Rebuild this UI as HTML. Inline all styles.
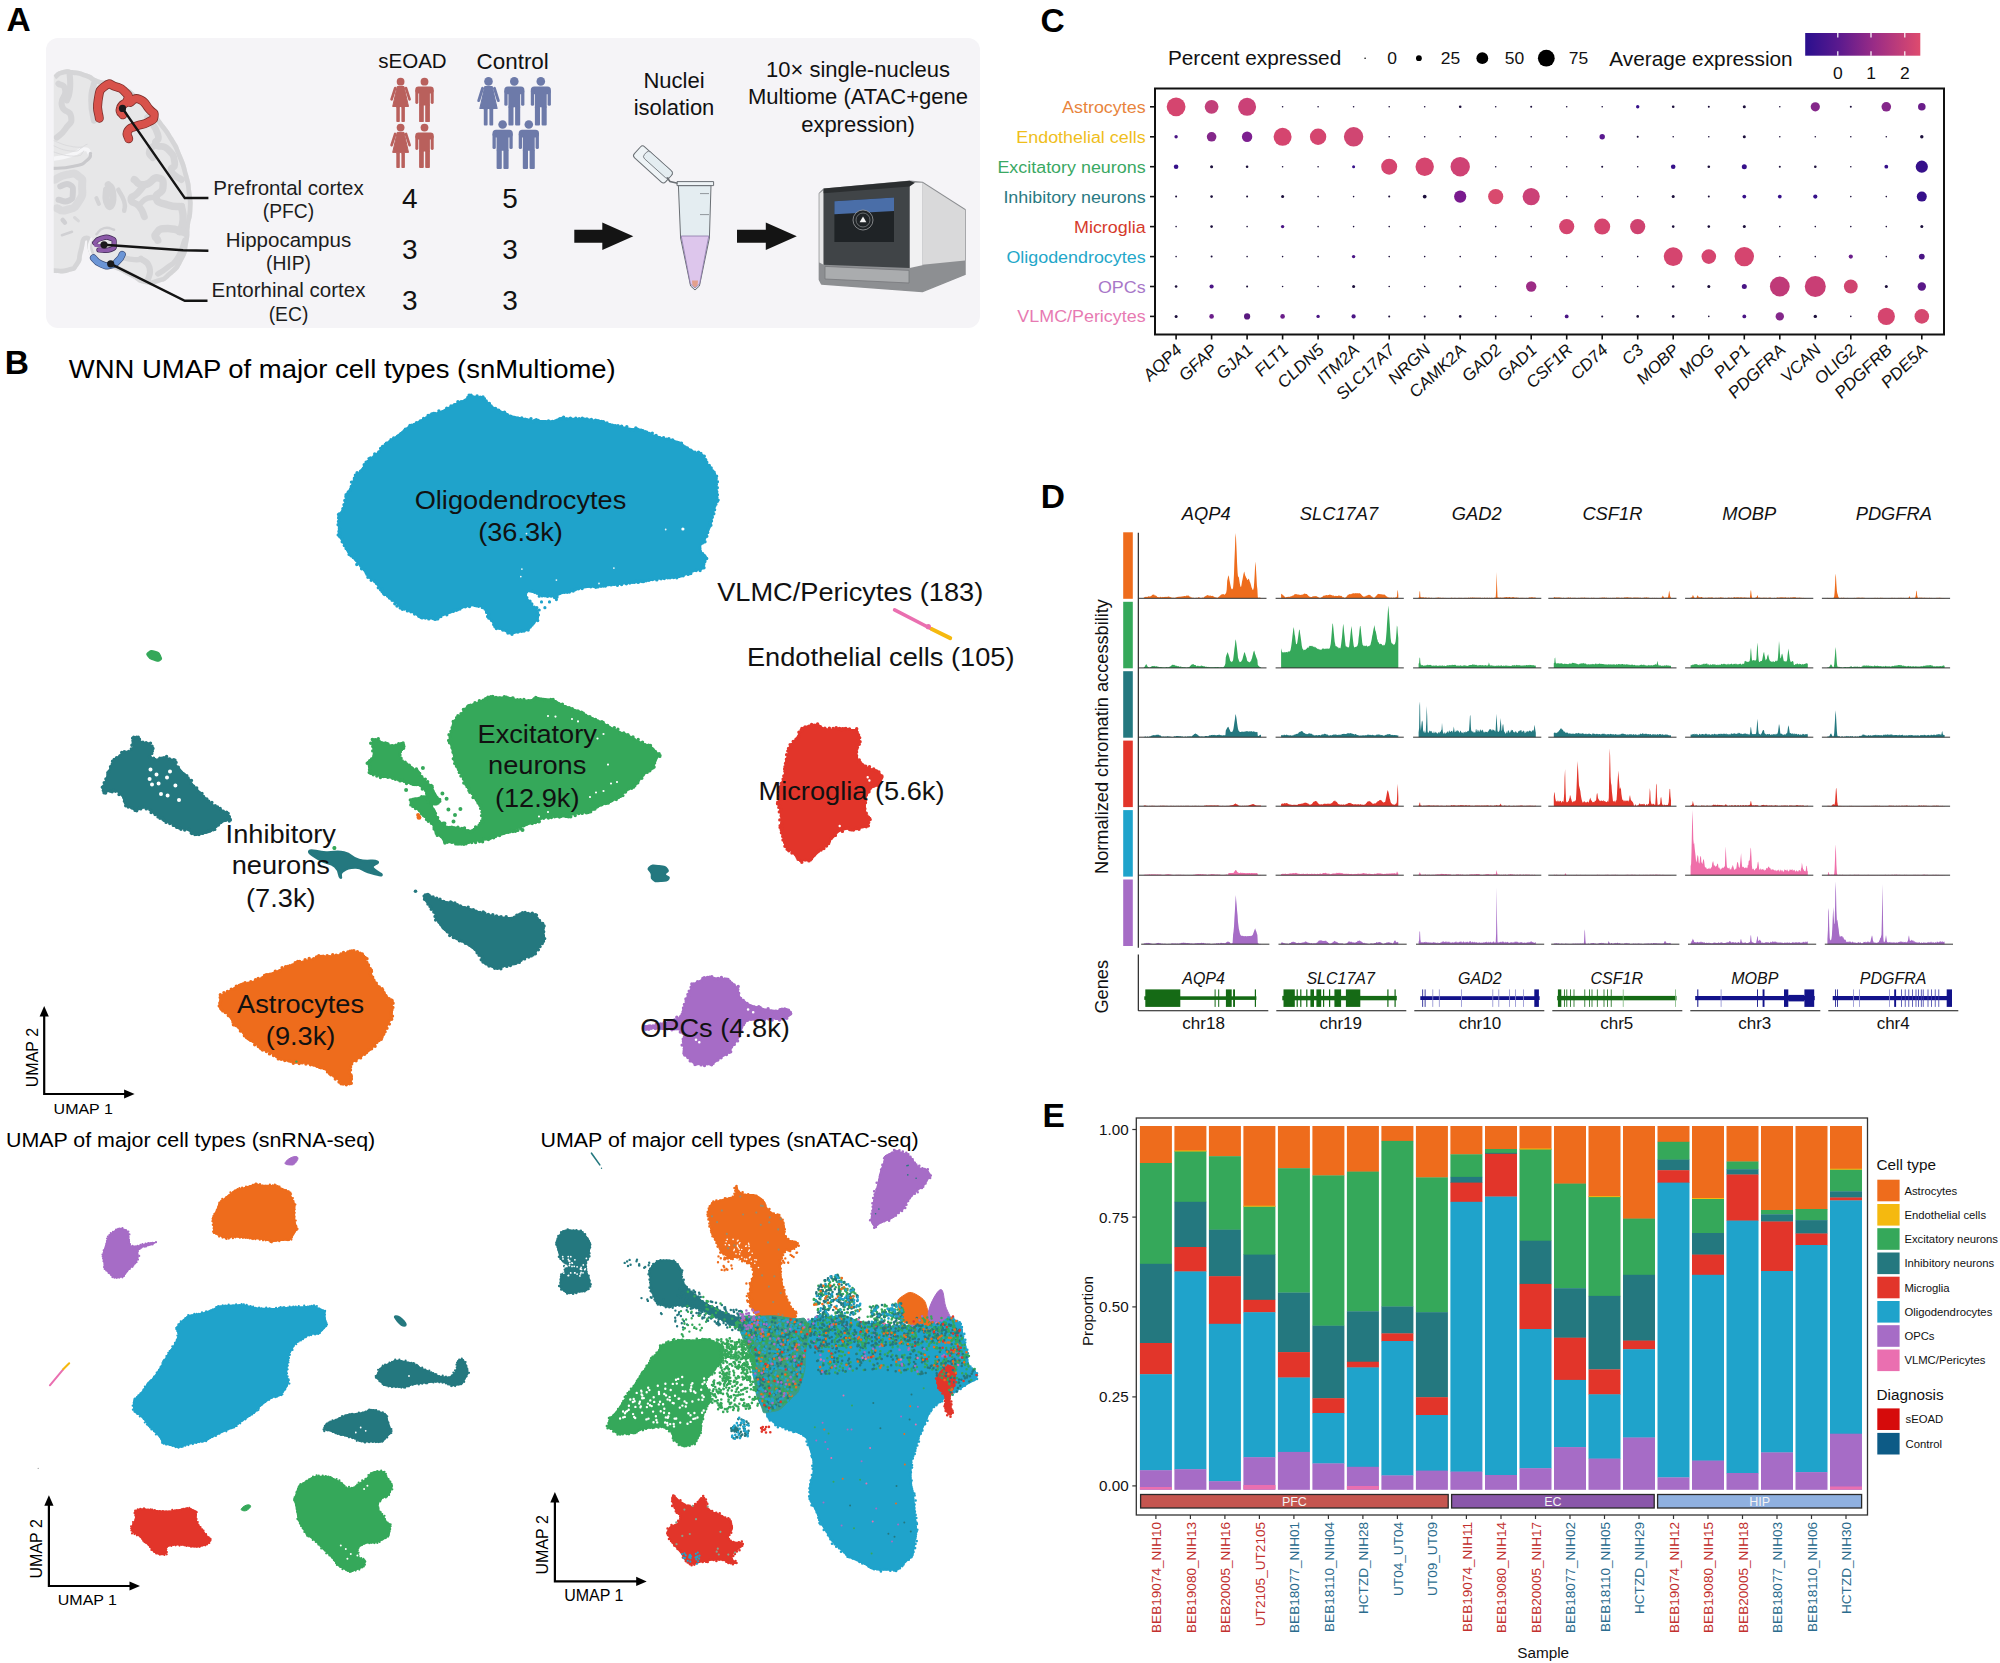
<!DOCTYPE html>
<html><head><meta charset="utf-8"><title>Figure</title>
<style>
html,body{margin:0;padding:0;background:#fff;}
body{width:2000px;height:1663px;overflow:hidden;font-family:"Liberation Sans",sans-serif;}
svg{display:block;font-family:"Liberation Sans",sans-serif;}
</style></head><body>
<svg width="2000" height="1663" viewBox="0 0 2000 1663">
<rect width="2000" height="1663" fill="#fff"/>
<rect x="46" y="38" width="934" height="290" rx="12" fill="#f5f4f7"/><text x="6.4" y="31" font-size="33.5" text-anchor="start" fill="#000" font-weight="bold" font-style="normal" >A</text><clipPath id="brclip"><rect x="53.5" y="60" width="150" height="260"/></clipPath><clipPath id="brshape"><path d="M53.5 75.3C56.3 73.6 55.2 71.9 61.9 70.2C68.6 68.5 65.3 69.1 73.7 70.2C82.1 71.3 78.7 70.5 87.1 73.6C95.6 76.7 91.1 76.9 98.9 79.5C106.8 82 102.3 78.9 110.7 81.1C119.1 83.4 115.2 81.4 124.2 86.2C133.2 91 128.7 88.4 137.6 95.5C146.6 102.5 143.3 98.8 151.1 107.2C159 115.7 153.9 110.6 161.2 120.7C168.5 130.8 166.3 126.3 173 137.5C179.7 148.8 176.4 142 181.4 154.4C186.5 166.7 184.8 161.7 188.1 174.6C191.5 187.5 190.1 181.3 191.5 193.1C192.9 204.9 192.9 198.7 192.4 209.9C191.8 221.2 191.2 215.5 189.8 226.8C188.4 238 190.4 232.4 188.1 243.6C185.9 254.8 188.7 249.8 183.1 260.4C177.5 271.1 179.7 268 171.3 275.6C162.9 283.2 166.8 280.4 157.8 283.2C148.9 286 153.4 286 144.4 284C135.4 282 139.9 281.8 130.9 277.3C121.9 272.8 125.3 273.9 117.4 270.5C109.6 267.2 114.6 269.4 107.3 267.2C100 264.9 101.7 268.9 95.6 263.8C89.4 258.8 91.9 259.9 88.8 252C85.7 244.2 88.3 240.2 86.3 240.2C84.3 240.2 85.5 243.6 82.9 252C80.4 260.4 83.5 258.8 78.7 265.5C74 272.2 77 269.7 68.6 272.2C60.2 274.7 58.5 272.8 53.5 273.1Z"/></clipPath><g clip-path="url(#brclip)"><path d="M53.5 75.3C56.3 73.6 55.2 71.9 61.9 70.2C68.6 68.5 65.3 69.1 73.7 70.2C82.1 71.3 78.7 70.5 87.1 73.6C95.6 76.7 91.1 76.9 98.9 79.5C106.8 82 102.3 78.9 110.7 81.1C119.1 83.4 115.2 81.4 124.2 86.2C133.2 91 128.7 88.4 137.6 95.5C146.6 102.5 143.3 98.8 151.1 107.2C159 115.7 153.9 110.6 161.2 120.7C168.5 130.8 166.3 126.3 173 137.5C179.7 148.8 176.4 142 181.4 154.4C186.5 166.7 184.8 161.7 188.1 174.6C191.5 187.5 190.1 181.3 191.5 193.1C192.9 204.9 192.9 198.7 192.4 209.9C191.8 221.2 191.2 215.5 189.8 226.8C188.4 238 190.4 232.4 188.1 243.6C185.9 254.8 188.7 249.8 183.1 260.4C177.5 271.1 179.7 268 171.3 275.6C162.9 283.2 166.8 280.4 157.8 283.2C148.9 286 153.4 286 144.4 284C135.4 282 139.9 281.8 130.9 277.3C121.9 272.8 125.3 273.9 117.4 270.5C109.6 267.2 114.6 269.4 107.3 267.2C100 264.9 101.7 268.9 95.6 263.8C89.4 258.8 91.9 259.9 88.8 252C85.7 244.2 88.3 240.2 86.3 240.2C84.3 240.2 85.5 243.6 82.9 252C80.4 260.4 83.5 258.8 78.7 265.5C74 272.2 77 269.7 68.6 272.2C60.2 274.7 58.5 272.8 53.5 273.1Z" fill="#e7e7e8"/><g clip-path="url(#brshape)"><path d="M53.5 75.3C56.3 73.6 55.2 71.9 61.9 70.2C68.6 68.5 65.3 69.1 73.7 70.2C82.1 71.3 78.7 70.5 87.1 73.6C95.6 76.7 91.1 76.9 98.9 79.5C106.8 82 102.3 78.9 110.7 81.1C119.1 83.4 115.2 81.4 124.2 86.2C133.2 91 128.7 88.4 137.6 95.5C146.6 102.5 143.3 98.8 151.1 107.2C159 115.7 153.9 110.6 161.2 120.7C168.5 130.8 166.3 126.3 173 137.5C179.7 148.8 176.4 142 181.4 154.4C186.5 166.7 184.8 161.7 188.1 174.6C191.5 187.5 190.1 181.3 191.5 193.1C192.9 204.9 192.9 198.7 192.4 209.9C191.8 221.2 191.2 215.5 189.8 226.8C188.4 238 190.4 232.4 188.1 243.6C185.9 254.8 188.7 249.8 183.1 260.4C177.5 271.1 179.7 268 171.3 275.6C162.9 283.2 166.8 280.4 157.8 283.2C148.9 286 153.4 286 144.4 284C135.4 282 139.9 281.8 130.9 277.3C121.9 272.8 125.3 273.9 117.4 270.5C109.6 267.2 114.6 269.4 107.3 267.2C100 264.9 101.7 268.9 95.6 263.8C89.4 258.8 91.9 259.9 88.8 252C85.7 244.2 88.3 240.2 86.3 240.2C84.3 240.2 85.5 243.6 82.9 252C80.4 260.4 83.5 258.8 78.7 265.5C74 272.2 77 269.7 68.6 272.2C60.2 274.7 58.5 272.8 53.5 273.1" fill="none" stroke="#d5d5d7" stroke-width="9.5"/><path d="M69.5 71.9C69.6 77.5 70.8 79.2 70 88.7C69.1 98.3 67.9 96.6 66.9 100.5" fill="none" stroke="#d5d5d7" stroke-width="6.1" stroke-linecap="round" stroke-linejoin="round"/><path d="M58.5 83.7C60.8 85.9 64.1 83.1 65.3 90.4C66.4 97.7 59.9 96.9 61.9 105.6C63.8 114.3 70 108.6 71.1 116.5C72.3 124.4 70 122.1 65.3 129.1C60.5 136.1 59.6 134.7 56.8 137.5" fill="none" stroke="#d5d5d7" stroke-width="6.1" stroke-linecap="round" stroke-linejoin="round"/><path d="M93.9 83.7C93 89.3 91.3 88.2 91.3 100.5C91.3 112.9 93 114 93.9 120.7" fill="none" stroke="#d5d5d7" stroke-width="6.1" stroke-linecap="round" stroke-linejoin="round"/><path d="M147.7 117.3C151.1 123 155 125.2 157.8 134.2C160.7 143.2 152.8 139.2 156.2 144.3C159.5 149.3 161.8 143.2 167.9 149.3C174.1 155.5 173.6 155.5 174.7 162.8C175.8 170.1 169.1 165.6 171.3 171.2C173.6 176.8 178 176.8 181.4 179.6" fill="none" stroke="#d5d5d7" stroke-width="6.8" stroke-linecap="round" stroke-linejoin="round"/><path d="M156.2 144.3C153.9 146.5 150.5 146.5 149.4 151C148.3 155.5 151.7 155.5 152.8 157.7" fill="none" stroke="#d5d5d7" stroke-width="6.8" stroke-linecap="round" stroke-linejoin="round"/><path d="M134.3 179.6C137.6 181.3 136.5 185.2 144.4 184.7C152.2 184.1 151.7 176.8 157.8 177.9C164 179.1 163.5 181.3 162.9 188C162.3 194.8 154.5 192.5 156.2 198.1C157.8 203.8 159.5 202.1 167.9 204.9C176.4 207.7 176.9 206 181.4 206.6" fill="none" stroke="#d5d5d7" stroke-width="7.4" stroke-linecap="round" stroke-linejoin="round"/><path d="M181.4 206.6C182 211.1 183.7 211.6 183.1 220C182.5 228.5 180.9 227.9 179.7 231.8" fill="none" stroke="#d5d5d7" stroke-width="7.4" stroke-linecap="round" stroke-linejoin="round"/><path d="M144.4 184.7C142.1 187.5 142.1 188 137.6 193.1C133.2 198.1 130.3 195.3 130.9 199.8C131.5 204.3 134.8 201 139.3 206.6C143.8 212.2 142.7 213.3 144.4 216.7" fill="none" stroke="#d5d5d7" stroke-width="6.8" stroke-linecap="round" stroke-linejoin="round"/><path d="M156.2 198.1C153.4 198.1 152.8 196.5 147.7 198.1C142.7 199.8 143.3 201.5 141 203.2" fill="none" stroke="#d5d5d7" stroke-width="5.4" stroke-linecap="round" stroke-linejoin="round"/><path d="M186.5 233.5C180.3 231.8 178 228.5 167.9 228.5C157.8 228.5 159.5 229.6 156.2 233.5C152.8 237.4 157.3 238 157.8 240.2" fill="none" stroke="#d5d5d7" stroke-width="7.4" stroke-linecap="round" stroke-linejoin="round"/><path d="M184.8 240.2C182.5 245.8 183.7 248.1 178 257.1C172.4 266 174.7 261.6 167.9 267.2C161.2 272.8 161.2 271.7 157.8 273.9" fill="none" stroke="#d5d5d7" stroke-width="5.4" stroke-linecap="round" stroke-linejoin="round"/><path d="M141 258.8C143.8 261.6 147.2 259.9 149.4 267.2C151.7 274.5 148.3 276.2 147.7 280.6" fill="none" stroke="#d5d5d7" stroke-width="6.1" stroke-linecap="round" stroke-linejoin="round"/><path d="M120.8 257.1C125.3 257.9 127.5 259 134.3 259.6C141 260.2 138.8 259 141 258.8" fill="none" stroke="#d5d5d7" stroke-width="5.4" stroke-linecap="round" stroke-linejoin="round"/><path d="M50.1 159.4C56.8 158 59.1 158.6 70.3 155.2C81.5 151.9 77.3 149.9 83.8 149.3C90.2 148.8 87.7 152.1 89.7 153.5" fill="none" stroke="#f6f6f8" stroke-width="4.2" stroke-linecap="round" stroke-linejoin="round"/><path d="M50.1 168.7C58 167.8 61.3 169 73.7 166.2C86 163.4 81.5 164.5 87.1 160.3C92.7 156.1 89.4 155.8 90.5 153.5" fill="none" stroke="#c9c9cc" stroke-width="3.2" stroke-linecap="round" stroke-linejoin="round"/><path d="M50.1 144.3C56.8 146.5 59.6 149.9 70.3 151C81 152.1 78.2 148.8 82.1 147.6" fill="none" stroke="#d8d8da" stroke-width="0.8" stroke-linecap="round" stroke-linejoin="round"/><path d="M50.1 139.2C58 141.8 61.3 145.1 73.7 146.8C86 148.5 82.6 145.1 87.1 144.3" fill="none" stroke="#d8d8da" stroke-width="0.8" stroke-linecap="round" stroke-linejoin="round"/><path d="M50.1 151C58 152.7 62.4 156.1 73.7 156.1C84.9 156.1 80.4 152.7 83.8 151" fill="none" stroke="#d8d8da" stroke-width="0.8" stroke-linecap="round" stroke-linejoin="round"/><path d="M55.2 179.6C59.1 177.9 59.1 175.7 66.9 174.6C74.8 173.5 73.7 172.3 78.7 176.3C83.8 180.2 82.1 177.9 82.1 186.4C82.1 194.8 83.8 193.7 78.7 201.5C73.7 209.4 74.2 207.7 66.9 209.9C59.6 212.2 60.2 208.8 56.8 208.2" fill="none" stroke="#dadadc" stroke-width="8" stroke-linecap="round" stroke-linejoin="round"/><path d="M60.2 186.4C63.3 185.8 65.3 182.4 69.5 184.7C73.7 186.9 73.1 187.8 72.8 193.1C72.5 198.4 73.4 198.4 68.6 200.7C63.8 202.9 61.9 200.1 58.5 199.8" fill="none" stroke="#d0d0d3" stroke-width="6" stroke-linecap="round" stroke-linejoin="round"/><path d="M108.2 184.7C109.6 186.9 111.3 184.7 112.4 191.4C113.5 198.1 113.5 201.5 111.5 204.9C109.6 208.2 108.2 206.6 106.5 201.5C104.8 196.5 106.5 193.7 106.5 189.7" fill="none" stroke="#d4d4d6" stroke-width="7" stroke-linecap="round" stroke-linejoin="round"/><path d="M118.3 189.7C120.2 193.7 122.2 194.5 124.2 201.5C126.1 208.5 124.2 207.7 124.2 210.8" fill="none" stroke="#d4d4d6" stroke-width="4.5" stroke-linecap="round" stroke-linejoin="round"/><path d="M96.4 198.1 L98.9 204" fill="none" stroke="#d4d4d6" stroke-width="4" stroke-linecap="round" stroke-linejoin="round"/><path d="M62.7 220 L64.9 222.6" fill="none" stroke="#d0d0d3" stroke-width="4.5" stroke-linecap="round" stroke-linejoin="round"/><path d="M61.9 235.2 L72 231.8" fill="none" stroke="#d0d0d3" stroke-width="2.5" stroke-linecap="round" stroke-linejoin="round"/><path d="M74.5 217.5 L78.4 220.9" fill="none" stroke="#d8d8da" stroke-width="3" stroke-linecap="round" stroke-linejoin="round"/><path d="M96.4 234.3C98.9 232.3 98.1 229.6 104 228.1C109.9 226.6 110.7 229.2 114.1 229.8" fill="none" stroke="#d0d0d3" stroke-width="2.4" stroke-linecap="round" stroke-linejoin="round"/><path d="M91.3 238.6C90.6 242.5 87.8 243 89.2 250.3C90.6 257.6 93.4 257.1 95.6 260.4" fill="none" stroke="#f4f4f6" stroke-width="2.4" stroke-linecap="round" stroke-linejoin="round"/></g></g><path d="M99.3 118.2C98.9 112.3 96.2 111.2 98.1 100.5C99.9 89.8 98.9 90.8 104.8 86.2C110.7 81.6 109 84.7 115.8 86.7C122.5 88.7 121.1 87.8 125 92.1C128.9 96.4 129.1 94.3 127.5 99.7C126 105 122 103 120.5 108.1C118.9 113.1 122 112.6 122.8 114.8" fill="none" stroke="#7c2f2b" stroke-width="9" stroke-linecap="round" stroke-linejoin="round"/><path d="M130.1 102.5C133.2 101.4 132.9 96.9 139.3 99.2C145.8 101.4 144.5 103.6 149.4 109.3C154.4 114.9 154.7 111.6 154.1 116C153.6 120.4 153.8 119 147.7 122.4C141.7 125.8 142.6 123.2 136 126.1C129.3 129 130.3 126.9 127.9 131.1C125.5 135.4 128.4 136.2 128.7 138.7" fill="none" stroke="#7c2f2b" stroke-width="9" stroke-linecap="round" stroke-linejoin="round"/><path d="M99.3 118.2C98.9 112.3 96.2 111.2 98.1 100.5C99.9 89.8 98.9 90.8 104.8 86.2C110.7 81.6 109 84.7 115.8 86.7C122.5 88.7 121.1 87.8 125 92.1C128.9 96.4 129.1 94.3 127.5 99.7C126 105 122 103 120.5 108.1C118.9 113.1 122 112.6 122.8 114.8" fill="none" stroke="#d8524b" stroke-width="7.4" stroke-linecap="round" stroke-linejoin="round"/><path d="M130.1 102.5C133.2 101.4 132.9 96.9 139.3 99.2C145.8 101.4 144.5 103.6 149.4 109.3C154.4 114.9 154.7 111.6 154.1 116C153.6 120.4 153.8 119 147.7 122.4C141.7 125.8 142.6 123.2 136 126.1C129.3 129 130.3 126.9 127.9 131.1C125.5 135.4 128.4 136.2 128.7 138.7" fill="none" stroke="#d8524b" stroke-width="7.4" stroke-linecap="round" stroke-linejoin="round"/><path d="M94.7 242.8C96.7 241.4 95.3 240.1 100.6 238.6C105.9 237 106.2 236.5 110.7 238.2C115.2 239.9 114.1 239.8 114.1 243.6C114.1 247.4 115.8 247.4 110.7 249.5C105.7 251.6 102.9 249.8 98.9 250" fill="none" stroke="#3c2850" stroke-width="5.2" stroke-linecap="round" stroke-linejoin="round"/><path d="M94.7 242.8C96.7 241.4 95.3 240.1 100.6 238.6C105.9 237 106.2 236.5 110.7 238.2C115.2 239.9 114.1 239.8 114.1 243.6C114.1 247.4 115.8 247.4 110.7 249.5C105.7 251.6 102.9 249.8 98.9 250" fill="none" stroke="#8c5aa8" stroke-width="3.8" stroke-linecap="round" stroke-linejoin="round"/><path d="M95.6 245.3 L104 246.1" fill="none" stroke="#8c5aa8" stroke-width="3.4" stroke-linecap="round" stroke-linejoin="round"/><path d="M93.5 257.9C95.9 259.9 94.9 261.4 100.6 263.8C106.3 266.2 104.8 266.3 110.7 265.2C116.6 264 114.5 264 118.3 260.4C122.1 256.9 120.9 256.5 122.2 254.5" fill="none" stroke="#3c4f7a" stroke-width="7.2" stroke-linecap="round" stroke-linejoin="round"/><path d="M93.5 257.9C95.9 259.9 94.9 261.4 100.6 263.8C106.3 266.2 104.8 266.3 110.7 265.2C116.6 264 114.5 264 118.3 260.4C122.1 256.9 120.9 256.5 122.2 254.5" fill="none" stroke="#6b95d6" stroke-width="5.8" stroke-linecap="round" stroke-linejoin="round"/><path d="M122.5 108.4L184.8 198.1L208.4 198.1" fill="none" stroke="#141414" stroke-width="2.5" stroke-linejoin="miter"/><path d="M104 244.8L183.1 250.3L208.4 250.7" fill="none" stroke="#141414" stroke-width="2.5" stroke-linejoin="miter"/><path d="M110.7 263.8L184.8 300.8L207.5 300.8" fill="none" stroke="#141414" stroke-width="2.5" stroke-linejoin="miter"/><circle cx="122.5" cy="108.4" r="3.6" fill="#1a1a1c"/><circle cx="104" cy="244.8" r="3.6" fill="#1a1a1c"/><circle cx="110.7" cy="263.8" r="3.6" fill="#1a1a1c"/><text x="288.5" y="194.8" font-size="20.5" text-anchor="middle" fill="#1c1c1c" font-weight="normal" font-style="normal" >Prefrontal cortex</text><text x="288.5" y="217.9" font-size="19.3" text-anchor="middle" fill="#1c1c1c" font-weight="normal" font-style="normal" >(PFC)</text><text x="288.5" y="246.8" font-size="20.5" text-anchor="middle" fill="#1c1c1c" font-weight="normal" font-style="normal" >Hippocampus</text><text x="288.5" y="269.9" font-size="19.3" text-anchor="middle" fill="#1c1c1c" font-weight="normal" font-style="normal" >(HIP)</text><text x="288.5" y="297.3" font-size="20.5" text-anchor="middle" fill="#1c1c1c" font-weight="normal" font-style="normal" >Entorhinal cortex</text><text x="288.5" y="320.9" font-size="19.3" text-anchor="middle" fill="#1c1c1c" font-weight="normal" font-style="normal" >(EC)</text><text x="412.5" y="67.9" font-size="20.5" text-anchor="middle" fill="#111" font-weight="normal" font-style="normal" >sEOAD</text><text x="512.7" y="68.6" font-size="22.4" text-anchor="middle" fill="#111" font-weight="normal" font-style="normal" >Control</text><text x="409.7" y="208" font-size="28" text-anchor="middle" fill="#111" font-weight="normal" font-style="normal" >4</text><text x="510" y="208" font-size="28" text-anchor="middle" fill="#111" font-weight="normal" font-style="normal" >5</text><text x="409.7" y="259" font-size="28" text-anchor="middle" fill="#111" font-weight="normal" font-style="normal" >3</text><text x="510" y="259" font-size="28" text-anchor="middle" fill="#111" font-weight="normal" font-style="normal" >3</text><text x="409.7" y="310" font-size="28" text-anchor="middle" fill="#111" font-weight="normal" font-style="normal" >3</text><text x="510" y="310" font-size="28" text-anchor="middle" fill="#111" font-weight="normal" font-style="normal" >3</text><g fill="#b9605c"><circle cx="400.6" cy="81.7" r="3.9"/><path d="M397.2 86.5L404 86.5L408.5 106.5L392.7 106.5Z" stroke="#b9605c" stroke-width="1" stroke-linejoin="round"/><path d="M395.2 88.1L391.6 99.3" stroke="#b9605c" stroke-width="2.7" stroke-linecap="round" fill="none"/><path d="M406 88.1L409.6 99.3" stroke="#b9605c" stroke-width="2.7" stroke-linecap="round" fill="none"/><rect x="396.3" y="106.5" width="3.5" height="15.6" rx="0.8"/><rect x="401.4" y="106.5" width="3.5" height="15.6" rx="0.8"/></g><g fill="#b9605c"><circle cx="424.5" cy="81.7" r="3.9"/><rect x="415.3" y="86.5" width="18.4" height="7" rx="3.2"/><rect x="415.3" y="89.5" width="3" height="14.5" rx="1.4"/><rect x="430.7" y="89.5" width="3" height="14.5" rx="1.4"/><rect x="419.1" y="87" width="10.8" height="18.5" rx="0.5"/><rect x="419.1" y="104.5" width="4.7" height="17.6" rx="0.9"/><rect x="425.2" y="104.5" width="4.7" height="17.6" rx="0.9"/></g><g fill="#b9605c"><circle cx="400.6" cy="127.6" r="3.9"/><path d="M397.2 132.4L404 132.4L408.5 152.4L392.7 152.4Z" stroke="#b9605c" stroke-width="1" stroke-linejoin="round"/><path d="M395.2 134L391.6 145.2" stroke="#b9605c" stroke-width="2.7" stroke-linecap="round" fill="none"/><path d="M406 134L409.6 145.2" stroke="#b9605c" stroke-width="2.7" stroke-linecap="round" fill="none"/><rect x="396.3" y="152.4" width="3.5" height="15.6" rx="0.8"/><rect x="401.4" y="152.4" width="3.5" height="15.6" rx="0.8"/></g><g fill="#b9605c"><circle cx="424.5" cy="127.6" r="3.9"/><rect x="415.3" y="132.4" width="18.4" height="7" rx="3.2"/><rect x="415.3" y="135.4" width="3" height="14.5" rx="1.4"/><rect x="430.7" y="135.4" width="3" height="14.5" rx="1.4"/><rect x="419.1" y="132.9" width="10.8" height="18.5" rx="0.5"/><rect x="419.1" y="150.4" width="4.7" height="17.6" rx="0.9"/><rect x="425.2" y="150.4" width="4.7" height="17.6" rx="0.9"/></g><g fill="#6d7aa9"><circle cx="488.5" cy="81.4" r="4.3"/><path d="M484.8 86.6L492.2 86.6L497.1 108.4L479.9 108.4Z" stroke="#6d7aa9" stroke-width="1.1" stroke-linejoin="round"/><path d="M482.6 88.3L478.7 100.6" stroke="#6d7aa9" stroke-width="2.9" stroke-linecap="round" fill="none"/><path d="M494.4 88.3L498.3 100.6" stroke="#6d7aa9" stroke-width="2.9" stroke-linecap="round" fill="none"/><rect x="483.8" y="108.4" width="3.8" height="17" rx="0.9"/><rect x="489.4" y="108.4" width="3.8" height="17" rx="0.9"/></g><g fill="#6d7aa9"><circle cx="514.3" cy="81.4" r="4.3"/><rect x="504.3" y="86.6" width="20.1" height="7.6" rx="3.5"/><rect x="504.3" y="89.9" width="3.3" height="15.8" rx="1.5"/><rect x="521.1" y="89.9" width="3.3" height="15.8" rx="1.5"/><rect x="508.4" y="87.1" width="11.8" height="20.2" rx="0.5"/><rect x="508.4" y="106.2" width="5.1" height="19.2" rx="1"/><rect x="515.1" y="106.2" width="5.1" height="19.2" rx="1"/></g><g fill="#6d7aa9"><circle cx="540.8" cy="81.4" r="4.3"/><rect x="530.8" y="86.6" width="20.1" height="7.6" rx="3.5"/><rect x="530.8" y="89.9" width="3.3" height="15.8" rx="1.5"/><rect x="547.6" y="89.9" width="3.3" height="15.8" rx="1.5"/><rect x="534.9" y="87.1" width="11.8" height="20.2" rx="0.5"/><rect x="534.9" y="106.2" width="5.1" height="19.2" rx="1"/><rect x="541.6" y="106.2" width="5.1" height="19.2" rx="1"/></g><g fill="#6d7aa9"><circle cx="502.6" cy="124.5" r="4.3"/><rect x="492.5" y="129.8" width="20.3" height="7.7" rx="3.5"/><rect x="492.5" y="133.1" width="3.3" height="16" rx="1.5"/><rect x="509.4" y="133.1" width="3.3" height="16" rx="1.5"/><rect x="496.6" y="130.3" width="11.9" height="20.4" rx="0.6"/><rect x="496.6" y="149.6" width="5.2" height="19.4" rx="1"/><rect x="503.4" y="149.6" width="5.2" height="19.4" rx="1"/></g><g fill="#6d7aa9"><circle cx="528.8" cy="124.5" r="4.3"/><rect x="518.7" y="129.8" width="20.3" height="7.7" rx="3.5"/><rect x="518.7" y="133.1" width="3.3" height="16" rx="1.5"/><rect x="535.6" y="133.1" width="3.3" height="16" rx="1.5"/><rect x="522.8" y="130.3" width="11.9" height="20.4" rx="0.6"/><rect x="522.8" y="149.6" width="5.2" height="19.4" rx="1"/><rect x="529.6" y="149.6" width="5.2" height="19.4" rx="1"/></g><path d="M574.3 229.8L602.3 229.8L602.3 222.6L633.3 236.3L602.3 250.1L602.3 242.8L574.3 242.8Z" fill="#141414"/><path d="M737 229.8L765.8 229.8L765.8 222.6L796.8 236.3L765.8 250.1L765.8 242.8L737 242.8Z" fill="#141414"/><text x="674" y="87.9" font-size="22" text-anchor="middle" fill="#111" font-weight="normal" font-style="normal" >Nuclei</text><text x="674" y="115.4" font-size="22" text-anchor="middle" fill="#111" font-weight="normal" font-style="normal" >isolation</text><text x="858" y="76.7" font-size="22" text-anchor="middle" fill="#111" font-weight="normal" font-style="normal" >10× single-nucleus</text><text x="858" y="104.2" font-size="22" text-anchor="middle" fill="#111" font-weight="normal" font-style="normal" >Multiome (ATAC+gene</text><text x="858" y="131.7" font-size="22" text-anchor="middle" fill="#111" font-weight="normal" font-style="normal" >expression)</text><path d="M678.4 185.6L711 185.6L709.4 238L699.4 286L695 290L690.6 286L680.6 238Z" fill="#e4edf1" stroke="#6a6f74" stroke-width="1" stroke-linejoin="round"/><path d="M681.2 236L708.8 236L699.6 284L695 288L690.4 284Z" fill="#ddc6ec" stroke="#8a76a8" stroke-width="0.8" stroke-linejoin="round"/><path d="M692 280.4L698 280.4L697.6 285L695 287.6L692.4 285Z" fill="#e2a08c"/><path d="M677 181.6L713.6 181.6L713.6 185.6L677 185.6Z" fill="#eef3f6" stroke="#6a6f74" stroke-width="1"/><path d="M700 193.6L709 193.6" stroke="#7a7f84" stroke-width="0.8"/><path d="M700 214.6L709 214.6" stroke="#7a7f84" stroke-width="0.8"/><g transform="translate(653 164.4) rotate(42)"><rect x="-21" y="-7.5" width="42" height="15" rx="3" fill="#eef3f6" stroke="#6a6f74" stroke-width="1"/><rect x="-13" y="-7.5" width="34" height="9" rx="3" fill="#e4edf1" stroke="#6a6f74" stroke-width="0.8"/></g><path d="M667 177.6L670 181.6L677.6 183.2" fill="none" stroke="#6a6f74" stroke-width="1.6"/><path d="M819.4 193.6L823.6 189.2L910 181.2L922.4 182.4L965 209.6L965 274.4L922.4 291.6L821.6 284L819.4 279.6Z" fill="#8d8f92" stroke="#8d8f92" stroke-width="1.5" stroke-linejoin="round"/><path d="M922.4 182.8L965 210L965 260.4L922.4 264.8Z" fill="#d9d9da" /><path d="M909.6 182.4L922.4 182.8L922.4 265.2L909.6 268Z" fill="#f1f1f2" /><path d="M819.4 193.6L823.6 190L823.6 264.8L819.4 262.4Z" fill="#e6e6e7" /><path d="M823.6 190L909.6 183.6L909.6 268L823.6 264.8Z" fill="#404447" /><path d="M823.6 188.4L909.6 180.8L915 182.8L909.6 186.4L823.6 193.2Z" fill="#2b2e30" /><path d="M825 266.4L909 270.4L909 283L825 279Z" fill="#aaacae" stroke="#77797c" stroke-width="0.8"/><path d="M834.4 201.2L894 197.6L894 242L834.4 242Z" fill="#1f2326" /><path d="M834.4 201.2L894 197.6L894 211L834.4 214.2Z" fill="#4a6ea8" /><circle cx="863" cy="220" r="10" fill="#1f2326" stroke="#9a9da0" stroke-width="0.8"/><circle cx="863" cy="220" r="7" fill="none" stroke="#9a9da0" stroke-width="0.6"/><path d="M863 216.6l3.4 5.6h-6.8z" fill="#f2f2f2"/>
<text x="4.8" y="374.2" font-size="33.5" text-anchor="start" fill="#000" font-weight="bold" font-style="normal" >B</text><text transform="translate(68.8 368.8) scale(1 0.935)" y="9.8" font-size="27.45" text-anchor="start" fill="#000" font-weight="normal" font-style="normal" >WNN UMAP of major cell types (snMultiome)</text><path d="M477.1 396.1C488.6 398.4 481.7 400.7 495.5 407.6C509.3 414.5 500.9 412.6 518.5 416.8C536.1 421 529.2 419.9 548.4 420.2C567.6 420.6 551.5 416 576 417.9C600.5 419.9 595.2 420.2 622 426C648.8 431.7 633.5 427.5 656.5 435.2C679.5 442.9 673.4 439 691 449C708.6 459 700.6 452.1 709.4 465.1C718.2 478.1 715.9 472 717.4 488.1C719 504.2 717.4 497.3 714 513.4C710.5 529.5 711.3 524.9 707.1 536.4C702.9 547.9 701.7 539.5 701.3 547.9C701 556.3 709.4 553.3 705.9 561.7C702.5 570.1 707.5 567.1 691 573.2C674.5 579.3 679.5 576.3 656.5 580.1C633.5 583.9 645 582 622 584.7C599 587.4 606.7 585.2 587.5 588.1C568.3 591.1 576.8 590.4 564.5 593.4C552.2 596.5 561.4 597.6 550.7 597.3C540 597.1 540.3 593.7 532.3 592.7C524.2 591.7 526.5 590.5 526.5 594.4C526.5 598.2 528.5 598.3 532.3 604.2C536.1 610.2 537.3 605.8 538 612.3C538.8 618.8 541.1 616.9 534.6 623.8C528.1 630.7 529.2 630.7 518.5 633C507.8 635.3 511.6 634.5 502.4 630.7C493.2 626.9 497.8 629.2 490.9 621.5C484 613.8 490.1 612.3 481.7 607.7C473.3 603.1 477.1 605.4 465.6 607.7C454.1 610 459.5 610.8 447.2 614.6C434.9 618.4 441.1 620 428.8 619.2C416.5 618.4 422.7 618.4 410.4 612.3C398.1 606.2 403.5 610 392 600.8C380.5 591.6 387.4 597 375.9 584.7C364.4 572.4 368.2 577 357.5 564C346.8 551 350.2 558.6 343.7 545.6C337.2 532.6 337.9 538.7 337.9 524.9C337.9 511.1 339.5 517.2 343.7 504.2C347.9 491.2 344.5 498.1 350.6 485.8C356.7 473.5 352.9 478.9 362.1 467.4C371.3 455.9 366.7 462 378.2 451.3C389.7 440.6 382.8 445.5 396.6 435.2C410.4 424.8 404.3 428.7 419.6 420.2C434.9 411.8 428.8 416.4 442.6 409.9C456.4 403.4 449.5 405.3 461 400.7C472.5 396.1 465.6 393.8 477.1 396.1Z" fill="#1fa3cb" /><path d="M477.1 396h0M480.2 397.2h0M483 397h0M484.4 398.6h0M484 400.6h0M486.2 401h0M486.9 402.7h0M489.4 403.4h0M491.1 406h0M495.5 408.5h0M498.7 410.1h0M500.4 412.1h0M501.7 412.4h0M504.5 412.3h0M504.5 413.7h0M505.8 413.9h0M507.4 414.8h0M508.8 416.4h0M510.6 416.3h0M514.3 417.4h0M518 418.2h0M521.8 418h0M525.2 419.3h0M527 419.8h0M529.5 419.9h0M531 418.8h0M531.9 421.3h0M533.4 422.1h0M534.5 420.4h0M536.3 419.6h0M538.3 420.5h0M541 422h0M544.3 421.6h0M548.5 421h0M552.6 421.4h0M555.4 420.9h0M557.1 420.3h0M558.9 419.5h0M559.8 418.8h0M560.7 418.8h0M561.3 419.1h0M562.4 418.3h0M563.6 417.3h0M566.5 419h0M570.4 418.3h0M575.8 418.2h0M579.2 418.6h0M582.3 418.3h0M584.6 419.2h0M586.9 418.9h0M588.8 420h0M591.4 419.5h0M592.3 420.8h0M594.7 420.7h0M595.6 420.1h0M597.7 420.7h0M598.7 420.9h0M600.4 421.7h0M601.7 421.5h0M603.4 421.8h0M605.2 423.1h0M607 423h0M609.9 424.6h0M612.4 425.1h0M615.2 425.8h0M618 425.7h0M621.6 426.1h0M626.8 426.6h0M630.1 429.6h0M633.3 429.8h0M635.8 428h0M637.4 429.3h0M639 429.9h0M639.4 430.3h0M640.8 430.3h0M641.6 430.4h0M642.9 430.7h0M643.6 431.5h0M645.2 431.7h0M646.8 432.1h0M649.3 433.5h0M652.3 433.1h0M656.1 435.5h0M659.6 437.8h0M663.6 437.6h0M666.5 439.2h0M668.9 438.7h0M671.1 440.4h0M672.6 439.9h0M674.4 441.4h0M675.5 442.3h0M676.9 442.2h0M678.4 442.6h0M679.8 443.2h0M681.5 443.3h0M683 445.8h0M685 446.9h0M687.3 448h0M690.9 450.1h0M695 452.2h0M698.5 452.3h0M700.9 453.5h0M701.8 455.1h0M702.7 455.9h0M704.3 456.2h0M703.8 457.8h0M703.5 459h0M705.7 459.7h0M706.8 462.2h0M709.3 465.5h0M711.2 468h0M712.7 470.9h0M714.1 472.3h0M714.5 473.9h0M714.3 475.8h0M716.6 476.3h0M715.6 477.5h0M716.2 478.8h0M717.4 481.7h0M716.4 484.5h0M717.3 487.8h0M716.8 491.7h0M717.4 494.7h0M716.9 497.4h0M716.9 498.4h0M718.1 500.1h0M717.4 501.2h0M715.5 502.9h0M715.9 504.2h0M714.7 506.3h0M714.6 509.8h0M713.8 513.8h0M712.3 517.3h0M711.5 521.1h0M710.2 522.6h0M710.9 525.3h0M709.9 525.9h0M708.9 527.4h0M708.4 528.6h0M707.7 530.5h0M707.7 532.6h0M706.8 536.3h0M705 541.7h0M703.2 542.3h0M702.4 543h0M700.7 543.8h0M699.7 548.2h0M700.5 551.8h0M702.7 553.7h0M704.5 555.8h0M705.2 556.6h0M706.7 558.5h0M704.9 561.6h0M703.8 564.5h0M703.2 566.3h0M704 567.7h0M702.9 567.8h0M701.6 568.3h0M700.1 570.6h0M696.2 570.5h0M690.8 573.5h0M688.1 574.4h0M684.9 573.9h0M683.2 575.8h0M681.7 575.8h0M679.4 576.4h0M678.3 575.7h0M676.8 577.7h0M675.5 576.4h0M673.7 577.6h0M672 577h0M670.1 577.7h0M667.6 577.7h0M664.3 578.6h0M661.1 578.7h0M656.8 579.9h0M652.4 579.5h0M648.9 580.2h0M646.1 580.8h0M643.6 581.5h0M642.2 581.6h0M641.2 580.7h0M639.8 581.1h0M638.4 582.2h0M637.8 582.2h0M636.1 581.4h0M634.3 582.4h0M632.3 582.3h0M629.8 583h0M626.4 583.7h0M621.6 584.5h0M617.4 585.2h0M614.2 584.4h0M611.1 584.9h0M608.9 584.5h0M607.2 584.5h0M605.4 586h0M603.5 586h0M602.2 585.1h0M601 586.2h0M599.5 585.7h0M597.9 586.9h0M595.8 587.2h0M594 586.4h0M590.8 586.8h0M587 586.2h0M582.1 588.5h0M578.5 588.8h0M575.9 589.2h0M575 589.7h0M573.2 591h0M571.9 589.9h0M571.4 590.6h0M569.4 592h0M567.2 592.3h0M564.6 592.2h0M559.4 593.6h0M557.5 594.1h0M557 596.9h0M556.2 597.7h0M554.5 597.4h0M551.1 596h0M547.5 596.3h0M545 595.8h0M542.1 595.9h0M540.5 594.5h0M539.4 593.8h0M537.2 593.2h0M534.7 592.2h0M532.7 591.2h0M526.7 591.9h0M525.5 594.4h0M525.6 596.5h0M526.8 597.8h0M527 600.3h0M530 601.3h0M531.8 603.9h0M534.2 607.3h0M536.8 607.8h0M536.6 609.7h0M537.5 612.5h0M538.4 614.9h0M537.4 616.8h0M537.1 618.4h0M537.7 620.5h0M533.7 623h0M532 625.1h0M530.2 626.9h0M528.7 628.4h0M528.2 630.1h0M525.7 629.7h0M524 631.1h0M521.7 631.3h0M518 632h0M514.2 632.1h0M512 634.2h0M510.9 633.1h0M509.9 632.8h0M507.9 633.1h0M506.7 630.8h0M502.8 630.1h0M499.2 628.3h0M496.4 628.6h0M495.9 627.6h0M494.8 626.4h0M493.7 624.5h0M491.6 620.4h0M488.7 618h0M487.6 616.5h0M489.1 614.3h0M486.6 612.4h0M486.4 610.8h0M485 609.1h0M482.3 607.6h0M478.6 606.3h0M476.3 605.7h0M475.1 603.9h0M474.4 605.3h0M472.1 604.8h0M469.5 606.6h0M465.3 606.8h0M461.4 607.6h0M459.9 609.1h0M457.5 609.7h0M456.4 610.2h0M454.5 609.9h0M453.4 611.2h0M450.6 611.8h0M446.8 614.8h0M443.3 614.5h0M440.9 616.5h0M438.7 617.2h0M437.7 618.9h0M436.4 617.4h0M435.1 619.4h0M433.1 618.5h0M428.8 618.9h0M425.4 618h0M422.1 617.9h0M421 617.4h0M420.5 616.4h0M418.8 616.2h0M418 614.8h0M414.6 614.1h0M410.9 611.8h0M407.4 610.9h0M404.4 609h0M402.4 609.3h0M401 608h0M400.2 607.9h0M400.1 605.8h0M397 606.1h0M394.8 603.7h0M392.1 600.3h0M389.5 598.1h0M387.6 596.1h0M386.4 594.5h0M384.7 594.6h0M384.2 594.3h0M383.4 593.3h0M382.1 591.5h0M381.9 588.7h0M378.3 587.8h0M376.6 583.4h0M374.9 581.4h0M371.2 580.2h0M370.3 577.5h0M367.9 577.3h0M368.3 574.8h0M366.9 574.2h0M366.2 572.8h0M366 571.1h0M364.8 569.6h0M361.6 568.7h0M361.1 566.2h0M356.8 564.5h0M356.1 560h0M353.3 557.5h0M351.4 555.9h0M350.3 555.1h0M349.1 554.4h0M349.4 553.9h0M349 551.9h0M347.8 550.1h0M346.1 548.5h0M344.3 545.6h0M342.2 541.7h0M342.1 538.7h0M339.8 536.8h0M339.4 536.2h0M338.2 534.9h0M339.5 533.1h0M339 531.5h0M339.5 528.7h0M338.1 524.8h0M338.5 521.4h0M338.6 518h0M338.9 516h0M338.5 514.5h0M339.2 513.9h0M341.2 512.9h0M342.9 511h0M342.9 508.6h0M344 504.7h0M344.8 500.5h0M346.1 497.3h0M345.9 496.3h0M346.1 494.6h0M347.3 493.9h0M348.3 492h0M350.4 489.9h0M351.3 486.5h0M351.5 482.1h0M354.2 480.4h0M354.4 478.3h0M355.8 477.4h0M355.4 475.1h0M357.6 475.5h0M357.1 472.7h0M360.6 471.3h0M363.5 468.4h0M364.2 464.8h0M366.1 462.3h0M367.9 461.5h0M369.6 460.5h0M369 458.6h0M370.5 458h0M372.6 457.9h0M373.9 456.8h0M374.7 454h0M378.8 451.9h0M380.6 448.4h0M382.6 446.5h0M384.9 445.7h0M385.3 444.4h0M386.4 443.2h0M387.7 443.1h0M388.5 442.8h0M389.8 441.4h0M391 439.6h0M393.7 437.9h0M397.7 436.1h0M400.9 433.8h0M403 432.1h0M404.3 430.8h0M405.4 429.2h0M407.2 428.9h0M408.2 428.1h0M409.3 426.7h0M410 425.4h0M411.9 425.2h0M414.3 424.5h0M416.5 422.6h0M420.3 421h0M423.6 418.5h0M426.6 417.6h0M428.1 415.4h0M429.9 415.9h0M431 414.6h0M431.7 413.9h0M433.4 413.4h0M434.9 413.4h0M437.3 413.7h0M438.9 410.9h0M442.9 411.7h0M446.7 408.3h0M449.6 408.1h0M451 405.9h0M453.3 406.5h0M453.5 405.7h0M454.4 404.6h0M456.1 404.7h0M457.9 401.7h0M461.1 401.6h0M465.4 400.1h0M467.8 397.5h0M469.1 396.7h0M469.1 395.3h0M471.1 395.2h0M473.3 397.2h0" stroke="#1fa3cb" stroke-width="3.4" stroke-linecap="round" fill="none"/><path d="M539.2 596.2h0M547.2 593.9h0M541.5 601.9h0M549.5 601.9h0M556.4 599.6h0M539.2 610h0M544.9 607.7h0M536.9 614.6h0M380.5 589.8h0" stroke="#1fa3cb" stroke-width="3.2" stroke-linecap="round" fill="none"/><path d="M682.9 529h0M665.7 529.5h0M526.5 533.6h0M521.9 569.1h0M556.4 580.1h0M599 583.5h0M520.8 576.6h0M613.9 568.1h0" stroke="#eaf6fa" stroke-width="1.8" stroke-linecap="round" fill="none"/><path d="M682.9 529h0" stroke="#ffffff" stroke-width="3.2" stroke-linecap="round" fill="none"/><path d="M134 737C138 734.5 137 738.5 143 741.5C149 744.5 148.5 740.5 152 746C155.5 751.5 147.5 754 153.5 758C159.5 762 161.5 755 170 758C178.5 761 170 757 179 767C188 777 186 776 197 788C208 800 201 793.5 212 803C223 812.5 227 809.5 230 816.5C233 823.5 230 818 221 824C212 830 215 832.5 203 834.5C191 836.5 196 833.5 185 830C174 826.5 180 829 170 824C160 819 163 820 155 815C147 810 154 811 146 809C138 807 140 814 131 809C122 804 126 799.5 119 794C112 788.5 115.5 793.5 110 792.5C104.5 791.5 104 795.5 102.5 791C101 786.5 103 787 105.5 779C108 771 105.5 775 110 767C114.5 759 112 761 119 755C126 749 126 755 131 749C136 743 130 739.5 134 737Z" fill="#24787f" /><path d="M133.7 737.3h0M136.6 737.1h0M138.3 737.3h0M139.5 739.3h0M142.9 742.2h0M146.1 742.7h0M147.8 743.7h0M150.5 743.1h0M152.1 746.3h0M153 748.5h0M152.4 751.1h0M151.8 753.5h0M149.5 756.7h0M153.6 758.2h0M155.4 759.7h0M158.3 759.6h0M159.8 758.3h0M162 758.2h0M164 757.7h0M166.6 756.5h0M169.6 759h0M173.2 760.1h0M173.7 759.8h0M175 760.2h0M176.1 762.4h0M178.3 767.2h0M179.4 770.3h0M181 772.3h0M183.4 773.6h0M184.4 774.5h0M186.8 775.6h0M185.7 777.8h0M188.1 777.9h0M188.9 779.7h0M191.5 780.4h0M191 783.6h0M193.7 786.3h0M196.7 788h0M199.3 792.5h0M202 793.5h0M202.1 796.3h0M203.5 796.5h0M203.8 797.2h0M204.7 798.4h0M206.8 798.9h0M208.7 801.2h0M211.9 802.5h0M215.2 805.6h0M217.5 807h0M220.2 808.5h0M221.7 811h0M223.3 811.3h0M224.8 812.7h0M226.5 812.1h0M228.2 813.4h0M227.7 815.5h0M229.4 816.7h0M230.3 819.4h0M230.4 820.1h0M229.3 821.1h0M225.8 820.3h0M220.8 822.6h0M218.4 825h0M216 826.4h0M214.8 829.4h0M213.3 829.8h0M211.3 829.6h0M210.1 830.7h0M208.3 831.1h0M205.9 832.1h0M202.5 833.4h0M199 834.5h0M196.8 834.3h0M194.9 834.6h0M194.6 833.3h0M191.9 833.5h0M191.2 833h0M189.1 829.5h0M184.7 830h0M181 829.2h0M179.4 828h0M177.5 827.2h0M176.6 827.2h0M175.5 825.7h0M173.3 825.4h0M169.8 823.6h0M166.1 822.4h0M164.1 820.4h0M163 819.4h0M161.8 817.7h0M160 818.2h0M158 816.9h0M155.1 814.6h0M151.1 812.6h0M150.9 810.5h0M149.8 809.6h0M146.3 808.9h0M142.4 807h0M140.7 808.9h0M138.8 808.4h0M136.7 810.7h0M135.1 810.4h0M132 807.9h0M128.2 807h0M125.7 805.8h0M125.4 803h0M124.4 801.2h0M124.5 799.3h0M123.7 797.5h0M122.2 794.8h0M119 794.5h0M115.5 791.2h0M113.5 790.3h0M112.2 791.7h0M110.3 791h0M105.6 793h0M104 792.8h0M103.3 790.4h0M103.4 788.5h0M102.3 787.3h0M103.6 786.2h0M104.2 782.7h0M105.9 779h0M108.2 775.8h0M107.9 774h0M107.8 772.6h0M108.9 771.4h0M110.5 766.7h0M112.2 764.2h0M112.5 761.3h0M114.2 760.2h0M114.2 759.4h0M116.6 757.6h0M119.9 755.9h0M121.7 752.5h0M124.3 751.6h0M125.9 752.2h0M127.7 752.5h0M128.6 751.4h0M131.3 749h0M131.9 745.2h0M133.1 743h0M132.9 740.7h0M132.6 738.2h0" stroke="#24787f" stroke-width="3.4" stroke-linecap="round" fill="none"/><path d="M150.5 769.4h0M156.5 774.5h0M149.6 779h0M158.6 783.5h0M167 777.5h0M175.4 785.6h0M170 771.5h0M161 794h0M167.6 795.5h0M179 800h0M152 784.4h0" stroke="#ffffff" stroke-width="4" stroke-linecap="round" fill="none"/><path d="M500 696.5C515 696 509 699 524 699.5C539 700 531 696 545 698C559 700 551 699.5 566 705.5C581 711.5 574 708.5 590 716C606 723.5 598 720 614 728C630 736 624 732.5 638 740C652 747.5 649.8 743.5 656 750.5C662.2 757.5 660.6 752.5 656.6 761C652.6 769.5 654.2 765.5 644 776C633.8 786.5 640 782.5 626 792.5C612 802.5 619 798.5 602 806C585 813.5 593 811 575 815C557 819 565 814 548 818C531 822 540 821 524 827C508 833 516 831 500 836C484 841 492 839.5 476 842C460 844.5 464 845 452 843.5C440 842 447 844 440 837.5C433 831 438 832.5 431 824C424 815.5 426 819.2 419 812C412 804.8 410 807.4 410 802.4C410 797.4 412.5 797.6 419 797C425.5 796.4 422.5 792.8 429.5 800.6C436.5 808.4 430.5 811.6 440 820.4C449.5 829.2 446 824.8 458 827C470 829.2 468.3 832 476 827C483.7 822 482.1 822 481.1 812C480.1 802 479.7 809 473 797C466.3 785 468 791 461 776C454 761 455.5 767 452 752C448.5 737 447.5 744 450.5 731C453.5 718 451.5 723 461 713C470.5 703 466 706.5 479 701C492 695.5 485 697 500 696.5Z" fill="#35a85a" /><path d="M499.7 698h0M504.3 696.8h0M506.4 697.3h0M508.4 698.3h0M510.7 698.7h0M512.2 698.2h0M513 697.9h0M514.4 700h0M517.5 699.6h0M520.4 699.8h0M523.9 699.5h0M528.6 700.7h0M531.5 700.6h0M533.4 699.8h0M534.3 698.8h0M535.8 697.5h0M536.8 698.2h0M538.4 698.6h0M541.1 699.3h0M544.5 699.7h0M548.9 700.1h0M550.8 699.5h0M553.1 699.4h0M553.5 700.8h0M554.6 701.4h0M555.7 701.6h0M557 702.6h0M559 703.7h0M562.4 704.1h0M565.4 706.6h0M569.2 707.6h0M572.2 708.7h0M573.3 710.4h0M575.4 710.9h0M576 711.5h0M577.9 711h0M578.8 711.8h0M581.5 712.2h0M583.3 713.2h0M585.6 715.1h0M589.8 716.6h0M592.5 718.9h0M595.5 719.4h0M597.8 721h0M599.1 722.2h0M600.4 722.1h0M601.9 721.8h0M603.2 722.5h0M603.7 724h0M605.2 725.1h0M607.6 725.5h0M609.3 727.4h0M614.3 727.7h0M617.9 729.3h0M619.6 733h0M621.7 733.6h0M623.8 732.9h0M625.2 734.4h0M625.9 735.3h0M627.9 734.8h0M628.5 735.6h0M630 737.3h0M633 736.9h0M634.1 739.1h0M638.2 739.4h0M642.5 742.3h0M645 744.8h0M647.2 745.9h0M648.6 745.2h0M650.5 745.4h0M650.9 747.9h0M651.6 748.7h0M652.8 749.3h0M655.5 751.7h0M659.1 753.8h0M660 755.4h0M659.8 756.4h0M654.9 760.6h0M654.6 763.1h0M653.3 765.3h0M654.1 767h0M653.3 767.8h0M651.4 768.7h0M649.8 770.8h0M647.1 772.4h0M643.1 775h0M641.8 778.3h0M638.8 779.8h0M638.2 781.1h0M637.8 782.7h0M636.6 783.3h0M635 784.2h0M634.9 785.5h0M633.8 787h0M631.7 788.3h0M628.9 788.7h0M625.5 792.1h0M622.9 795.6h0M620.6 796.3h0M618.5 797.5h0M616.4 797.7h0M616.3 799.5h0M615 798.8h0M613.4 799.1h0M612.1 800.6h0M610.6 801.3h0M608.4 803.1h0M605.8 803.6h0M601.6 804.8h0M597.3 806.7h0M594.9 809h0M593 809.3h0M591.1 809h0M590.7 811.7h0M588.6 812.3h0M587.6 812.5h0M586.3 812.7h0M584.3 811.9h0M582.2 813.4h0M578.8 813.6h0M575.2 815.5h0M570.8 816.7h0M568.3 816.7h0M565.7 816.4h0M563.6 815.7h0M562.1 815.1h0M561.4 816.3h0M559.5 817.1h0M558.4 816.2h0M556.7 816.2h0M554.6 816.8h0M551.4 817.5h0M548.4 818.1h0M543.7 818.3h0M540.6 818.3h0M538.6 820.9h0M537.5 821.3h0M535.9 820.8h0M535.5 822.5h0M533.4 822.4h0M532.2 823.6h0M530.1 822.8h0M526.8 823.9h0M523.7 825.7h0M520.7 828.7h0M517.8 830.4h0M515.4 831.2h0M513.5 831.2h0M512.9 831.6h0M511.1 830.5h0M510 831.7h0M508.3 832.2h0M506 832.1h0M503.3 833.4h0M499.6 835.6h0M495.6 836.4h0M493.7 837.7h0M490.8 838.1h0M489.4 838.8h0M488.4 839.6h0M486.7 838.6h0M486.1 838.8h0M484 838.6h0M482.6 841.8h0M479.6 841.6h0M475.6 842.5h0M471.8 842.6h0M468.7 842.4h0M466.1 843.8h0M463.9 844.3h0M462.2 843.8h0M461.4 844.1h0M459 843.9h0M458 844.1h0M455.7 843.9h0M451.9 842.2h0M447.3 842.2h0M444.9 843h0M444.5 841.7h0M444.4 840.6h0M443.5 839.1h0M441.4 836.2h0M437.3 835.4h0M436.3 833.4h0M436 832.1h0M435.7 830.7h0M434.1 829h0M434.1 827.3h0M431.4 823.2h0M428.3 821.2h0M426.5 819.4h0M426.5 817.2h0M424.8 816.4h0M423.4 815.4h0M421.6 813.8h0M419.7 810.8h0M415.5 808.5h0M412.8 806.4h0M411.7 805h0M410.8 804.9h0M411.2 802.7h0M410.3 800h0M413 799.5h0M415.2 799.2h0M419.5 798.3h0M421.7 796.6h0M423.5 796.9h0M424.2 797h0M425.3 798.2h0M430.1 800.6h0M430.8 803h0M432.1 804.6h0M431.6 807h0M432.5 808.6h0M433.6 809.7h0M434.5 811.5h0M435.5 813.5h0M435.5 816.3h0M437.7 817.6h0M438.9 821.5h0M443.2 823.1h0M444.5 825.8h0M445.9 827.1h0M447.5 827.4h0M450 827.4h0M451.8 827.2h0M453.8 827.9h0M457.9 827.2h0M461.9 828.5h0M464.5 828h0M466.7 831.3h0M468.1 830.7h0M470.6 831.8h0M472.3 830.9h0M474.2 829.4h0M475.6 826.9h0M479 825.5h0M480.2 823.4h0M482.7 822h0M481.6 821h0M482.9 818.7h0M481.5 815.6h0M481.9 812.1h0M480.6 808.4h0M481.2 806h0M479.9 805.4h0M479.6 804.4h0M478.1 803h0M476.8 799.7h0M473 797.5h0M472.2 793.4h0M469.8 792.3h0M468.9 790.4h0M468.5 788h0M468.5 787.4h0M466.9 786.5h0M466 784.6h0M463.8 783h0M463.4 779h0M460.9 776.1h0M459.3 772.5h0M458.5 769.5h0M457.6 767.2h0M456.5 766.2h0M456.1 764.5h0M454.7 763.4h0M455.5 762.1h0M454.8 760.6h0M453.3 758.7h0M454.7 755.3h0M453 752.2h0M452 747.7h0M451.6 743.8h0M449.5 742.7h0M450.5 741.2h0M448.6 740.4h0M450.7 738.8h0M450.1 736.9h0M449 734.8h0M450.9 731.4h0M452.1 727.8h0M453.4 725.3h0M453.8 723.5h0M453.2 721.5h0M454.7 721.3h0M455.9 720.5h0M456.6 717.8h0M457.9 715.8h0M461 713.6h0M463.4 709.5h0M465.6 708.9h0M467.5 706.8h0M468.6 705.6h0M469.7 706h0M470.6 705.2h0M473.5 704.9h0M475 702.6h0M479.4 700.7h0M483.3 700.1h0M485.6 698.6h0M487.3 698.6h0M487.9 697.2h0M489.5 698h0M490.8 696.6h0M492.8 696.5h0M496 697.4h0" stroke="#35a85a" stroke-width="3.4" stroke-linecap="round" fill="none"/><path d="M374 738.5C377.8 738 377 739.5 383 741.5C389 743.5 384.8 743.5 392 744.5C399.2 745.5 401.6 740 404.6 744.5C407.6 749 398.2 750.5 401 758C403.8 765.5 405 760 413 767C421 774 417.5 770.5 425 779C432.5 787.5 431 784.5 435.5 792.5C440 800.5 441 800 438.5 803C436 806 433.5 806.3 428 801.5C422.5 796.7 429 794.6 422 788.6C415 782.6 417 786.7 407 783.5C397 780.3 402 781.5 392 779C382 776.5 385 780 377 776C369 772 369.5 774 368 767C366.5 760 371.3 763 372.5 755C373.7 747 371.1 748.5 371.6 743C372.1 737.5 370.2 739 374 738.5Z" fill="#35a85a" /><path d="M373.9 740h0M375.5 739.6h0M378.3 738.8h0M379 740.9h0M382.6 743.5h0M385.4 743h0M386.6 743.4h0M388 743.9h0M392.2 745.7h0M395.9 745.2h0M398.7 743.8h0M401 743.7h0M403.1 742.9h0M403.5 744.7h0M403.9 746.4h0M403.6 748.2h0M401.6 749.6h0M400.4 751.7h0M400 754.9h0M401.1 758.2h0M402.3 760.9h0M403.2 762.8h0M405.2 762.2h0M406.7 764h0M409.3 765.3h0M412.1 768.2h0M416.4 768.9h0M417.3 770.8h0M418.4 772.1h0M419.7 773.5h0M419.5 775.3h0M421.8 776.6h0M425.3 779.1h0M427.7 781.8h0M429.1 785.3h0M431.2 785.5h0M432.1 786.1h0M432.3 787.6h0M432.8 790.7h0M433.8 793.7h0M437.1 797.7h0M439.7 799.5h0M439.8 801.3h0M438.1 803h0M436.3 803.9h0M434.8 803.7h0M432.3 803h0M427.8 801.8h0M426.9 798.8h0M425.3 797.4h0M427.1 795h0M426.7 793.6h0M425.6 790.2h0M422.3 789h0M420.7 785.2h0M418.1 784.3h0M416.6 784.5h0M415 784.5h0M413.1 784.4h0M411 783.6h0M406.5 783.5h0M404.1 781.2h0M402.2 780h0M400.1 780.9h0M398.8 779.9h0M397.6 779h0M395.4 779.2h0M392.6 778.2h0M387.8 777.2h0M385.2 776h0M383.8 776.6h0M382.7 776.3h0M380.4 777.5h0M376.8 776h0M373.3 774.7h0M370.8 773.4h0M369.2 772.5h0M369.5 769.8h0M369.8 766.8h0M367.2 763.3h0M368.7 762.1h0M369.7 760.6h0M371.6 759h0M374.3 755.7h0M372.7 750.9h0M374.1 748.8h0M372.8 746.6h0M373.2 745.4h0M370.7 743.3h0M372.3 739.5h0" stroke="#35a85a" stroke-width="3.4" stroke-linecap="round" fill="none"/><path d="M422.9 767.9h0M407 782h0M406.1 790.1h0M442.4 793.4h0M438.5 800.6h0M446.6 798.8h0M448.4 809.6h0M460.4 809h0M455 815h0M437 818h0M444.5 823.4h0M453.5 821.6h0M334.4 848h0M539 821.6h0M522.5 830h0" stroke="#35a85a" stroke-width="4" stroke-linecap="round" fill="none"/><path d="M548 716h0M555.5 716.6h0M572 719h0M578 721.4h0M603.5 734h0M597.5 738.5h0M608 764.6h0M617 782h0M611 783.5h0M603.5 791h0M596 792.5h0M590 797h0M539 816.5h0M548 812h0" stroke="#ffffff" stroke-width="2.2" stroke-linecap="round" fill="none"/><path d="M419 817.4h0" stroke="#ee6c1c" stroke-width="4.8" stroke-linecap="round" fill="none"/><path d="M418.1 815h0" stroke="#ee6c1c" stroke-width="4" stroke-linecap="round" fill="none"/><path d="M148.4 652.4C150.6 650.7 151 650.3 155 651.5C159 652.7 158.9 653 160.4 656C161.9 659 161.8 659.2 159.5 660.5C157.2 661.8 157.2 661.2 153.5 659.9C149.8 658.6 150.1 659.1 148.4 656.6C146.7 654.1 146.2 654.1 148.4 652.4Z" fill="#35a85a" stroke="#35a85a" stroke-width="1.5" stroke-linejoin="round" /><path d="M309.5 851C311.1 849 316.8 852.1 326 852.5C335.2 852.9 335.2 850.5 344 852.5C352.8 854.5 350.2 857.6 359 860C367.8 862.4 373.4 859.5 377 861.5C380.6 863.5 371.3 863.9 372.5 867.5C373.7 871.1 382.7 873.8 381.5 875C380.3 876.2 374.8 874 368 872C361.2 870 362.8 867.7 356 867.5C349.2 867.3 346.7 868.8 342.5 871.4C338.3 874 342.4 878.7 340.4 877.4C338.4 876.1 340.4 871.2 335 866.6C329.6 862 326.8 864.2 320 860C313.2 855.8 307.9 853 309.5 851Z" fill="#24787f" stroke="#24787f" stroke-width="2.5" stroke-linejoin="round" /><path d="M649.4 867.5C651.9 865 653 865.3 659 866C665 866.7 665.4 866.8 667.4 869.6C669.4 872.4 664.6 871.4 665 874.4C665.4 877.4 670.1 876.4 668.6 878.6C667.1 880.8 665.7 880.7 660.5 881C655.3 881.3 656 882 653 879.5C650 877 652.7 877.5 651.5 873.5C650.3 869.5 646.9 870 649.4 867.5Z" fill="#24787f" stroke="#24787f" stroke-width="2.0" stroke-linejoin="round" /><path d="M334.4 848h0" stroke="#35a85a" stroke-width="3.6" stroke-linecap="round" fill="none"/><path d="M219 1002.5C220 993.5 219 996.5 231 989C243 981.5 239 986.5 255 980C271 973.5 261 976.5 279 969.5C297 962.5 290 964 309 959C328 954 320 957 336 954.5C352 952 346 948 357 951.5C368 955 363 955.5 369 965C375 974.5 369 970 375 980C381 990 381 986 387 995C393 1004 393 996 393 1007C393 1018 393 1015 387 1028C381 1041 384 1036 375 1046C366 1056 368 1051 360 1058C352 1065 353.5 1060 351 1067C348.5 1074 354 1073 352.5 1079C351 1085 352 1085 346.5 1085C341 1085 343.5 1084 336 1079C328.5 1074 334 1075 324 1070C314 1065 319 1067 306 1064C293 1061 297 1064.5 285 1061C273 1057.5 280 1059 270 1053.5C260 1048 265 1052 255 1044.5C245 1037 249 1040.5 240 1031C231 1021.5 235 1025.5 228 1016C221 1006.5 218 1011.5 219 1002.5Z" fill="#ee6c1c" /><path d="M219.8 1002.9h0M221.3 1000.2h0M220.2 997.4h0M221.3 996.7h0M220.3 994.8h0M223 995.8h0M223.9 992.7h0M227.4 991.4h0M231.3 989.1h0M234.8 988.8h0M236.3 986.3h0M239.1 986.8h0M239.2 985.5h0M240.9 984.7h0M242.5 984.3h0M243.8 983.8h0M245.1 982.7h0M248.2 983.1h0M250.8 981.8h0M255.5 979.8h0M258.2 978.4h0M262 978h0M263.2 977.5h0M264.5 975.5h0M266.3 975.7h0M266.3 974.8h0M267.9 974.8h0M270.1 974.1h0M272.5 974.2h0M275.3 971.3h0M279.8 970.7h0M282.1 967.7h0M285.6 966.8h0M287.7 966.5h0M289.9 965.6h0M291.9 966.2h0M292.5 965h0M294 964.8h0M295.2 962.8h0M296.7 962.4h0M297.7 961.5h0M299.7 961.5h0M303.1 962.5h0M305.1 959.6h0M309.2 958.4h0M313.7 958.8h0M316.5 957h0M318.8 955.8h0M321.2 956.5h0M322 956.6h0M323.2 956.1h0M324.7 957.3h0M326.2 956.9h0M327.2 955.8h0M329.6 956.8h0M332.7 954.8h0M336.2 955.1h0M340.9 953.9h0M343.5 952.5h0M346.7 953.7h0M347.9 952h0M349.4 951.8h0M350 951.2h0M351.8 951h0M353.9 950.7h0M357.4 951.7h0M360.1 953.2h0M362.3 953.9h0M362.8 955.6h0M363.6 956.3h0M365.1 957.5h0M367 958.7h0M366.9 962.5h0M368.5 964.9h0M370.3 968.8h0M371.4 970.3h0M371.5 971.6h0M370.2 973.3h0M370.7 975.2h0M372.7 977.1h0M373.9 980.1h0M376.3 983.1h0M377.4 986.5h0M379.3 986.9h0M380.5 988.9h0M382.1 988.7h0M382.7 990h0M384.1 992.8h0M385.9 995.8h0M389.1 998.7h0M391.3 999.9h0M392.1 1000.4h0M392.2 1001.1h0M393.1 1003.2h0M392.9 1007.4h0M392 1009.7h0M391.4 1012.2h0M390.8 1014.7h0M392.5 1016.1h0M391.3 1017.5h0M391.7 1019.2h0M388.9 1020.9h0M389.4 1024.1h0M387 1028.3h0M385.1 1031.7h0M383.7 1034.2h0M382.5 1035.5h0M382 1037.3h0M381.3 1039.2h0M379.8 1039.3h0M379 1040.5h0M376.8 1042.4h0M375.1 1046.2h0M371.6 1048.8h0M369.1 1049.8h0M367.6 1050.8h0M366.6 1052.5h0M365.6 1053h0M364.6 1054.3h0M361.7 1055.3h0M360.6 1057.9h0M356.1 1060.7h0M353.3 1060.6h0M351.6 1062h0M351.7 1063.9h0M350.6 1066.9h0M350.5 1070h0M349.3 1072.9h0M351 1075h0M351.3 1076.2h0M351.4 1079h0M351.3 1083.2h0M349.5 1083.7h0M346.3 1084.8h0M343.9 1083.1h0M343.1 1084h0M341.1 1083.7h0M339 1082h0M335.3 1079.1h0M333.9 1075.9h0M332.7 1074.6h0M330.8 1074.7h0M329.7 1073.7h0M327.5 1071.9h0M324.2 1068.3h0M321 1067.8h0M319.4 1067.2h0M317.1 1066.4h0M316.7 1065.3h0M315.3 1065.2h0M313.5 1065.1h0M310.5 1064.7h0M305.9 1064.1h0M302.2 1062.9h0M299.2 1063.6h0M297.8 1062.1h0M295.9 1062.3h0M294.9 1061h0M293.3 1063.2h0M290.7 1061.3h0M288.9 1060.9h0M284.8 1060.6h0M281.2 1059.3h0M278.3 1058.9h0M277.7 1057.3h0M276.6 1056.6h0M275.7 1055.3h0M273.5 1055.6h0M269.5 1053.9h0M266.4 1051.5h0M264.6 1049.5h0M262.6 1050.1h0M262.2 1049.7h0M260.5 1048.3h0M258.3 1046.5h0M254.7 1044.7h0M252.7 1041.1h0M250.6 1040.4h0M249 1039.3h0M248 1038.6h0M246.5 1037.5h0M246 1036.1h0M244.4 1035.7h0M243.9 1033.1h0M240.4 1031.1h0M238.6 1026.9h0M236 1025.6h0M233.4 1024.8h0M233.8 1022.9h0M233 1022.3h0M232.8 1020.6h0M231.8 1018.2h0M228.3 1015.5h0M225.3 1012.6h0M222.8 1010.9h0M221.3 1009.2h0M220.7 1008.5h0M220.3 1007h0M219.2 1006h0" stroke="#ee6c1c" stroke-width="3.4" stroke-linecap="round" fill="none"/><path d="M424.5 896C428 892 430.5 897 444 900.5C457.5 904 450 902 465 906.5C480 911 474 910.5 489 914C504 917.5 497 917.5 510 917C523 916.5 518 911.5 528 912.5C538 913.5 534.5 913.5 540 920C545.5 926.5 544.5 923 544.5 932C544.5 941 546.5 938 540 947C533.5 956 536 952.5 525 959C514 965.5 519 964 507 966.5C495 969 499 971 489 966.5C479 962 485 960.5 477 953C469 945.5 474 950 465 944C456 938 459 942 450 935C441 928 443.5 930.5 438 923C432.5 915.5 438 921.5 433.5 912.5C429 903.5 421 900 424.5 896Z" fill="#24787f" /><path d="M424.1 896.1h0M425.2 894.9h0M426.9 894.8h0M427.9 894.5h0M429.1 895.3h0M431.2 897.1h0M433.1 897h0M436.7 898.2h0M440 899.3h0M443.6 901.5h0M447.8 903h0M450.6 901.9h0M451.8 902.7h0M453.2 903.8h0M454.9 903h0M455.5 904.6h0M457.3 904.6h0M460.4 906h0M464.8 907.7h0M468.2 907.1h0M470.9 910.3h0M473.3 909.6h0M474.5 911.1h0M476 911.1h0M477 911.9h0M478.5 912.9h0M480 912.5h0M483.2 911.9h0M484.8 913.1h0M488.4 914.5h0M492.8 914.7h0M496.5 916h0M498.5 917.5h0M499.9 917.2h0M501.1 916.6h0M502.5 918.3h0M504 918.2h0M506.2 916.7h0M510.5 918.7h0M514.5 917.3h0M516.8 915.1h0M518.6 915h0M519.9 914.1h0M521.3 913.6h0M522.5 912.8h0M525.1 912.5h0M528.2 913.4h0M532.3 913.3h0M533.4 915.1h0M535.7 914.6h0M536.5 915.1h0M537 918.3h0M539.5 920.5h0M542.7 923.4h0M543.1 924.9h0M544.1 925.9h0M543.2 928h0M543.7 931.8h0M543.4 935.4h0M543.5 936.9h0M544.7 938.6h0M543 939.3h0M543.5 941.3h0M542.3 943.6h0M540.1 946.6h0M538.4 949.7h0M535.6 951.4h0M535.4 953.7h0M534.2 953.5h0M532.9 954.9h0M531.3 955.9h0M528.7 957.1h0M524.6 958.9h0M521 960.2h0M519.3 962.4h0M516.7 962h0M515.9 963.3h0M515 963.5h0M513.1 963.7h0M510.4 965.6h0M506.8 966.4h0M502.9 966h0M500.9 968.7h0M498.2 967.8h0M497.5 968.4h0M496.5 967.9h0M494.7 968.2h0M493.2 966.4h0M489 966h0M485.9 963.7h0M485.2 962.7h0M483 962h0M483.7 959.8h0M481.2 959.8h0M482.4 956.9h0M479.1 955.2h0M477.1 952.7h0M475.1 949.2h0M473 947.5h0M471.7 946.5h0M471.1 945.8h0M469.5 945.1h0M465.3 943.3h0M461.9 941.1h0M459.4 940.7h0M459 939.1h0M457.4 938.7h0M455.9 938.1h0M453.3 937.5h0M449.7 935.5h0M447.3 931.8h0M445.6 929.5h0M444.6 928.8h0M443.2 927.8h0M442.7 926.1h0M440.9 924.5h0M438.9 922.1h0M435.6 920.1h0M437.1 918.8h0M436.3 918.3h0M435 916.4h0M433.8 912h0M431.2 909.3h0M430 906.4h0M427.9 904.1h0M427.1 901.2h0M426 899.9h0M424.5 899.2h0M424.9 897.7h0" stroke="#24787f" stroke-width="3.4" stroke-linecap="round" fill="none"/><path d="M415.5 891.2h0" stroke="#24787f" stroke-width="3.6" stroke-linecap="round" fill="none"/><path d="M296.4 1061.6h0" stroke="#35a85a" stroke-width="2.4" stroke-linecap="round" fill="none"/><path d="M808.8 725C820 721.6 815.5 727.2 829 728.4C842.4 729.5 839.1 726.1 849.2 728.4C859.3 730.6 856.5 726.1 859.3 735.1C862.1 744.1 855.3 745.2 857.6 755.3C859.8 765.4 858.7 759.8 866 765.4C873.3 771 874.4 766.5 879.5 772.1C884.5 777.7 884.5 775.5 881.1 782.2C877.8 789 874.4 783.3 869.4 792.3C864.3 801.3 866 799.1 866 809.2C866 819.3 871.6 815.9 869.4 822.6C867.1 829.4 868.2 826.6 859.3 829.4C850.3 832.2 851.4 827.7 842.4 831C833.4 834.4 840.2 832.2 832.3 839.5C824.5 846.8 827.8 845.6 818.9 852.9C809.9 860.2 814.4 861.3 805.4 861.3C796.4 861.3 799.8 861.3 791.9 852.9C784.1 844.5 785.7 848.4 781.8 836.1C777.9 823.7 781.3 829.4 780.1 815.9C779 802.4 777.3 809.2 778.5 795.7C779.6 782.2 780.7 789 783.5 775.5C786.3 762 782.9 767.6 786.9 755.3C790.8 742.9 788 748.6 795.3 738.5C802.6 728.4 797.5 728.4 808.8 725Z" fill="#e2352a" /><path d="M809 726.2h0M811.6 724.4h0M814.2 725.3h0M816.1 725.2h0M817.6 723.9h0M818.7 726h0M820.4 726.7h0M821.8 728.3h0M824.9 728.3h0M829.4 728.3h0M833.1 728.4h0M836.2 727.8h0M838.2 728.9h0M839.6 728.5h0M841.7 729.8h0M842.5 728.7h0M844.4 728.9h0M845.9 728.5h0M849.5 728.9h0M854 730.6h0M856.7 728.8h0M856.5 729.8h0M857.1 732.1h0M858.6 734.9h0M859.7 737.7h0M858.4 740.3h0M860.1 741.7h0M859.3 744.3h0M857.2 745.5h0M857.5 747.4h0M856.7 749.4h0M856.6 752.1h0M856.6 755.8h0M859.3 759.9h0M858.9 762.5h0M860.2 762.2h0M862 764.1h0M865.7 766.1h0M869.5 766.7h0M871 770h0M873.7 769h0M874.8 770.6h0M876.6 771h0M878.9 772h0M881.9 775.9h0M881.6 777.4h0M881.6 777.7h0M880.7 782h0M878.6 783.5h0M877.8 785.3h0M876.2 785.1h0M874.2 786h0M872.6 786.4h0M869.9 788.7h0M869 791.7h0M866.4 795.1h0M865.1 796.9h0M865.8 799.9h0M864.4 801.2h0M865.5 802.8h0M864.2 805.4h0M864.9 808.8h0M866.3 813.2h0M867 815.8h0M868.5 817.2h0M869.7 818.5h0M870.2 819.6h0M868.7 822.6h0M868.4 825.7h0M866.4 826.4h0M866.3 826.7h0M863 826.6h0M859 829.2h0M855.9 828.4h0M853.5 830.1h0M851.4 829.9h0M849.6 829.5h0M848.4 828.3h0M845.8 828.1h0M842.4 831.4h0M837.5 831.2h0M836.2 832.7h0M835.1 833.7h0M835.4 835.4h0M831.2 838.3h0M829.4 841.5h0M828.7 843.6h0M826.4 845h0M826.5 846h0M823.9 846.5h0M823.9 848.5h0M821.1 850h0M818.1 851.4h0M814.5 855.1h0M812.3 856.3h0M811.5 858.7h0M811.3 859.3h0M810.4 859.9h0M808.9 860.9h0M805.3 859.9h0M801.8 862.2h0M800.5 860.6h0M799.3 859.4h0M798 859.3h0M797.2 857.4h0M796 854.8h0M791.9 853h0M788.8 850.7h0M787.1 849.2h0M786.7 846.6h0M784.9 846.2h0M785.6 844.6h0M784.6 842.4h0M783 840h0M782.7 836.4h0M781.4 832.7h0M781.2 829.8h0M781.9 828.6h0M780.1 827.4h0M780.1 825.7h0M781.4 824.4h0M781.9 823h0M779.8 819.9h0M781.1 815.8h0M779.3 811.9h0M780.9 809.6h0M778.8 807.4h0M779.8 806.1h0M779.1 805.1h0M777.5 803.7h0M777.7 802.3h0M779.4 799.5h0M779.3 795.6h0M779.5 791.8h0M780 789.3h0M779.5 787.2h0M780.8 786.5h0M781.9 785.5h0M781.2 783.4h0M783 781.8h0M783.1 779.1h0M783.8 776h0M784.8 771.3h0M784.6 768.9h0M785 766.7h0M786.7 765.8h0M786.4 764.7h0M785.5 763.4h0M786.5 761.6h0M786.4 759.3h0M786.6 754.8h0M787.8 751.1h0M788.5 748.5h0M790.4 747.2h0M791 746.9h0M790.1 744.6h0M792.2 744.5h0M793.2 741.5h0M796 739.2h0M798.9 736.4h0M798.9 732.3h0M801.5 731.1h0M801.2 729.9h0M801.9 728.5h0M803.2 728.5h0M805.1 727h0" stroke="#e2352a" stroke-width="3.4" stroke-linecap="round" fill="none"/><path d="M867.7 777.2h0M839.7 826h0M869.4 780.5h0" stroke="#ffffff" stroke-width="2.4" stroke-linecap="round" fill="none"/><path d="M697.6 980.9C707.2 976.4 705.5 976.4 717.8 977.5C730.2 978.6 726.8 977.5 734.7 984.2C742.5 991 735.8 991 741.4 997.7C747 1004.4 741.4 1000.5 751.5 1004.4C761.6 1008.4 759.4 1007.8 771.7 1009.5C784.1 1011.2 783.5 1006.7 788.6 1009.5C793.6 1012.3 793.6 1014.5 786.9 1017.9C780.1 1021.3 781.3 1018.5 768.4 1019.6C755.4 1020.7 757.1 1017.4 748.1 1021.3C739.2 1025.2 745.9 1023.5 741.4 1031.4C736.9 1039.2 741.4 1035.9 734.7 1044.8C727.9 1053.8 731.3 1051.6 721.2 1058.3C711.1 1065.1 715.6 1065.1 704.4 1065.1C693.2 1065.1 694.8 1065.1 687.5 1058.3C680.2 1051.6 684.7 1053.8 682.5 1044.8C680.2 1035.9 688.1 1036.4 680.8 1031.4C673.5 1026.3 672.4 1030.8 660.6 1029.7C648.8 1028.6 645.5 1030.3 645.5 1028C645.5 1025.8 649.9 1026.3 660.6 1023C671.3 1019.6 669.6 1024.1 677.4 1017.9C685.3 1011.7 680.2 1013.4 684.2 1004.4C688.1 995.5 684.7 998.8 689.2 991C693.7 983.1 688.1 985.4 697.6 980.9Z" fill="#a66cc6" /><path d="M697.5 981.6h0M701 981.5h0M702.8 978.4h0M704.3 977.6h0M706.1 978.1h0M707.4 977.5h0M709.6 977.2h0M711.8 976.7h0M713.9 978.5h0M718.1 978.5h0M721.4 977.5h0M724.7 978.9h0M726.7 979.1h0M728 979.4h0M728.4 980.6h0M729.6 981.2h0M731.7 983.1h0M734.2 985h0M738.2 986.5h0M737.8 989.4h0M737.2 991.1h0M738.7 993.2h0M738.2 995.1h0M740.7 998.4h0M743.3 1000.5h0M744.3 1001.9h0M744.8 1002.4h0M747.1 1003.4h0M751.1 1006.4h0M754.3 1007h0M756.5 1007.6h0M758.8 1006.8h0M760.3 1007.7h0M761.3 1008.7h0M762.6 1009.5h0M765.1 1010.5h0M768.1 1008.8h0M771.5 1011.2h0M776 1011.2h0M780 1009.7h0M782 1009.2h0M784.3 1009.3h0M784.7 1008.9h0M786.5 1009.7h0M788.5 1010.2h0M790.3 1012.4h0M790.7 1013.8h0M786.8 1018.3h0M784.3 1018.1h0M782.8 1018.9h0M780.9 1018.6h0M779.6 1020.1h0M778.2 1018.5h0M775.8 1018.4h0M772.2 1020.1h0M768.8 1019h0M764.3 1020.1h0M761.4 1018.7h0M759 1019.2h0M757.8 1020h0M756.1 1019.4h0M754.4 1019.2h0M752.9 1019.1h0M751 1019.4h0M747.5 1020.2h0M744.6 1022.6h0M743.6 1024.5h0M742.3 1025.3h0M741.7 1027.1h0M741.1 1031.1h0M738.8 1034h0M738.9 1036.6h0M737 1037.5h0M737 1038.8h0M737.6 1040.9h0M734.3 1044.4h0M731.5 1046.9h0M730 1049.5h0M730.7 1051.7h0M729.2 1052.4h0M726.9 1052.2h0M726.5 1054.6h0M723.5 1055.1h0M721.1 1057.8h0M717.8 1060.1h0M715.1 1060.9h0M713.4 1061.8h0M713.1 1063.4h0M711.6 1064.7h0M710.6 1064.3h0M707.5 1063.9h0M704.5 1065.5h0M701.1 1064.9h0M698.3 1063.5h0M696.4 1064.1h0M695 1064.6h0M694 1062.2h0M692.6 1061.1h0M690.2 1060.9h0M687.9 1057.6h0M684.7 1055h0M683.9 1053.3h0M684.1 1052.1h0M684.1 1051.1h0M684.2 1048.7h0M682.1 1045.1h0M683.4 1041.3h0M683.2 1039.1h0M684.4 1036.9h0M684.9 1035.5h0M683.1 1033.2h0M680.3 1032.1h0M679 1028.8h0M676.9 1028.8h0M674.7 1028.9h0M673.5 1027.4h0M671.9 1029.8h0M669.7 1028.3h0M667.3 1028.8h0M664 1028.5h0M660.2 1028.1h0M655.4 1028.5h0M651.2 1028.2h0M648.8 1029.2h0M646.4 1029h0M645.8 1029.2h0M645.5 1028.1h0M645.2 1026.7h0M646.6 1026.8h0M648.6 1026.2h0M650 1025.9h0M652.9 1025.9h0M656.3 1024.1h0M660.4 1024h0M664.4 1022.2h0M667.7 1022.9h0M668.7 1021.3h0M671 1022.7h0M672.5 1021h0M674.6 1020h0M676.8 1017.2h0M680.9 1016.2h0M682.2 1014.2h0M683 1012h0M683.6 1010.5h0M683.5 1008h0M684.4 1004.4h0M686.1 1001.1h0M685.9 999h0M688.2 997.8h0M688.5 996.1h0M687.9 994.4h0M689.2 991.1h0M691.1 987.2h0M692.3 986.1h0M691.8 984h0M693.6 984h0" stroke="#a66cc6" stroke-width="3.4" stroke-linecap="round" fill="none"/><path d="M748.1 1009.5h0M753.2 1012.2h0M696 1039.8h0M699.3 1042.2h0" stroke="#ffffff" stroke-width="2.6" stroke-linecap="round" fill="none"/><path d="M894.6 609.8L931.6 629" stroke="#ea6fb0" stroke-width="3.6" stroke-linecap="round"/><path d="M931.6 629L950.2 638.1" stroke="#f5b90f" stroke-width="4" stroke-linecap="round"/><path d="M928.3 626.7h0" stroke="#ea6fb0" stroke-width="5.2" stroke-linecap="round" fill="none"/><text transform="translate(520.5 500.2) scale(1 0.935)" y="9.7" font-size="27.2" text-anchor="middle" fill="#111" font-weight="normal" font-style="normal" >Oligodendrocytes</text><text transform="translate(520.5 532.4) scale(1 0.935)" y="9.7" font-size="27.2" text-anchor="middle" fill="#111" font-weight="normal" font-style="normal" >(36.3k)</text><text transform="translate(850.2 592.2) scale(1 0.935)" y="9.7" font-size="27.2" text-anchor="middle" fill="#111" font-weight="normal" font-style="normal" >VLMC/Pericytes (183)</text><text transform="translate(880.7 657.2) scale(1 0.935)" y="9.7" font-size="27.2" text-anchor="middle" fill="#111" font-weight="normal" font-style="normal" >Endothelial cells (105)</text><text transform="translate(537.2 733.7) scale(1 0.935)" y="9.7" font-size="27.2" text-anchor="middle" fill="#111" font-weight="normal" font-style="normal" >Excitatory</text><text transform="translate(537.2 765.4) scale(1 0.935)" y="9.7" font-size="27.2" text-anchor="middle" fill="#111" font-weight="normal" font-style="normal" >neurons</text><text transform="translate(537.2 797.6) scale(1 0.935)" y="9.7" font-size="27.2" text-anchor="middle" fill="#111" font-weight="normal" font-style="normal" >(12.9k)</text><text transform="translate(851.5 791.4) scale(1 0.935)" y="9.7" font-size="27.2" text-anchor="middle" fill="#111" font-weight="normal" font-style="normal" >Microglia (5.6k)</text><text transform="translate(280.8 834) scale(1 0.935)" y="9.7" font-size="27.2" text-anchor="middle" fill="#111" font-weight="normal" font-style="normal" >Inhibitory</text><text transform="translate(280.8 865.2) scale(1 0.935)" y="9.7" font-size="27.2" text-anchor="middle" fill="#111" font-weight="normal" font-style="normal" >neurons</text><text transform="translate(280.8 897.5) scale(1 0.935)" y="9.7" font-size="27.2" text-anchor="middle" fill="#111" font-weight="normal" font-style="normal" >(7.3k)</text><text transform="translate(300.6 1004) scale(1 0.935)" y="9.7" font-size="27.2" text-anchor="middle" fill="#111" font-weight="normal" font-style="normal" >Astrocytes</text><text transform="translate(300.6 1035.8) scale(1 0.935)" y="9.7" font-size="27.2" text-anchor="middle" fill="#111" font-weight="normal" font-style="normal" >(9.3k)</text><text transform="translate(715 1028) scale(1 0.935)" y="9.7" font-size="27.2" text-anchor="middle" fill="#111" font-weight="normal" font-style="normal" >OPCs (4.8k)</text><path d="M44.2 1014V1094H126.6" fill="none" stroke="#000" stroke-width="2.2"/><path d="M44.2 1006l-4.6 10.5h9.2z" fill="#000"/><path d="M134.6 1094l-10.5 -4.6v9.2z" fill="#000"/><text transform="translate(32.2 1057.6) rotate(-90)" y="5.7" font-size="16" text-anchor="middle" fill="#000" font-style="normal">UMAP 2</text><text transform="translate(83.2 1108.6) scale(1 0.935)" y="5.7" font-size="16" text-anchor="middle" fill="#000" font-weight="normal" font-style="normal" >UMAP 1</text><text transform="translate(6 1139.3) scale(1 0.935)" y="7.7" font-size="21.4" text-anchor="start" fill="#000" font-weight="normal" font-style="normal" >UMAP of major cell types (snRNA-seq)</text><path d="M246 1186.5C259.3 1182.6 253.8 1184.3 266 1184.8C278.2 1185.4 273.7 1183.7 282.6 1188.1C291.5 1192.6 288.4 1188.7 292.6 1198.1C296.8 1207.5 294.7 1204.2 295.2 1216.4C295.8 1228.6 299.6 1226.4 294.2 1234.7C288.9 1243 290.9 1239.7 279.3 1241.3C267.6 1243 272.6 1240.8 259.3 1239.7C246 1238.6 252.7 1239.1 239.4 1238C226.1 1236.9 228.3 1240.8 219.4 1236.3C210.6 1231.9 213.9 1233.6 212.8 1224.7C211.7 1215.8 211.7 1219.2 216.1 1209.7C220.5 1200.3 216.1 1204.2 226.1 1196.4C236.1 1188.7 232.7 1190.3 246 1186.5Z" fill="#ee6c1c" /><path d="M246 1186.7h0M250.1 1186.1h0M252.7 1184.9h0M254.4 1184.6h0M255.8 1183.6h0M256.7 1183.9h0M258.3 1184.8h0M260 1184.2h0M262.5 1185.9h0M265.7 1185.8h0M269.9 1184.5h0M272.7 1185.3h0M274.8 1184.5h0M275.7 1185.1h0M277.7 1186.2h0M279.5 1186.7h0M281.7 1189.2h0M286 1190.2h0M287.8 1191.5h0M288.7 1191.3h0M290.4 1192.7h0M291.1 1194h0M292.9 1198.1h0M293.5 1201.2h0M294.3 1203.7h0M295.4 1204.5h0M294.6 1205.9h0M294.3 1207.6h0M294.7 1209.3h0M294.7 1212.8h0M294.5 1216.7h0M295.8 1220.6h0M294.9 1223.6h0M296.2 1225.9h0M296.5 1227.1h0M297.5 1228.9h0M296.7 1230h0M295.1 1231.3h0M293.2 1233.8h0M291.9 1237.5h0M291.4 1239.6h0M289.1 1240h0M288 1240.2h0M286.2 1239.8h0M283.6 1239.9h0M279.3 1241.2h0M276 1240.8h0M273.9 1241.1h0M271.8 1242.3h0M270.4 1241.8h0M269.8 1240.6h0M267.7 1239.9h0M265.7 1240.3h0M263 1240.3h0M259.8 1239.7h0M255.4 1239.2h0M253 1239.1h0M251.7 1238.6h0M249.7 1238.5h0M248.5 1237.4h0M247.4 1237.8h0M245.4 1237.8h0M242.9 1237.8h0M239.9 1237.7h0M235.3 1237.3h0M232.9 1238.2h0M230.1 1237.5h0M228.8 1238.6h0M226.6 1239h0M225.9 1238.4h0M223.8 1237.2h0M222.5 1237.6h0M219.1 1236.6h0M215.9 1233.6h0M213.9 1232.9h0M213.1 1231.7h0M213.7 1231.1h0M213.6 1228.2h0M212.8 1224.8h0M212.4 1221.2h0M212.6 1218.8h0M213.1 1217.8h0M213.4 1216h0M214.4 1213.9h0M216.8 1210.1h0M218.4 1206.5h0M219.1 1204.6h0M219.3 1202.8h0M219.4 1202.5h0M221.2 1200.9h0M222.3 1198.9h0M226.3 1197.2h0M228.8 1195.5h0M230.4 1192.3h0M233.2 1192h0M234.3 1191.4h0M234.8 1190.5h0M236.4 1190.3h0M237.6 1189h0M239.5 1188.1h0M242.1 1187.5h0" stroke="#ee6c1c" stroke-width="2.2" stroke-linecap="round" fill="none"/><path d="M113 1231.4C118.8 1226.9 121.9 1227.5 126.3 1229.7C130.8 1231.9 127.9 1235.4 129.7 1239.7C131.4 1243.9 127 1245 133 1245.7C139 1246.3 147 1242.3 152.3 1242C157.6 1241.7 156.3 1242.6 152.9 1244.7C149.6 1246.7 143.6 1245.7 139.6 1249.6C135.7 1253.6 140.6 1254.3 138 1259.6C135.3 1264.9 134.5 1264.7 129.7 1269.6C124.8 1274.5 125.5 1277 119.7 1277.9C113.9 1278.8 112.5 1277.3 108.1 1272.9C103.6 1268.5 104 1268.4 103.1 1261.3C102.2 1254.2 102.1 1254.3 104.7 1246.3C107.4 1238.3 107.3 1235.8 113 1231.4Z" fill="#a66cc6" /><path d="M113 1231.8h0M116.1 1229.5h0M118.2 1228.8h0M119.8 1228.5h0M122.4 1228.1h0M123.9 1229.9h0M125.9 1230h0M128.4 1231.5h0M129.4 1234.4h0M128.7 1237h0M129 1239.8h0M128.8 1242.9h0M130 1244.2h0M132.6 1245.8h0M135.1 1246.5h0M137.6 1245.9h0M140.5 1244.8h0M142.5 1244h0M145.6 1243.5h0M148.3 1243h0M150.5 1243.3h0M152.4 1242.8h0M156 1242.2h0M152.5 1244.5h0M150.9 1244.1h0M148.3 1244.8h0M146 1246.4h0M144.4 1246.6h0M141.4 1247.6h0M139.6 1249h0M137.8 1251.7h0M137.5 1254.1h0M139.2 1255.9h0M138 1259.6h0M136.5 1262.2h0M134.9 1263.4h0M133.3 1265.4h0M132.4 1266.8h0M129.7 1269h0M126.8 1271.3h0M125.2 1273.6h0M124 1275.9h0M122.4 1277.3h0M119.3 1277.6h0M116.7 1277.8h0M114.5 1277.7h0M112.4 1277.1h0M111.2 1275.1h0M108.7 1272.9h0M106.3 1270.5h0M104.7 1269h0M104 1267.1h0M104.7 1265.1h0M103.5 1261.2h0M103.1 1258.6h0M102.7 1256.5h0M102.5 1254.6h0M103.8 1252.6h0M103.7 1250.3h0M106 1246.3h0M106.5 1243.7h0M106.9 1241.1h0M107.1 1238.6h0M107.9 1236.5h0M109.4 1235h0M110.8 1233.2h0" stroke="#a66cc6" stroke-width="2.2" stroke-linecap="round" fill="none"/><path d="M285.9 1161.5C288.1 1158.8 292.6 1156.2 295.9 1156.5C299.2 1156.9 298.1 1159.8 295.9 1162.5C293.7 1165.3 292.6 1165.2 289.3 1164.9C285.9 1164.5 283.7 1164.3 285.9 1161.5Z" fill="#a66cc6" stroke="#a66cc6" stroke-width="1.0" stroke-linejoin="round" /><path d="M181.2 1321.1C191.2 1311.7 189 1316.7 206.1 1311.2C223.3 1305.6 212.8 1305.6 232.7 1304.5C252.7 1303.4 243.8 1307.3 266 1307.8C288.1 1308.4 281.5 1306.2 299.2 1306.2C317 1306.2 310.3 1303.9 319.2 1307.8C328 1311.7 324.7 1310 325.8 1317.8C326.9 1325.6 329.2 1324.4 322.5 1331.1C315.9 1337.7 315.9 1331.7 305.9 1337.7C295.9 1343.8 298.7 1338.9 292.6 1349.4C286.5 1359.9 289.8 1356 287.6 1369.3C285.4 1382.6 293.1 1378.2 285.9 1389.3C278.7 1400.4 279.3 1392.6 266 1402.6C252.7 1412.6 261.6 1408.7 246 1419.2C230.5 1429.7 237.2 1425.9 219.4 1434.2C201.7 1442.5 209.5 1440.3 192.8 1444.1C176.2 1448 181.8 1449.1 169.6 1445.8C157.4 1442.5 165.1 1443 156.3 1434.2C147.4 1425.3 150.7 1428.6 143 1419.2C135.2 1409.8 133 1415.9 133 1405.9C133 1395.9 135.2 1400.4 143 1389.3C150.7 1378.2 148.5 1383.7 156.3 1372.7C164 1361.6 159.6 1367.1 166.2 1356C172.9 1345 171.2 1351 176.2 1339.4C181.2 1327.8 171.2 1330.5 181.2 1321.1Z" fill="#1fa3cb" /><path d="M180.8 1321.3h0M183.8 1320.1h0M185.4 1318h0M187.1 1317.1h0M188.2 1315.2h0M189.8 1315.6h0M191.4 1315.3h0M192.7 1315.4h0M194.3 1313.9h0M196.6 1313.8h0M198.8 1313.8h0M202 1312.3h0M206.1 1311.4h0M210.5 1310.6h0M212.7 1309.7h0M215.3 1308.6h0M216.2 1307.1h0M217.3 1306.8h0M218.2 1306.2h0M219.5 1306.5h0M221 1306.6h0M222.7 1305.4h0M225.1 1305.6h0M228.7 1304.6h0M233 1305.5h0M236.1 1304.3h0M239.4 1305h0M241.6 1304.2h0M243.8 1304.3h0M244.7 1305.6h0M246.7 1304.9h0M247.3 1306.3h0M249.3 1306.8h0M250.6 1306.1h0M251.7 1307.5h0M253.2 1306.6h0M255.6 1307.8h0M259.1 1307.7h0M261.5 1308.3h0M266.2 1307.5h0M269.6 1308.3h0M273.4 1309.1h0M276.1 1307.8h0M279.1 1307.8h0M280.6 1307h0M282.5 1307.5h0M284 1307.2h0M284.6 1307.6h0M286.5 1308h0M287.5 1307.8h0M289.6 1306.6h0M291.6 1307.6h0M293.3 1306.6h0M295.7 1306.5h0M298.8 1306.2h0M304.2 1305.7h0M307.8 1306.6h0M310 1306.3h0M311.8 1305.9h0M313.5 1306.8h0M314 1305.3h0M315 1306.4h0M316.9 1306.1h0M319.3 1308.6h0M323.3 1310.7h0M325.1 1310.8h0M325.1 1311.6h0M324.9 1314.6h0M324.6 1318h0M325.7 1321.3h0M326.5 1323.1h0M327 1324.6h0M326.2 1326.1h0M324.1 1327.6h0M321.8 1330.1h0M319.9 1333h0M318.3 1333.9h0M316.5 1333.5h0M315.1 1334.4h0M313.7 1333.5h0M311.2 1335.1h0M309.2 1335.4h0M305.8 1337.2h0M302.9 1339.2h0M300.9 1340.5h0M298.7 1341.5h0M297.5 1342h0M296.3 1342h0M296.2 1344.2h0M293.6 1346.1h0M292.5 1349.9h0M289.9 1351.9h0M289.9 1354.8h0M288.5 1355.7h0M289 1357.9h0M288.2 1358.9h0M288.4 1360.4h0M288.5 1362.5h0M287.8 1365.7h0M287.6 1369.3h0M287 1373.3h0M287.6 1376.4h0M287.3 1378.5h0M288.6 1379.3h0M288.8 1380.3h0M288 1382h0M289.4 1383.6h0M286.9 1385.7h0M285.2 1389.5h0M283.1 1391.7h0M282.4 1394.3h0M281.3 1395.1h0M279.9 1395.1h0M278.5 1395.7h0M276.9 1396.7h0M275.3 1397.2h0M271.8 1397.8h0M269.1 1399.8h0M265.2 1401.9h0M261.9 1404.6h0M260.2 1405.7h0M258.8 1408.2h0M258.5 1409.8h0M257.6 1410.3h0M256.1 1410.7h0M255.3 1411.6h0M254.1 1412.9h0M252.1 1414.5h0M249.5 1415.9h0M245.5 1419.3h0M242.5 1420.6h0M240.2 1423.3h0M238.1 1423.8h0M236.7 1426h0M235.3 1426.2h0M234 1427.5h0M232.8 1427.7h0M231.6 1428.2h0M230 1428.5h0M228 1429.3h0M226.3 1431.3h0M222.3 1431.4h0M219.4 1433.7h0M215.9 1436h0M212.4 1437h0M210.1 1438h0M208.5 1439.1h0M206.9 1439.9h0M206.1 1441.2h0M204.6 1440.8h0M203 1441.6h0M201.8 1441.7h0M199.1 1442.1h0M196.3 1442.9h0M192.9 1444.1h0M188.4 1445.1h0M185.3 1445.7h0M182.7 1446.7h0M181.3 1446.9h0M179.7 1446.6h0M178.5 1447.7h0M177.3 1446.8h0M175.6 1447.1h0M172.6 1445.8h0M170 1444.8h0M166.1 1444.6h0M163.7 1443.7h0M162.1 1442.8h0M162.4 1441.4h0M162 1440.6h0M161.2 1438.7h0M159.9 1436.5h0M155.9 1434.5h0M154.1 1431.2h0M151.4 1429.5h0M151.7 1427.8h0M150.1 1427.5h0M149.2 1426.2h0M148.2 1425.3h0M146.9 1424.4h0M144.8 1422.5h0M143.8 1419h0M139.8 1416.5h0M137.3 1414h0M136.5 1412.7h0M134.6 1411.7h0M135 1410.6h0M132.9 1409.7h0M132.7 1405.7h0M133.7 1402.8h0M134.2 1401.2h0M134.4 1399.2h0M134.9 1398.6h0M137 1397.1h0M138.4 1395.4h0M140.5 1393.4h0M143.5 1389.7h0M144.9 1386.6h0M147.2 1384.4h0M148.3 1382.8h0M149.5 1382h0M150.3 1380.9h0M151.2 1380h0M153.6 1378.2h0M154.1 1376.5h0M156.7 1372.6h0M159 1369.8h0M160.5 1367h0M161.4 1366.2h0M162.8 1364.9h0M162.4 1363.1h0M163.1 1361.3h0M164.2 1359.8h0M166.4 1356h0M168.3 1352.8h0M169.7 1351h0M171.3 1349.8h0M172.4 1348.5h0M172.3 1346.4h0M174.5 1345.5h0M174.9 1342.9h0M176.8 1339.9h0M177.4 1335.6h0M178.1 1332.9h0M177.2 1331h0M176.4 1329.2h0M176.1 1328h0M177.2 1327h0M178.4 1324.4h0" stroke="#1fa3cb" stroke-width="2.2" stroke-linecap="round" fill="none"/><path d="M395.7 1316.1C397.8 1316 401.1 1317.8 404 1321.1C406.8 1324.4 406.4 1326 404.3 1326.1C402.2 1326.2 400.5 1324.8 397.6 1321.5C394.8 1318.1 393.5 1316.2 395.7 1316.1Z" fill="#24787f" stroke="#24787f" stroke-width="1.5" stroke-linejoin="round" /><path d="M377.4 1372.7C380.4 1367.2 380.5 1366.2 389 1362.7C397.5 1359.2 394.7 1359 405.6 1361C416.6 1363 414.6 1364.8 425.6 1369.3C436.5 1373.8 433.7 1375 442.2 1376C450.7 1377 448.8 1377.6 453.8 1372.7C458.8 1367.7 454.8 1361.4 458.8 1359.4C462.8 1357.4 465.1 1360 467.1 1366C469.1 1372 469 1373.3 465.5 1379.3C462 1385.3 463.5 1385 455.5 1386C447.5 1387 449.8 1383.1 438.9 1382.6C427.9 1382.1 431.9 1382.8 418.9 1384.3C406 1385.8 407.6 1388.6 395.7 1387.6C383.7 1386.6 384.5 1385.5 379 1381C373.5 1376.5 374.4 1378.1 377.4 1372.7Z" fill="#24787f" /><path d="M378.3 1372.5h0M378.1 1369.8h0M380.1 1368.8h0M381.8 1367.6h0M382.8 1365.6h0M385.1 1364.6h0M389.5 1362.6h0M392.1 1361.8h0M394.2 1361.2h0M395.2 1359.5h0M396.7 1361h0M399.4 1359.7h0M401.5 1361.1h0M405.6 1360.7h0M408.6 1362.9h0M411.3 1362.8h0M413.4 1363.2h0M414.4 1363.7h0M416.7 1364.9h0M417.9 1365.9h0M419.1 1367.4h0M422.2 1367.7h0M425.2 1369.6h0M429.3 1370.5h0M431.3 1372.4h0M433.2 1373.1h0M435.1 1374h0M436.4 1374.4h0M437.1 1376h0M439.1 1376.2h0M442.7 1375.5h0M445.9 1376.7h0M448.3 1377.3h0M450 1377.3h0M451.8 1375.6h0M453.4 1372.5h0M455.1 1370.4h0M456.7 1367.4h0M456.5 1364.7h0M457.1 1362.5h0M458.1 1361h0M459.2 1359.7h0M461.8 1358.5h0M463.1 1360.1h0M465.6 1362h0M466.4 1365.8h0M467.4 1369h0M467.3 1370.9h0M469 1372.8h0M467.3 1373.9h0M466.6 1376.3h0M464.4 1378.8h0M464.2 1381.8h0M461.7 1383.1h0M461.1 1384.2h0M458.7 1384.5h0M455.1 1386.1h0M452.2 1385.6h0M451.2 1386.1h0M449.5 1384.3h0M448.1 1384.4h0M446 1383.5h0M442.6 1382.7h0M439.3 1382.3h0M435.9 1381.8h0M433.4 1382.5h0M431.9 1381.8h0M430.1 1381.8h0M428.8 1382.2h0M427 1383.3h0M425.7 1383.2h0M422.2 1383.7h0M418.8 1384.5h0M414.9 1384.1h0M412.8 1384.8h0M410.2 1384.7h0M408.9 1386.3h0M407 1386.5h0M405 1387.7h0M403.7 1387.5h0M401.3 1387.6h0M399 1387.1h0M395.9 1387.1h0M392 1387.1h0M388.5 1386.5h0M386.4 1385.3h0M385.3 1385.1h0M383.8 1385h0M382.5 1383.8h0M381.3 1382h0M379.5 1381.2h0M375.9 1377.6h0M375.7 1376h0" stroke="#24787f" stroke-width="2.2" stroke-linecap="round" fill="none"/><path d="M324.2 1427.5C326.4 1422.5 327.5 1422.5 339.1 1417.5C350.8 1412.6 345.8 1414.8 359.1 1412.6C372.4 1410.3 369.1 1407.6 379 1410.9C389 1414.2 386.2 1413.7 389 1422.5C391.8 1431.4 394 1430.8 387.3 1437.5C380.7 1444.1 381.8 1442.5 369.1 1442.5C356.3 1442.5 361.3 1440.8 349.1 1437.5C336.9 1434.2 340.8 1435.8 332.5 1432.5C324.2 1429.2 322 1432.5 324.2 1427.5Z" fill="#24787f" /><path d="M324.3 1427.6h0M324.9 1425.9h0M326.2 1424.4h0M326.9 1423.5h0M328.6 1422.6h0M330.3 1421.5h0M332.5 1420.4h0M335.8 1419.8h0M339.4 1418h0M342.1 1416.1h0M345.3 1415.3h0M347 1415.3h0M348.4 1414.9h0M349.4 1414.4h0M350.9 1414.4h0M352.1 1413.9h0M355.8 1414h0M358.9 1412.6h0M362.6 1412.5h0M365.7 1411.7h0M368.1 1410.5h0M369.2 1409.5h0M370.9 1409.8h0M372.4 1410.3h0M373.7 1410.1h0M376.1 1410.1h0M379 1411.4h0M382.8 1412.4h0M384.8 1413.9h0M386 1415.4h0M387.2 1416.4h0M386.8 1419.1h0M388.4 1422.6h0M388.9 1426.8h0M391.4 1429.1h0M391.6 1431.1h0M391.3 1433h0M389.5 1433.8h0M387.2 1437.5h0M384.5 1439.3h0M383 1441h0M382.2 1441.7h0M380.3 1441.6h0M378.5 1442.1h0M375.9 1442.1h0M372.9 1442h0M369.1 1442.2h0M365 1442.6h0M363.2 1441.5h0M361.4 1441.4h0M359.3 1440.9h0M359 1440.1h0M356.8 1440.8h0M354.9 1438.4h0M352.3 1438.1h0M349 1437.3h0M344.8 1435.4h0M341.8 1435h0M340.5 1434.8h0M339.1 1433.6h0M337.5 1433.8h0M335.6 1433.2h0M332.9 1431.9h0M327.3 1430.3h0M324.3 1431.2h0M323.6 1429.4h0" stroke="#24787f" stroke-width="2.2" stroke-linecap="round" fill="none"/><path d="M360.7 1427.5h0M365.7 1430.8h0M355.8 1432.5h0M409 1376h0M445.5 1374.3h0" stroke="#ffffff" stroke-width="1.8" stroke-linecap="round" fill="none"/><path d="M295.9 1492.4C298.9 1483.9 297.9 1485.7 305.9 1480.7C313.9 1475.7 312.5 1475.7 322.5 1475.7C332.5 1475.7 331.2 1477.2 339.1 1480.7C347.1 1484.2 342.1 1487.4 349.1 1487.4C356.1 1487.4 353.9 1485.7 362.4 1480.7C370.9 1475.7 369.4 1471.2 377.4 1470.7C385.3 1470.2 385 1472.6 389 1479.1C393 1485.5 393.7 1484.9 390.7 1492.4C387.7 1499.8 380.5 1496 379 1504C377.5 1512 382.2 1511.5 385.7 1519C389.2 1526.4 391.7 1522.4 390.7 1528.9C389.7 1535.4 390.8 1535.6 382.4 1540.6C373.9 1545.5 369.4 1541.1 362.4 1545.5C355.4 1550 358.1 1550.5 359.1 1555.5C360.1 1560.5 366.7 1557.7 365.7 1562.2C364.7 1566.7 362.7 1568.5 355.8 1570.5C348.8 1572.5 350.4 1573.3 342.5 1568.8C334.5 1564.3 337.1 1563.5 329.2 1555.5C321.2 1547.5 323.8 1550.2 315.9 1542.2C307.9 1534.2 308.5 1538.9 302.6 1528.9C296.6 1519 297.9 1519.9 295.9 1509C293.9 1498 292.9 1500.8 295.9 1492.4Z" fill="#35a85a" /><path d="M296.5 1492.2h0M298 1488.8h0M298.8 1486.6h0M299.8 1485.4h0M300.5 1484h0M303.2 1483.3h0M306.4 1480.8h0M309.1 1479.3h0M311.8 1478.3h0M313 1476.7h0M315 1477.3h0M316.6 1475.3h0M318.8 1475.7h0M322.7 1475.5h0M325.8 1476.1h0M328.4 1476.5h0M330.6 1477.2h0M331.8 1478.2h0M333.4 1479h0M336.6 1479h0M339.4 1480.3h0M342 1483.4h0M343.8 1485.3h0M344.5 1485.8h0M346.1 1487.3h0M349 1486.9h0M351.9 1487.9h0M353.9 1487.7h0M355.7 1486.4h0M357.3 1484.5h0M358.7 1482.6h0M362.2 1480.4h0M365.5 1478.8h0M367.9 1477.5h0M368.4 1475h0M370.4 1474.3h0M371.1 1473.1h0M373.2 1472.7h0M374.8 1472h0M377.3 1471h0M381.2 1470.7h0M383.3 1472h0M384.5 1471.8h0M385.9 1473.9h0M386.3 1476h0M388.5 1479.1h0M390.3 1481.6h0M391.5 1483.9h0M391.9 1485.4h0M391.8 1486.5h0M392.3 1489.3h0M390 1491.9h0M389.1 1494.9h0M387 1496.4h0M385.8 1497.4h0M382.9 1497.7h0M381.1 1499.6h0M380.2 1501.3h0M377.9 1503.6h0M378.4 1507.3h0M378.6 1508.9h0M379.8 1511.5h0M380.7 1512.2h0M382.2 1514.1h0M384.5 1515.8h0M385 1519h0M387.6 1522.5h0M388.9 1523.9h0M390.6 1524.4h0M390.6 1526.2h0M390.2 1529.1h0M389.4 1531.4h0M388.7 1533.9h0M388.6 1535.5h0M388.1 1536.6h0M385.7 1538.1h0M382.5 1539.5h0M379.6 1542h0M377.3 1542.9h0M374.6 1543.1h0M373.1 1542.6h0M371.3 1542.8h0M369.3 1543.2h0M366.9 1542.5h0M364.6 1543.6h0M361.9 1545.1h0M358.4 1548.1h0M357.8 1550.2h0M358.5 1552.7h0M358.4 1555.4h0M361.2 1558.1h0M363.4 1558.9h0M364.3 1560h0M365.3 1561.6h0M364.9 1564.7h0M363.8 1566.5h0M362.2 1567.3h0M359.3 1569.6h0M355.6 1570.6h0M352.6 1570.9h0M350.9 1571.7h0M349.9 1572h0M348 1570.9h0M346.3 1570.2h0M342.5 1569.2h0M340.2 1567h0M338.9 1565.5h0M336.9 1564.9h0M336 1563.1h0M335.2 1561.1h0M333.9 1560.1h0M331.9 1557.5h0M329.4 1555.5h0M326.2 1553.3h0M324.8 1550.4h0M323.9 1549.2h0M323.3 1548.7h0M321.2 1548.5h0M320.7 1546.3h0M318.4 1544.6h0M315.8 1542h0M312.8 1539.9h0M311.5 1537.6h0M310.3 1536.6h0M308.5 1536.4h0M307.1 1535.7h0M306.5 1533.9h0M304.4 1531.9h0M302.7 1528.3h0M301 1526h0M299.9 1523.4h0M299.9 1521.5h0M298.6 1520.2h0M297.4 1518.9h0M298.2 1516.5h0M298 1514.5h0M297.1 1511.8h0M296.7 1509.1h0M296.3 1505.2h0M295.4 1502h0M294.2 1500.4h0M294 1499.1h0M294.6 1497.3h0M296.1 1496h0" stroke="#35a85a" stroke-width="2.2" stroke-linecap="round" fill="none"/><path d="M367.4 1485.7h0M364.1 1489h0M345.8 1548.9h0M350.8 1553.9h0M347.4 1558.8h0M357.4 1555.5h0M340.8 1545.5h0" stroke="#ffffff" stroke-width="2" stroke-linecap="round" fill="none"/><path d="M242.7 1507.3C244.9 1505.4 247.4 1504.4 249.4 1505C251.4 1505.5 250.9 1507.1 248.7 1509C246.5 1510.9 244.7 1511.2 242.7 1510.6C240.7 1510.1 240.5 1509.2 242.7 1507.3Z" fill="#35a85a" stroke="#35a85a" stroke-width="1.0" stroke-linejoin="round" /><path d="M138 1509C145.3 1507 153.4 1510.6 166.2 1510.6C179 1510.6 185.5 1506.3 192.8 1509C200.2 1511.7 194.7 1516.5 197.8 1522.3C200.9 1528.1 203 1529.6 206.1 1533.9C209.2 1538.2 212.7 1537.5 211.1 1540.6C209.6 1543.7 206.9 1546 199.5 1547.2C192.1 1548.4 186.9 1545.5 179.5 1545.5C172.2 1545.5 171 1545.3 167.9 1547.2C164.8 1549.2 169 1552.3 166.2 1553.9C163.5 1555.4 160.5 1555.8 156.3 1553.9C152 1551.9 151.8 1549.4 148 1545.5C144.1 1541.7 143.5 1540.7 139.6 1537.2C135.8 1533.7 132.5 1534.9 131.3 1530.6C130.2 1526.3 133.1 1524 134.7 1519C136.2 1513.9 130.6 1510.9 138 1509Z" fill="#e2352a" /><path d="M137.8 1509.4h0M140.2 1508.9h0M142 1509.3h0M144 1508.4h0M145.2 1509.7h0M148.1 1509.5h0M150.5 1509.4h0M152.2 1509.7h0M154.8 1510h0M157 1511.1h0M159.8 1511.1h0M162.9 1511.2h0M166.1 1511.7h0M169.1 1511.7h0M172.3 1509.8h0M175 1510.4h0M176.9 1510.2h0M179.3 1510h0M181.9 1509.4h0M183.3 1508.9h0M185.5 1508.6h0M187.1 1508.1h0M189.3 1507.9h0M190.8 1509.1h0M192.4 1510.2h0M195.6 1511.3h0M196.7 1512.2h0M196 1514.8h0M195.5 1517h0M196.6 1519h0M197.8 1522h0M198.5 1525h0M200.5 1527.2h0M202.1 1529.3h0M203.5 1530.7h0M203.6 1533h0M206.1 1534.2h0M208.7 1537.3h0M210.4 1538.8h0M210.4 1540.5h0M209.3 1541.5h0M209.3 1543h0M207.1 1544.3h0M205.3 1545.3h0M202.2 1545.4h0M199.7 1546.8h0M196.8 1546.7h0M194.6 1546.4h0M193.1 1546.3h0M191 1546.7h0M189 1545.6h0M186.4 1546h0M184.3 1545.3h0M181.7 1544.7h0M179.5 1545.6h0M175.6 1545.3h0M173.3 1545h0M171.3 1545.9h0M169.1 1545.4h0M166.8 1547.1h0M166.3 1549.3h0M166.9 1552h0M166.7 1554.3h0M164.4 1554.9h0M162.3 1553.8h0M159.8 1554.6h0M156.2 1553.4h0M154.2 1551.9h0M153.4 1550.3h0M151.4 1549.9h0M150.1 1547.1h0M148.7 1545h0M146 1542.8h0M144.5 1542.1h0M143.2 1540.7h0M142.3 1538.9h0M140.3 1536.6h0M136.9 1535.3h0M134.5 1534.1h0M132 1533.4h0M131.4 1530.5h0M131.2 1528.4h0M131.1 1526.3h0M133.1 1524h0M133 1522h0M135.5 1519.3h0M135.4 1515.4h0M134.5 1513h0M135.2 1510.5h0" stroke="#e2352a" stroke-width="2.2" stroke-linecap="round" fill="none"/><path d="M49.9 1385.3L63.2 1369.3" stroke="#ea6fb0" stroke-width="2" stroke-linecap="round"/><path d="M63.2 1369.3L69.2 1363.3" stroke="#f5b90f" stroke-width="2" stroke-linecap="round"/><path d="M38.2 1468.4h0" stroke="#999" stroke-width="1.2" stroke-linecap="round" fill="none"/><path d="M48.9 1503.3V1586H132" fill="none" stroke="#000" stroke-width="2.2"/><path d="M48.9 1495.3l-4.6 10.5h9.2z" fill="#000"/><path d="M140 1586l-10.5 -4.6v9.2z" fill="#000"/><text transform="translate(36.6 1548.8) rotate(-90)" y="5.7" font-size="16" text-anchor="middle" fill="#000" font-style="normal">UMAP 2</text><text transform="translate(87.4 1599.4) scale(1 0.935)" y="5.7" font-size="16" text-anchor="middle" fill="#000" font-weight="normal" font-style="normal" >UMAP 1</text>
<text transform="translate(540.6 1139.3) scale(1 0.935)" y="7.7" font-size="21.4" text-anchor="start" fill="#000" font-weight="normal" font-style="normal" >UMAP of major cell types (snATAC-seq)</text><path d="M666.3 1342.7C677.3 1338.7 677.9 1339.6 692.9 1339.4C707.9 1339.2 707 1338.1 716.2 1342.1C725.3 1346.1 723.5 1344.5 723.5 1352.7C723.5 1360.9 721.3 1360.4 716.2 1369.3C711 1378.3 707.7 1374.7 706.2 1382.6C704.7 1390.6 711.2 1388 711.2 1395.9C711.2 1403.9 708.9 1401.3 706.2 1409.2C703.5 1417.2 704.2 1414.6 702.2 1422.5C700.2 1430.5 703.3 1428.8 699.5 1435.8C695.7 1442.8 696.5 1443.8 689.6 1445.8C682.6 1447.8 683.2 1447.5 676.3 1442.5C669.3 1437.5 675.3 1433.2 666.3 1429.2C657.3 1425.2 658.3 1427.7 646.3 1429.2C634.4 1430.7 636.4 1433.7 626.4 1434.2C616.4 1434.7 618.6 1434.3 613.1 1430.8C607.6 1427.4 606.1 1430 608.1 1422.5C610.1 1415.1 612.3 1416.9 619.7 1405.9C627.2 1394.9 625.1 1397.9 633 1386C641 1374 639.4 1376 646.3 1366C653.3 1356 650.3 1359.7 656.3 1352.7C662.3 1345.7 655.3 1346.7 666.3 1342.7Z" fill="#35a85a" /><path d="M666.3 1342.5h0M668.4 1341.6h0M671.4 1342.2h0M673 1340h0M674.2 1339.3h0M677 1341h0M678 1340h0M679.9 1340.3h0M682.2 1339.7h0M683.5 1340.8h0M686.9 1340.2h0M689.2 1340.2h0M692.8 1340.7h0M696.8 1338.7h0M700.3 1340.6h0M702.6 1339.1h0M704.8 1339.3h0M706.4 1339.6h0M708.6 1339.6h0M709.7 1339.3h0M711.6 1340.9h0M713.5 1341.3h0M716.7 1342.3h0M719.7 1344.9h0M722.1 1345.7h0M723.1 1346.9h0M723.3 1348.7h0M722.6 1353.2h0M723.7 1355h0M722.7 1357.7h0M721.2 1358.5h0M721.7 1360.7h0M721 1362.3h0M720 1364.2h0M718.1 1366h0M715 1369.2h0M714.6 1373.1h0M712.1 1374.5h0M709.7 1375.2h0M708.4 1376.8h0M706.9 1377.3h0M706.9 1379.8h0M705.5 1382h0M705.8 1386.1h0M706.9 1388.3h0M707.7 1389.9h0M708.7 1391.1h0M710.6 1393h0M710.4 1396.5h0M711.3 1399.3h0M710.9 1401.6h0M709.1 1402.8h0M708.2 1403.9h0M707.2 1406.2h0M706.2 1409.1h0M704.9 1412h0M702.9 1413.7h0M703 1415.4h0M702.5 1416.9h0M703.1 1419.1h0M701.5 1421.9h0M701.2 1426.1h0M700.9 1428.1h0M700.8 1429.9h0M700.1 1431.2h0M700.7 1432.9h0M699.1 1435.5h0M697.7 1438.1h0M696.4 1440.9h0M694.9 1441.6h0M694.8 1444.1h0M692.1 1444.1h0M689.6 1445.8h0M686.3 1446h0M684.3 1446.3h0M683.5 1445.2h0M681.6 1445.3h0M678.8 1444.9h0M676.9 1441.9h0M673.7 1440.6h0M672.9 1438.2h0M673.2 1435.7h0M672.6 1433.9h0M671.8 1432.4h0M669.1 1431.3h0M666.4 1428.7h0M664.1 1427.2h0M661.6 1426.9h0M659.8 1426.2h0M658.4 1427.4h0M656.7 1426.6h0M654.3 1427.4h0M652.7 1428h0M650.2 1427.6h0M646.1 1428.7h0M642.9 1430.1h0M640 1429.8h0M638.4 1430.7h0M636.6 1432.2h0M635 1433h0M633.2 1433.1h0M631.8 1432.7h0M628.9 1434.1h0M626.7 1434h0M622.7 1434.3h0M620.1 1434.5h0M617.6 1434.5h0M617.2 1432.6h0M615.7 1431.9h0M613.3 1431.5h0M610.6 1428.7h0M607.6 1428.2h0M606.9 1426h0M608.6 1423.1h0M609.6 1420.8h0M609 1418.1h0M610.3 1417.5h0M612.1 1417.3h0M613.6 1415.4h0M614.8 1414.5h0M616.2 1412.8h0M618.2 1409h0M620.5 1406.7h0M622.3 1403.4h0M623.4 1401h0M625.3 1400h0M624.8 1397h0M626.1 1396h0M628 1395.4h0M627.6 1393.2h0M629.2 1391.9h0M631 1388.7h0M633.8 1386h0M636.3 1383.2h0M637 1380.9h0M638.5 1379.1h0M639.9 1376.6h0M640.6 1375.7h0M641.5 1374h0M642.1 1372.5h0M643.6 1371.4h0M645.5 1368.8h0M646.6 1365.9h0M649.2 1363h0M650.2 1360.5h0M651.1 1358.3h0M652.4 1357.9h0M652.6 1356.9h0M654.8 1355.5h0M656.6 1352.7h0M659.3 1350.2h0M660.3 1348.4h0M660.2 1347.3h0M660.1 1345.6h0M662.9 1344.9h0" stroke="#35a85a" stroke-width="2.6" stroke-linecap="round" fill="none"/><path d="M676 1379.8h0M666.1 1395.4h0M656.4 1420h0M674 1426.4h0M669.6 1397.1h0M704.1 1378.5h0M694 1391.4h0M646.4 1419.4h0M635.4 1406.9h0M675 1395.8h0M678.6 1398.7h0M646.9 1407.1h0M658.9 1391.9h0M688.4 1413.2h0M640.8 1406.5h0M665.1 1422.5h0M682.8 1391.3h0M704.5 1382.3h0M655.9 1416.3h0M632.9 1402h0M623.1 1411.5h0M685.8 1406.5h0M695.4 1392.7h0M679.8 1407.6h0M669.9 1400.3h0M660.7 1411.3h0M625 1413.3h0M690.8 1391.1h0M653.1 1411.6h0M624.8 1416.9h0M653.5 1422.3h0M667.2 1423h0M690.6 1421.9h0M643.8 1398.1h0M702.5 1384h0M639.9 1401.8h0M670.7 1390h0M651.7 1406.1h0M702.1 1412.7h0M664.3 1408.8h0M678.2 1378.9h0M697.5 1417.5h0M695.3 1418.4h0M653.7 1397.2h0M628.7 1409.7h0M672.8 1383.9h0M641.6 1394.5h0M660 1401.7h0M649.4 1390.1h0M691.4 1384.6h0M665.4 1383.8h0M694.4 1413h0M642.3 1395.5h0M634.2 1417h0M665.8 1417.4h0M648.2 1387.8h0M693.4 1418.9h0M690.5 1415.3h0M639.3 1403.5h0M642.1 1412.8h0M702.4 1399.8h0M702.3 1395.4h0M673.7 1423.9h0M692.4 1401.5h0M676.2 1418.5h0M627.1 1411.1h0M684.6 1401.4h0M635.2 1418h0M648.5 1418.6h0M703.7 1397h0M682.4 1385h0M650 1405.2h0M703.7 1410.5h0M657.2 1422.4h0M691.2 1387.2h0M641.5 1391.6h0M640.5 1407.2h0M642.2 1398.3h0M650.3 1400.4h0M670.2 1424.1h0M663.1 1404.3h0M657.8 1385.7h0M620.1 1418.5h0M634.6 1401.2h0M682.4 1405.6h0M647.9 1403.6h0M667.8 1417.7h0M628.9 1405.8h0M641.2 1390.7h0M686.5 1403h0M668.3 1416.4h0M698.6 1399.6h0M672.7 1402.9h0M664 1412.8h0M658.8 1404.4h0M680.2 1422.6h0M701.2 1389.8h0M692.4 1383.3h0M630.3 1399.5h0M626.1 1411.6h0M687.5 1423.7h0M633.1 1414.1h0M676.8 1383.6h0M654.2 1401.9h0M633.7 1398.9h0M664.3 1394h0M636.7 1392.9h0M682.2 1377h0M667.6 1399.4h0M673.7 1403.2h0M623.2 1417.4h0M690.5 1389.7h0M669.1 1413.2h0M679.2 1398.6h0M674.6 1418.6h0M659 1394h0M667.6 1425.3h0M665.3 1388.7h0M646.7 1392.2h0M685.4 1391.4h0" stroke="#ffffff" stroke-width="2.4" stroke-linecap="round" fill="none"/><path d="M558.2 1236.3C562.2 1230.1 565.2 1229.2 573.2 1229.7C581.2 1230.1 583.7 1231.8 588.2 1238C592.6 1244.2 590.3 1245.4 589.8 1253C589.4 1260.5 586.5 1257.4 586.5 1266.3C586.5 1275.1 592.5 1279.1 589.8 1286.2C587.2 1293.3 583.6 1291.5 576.5 1292.9C569.4 1294.2 567.7 1294.7 563.2 1291.2C558.8 1287.7 559.5 1286.2 559.9 1279.6C560.3 1272.9 565.3 1273.4 564.9 1266.3C564.4 1259.2 560 1260.9 558.2 1253C556.5 1245 554.2 1242.5 558.2 1236.3Z" fill="#24787f" /><path d="M558.4 1236.1h0M560.8 1234.8h0M561.2 1232.3h0M563.3 1231.3h0M565.5 1230.8h0M567.7 1229.5h0M569.7 1230.5h0M573.6 1230.5h0M576.4 1230.4h0M579.2 1231.7h0M580.8 1230.8h0M582.5 1232.4h0M585 1234.3h0M585.3 1236.7h0M587.3 1238.5h0M588.7 1241.3h0M589.5 1243h0M590.2 1244.6h0M590 1247.4h0M588.9 1249.6h0M589.4 1253.2h0M589.4 1256.2h0M588.3 1257.3h0M587.8 1259.4h0M586.4 1260.2h0M586.1 1263.1h0M585.9 1266.5h0M586.1 1269.1h0M586.4 1271.5h0M586.4 1274.1h0M588.6 1275.7h0M588.3 1277.9h0M589.5 1280.5h0M589.2 1281.7h0M590.6 1284.3h0M590.1 1286.4h0M588.5 1288.9h0M586.2 1290h0M584.5 1291.3h0M582.1 1291.2h0M579.7 1291.5h0M576.3 1293h0M573.1 1293.8h0M570.4 1292.6h0M569.4 1292.9h0M567.2 1293.4h0M566 1291.7h0M564.2 1290.4h0M561.3 1289.4h0M560.9 1286.8h0M559.2 1286h0M560.6 1282.8h0M560.7 1279.4h0M561.1 1276.6h0M561.3 1274.5h0M563.3 1273.7h0M564.1 1271.8h0M564.8 1269.7h0M564.2 1266.1h0M564.6 1262.8h0M563 1261.3h0M562.1 1260h0M560.5 1258.7h0M559 1256.8h0M559.9 1252.3h0M558.5 1249.8h0M557.8 1247h0M556.4 1244.6h0M556.4 1242.8h0M557 1241.4h0M557.7 1238.9h0" stroke="#24787f" stroke-width="2.6" stroke-linecap="round" fill="none"/><path d="M574.9 1259.8h0M570.8 1256.7h0M568.2 1256.6h0M581.1 1267.3h0M566.6 1265.8h0M586.4 1258.4h0M583.3 1264.9h0M574.7 1272.9h0M572 1266.4h0M579.9 1275.9h0M570.7 1272.9h0M580.4 1269h0M572.3 1263.2h0M563 1258.9h0M563.4 1271.1h0M568.4 1259.5h0M563.8 1273.1h0M584.7 1269.7h0M569.1 1261.1h0M569.4 1265.5h0M565.8 1265.2h0M568.6 1275.5h0M568.1 1275.6h0M569.8 1263.4h0M574.2 1266.3h0M566.9 1266.4h0M563.9 1264.3h0M562.7 1256.7h0M569.7 1260.9h0M577.1 1266.8h0M581.5 1269.4h0M580.6 1273.8h0M571.9 1262.8h0M580.8 1269.1h0M585.3 1268.8h0M581.1 1272.5h0M565.3 1266.7h0M575 1272.9h0M583 1272.8h0M577.1 1274.1h0" stroke="#ffffff" stroke-width="1.8" stroke-linecap="round" fill="none"/><path d="M651.3 1266.3C655.8 1260.9 658.8 1259.6 666.3 1259.6C673.8 1259.6 675.2 1260.9 679.6 1266.3C684 1271.6 680.3 1273.4 682.9 1279.6C685.6 1285.8 683.4 1283.3 689.6 1289.5C695.8 1295.7 696.4 1296.6 706.2 1302.8C715.9 1309 713.7 1307.5 726.1 1312.8C738.6 1318.1 747.4 1318.4 752.7 1322.8C758.1 1327.2 755 1330.3 746.1 1329.4C737.2 1328.6 731.9 1324.8 719.5 1319.5C707.1 1314.1 710.2 1313 699.5 1309.5C688.9 1305.9 689.3 1307 679.6 1306.2C669.8 1305.3 670.1 1308.8 663 1306.2C655.9 1303.5 656.5 1303.3 653 1296.2C649.4 1289.1 650.1 1287.5 649.7 1279.6C649.2 1271.6 646.9 1271.6 651.3 1266.3Z" fill="#24787f" /><path d="M652.2 1266.4h0M653.3 1264.1h0M656 1263.1h0M656.9 1261.3h0M658.9 1261.3h0M660.5 1260.2h0M663.4 1260.6h0M666.6 1260.6h0M669.2 1260.8h0M671.4 1261.4h0M673.7 1260.7h0M675.2 1262.4h0M677.7 1264.3h0M678.5 1266.4h0M680.1 1268.9h0M682.2 1270.6h0M681.7 1272.4h0M681.5 1274.1h0M681.9 1276.7h0M683.7 1279.7h0M683.2 1282.4h0M684.2 1284.7h0M685 1285.8h0M686.5 1287h0M689.3 1289.6h0M691.6 1291.7h0M692.8 1292.9h0M694.2 1294.7h0M695.7 1295.9h0M698 1296.9h0M698.5 1298.7h0M699.8 1299.9h0M702.6 1301.3h0M706.6 1302.9h0M708 1305.2h0M710.2 1306.2h0M712.1 1306.5h0M713.5 1308.6h0M714.7 1308.4h0M716.7 1308.6h0M718.1 1309.9h0M720 1310.7h0M722.6 1312.2h0M726.6 1312.4h0M728.5 1314h0M731.8 1315.8h0M734 1316.8h0M737.3 1318h0M740 1318.2h0M742.5 1317.9h0M744.1 1319.6h0M746.4 1319h0M748.2 1320.2h0M748.9 1321.3h0M750.9 1322.3h0M752.7 1323.1h0M754.7 1326.6h0M753.7 1327.8h0M751.5 1329.3h0M746.5 1329.8h0M744 1327.9h0M742.6 1328h0M740.6 1327.4h0M738.7 1326h0M735.9 1326.8h0M735 1325h0M731.7 1324.8h0M729.6 1324.7h0M727.7 1323.1h0M725.9 1320.6h0M722.4 1320.1h0M719.9 1318.5h0M716.1 1317.4h0M714.6 1315.9h0M712 1316.1h0M710.1 1314.2h0M709.2 1313.7h0M707.2 1312.8h0M706.1 1311.3h0M704.9 1311.5h0M702.8 1309.9h0M699.4 1309.6h0M696.8 1307.4h0M693.5 1307.6h0M692.4 1307h0M690.2 1305.8h0M688.7 1306h0M686.4 1305.7h0M684.5 1305.4h0M682.4 1306.5h0M679.3 1305.5h0M675.6 1305.8h0M673.2 1305.8h0M670.9 1306.6h0M669.3 1307.2h0M667.7 1306.3h0M665.8 1307.1h0M663.7 1305h0M660.5 1304.9h0M657.9 1304.4h0M657 1303.1h0M655.7 1300.9h0M654.6 1299.5h0M653.4 1296.3h0M652.6 1292.5h0M650.7 1291.1h0M651.2 1288.8h0M649.6 1287.6h0M650.8 1284.9h0M650.2 1282.6h0M649.6 1279.6h0M650 1276.1h0M648.6 1274.2h0M649.5 1272.3h0M649.3 1270.7h0M650.3 1268.8h0" stroke="#24787f" stroke-width="2.6" stroke-linecap="round" fill="none"/><path d="M736.1 1186.5C739.1 1185.5 735.8 1190.1 742.8 1193.1C749.7 1196.1 751.4 1191.5 759.4 1196.4C767.4 1201.4 762.4 1202.8 769.4 1209.7C776.3 1216.7 777.7 1211.7 782.7 1219.7C787.6 1227.7 781.5 1229.4 786 1236.3C790.5 1243.3 795.6 1239 797.6 1243C799.6 1247 797.1 1245.7 792.6 1249.6C788.1 1253.6 785.7 1246.3 782.7 1256.3C779.7 1266.3 780.7 1268.9 782.7 1282.9C784.7 1296.9 785.3 1292.9 789.3 1302.8C793.3 1312.8 797 1309.2 796 1316.1C795 1323.1 795 1324.1 786 1326.1C777 1328.1 776 1327.8 766 1322.8C756.1 1317.8 757.7 1319.5 752.7 1309.5C747.7 1299.5 749.4 1301.5 749.4 1289.5C749.4 1277.6 755.7 1278.6 752.7 1269.6C749.7 1260.6 747.4 1263.6 739.4 1259.6C731.5 1255.6 733.1 1261.3 726.1 1256.3C719.2 1251.3 721.2 1253 716.2 1243C711.2 1233 711.5 1234 709.5 1223C707.5 1212.1 706.5 1213.4 709.5 1206.4C712.5 1199.4 712.5 1202.8 719.5 1199.8C726.5 1196.8 727.8 1200.4 732.8 1196.4C737.8 1192.5 733.1 1187.5 736.1 1186.5Z" fill="#ee6c1c" /><path d="M736.5 1186.1h0M736.3 1186.9h0M736.8 1188.6h0M738.4 1191.3h0M742.6 1192.3h0M745.5 1194.8h0M748.2 1194.2h0M750.3 1195.6h0M751.6 1195.4h0M753.2 1195.5h0M756.3 1195.7h0M758.9 1198.2h0M761.2 1199.9h0M762.7 1200.6h0M763.6 1202.1h0M764.6 1203.4h0M765.4 1205.4h0M765.9 1207.9h0M769.4 1209.1h0M771 1213.3h0M773.8 1213.6h0M775.7 1215.3h0M777.6 1214.5h0M779.3 1215.1h0M780.4 1217.9h0M782.6 1219.8h0M783.4 1222.9h0M783.4 1225.8h0M783.9 1227.2h0M784.8 1229.3h0M784.6 1231.7h0M783.9 1233.6h0M785.8 1236.4h0M788.3 1239.1h0M790 1241.3h0M792.2 1241.2h0M794.2 1241.7h0M795.6 1242h0M797.7 1243.3h0M798.7 1245.8h0M796 1246.7h0M791.9 1248.8h0M790.1 1251.1h0M788.5 1250.4h0M786.2 1249.3h0M784.1 1252.1h0M781.4 1255.8h0M781.9 1258.2h0M779.8 1260.7h0M781.6 1263.1h0M780.7 1264.1h0M779.8 1266.7h0M780.7 1268.6h0M780.3 1269.6h0M780.9 1271.7h0M780.4 1274.6h0M780.2 1276.6h0M781.8 1279.5h0M781.6 1283.1h0M783.3 1287.1h0M784.4 1290h0M784.2 1292h0M784.5 1294h0M783.7 1295.3h0M786.5 1296.6h0M785.9 1298.4h0M787.3 1299.8h0M789.5 1302.9h0M790.7 1306.8h0M792.8 1309h0M793.9 1311.4h0M795.9 1311.7h0M796.3 1313.3h0M795.9 1316.2h0M794.5 1318.9h0M793.8 1321.1h0M793.9 1322.6h0M792.5 1324h0M790.1 1325.2h0M786.1 1326.7h0M783.7 1326.1h0M781.3 1326.7h0M779.4 1327.1h0M777.6 1326h0M775.2 1325.8h0M774.3 1325.8h0M771.5 1325.3h0M769 1324.2h0M766 1323.1h0M762.8 1320.7h0M761.1 1319.9h0M758.3 1319.3h0M758.6 1317.9h0M755.8 1317.5h0M756.8 1314.4h0M754 1312.5h0M752.3 1309.2h0M751.6 1306.4h0M751.3 1303.8h0M750.1 1302.9h0M748.9 1301.3h0M751.1 1299.1h0M749.2 1297.6h0M748.9 1295.3h0M749.7 1293.2h0M750 1289.4h0M751.2 1286.1h0M749.8 1283.3h0M752.2 1281.9h0M751.9 1279.1h0M753.2 1278h0M753.8 1276h0M753.2 1274.2h0M754 1272.2h0M752.7 1269.7h0M751.4 1266.5h0M751 1264.1h0M748.6 1263h0M747.1 1263.1h0M744.9 1261.1h0M742.2 1261.3h0M739.1 1259.3h0M736.8 1257.2h0M733.6 1256.6h0M732.7 1259h0M730.7 1257.6h0M729.1 1257.6h0M726.6 1254.9h0M723.6 1254.3h0M722.5 1252.8h0M720.3 1252.6h0M720.9 1250.3h0M719.9 1248.6h0M717.6 1246.6h0M716.5 1243h0M715 1239.6h0M714.5 1236.9h0M712.5 1236.2h0M712.4 1234h0M711.4 1232.2h0M711.1 1230.7h0M711.2 1228.4h0M709.5 1226.4h0M709.4 1223.5h0M708.5 1219.4h0M707.9 1216.1h0M707.6 1214.5h0M707.8 1212.1h0M708.9 1210.9h0M708.8 1208.6h0M709.8 1206.3h0M712.2 1203.4h0M713.1 1203.3h0M713.4 1201.6h0M716.4 1200.5h0M720.2 1200.6h0M722.9 1200.3h0M725 1198.3h0M726.7 1198.8h0M729.1 1198.3h0M730.7 1198.1h0M732.8 1196.8h0M734.5 1193.7h0M735.3 1190.8h0M734.5 1188h0" stroke="#ee6c1c" stroke-width="2.6" stroke-linecap="round" fill="none"/><path d="M746.7 1259.4h0M741.8 1257.2h0M744.5 1259h0M751.3 1261.2h0M739.6 1254.1h0M748.9 1244.7h0M748.6 1243.2h0M739.2 1249.1h0M738.6 1259.1h0M750.1 1256.9h0M725.4 1244.8h0M749.1 1246.5h0M746.3 1259.4h0M746.4 1246h0M740.1 1251.8h0M738.1 1240.3h0M758.5 1267.5h0M737.4 1245.3h0M752.2 1253.3h0M754.9 1259.7h0M737.5 1246.4h0M756.4 1260h0M734.3 1249.4h0M733.9 1250.6h0M729.4 1245.2h0M739.9 1242.7h0M754.8 1263.3h0M748.7 1251.3h0M749.5 1257.8h0M738.3 1247.8h0M745.7 1246.3h0M741.7 1249.5h0M726.2 1241.7h0M739.3 1243.7h0M737.4 1241h0M727.2 1239.4h0M733.1 1239.4h0M729 1244.9h0M749.4 1250.1h0M736 1253.8h0" stroke="#ffffff" stroke-width="1.6" stroke-linecap="round" fill="none"/><path d="M889.1 1153.2C896 1149.7 896.7 1149.2 905.7 1153.2C914.7 1157.2 912 1161 919 1166.5C926 1172 926.5 1167 929 1171.5C931.4 1176 932.3 1174 927.3 1181.5C922.3 1189 920.8 1187 912.3 1196.4C903.8 1205.9 908 1205.1 899 1213.1C890.1 1221 890.4 1219.6 882.4 1223C874.4 1226.5 875.4 1229.7 872.4 1224.7C869.4 1219.7 870.9 1218.9 872.4 1206.4C873.9 1194 874.4 1195.6 877.4 1183.1C880.4 1170.7 878.9 1173.8 882.4 1164.9C885.9 1155.9 882.1 1156.7 889.1 1153.2Z" fill="#a66cc6" /><path d="M889.7 1154.4h0M892.1 1152.7h0M894.1 1150.1h0M895.3 1150.7h0M897.5 1151.4h0M899.4 1150.2h0M902.8 1151.6h0M906.3 1152.8h0M908.3 1154.2h0M910.4 1156.8h0M911.1 1159.1h0M912.6 1159.2h0M912.8 1161.4h0M914.8 1162.9h0M916.2 1164.5h0M919.3 1165.8h0M922.4 1168.2h0M924.7 1169h0M926.3 1170.1h0M927.8 1169.2h0M927.5 1171.9h0M929.1 1174.1h0M930.8 1175.5h0M930.1 1177.9h0M926.1 1180.9h0M925.5 1183.4h0M923.7 1184.4h0M923.2 1186.7h0M921.9 1187.9h0M919.9 1187.9h0M918.1 1189.1h0M917.7 1192.2h0M914.8 1193.7h0M911.5 1195.7h0M909.6 1198.2h0M908.1 1201h0M905.7 1202.8h0M906.4 1204.8h0M904.4 1205h0M905.2 1207.9h0M902.8 1208.6h0M902 1210.9h0M898.7 1212.9h0M895.9 1215.6h0M893.3 1216.7h0M891.6 1217.5h0M889.6 1218.2h0M889.1 1220.7h0M886.3 1219.8h0M884.4 1221.1h0M881.4 1221.9h0M877.3 1224.5h0M875.9 1226.9h0M874.2 1227.8h0M873.4 1223.9h0M872.7 1222.6h0M872.3 1221.7h0M870.1 1220.2h0M871.9 1218.8h0M872.1 1216.4h0M871.6 1213.8h0M872.4 1210.7h0M872.7 1206.7h0M872.4 1203.3h0M874.7 1200.8h0M873.2 1198h0M875.6 1196.4h0M874.6 1194.6h0M875.5 1193.7h0M874.2 1191.3h0M876.5 1189.6h0M878.3 1186.3h0M876.7 1182.8h0M879.4 1179.7h0M879.9 1176.2h0M880.3 1174.7h0M881.2 1173h0M881.6 1171.8h0M881.1 1169.6h0M882.8 1168h0M882.4 1164.9h0M884.6 1161.4h0M884.1 1158.2h0M885.1 1157h0M886.1 1156h0M887 1155.7h0" stroke="#a66cc6" stroke-width="2.6" stroke-linecap="round" fill="none"/><path d="M902.4 1296.2C909 1291.8 910.1 1290.6 919 1296.2C927.8 1301.7 924.5 1303.9 929 1312.8C933.4 1321.7 940 1319.5 932.3 1322.8C924.5 1326.1 916.8 1327.2 905.7 1322.8C894.6 1318.4 900.1 1318.4 899 1309.5C897.9 1300.6 895.7 1300.6 902.4 1296.2Z" fill="#ee6c1c" stroke="#ee6c1c" stroke-width="1.0" stroke-linejoin="round" /><path d="M940.6 1289.5C943.9 1288.9 943.6 1299.5 945.6 1306.2C947.6 1312.8 953.2 1319.5 950.6 1322.8C947.9 1326.1 936.6 1325.4 932.3 1322.8C928 1320.1 927.3 1316.1 929 1309.5C930.6 1302.8 937.3 1290.2 940.6 1289.5Z" fill="#a66cc6" stroke="#a66cc6" stroke-width="1.0" stroke-linejoin="round" /><path d="M805.9 1322.8C816.9 1315.8 816.9 1316.1 835.9 1316.1C854.8 1316.1 849.2 1319.8 869.1 1322.8C889.1 1325.8 882.4 1326.1 902.4 1326.1C922.3 1326.1 919.6 1324.8 935.6 1322.8C951.6 1320.8 946.6 1313.5 955.5 1319.5C964.5 1325.4 961.5 1329.8 965.5 1342.7C969.5 1355.7 965.4 1352.7 968.8 1362.7C972.3 1372.7 978.2 1369 977.2 1376C976.2 1383 974 1380 965.5 1386C957 1391.9 958.4 1389.4 948.9 1395.9C939.4 1402.4 940.2 1401 933.9 1407.6C927.7 1414.2 932.9 1406.6 928 1417.9C923 1429.1 922.2 1428.9 917.3 1445.1C912.4 1461.4 912.3 1453.2 911.7 1472.1C911.1 1490.9 914.2 1486.4 915.3 1508C916.4 1529.5 918 1527.6 915.3 1543.9C912.6 1560.1 915 1554.1 906.3 1562.2C897.7 1570.3 900.6 1570.8 886.4 1570.8C872.2 1570.8 873.3 1568.8 859.1 1562.2C845 1555.6 849.2 1557.9 839.2 1548.9C829.2 1539.9 832.9 1543.2 825.9 1532.2C818.9 1521.3 820.9 1524.3 815.9 1512.3C810.9 1500.3 810.3 1505.3 809.3 1492.4C808.3 1479.4 812.6 1482 812.6 1469.1C812.6 1456.1 812.2 1459.1 809.3 1449.1C806.3 1439.2 809.6 1441.8 802.6 1435.8C795.6 1429.8 795 1433.2 786 1429.2C777 1425.2 778.7 1428.5 772.7 1422.5C766.7 1416.5 766 1418.2 766 1409.2C766 1400.3 766.7 1402.6 772.7 1392.6C778.7 1382.6 779 1387 786 1376C793 1365 792 1367 796 1356C799.9 1345.1 796.3 1349.4 799.3 1339.4C802.3 1329.4 795 1329.8 805.9 1322.8Z" fill="#1fa3cb" /><path d="M807 1323.5h0M808.8 1322.1h0M810.5 1321h0M812.8 1319.2h0M814.7 1319h0M815.4 1317.6h0M817.5 1316.8h0M818.2 1316.3h0M820.8 1317.8h0M822.6 1316.7h0M825.8 1316.6h0M828.3 1317.4h0M831.6 1315.9h0M835.9 1316.3h0M839.8 1316.7h0M842.8 1316h0M844.5 1317.1h0M846.6 1317.1h0M848.6 1318.5h0M849.6 1317.8h0M850.8 1318.9h0M852.1 1319.2h0M854 1320.5h0M855.3 1320.8h0M857.7 1321.8h0M859.2 1321.8h0M862 1322.4h0M865.3 1323h0M869 1323.2h0M873 1323.2h0M875.4 1324.6h0M878.3 1323.8h0M880 1325.5h0M881.4 1326.5h0M884.1 1325.2h0M885.1 1326.5h0M885.9 1327.2h0M888.2 1326.7h0M889.3 1325.8h0M891.5 1327h0M893.2 1326.5h0M896 1325.8h0M899 1326.2h0M902 1327h0M905.7 1326.1h0M909.7 1325.9h0M911.9 1326.4h0M913.8 1326.7h0M916 1326.2h0M918.4 1326h0M920.2 1326h0M920.9 1325h0M922.5 1325.5h0M924.1 1324.4h0M925.9 1324.3h0M928.1 1325.4h0M930.2 1323.9h0M932.6 1324.1h0M935.5 1322.7h0M940.1 1322.6h0M944 1321.5h0M945.9 1320.1h0M947.5 1319.2h0M948.4 1317.6h0M950.2 1318.3h0M951.2 1317.7h0M953.3 1318.2h0M954.9 1321h0M957.2 1321h0M959.7 1322.4h0M960.8 1323.9h0M960.1 1326.2h0M961.9 1327.1h0M961.7 1329.5h0M961.8 1331.3h0M964.3 1333.9h0M963.1 1336.6h0M965.3 1339.8h0M965.2 1342.5h0M965 1346.8h0M967.3 1349.7h0M966.6 1351.2h0M967.9 1353.3h0M967 1354.3h0M966.1 1356h0M967.6 1357.1h0M967.4 1359.9h0M967.7 1362.9h0M970.4 1366.6h0M972.1 1368.6h0M973.5 1370.3h0M974.8 1371.4h0M975.4 1373.3h0M977 1373.3h0M977 1375.6h0M977 1378.9h0M974.7 1379.6h0M974 1380h0M971.6 1380.7h0M968.6 1382.5h0M964.9 1385.7h0M961.8 1386.9h0M960.6 1388.9h0M958.2 1388.4h0M957.2 1391.1h0M956 1391.4h0M954.2 1392.2h0M952.7 1394.8h0M948.8 1396.1h0M945.9 1397.6h0M943.1 1398.2h0M942.2 1401.3h0M940 1401.9h0M938.8 1402.3h0M937.3 1403.6h0M936.4 1405.3h0M934 1406.9h0M931.5 1409.9h0M930.2 1410.4h0M930.8 1411.2h0M929.2 1413.4h0M926.8 1417.5h0M927.5 1420.8h0M924.5 1421.7h0M925.1 1424.1h0M923 1425.6h0M922.6 1426.5h0M921.9 1429.1h0M922.4 1430.4h0M921.2 1431.3h0M920.8 1433.7h0M918.6 1435.5h0M918.5 1438.7h0M918.9 1441.6h0M917.3 1445.5h0M915.6 1448.5h0M915.2 1450.9h0M914.7 1453.9h0M913.2 1454.5h0M913.2 1455.9h0M912.5 1457.5h0M912.8 1458.4h0M911.2 1459.7h0M911.4 1462.3h0M912 1465.1h0M912 1467.6h0M910.9 1472.2h0M910.1 1475.4h0M910.3 1478h0M911.6 1480.6h0M910.9 1482.4h0M911 1484.4h0M911.3 1486.5h0M911.4 1487.9h0M912 1488.9h0M912.4 1490.8h0M912.7 1492.5h0M914.3 1493.5h0M914.6 1495.5h0M913 1498.9h0M915.6 1500.5h0M914.6 1504.5h0M914.3 1508.1h0M914.9 1511.6h0M915.6 1514.9h0M916.3 1518h0M915.3 1520.9h0M916.6 1522.8h0M916.9 1524.1h0M915.8 1526.8h0M915.6 1528h0M917.3 1529.7h0M916.7 1531.5h0M916.1 1532.3h0M916 1534.3h0M915.7 1536.5h0M915.4 1538.1h0M916.7 1541.1h0M915.5 1544h0M915.1 1548.1h0M913.5 1552h0M912.3 1554h0M912.3 1555.2h0M911.7 1555.5h0M911.5 1557.1h0M910.2 1557.1h0M908.8 1559.7h0M905.2 1561.4h0M903.5 1564.5h0M902.3 1566.1h0M899.9 1568.2h0M898.9 1568.5h0M897.4 1569.2h0M896.1 1570.9h0M894 1570.4h0M890.3 1570.7h0M886.4 1569.2h0M883.6 1569.1h0M880.9 1571.4h0M879.3 1569.4h0M877.1 1569.3h0M875.3 1568.5h0M874.1 1569.2h0M872.4 1568.4h0M870.6 1567.8h0M868.6 1566.6h0M867.6 1565.1h0M865 1563.6h0M862.3 1563.4h0M859.5 1561.9h0M856.4 1558.9h0M852.7 1558.5h0M850.8 1557.1h0M849 1557.1h0M847.5 1556.7h0M846.9 1554.7h0M846.1 1554.4h0M844.1 1552.3h0M841 1551.7h0M839.1 1548.2h0M836.2 1546.7h0M834.7 1544.3h0M832 1543.8h0M832.8 1540.6h0M832 1540h0M830.4 1539.2h0M829.9 1536.9h0M828 1535.2h0M826.6 1531.4h0M823.8 1529.9h0M824.2 1525.9h0M822.7 1525h0M820.4 1524.2h0M819.5 1523.1h0M820 1520.8h0M819.2 1520.1h0M818.3 1517.7h0M818.1 1514.7h0M816.7 1512.3h0M815.7 1508.7h0M813.2 1505.8h0M811.5 1505.3h0M812.1 1502.8h0M811.5 1502.1h0M810.7 1500.8h0M809.7 1498.9h0M809.2 1496.4h0M809.5 1492.1h0M809.5 1488.4h0M810.8 1486.6h0M810.3 1484.3h0M811.6 1483h0M810.7 1480.5h0M811.4 1479.7h0M812.5 1477.8h0M811.9 1475h0M813.9 1472.8h0M812.7 1468.7h0M812.3 1465.7h0M813.9 1462.5h0M813.7 1460.1h0M813.3 1458.5h0M812.1 1457.3h0M811.5 1455.8h0M812.4 1454h0M811.8 1451.9h0M810.8 1448.9h0M807.7 1444.9h0M808.8 1442.7h0M806.6 1441.5h0M807.6 1439.1h0M806.7 1436.6h0M803.4 1435.4h0M800.7 1433.7h0M798.6 1432.8h0M796.9 1431.7h0M794.6 1431.8h0M793.4 1431.9h0M791.3 1430.2h0M789.1 1430.2h0M785.6 1429.2h0M782.5 1427.3h0M780.6 1425.7h0M777.9 1427.3h0M777.5 1425.2h0M775.3 1425.1h0M773 1421.3h0M769.9 1420.4h0M768.9 1418.5h0M767.4 1416.5h0M767.3 1415.1h0M766.9 1413.1h0M766.4 1409.5h0M765.5 1406.1h0M767.2 1404.2h0M767.2 1402.6h0M768.1 1401.8h0M768.5 1399.8h0M769.3 1398.4h0M771.7 1396.6h0M773.4 1393.6h0M775.1 1389.5h0M775.3 1387.4h0M777.9 1386.7h0M779.2 1385.8h0M780.7 1385h0M781.6 1383.4h0M781.8 1381.2h0M783.6 1378.6h0M786.2 1375.5h0M787.7 1373.7h0M790.4 1371h0M790.4 1368.4h0M791.5 1367.7h0M793.5 1367.1h0M793.2 1365h0M794.1 1363.5h0M795.2 1361.5h0M796.1 1359.1h0M796.1 1356.2h0M797.5 1352.5h0M797.6 1349.2h0M797.3 1348.1h0M798.1 1347.1h0M797.6 1345.3h0M799.3 1343.5h0M798.9 1339.5h0M801.1 1336.7h0M800.9 1333.7h0M800.4 1331.5h0M800 1329.7h0M800.2 1328.8h0M801.3 1327.8h0M803.2 1325.7h0" stroke="#1fa3cb" stroke-width="2.6" stroke-linecap="round" fill="none"/><path d="M738.1 1320.1C744.1 1313.5 742.8 1316.8 760.1 1316.1C777.3 1315.5 774 1315.5 790 1318.1C805.9 1320.8 802.6 1313.5 807.9 1324.1C813.2 1334.8 807.9 1331.4 805.9 1350.1C803.9 1368.7 807.3 1363.3 801.9 1380C796.6 1396.6 800.6 1389.3 790 1399.9C779.3 1410.6 780 1410.6 770 1411.9C760.1 1413.2 765.4 1414.6 760.1 1403.9C754.7 1393.3 757.4 1395.9 754.1 1380C750.7 1364 754.1 1370.7 750.1 1356C746.1 1341.4 746.1 1348.1 742.1 1336.1C738.1 1324.1 732.1 1326.8 738.1 1320.1Z" fill="#3d9c84" stroke="#3d9c84" stroke-width="1.0" stroke-linejoin="round" /><path d="M938.9 1372.7C942.4 1368 948.3 1363.7 952.2 1366C956.1 1368.3 955.9 1375.7 955.5 1382.6C955.2 1389.6 951.3 1388.6 950.6 1395.9C949.8 1403.3 953.4 1410.7 952.2 1414.2C951.1 1417.7 947.5 1415.2 945.6 1410.9C943.6 1406.6 945.9 1401.8 943.9 1395.9C942 1390.1 938.4 1391.4 937.3 1386C936.1 1380.5 935.4 1377.3 938.9 1372.7Z" fill="#e2352a" /><path d="M940.1 1373h0M942 1371.3h0M944.3 1370h0M945.8 1368.4h0M947.9 1365.6h0M949.8 1366.2h0M951.6 1368.1h0M953.9 1367.1h0M954.6 1369.3h0M954.7 1370.9h0M955.8 1373.8h0M954.7 1376.3h0M954.8 1379.2h0M956.3 1382.2h0M954.5 1385.6h0M952.8 1386.6h0M952.6 1388.8h0M951.6 1390.1h0M952 1393.4h0M949.9 1395.7h0M949.7 1398.4h0M951.3 1401.5h0M951.4 1404.4h0M950.4 1406.8h0M951.3 1409.1h0M952.5 1410.9h0M952.8 1412.7h0M950.7 1413h0M950.5 1416.7h0M947.2 1415.2h0M945.7 1410.9h0M945.5 1408.4h0M944.5 1406.2h0M945.1 1404.3h0M945 1401h0M945.8 1398.9h0M945.4 1395.5h0M942.4 1393.5h0M941.2 1390.8h0M939.9 1389.9h0M938.2 1388h0M938.7 1385.7h0M937.3 1383.1h0M937.5 1380.7h0M936 1378.6h0M938.6 1377.2h0M938.4 1375.5h0" stroke="#e2352a" stroke-width="2.6" stroke-linecap="round" fill="none"/><path d="M672.9 1495.7C675.6 1494.8 677.6 1499.7 682.9 1502.3C688.2 1505 687.6 1507 692.9 1505.7C698.2 1504.3 698.4 1496.5 702.9 1497.3C707.3 1498.2 704.2 1504.1 709.5 1509C714.8 1513.9 716.6 1511.2 722.8 1515.6C729 1520.1 731 1519.4 732.8 1525.6C734.6 1531.8 726.8 1534 729.5 1538.9C732.1 1543.8 741.9 1539.5 742.8 1543.9C743.6 1548.3 734.6 1550.2 732.8 1555.5C731 1560.8 739.7 1562.5 736.1 1563.8C732.6 1565.2 728.4 1561 719.5 1560.5C710.6 1560.1 710.8 1561.3 702.9 1562.2C694.9 1563.1 695.8 1566.5 689.6 1563.8C683.4 1561.2 684.9 1558.8 679.6 1552.2C674.3 1545.5 672.7 1545.1 669.6 1538.9C666.5 1532.7 665.3 1534.2 668 1528.9C670.6 1523.6 678.3 1525.2 679.6 1519C680.9 1512.7 674.7 1511.9 672.9 1505.7C671.2 1499.4 670.3 1496.6 672.9 1495.7Z" fill="#e2352a" /><path d="M673.2 1495.5h0M674.4 1496.1h0M675.3 1497.9h0M677 1499.9h0M680.4 1500.4h0M681.6 1503.8h0M685 1505h0M688 1505.6h0M689.7 1505.7h0M693.3 1506.2h0M695.2 1504.1h0M697.8 1502h0M700 1499.9h0M701.3 1498.4h0M703.2 1496.1h0M704 1498.1h0M705.9 1499.6h0M706.1 1502h0M707.3 1503.9h0M706.9 1507.1h0M708.9 1509.7h0M712.1 1511h0M713.4 1513.4h0M716.2 1512.7h0M717 1514.2h0M719.7 1513.3h0M722.1 1516.2h0M725.2 1517.5h0M728.3 1518.3h0M729.6 1519.6h0M730.7 1521.3h0M731 1523.2h0M731.6 1526.2h0M731.7 1528.1h0M730.2 1529.6h0M731.2 1532.8h0M729.4 1535h0M727.3 1537h0M728.9 1539h0M730.7 1540.9h0M733.4 1542h0M736.7 1543.3h0M738.9 1542.2h0M741.8 1541.6h0M742.8 1544h0M742.2 1545.7h0M740.3 1546.7h0M739.5 1550.3h0M736.8 1551.4h0M734.9 1554h0M733.2 1556h0M731.8 1559h0M735.5 1561h0M736.5 1563h0M735.4 1562.6h0M735 1562.3h0M732.9 1564.3h0M730.7 1563.1h0M728.4 1563h0M726.3 1561.8h0M722.9 1559.9h0M719.2 1559.6h0M716.4 1560.9h0M713.6 1559.9h0M711 1559.2h0M710 1559.3h0M707.7 1562h0M706 1561.7h0M702.7 1561.9h0M699.4 1561.5h0M697.2 1562.8h0M694.8 1562.7h0M694.3 1564.6h0M691.6 1565.3h0M689.8 1564.1h0M687.7 1562.4h0M685.8 1561.1h0M685.2 1558.5h0M682.9 1557.5h0M683.4 1554.6h0M680.7 1550.8h0M677.6 1549h0M677.5 1546.5h0M674.3 1545.6h0M674.6 1544.3h0M672.5 1542.4h0M671.1 1541h0M669 1539h0M668 1535.1h0M667.3 1533.6h0M667.8 1532.2h0M667.6 1528.5h0M670.8 1527.8h0M671.5 1525.1h0M674.8 1526.1h0M677.8 1524.8h0M678.2 1520.9h0M680.3 1518.8h0M680.2 1516.4h0M678.8 1513.7h0M676.8 1512.8h0M675.8 1511.2h0M674.8 1507.7h0M672.2 1505.9h0M672.1 1501.3h0M672.6 1498.9h0M672.9 1497.6h0" stroke="#e2352a" stroke-width="2.6" stroke-linecap="round" fill="none"/><path d="M764.4 1348.5h0M805.7 1328.2h0M773.3 1376.4h0M798.4 1336.8h0M757 1339.9h0M766 1358.8h0M800.6 1361.5h0M765.4 1404.9h0M806 1339.9h0M745.7 1330.9h0M774.6 1381.4h0M783.3 1389.4h0M770 1368.9h0M783.2 1345.2h0M747 1340.2h0M782.5 1383h0M745.9 1322.9h0M774.7 1372h0M765.2 1337.5h0M759.2 1360.3h0M799.8 1361.6h0M754.5 1339.8h0M759.6 1318.2h0M772.9 1380.7h0M767.4 1340.8h0M753.9 1319.4h0M761.7 1356.4h0M785.8 1335.1h0M793.8 1386.9h0M773.4 1335.8h0M805.8 1346h0M795.4 1338.2h0M772.7 1334.1h0M753.7 1356.1h0M748 1321.1h0M803.2 1347.7h0M790.2 1319.2h0M784.5 1352.4h0M764.2 1347.9h0M757.6 1349.8h0M804.8 1328h0M805.4 1336h0M763 1394.8h0M795.5 1357.5h0M764.1 1404.2h0M751.6 1351h0M766.8 1393.9h0M791.6 1320h0M740.5 1322.1h0M802.3 1340.7h0M761.8 1342.2h0M756.4 1384.8h0M760.2 1342.5h0M802.1 1376.8h0M754.4 1361.6h0M765.1 1340.2h0M768.1 1363.4h0M802.9 1333.7h0M794.1 1386.9h0M795.6 1390.1h0M780.5 1347.5h0M760.4 1350.8h0M792.7 1323.7h0M755.4 1322.3h0M756.6 1324.2h0M787.7 1358.9h0M754.5 1356.1h0M781.4 1380.7h0M790.3 1397.2h0M784.5 1327.7h0M796.8 1344.3h0M777.7 1351.9h0M789.6 1335.2h0M755.4 1339.6h0M778.5 1347.4h0M773.5 1338.3h0M794.6 1378.7h0M807.3 1325.9h0M771.3 1394.6h0M746.4 1334.3h0M803.1 1351.8h0M798.6 1359.1h0M804.1 1326.3h0M779.7 1375.5h0M753.3 1351.4h0M748 1335.7h0M755.9 1373.5h0M783.6 1335.6h0M785.5 1333.9h0M759.9 1335.6h0M793.6 1368.6h0M742.5 1325.8h0M765.7 1368.8h0M782.7 1324.9h0M766.7 1343.3h0M759.9 1370.4h0M763 1356h0M763.5 1335h0M788.9 1335.6h0M767.7 1394.7h0M766.5 1400.7h0M770.3 1331.7h0M782.8 1403.3h0M764 1364.4h0M748.3 1343.3h0M774.5 1404.8h0M751.9 1328.3h0M771.8 1321.2h0M802.8 1353.3h0M801.2 1375.5h0M795.7 1331.5h0M793 1337.4h0M766.3 1397.2h0M796 1333.7h0M753.3 1354.4h0M774.3 1352.9h0M746.7 1339.8h0M791 1319.8h0M796.6 1327.4h0M780 1368.8h0M781.9 1345.5h0M767.4 1371.9h0M767.8 1379.2h0M769.3 1358.1h0M772.3 1338.7h0M791.4 1390.8h0M770.1 1333.3h0M771.1 1326.4h0M773.7 1320h0M782.5 1324h0M789.3 1390.6h0M773.8 1321.3h0M773.3 1352.3h0M804.5 1329.2h0M789.2 1394.2h0M772.4 1407.7h0M802.1 1331.9h0M790.9 1331.3h0M800.7 1342.5h0M795.1 1329.9h0M773.2 1404.2h0M752.7 1341.3h0M773.4 1346.7h0M785.6 1401.9h0M782.5 1350.6h0M799.1 1369.3h0M778.6 1400.6h0M782.1 1353.9h0M793.8 1341.5h0M763.3 1389.4h0M769 1333.1h0M790 1320.8h0M795.3 1340.4h0M779 1379.7h0M759.9 1316.3h0M781.1 1357.5h0M773.9 1401.9h0M747.3 1337.9h0M783.7 1318.3h0M753.8 1372h0M779.2 1335.7h0M781.7 1361.6h0M755.1 1330.4h0M766.2 1341.4h0M777.4 1349.7h0M783.2 1358.6h0M766.5 1338.9h0M803.8 1329.8h0M773.5 1377.6h0M794.9 1332.9h0M759.7 1344.9h0M792.8 1384.6h0M790.1 1360.7h0M789.9 1359.5h0M753.9 1326.2h0M754.3 1319.9h0M761.5 1387.9h0M786.6 1397.1h0M787.8 1341.6h0M776.8 1357.9h0M793.2 1366.2h0M756.6 1377.6h0M805.5 1336.9h0M756.3 1338.7h0M790.2 1347.4h0M799.6 1347.6h0M782.1 1382.5h0M770.9 1396.5h0M786.8 1398.2h0M768.6 1385.5h0M777.9 1345.6h0M748.2 1318.7h0M762.2 1329.7h0M740.1 1320.1h0M786.5 1376.8h0M786.8 1386.7h0M763.5 1394.4h0M745.6 1335.8h0M745.9 1319.4h0M782.4 1395.1h0M782.2 1343.7h0M745.1 1325.5h0M791 1335.8h0M760.4 1356.7h0M757.8 1384.7h0M763.8 1346.9h0M797.6 1375.3h0M768.6 1390.2h0M762.3 1383.6h0M775.7 1336.9h0M798.3 1324.8h0M795.3 1332.5h0M772.4 1392.4h0M762.3 1395.8h0M757.9 1336.7h0M786.9 1363.9h0M786.8 1391.5h0M781.9 1350.2h0M766.1 1353.9h0M800.3 1324.4h0M752.5 1341.3h0M801 1364.1h0M764.6 1400.8h0M754.4 1360.3h0M775.2 1388.4h0M790.7 1378h0M762.4 1347.4h0M784.3 1387.2h0M792.1 1371.6h0M799.9 1338.9h0M751.5 1345h0M787.2 1396.9h0M748.9 1331.1h0M755.4 1347.4h0M774.6 1331.5h0M761 1334.3h0M789.3 1357.8h0M745.6 1335.9h0M765.2 1319.4h0M766 1391.9h0M786.5 1364.1h0M782.3 1360.5h0M766.4 1387.1h0M801.5 1357.3h0M778.2 1387.9h0M767.5 1338h0M788.5 1400.4h0M792.2 1383.2h0M797.6 1381.2h0M782.9 1359.6h0M760 1376.3h0M792.7 1384.4h0M782.1 1340.1h0M767.7 1359.7h0M781.5 1355.3h0M792.4 1353.4h0M772.3 1409.5h0M803.8 1365.9h0M775.9 1384.8h0M773.9 1377.3h0M796 1366.1h0M766.8 1406.9h0M765.5 1389.2h0M762.9 1321.6h0M757.3 1354.4h0M767.5 1383h0M762.7 1341.5h0M765.5 1336.4h0M794.6 1376.9h0M770.9 1370h0M762.8 1377.3h0M770.8 1344.3h0M776.4 1328.1h0M796.3 1350.1h0M797.5 1341.7h0M764.4 1340.4h0M767.9 1333.9h0M757.7 1339.6h0M759.2 1362.1h0M768 1377.2h0M784.1 1350.8h0M783.9 1340.1h0M745.2 1329.8h0M762.3 1330.8h0M780.6 1390.9h0M784.8 1401.7h0M775.2 1387.2h0M768.7 1400.7h0M776.9 1341.5h0M754.5 1329.5h0M772.5 1321.7h0M770.7 1330h0M772.4 1363.8h0M775.8 1398.8h0M770.8 1370h0M784.6 1396.6h0M764.3 1356.2h0M805.2 1323.4h0M782.6 1377h0M773.8 1362.5h0M788.3 1376h0M761.7 1398.6h0M763.7 1361.6h0M774.8 1389.9h0M752.8 1357.8h0M767.6 1369.2h0M795.8 1344.2h0M795.9 1354.8h0M773.3 1342.2h0M773.5 1409.5h0M783.8 1392h0M761.2 1346.5h0M759 1372.3h0M782.4 1391.2h0M799.9 1368.4h0M802.4 1374.4h0M784.1 1391.7h0M801.6 1374.7h0M781.2 1376.2h0M786.7 1373.2h0M785.7 1336.5h0M784.7 1360h0M791.4 1325.8h0M750.8 1319.7h0M783.9 1351.5h0M777.4 1340.8h0M759.2 1356.5h0M760.3 1357.4h0M740.9 1327.5h0M794.7 1371.2h0" stroke="#35a85a" stroke-width="2.6" stroke-linecap="round" fill="none"/><path d="M802.2 1358.9h0M779.4 1405.9h0M766.9 1325.9h0M783.1 1336.5h0M788.3 1339.3h0M789.3 1334.1h0M787.9 1398.1h0M789.1 1324.2h0M782 1384h0M770.3 1405.4h0M795.2 1323.8h0M759.8 1386h0M772.1 1321.9h0M763.8 1371.2h0M768.7 1381h0M763.5 1377.9h0M782.1 1356.2h0M765 1391.4h0M777.7 1344.1h0M787.2 1395.4h0M761.3 1374.1h0M780.1 1345.7h0M768 1401.2h0M764.4 1381.7h0M780.1 1401.9h0M794.5 1343.3h0M767.6 1372.3h0M778 1342.4h0M762.3 1324.3h0M776.8 1392.5h0M803.2 1338.5h0M780.5 1381h0M770.6 1335.9h0M793.4 1360.2h0M792 1338.4h0M778.6 1402h0M799.9 1366.1h0M771.4 1372.6h0M751.3 1334.6h0M763.4 1370.2h0M766.2 1365.7h0M748.5 1320.4h0M793.1 1331.1h0M779.8 1349.2h0M774.4 1318.1h0M798.6 1362.7h0M777.7 1341.2h0M792.5 1356.9h0M755.8 1319.8h0M752.1 1333.4h0M743.9 1321h0M777 1399.5h0M770.1 1406.8h0M801.6 1322.3h0M779.9 1354.2h0M756.1 1370.2h0M784.9 1353.8h0M769.4 1331.4h0M753.6 1319.8h0M756 1349.8h0M796.6 1320.6h0M793 1384.1h0M742 1330h0M785.4 1344.7h0M779.4 1388.7h0M756.1 1328h0M771.7 1332.3h0M754.8 1329.8h0M788.2 1334.8h0M796.9 1376.3h0M769.7 1348.7h0M795.6 1361.9h0M782 1329.8h0M753.6 1321.6h0M787.9 1369.1h0M756.7 1355.6h0M749 1342.1h0M796.7 1348.2h0M760.3 1402.6h0M784.8 1336.4h0M771.4 1343.5h0M756.1 1335.4h0M788.8 1344.2h0M794.5 1348.8h0M796.2 1366.6h0M751.1 1357.8h0M801.8 1337h0M778 1329.4h0M787.8 1335h0M743.6 1324.5h0M780.6 1363.6h0M757.2 1335.9h0M780.9 1383.9h0M794.8 1372h0M752.2 1322.4h0M789.3 1355.2h0M788.5 1321.4h0M794.7 1348.2h0M772.5 1317.6h0M801.7 1361.8h0M799 1341.6h0M763.7 1331.8h0M764 1373.1h0M769.2 1365.5h0M760.5 1384.2h0M764.7 1388.1h0M773.9 1366.9h0M775.6 1318.1h0M805.7 1337.6h0M750.8 1326h0M740.2 1325.4h0M786.9 1334.8h0M778.4 1366.2h0M787.2 1326h0M798.8 1384.8h0M741.3 1327.9h0M772.6 1364.1h0M757.6 1327.8h0M766.4 1329.3h0M779.4 1398.6h0M790.2 1331.9h0M765.2 1356.4h0M796.7 1366.5h0M765.7 1406.3h0M792.4 1348.6h0M754.9 1348.2h0M768.5 1410.1h0M755.5 1356.6h0M782.3 1351h0M775.2 1322.8h0M768.3 1364.5h0M782.9 1341.6h0M785.5 1342.3h0M776 1404.7h0M781.5 1340.1h0M774.4 1357.7h0M804.5 1343.7h0M759.4 1378.1h0M756.8 1360.8h0M775.4 1330.3h0M746.8 1328.7h0M758.6 1355.1h0M758.2 1339.4h0M796.7 1374.5h0M777.9 1378.4h0M770.3 1368.6h0M780.9 1361h0M759.8 1339.3h0M753.6 1365.2h0M764.9 1372.2h0M798.3 1339h0M777 1363.2h0M758.7 1390.1h0M749.2 1322.5h0M798.9 1358.3h0M768.8 1386.6h0M745.7 1337.7h0M748.9 1348.4h0M762.7 1380.8h0M781.1 1397.5h0M795.4 1365.7h0M789.7 1387.3h0M791.1 1361.6h0M792.9 1384h0M802 1328.3h0M791.6 1372.2h0M772.9 1408.3h0M778 1356.2h0M780.5 1352.5h0M769.7 1360h0M788.6 1344.2h0M765.4 1369.3h0M765 1347h0M773 1358.7h0M751 1345.2h0M778.7 1324.6h0M802.4 1347.1h0M805 1335.7h0M767.9 1403.3h0M738.9 1320.7h0M777.6 1363.8h0M774.2 1365.7h0M786 1353.4h0M763.1 1373.1h0M785.3 1366.4h0M766.1 1369.9h0M778.2 1400.4h0M768.8 1375.9h0M775.1 1394.3h0M750 1346.6h0M773.9 1326.7h0M800.6 1382.2h0M800.1 1356.4h0M749 1343.9h0M773.8 1364.5h0M751.2 1333.6h0M782.1 1373.9h0M782.5 1320.2h0M766.8 1391.6h0M759.5 1382.3h0M796.9 1372.3h0M784.8 1335h0M772.9 1369.1h0M756.7 1378.1h0M778.2 1355.5h0M746.6 1331.1h0M791.1 1326.3h0M745.1 1332.5h0M774.6 1395h0M780.9 1393.4h0M791.9 1347h0M788.1 1350h0M749.9 1341.7h0M778.8 1349.5h0M769.5 1353.1h0M768.8 1375.5h0M755.5 1320.3h0M760.1 1402.2h0M795.1 1345.2h0M772.7 1407.1h0M755.1 1353.5h0M788.3 1337.3h0M759.7 1400h0M771.9 1392h0M755.1 1332.7h0M763.1 1334h0M805.9 1344h0M777.3 1327.1h0M775.4 1353.1h0M766.3 1322.4h0M762.6 1339.6h0M751.5 1343.3h0M754.7 1319.5h0M784.5 1348.8h0M744.6 1342h0M796.4 1328.4h0M769.1 1396.2h0M794.3 1331.4h0M762.7 1385.3h0M773.4 1337.9h0M769.7 1328.7h0M787.4 1341.1h0M800.9 1372.4h0M763.8 1339.7h0M780.6 1336.5h0M799 1327.9h0M773.9 1368.1h0M757 1390h0M765 1379.1h0M777.7 1345.9h0M765.3 1324.4h0M760.5 1379.6h0M763.3 1364h0M758.8 1322.4h0M759.8 1337.8h0M757.8 1354.8h0M747.3 1342.6h0M784.4 1349.8h0M766.9 1379.2h0M786.9 1339.9h0" stroke="#24787f" stroke-width="2.6" stroke-linecap="round" fill="none"/><path d="M797.2 1349.9h0M782 1333.5h0M789.4 1384.4h0M740.9 1320h0M749.4 1335.1h0M759.3 1352.6h0M782.7 1333.3h0M796.7 1370.7h0M788.1 1340.5h0M768.5 1381.7h0M758.1 1320.3h0M797.7 1374.3h0M790.4 1324.4h0M786.6 1353.8h0M790.3 1395.5h0M757.7 1324.7h0M804.2 1356.7h0M789.7 1395.6h0M782 1359.5h0M768 1365.2h0M802.9 1328.4h0M791.3 1320.3h0M787.2 1393.3h0M756.3 1368.5h0M776.1 1340h0M766.8 1335.4h0M759.8 1329.2h0M787.5 1380.3h0M754.7 1339.3h0M774.1 1358.8h0M803.4 1349.8h0M761.4 1394.2h0M776.4 1389h0M779.9 1360.3h0M791.6 1395.7h0M746.1 1343.8h0M763.3 1335.9h0M769.4 1327h0M760.8 1361h0M763.5 1332.2h0M768.4 1334.3h0M783.7 1340.2h0M755.3 1329.4h0M796.7 1344.5h0M796.1 1387.2h0M760.9 1333.8h0M795.7 1346.8h0M763.8 1368.9h0M763.9 1395.7h0M754.8 1320.1h0M777.7 1376.3h0M795.3 1383.7h0M772.6 1364h0M749.1 1344.8h0M778.7 1323.8h0M786.1 1331.8h0M769.1 1409h0M744.4 1320h0M768.8 1334.4h0M793.1 1356.9h0M757.9 1379.5h0M774 1356.5h0M761.8 1358.1h0M784.6 1395.2h0M801.2 1331.9h0M758.8 1358.6h0M777.4 1349.5h0M751.8 1324.3h0M760.7 1360.2h0M794.7 1321.9h0M785.3 1374.5h0M758.8 1370.8h0M783.3 1344.8h0M762.1 1400.9h0M785.5 1359h0M764.1 1371.7h0M767.2 1366.9h0M777.5 1354.1h0M746.1 1333.4h0M800.2 1368.6h0" stroke="#ee6c1c" stroke-width="2.6" stroke-linecap="round" fill="none"/><path d="M755.8 1325.2h0M775.2 1340.2h0M772.3 1369.2h0M753.9 1371h0M779.2 1323.8h0M766.6 1323.2h0M768.8 1398.8h0M776.5 1384.6h0M791 1327.1h0M765.5 1332.5h0M792.2 1329.2h0M792.3 1321.6h0M754.6 1351.8h0M753 1344.9h0M787.5 1356.9h0M800.2 1375.6h0M799 1370h0M761.9 1389.3h0M785.6 1395.2h0M788.5 1320.3h0M780.3 1325.7h0M776.4 1393h0M785.3 1340.5h0M751.6 1358.9h0M796.6 1371.8h0M758.4 1381.9h0M764.7 1329.9h0M799.2 1367.7h0M786.2 1393.5h0M762 1330.6h0M773.1 1399.7h0M794 1319.5h0M785.6 1353.7h0M771.3 1331.3h0M797.1 1353.8h0M799.1 1374.6h0M779.2 1320.3h0M750 1350.7h0M770.8 1371.4h0M765.2 1350h0M761.4 1318.1h0M770.2 1410.6h0M741.3 1330.1h0M785 1342.2h0M757.2 1364h0M756.4 1370.6h0M775 1407.8h0M777.3 1390h0M782.3 1376.9h0M763.4 1343.1h0M759.3 1389.2h0M789.7 1364.9h0M782.5 1349.7h0M776.6 1355h0M771.7 1351.3h0M755.1 1338.6h0M762.5 1329.1h0M769.7 1358.8h0M777.8 1345.1h0M749.9 1322.5h0M759.2 1345.7h0M788.8 1368.9h0M803.6 1348.7h0M802.4 1372h0M743.7 1333.3h0M763 1390.3h0M768 1399.3h0M800.9 1342.6h0M756.1 1318.3h0M749.6 1341.8h0M787.3 1337h0M766 1335.3h0M780.2 1398.9h0M783.4 1335h0M780.1 1323.7h0M761.9 1329.2h0M799.2 1377.4h0M802.5 1336.5h0M760.9 1387.9h0M783.4 1354.9h0M785.5 1348.5h0M761.5 1363.5h0M779.8 1340.7h0M770.5 1317.4h0M802.7 1370.2h0M781 1385.5h0M761.1 1325.1h0M749 1329.8h0M791.7 1324.7h0M794.9 1356.7h0M775.7 1372.5h0M776.9 1379.1h0M780.1 1347.8h0M789.8 1340.8h0M787.8 1389.2h0M792.3 1345.7h0M769.7 1342.8h0M774.6 1406.2h0M771.3 1378.9h0M792.2 1350.8h0M790.9 1324.7h0M776.9 1333.5h0M803.7 1351.1h0M748.5 1333.1h0M749.4 1318.9h0M792.4 1339.4h0M782.5 1349.1h0M794 1360.2h0M760.7 1402.7h0M766.2 1398.9h0M766.7 1404.1h0M753.8 1340.3h0M756.4 1357.7h0M754.3 1335.6h0M791.1 1377.7h0M753.2 1370.7h0M798.8 1341.7h0M790.6 1394.9h0M757.8 1347.9h0M772 1401.5h0M779.8 1359.5h0M778.5 1400.7h0M763.3 1390.8h0M798.4 1333.6h0M758.9 1318.5h0M744.9 1332.3h0M785.8 1324.8h0M761.8 1404.1h0M788.1 1400.6h0M786.2 1319.8h0M773.4 1338.3h0M768.2 1326.2h0M760.2 1400.3h0M773.1 1326.9h0M762.8 1363.7h0M802.3 1349.6h0M757.2 1333.1h0M756.6 1322.7h0M766.6 1369.4h0M763.4 1317.2h0M786.2 1378.7h0M776.1 1368.7h0M766 1346.6h0M767.4 1409.3h0M765.1 1353h0M766.7 1329.8h0M780.5 1404.8h0M755.9 1374.6h0M764.4 1339.2h0M752 1327.3h0M786.6 1347.2h0M783.2 1368.7h0M797.7 1365h0M754.5 1376.4h0M790 1352.4h0M787.8 1353.8h0M774.9 1374.8h0M785.4 1347h0M782 1368.1h0M753.7 1374.8h0M771.2 1385.2h0M774.6 1361.8h0M753.6 1329.7h0M802.9 1366.8h0M774.7 1366.6h0M794.9 1339h0M770.2 1377.5h0M764.7 1395.8h0M795.2 1327.9h0M748.8 1340.2h0M794.2 1366.1h0M769.7 1324.6h0M786.6 1359.2h0M771.5 1392.6h0M791.1 1330.5h0M785.6 1351.3h0M774.5 1338.9h0M764 1348.7h0M764.7 1317.8h0M742.1 1333.2h0M788.3 1342.4h0M760.7 1339.3h0M796.3 1324.9h0M782.5 1398.4h0M752.2 1356.7h0M793.4 1375.3h0M764.1 1320.3h0M769 1351.3h0M787.9 1344.4h0M766.6 1378.2h0M794.7 1349.9h0M765 1371.6h0M802.7 1334.5h0M764.1 1379.9h0M761.1 1322.9h0M790.9 1352.5h0M774.8 1363.7h0M770.4 1360.4h0M796.7 1355.9h0M771.2 1401.4h0M768.8 1363.2h0M773.8 1395.1h0M784.9 1387h0M766.2 1320h0M785.6 1369.2h0M791.8 1389.9h0M746.4 1337.3h0M745.2 1324.6h0M790.7 1370.2h0M787.8 1362.4h0M767.3 1372.1h0M799 1330.1h0M761.5 1365.8h0M757.3 1341.3h0M760 1340.6h0M798.1 1369.3h0M773.8 1356.4h0M797.9 1340.8h0M752.2 1321.1h0M775.6 1351.9h0M770.5 1363h0M778.9 1351.2h0M794.1 1335.3h0M802.3 1369.4h0M775.3 1355.3h0M777.6 1347.1h0M757.2 1392.4h0M758.5 1384.2h0M794.1 1372.8h0M769.8 1405.7h0M769.2 1400.2h0M782.7 1320.8h0M798.3 1323h0M779.7 1333.4h0M802.5 1369.9h0M794 1363.8h0M785.2 1380.8h0M758.7 1336.3h0M796.6 1330.1h0M802.2 1335.9h0M745.1 1325.3h0M767.1 1379.2h0M786 1331h0M758.6 1338.4h0M778.7 1346.7h0M777.2 1330.9h0M801.8 1347.2h0M796.8 1330.7h0M765.4 1319.3h0M764.6 1377.5h0M753.7 1368.4h0M789 1357.3h0M785.5 1327.1h0M796 1327.8h0M803.7 1366.5h0M758.4 1349.5h0M790.5 1363.7h0M803 1325h0M772 1398.9h0M779.8 1367.9h0M744.3 1329.5h0M797.1 1337.9h0M783.9 1320.9h0M761.4 1359.2h0M758.9 1322.8h0M777.1 1325.3h0M776.6 1391.6h0M779.7 1360.3h0M762.7 1352h0M784.4 1331.8h0M761.3 1396.8h0M799.1 1362.1h0M748.5 1325.1h0M799.5 1327.3h0M772.7 1367.5h0M773.5 1351.3h0M751.9 1354.8h0M752.3 1328.3h0M773.1 1401.4h0M772.2 1391.9h0" stroke="#1fa3cb" stroke-width="2.6" stroke-linecap="round" fill="none"/><path d="M777.9 1382.1h0M748.8 1341.4h0M774.3 1344.1h0M800.3 1324.2h0M778.5 1338.5h0M779.7 1391.2h0M787.7 1322.1h0M755.3 1373.5h0M781.3 1382.4h0M795 1348.9h0M794.7 1360.4h0M803.8 1355.6h0M766.5 1324.6h0M785.5 1330.6h0M762.1 1329.6h0M751.9 1337.2h0M771.6 1363.8h0M790.6 1377.1h0M762.5 1331.7h0M790.2 1329.1h0M779.3 1357.8h0M798.9 1344.8h0M804.2 1327.2h0M754.3 1335.1h0M770.1 1338.8h0M772.5 1403.1h0M786 1384.2h0M765.5 1391.2h0M793.5 1381.5h0M766.5 1324.5h0M783.7 1396.2h0M761.8 1373.1h0M794.8 1356.2h0M780.3 1359.9h0M761.5 1336.6h0M762.8 1397h0M781.3 1344.1h0M787.1 1358.5h0M784.3 1393.4h0M751 1342.1h0" stroke="#a66cc6" stroke-width="2.6" stroke-linecap="round" fill="none"/><path d="M805 1350.8h0M780.7 1401.7h0M765.6 1364h0M807.1 1334.3h0M796.1 1331.7h0M769.8 1393.6h0M755.6 1349.9h0M798.3 1365.3h0M764.4 1405.1h0M800.5 1379.9h0M769.1 1407.9h0M763.4 1379.4h0M782.2 1352.1h0M774.6 1380.9h0M801.4 1363.8h0M785.8 1369.5h0M769.4 1388.1h0M790.5 1319.5h0" stroke="#e2352a" stroke-width="2.6" stroke-linecap="round" fill="none"/><path d="M858.9 1324.3h0M829.5 1351.3h0M899.9 1318.9h0M869.8 1360.9h0M910.4 1332.9h0M930.1 1333.6h0M894.6 1341.3h0M965.3 1355h0M937.1 1356.6h0M921.6 1357.5h0M851.1 1325.8h0M899.6 1365.6h0M935.2 1336.9h0M828.7 1347h0M948.9 1325.8h0M926.2 1326.4h0M856.8 1319.3h0M854.4 1339.1h0M836.4 1334.7h0M858.2 1342.4h0M823.6 1331.7h0M870.1 1339.2h0M839.2 1370.5h0M879.3 1366.2h0M909.7 1362.7h0M857.2 1325.2h0M929.3 1344.3h0M897 1356.3h0M928.5 1332.6h0M892.2 1333.4h0M908.6 1331.7h0M931.6 1318.6h0M940.6 1350h0M849.2 1330.7h0M817.3 1349h0M928.7 1356.7h0M873.2 1364.5h0M824.1 1334.5h0M909.2 1357.6h0M932.1 1339.7h0M959.1 1360.6h0M861.6 1339.6h0M937.2 1337.1h0M836.2 1368.3h0M892.6 1347.3h0M915 1370.1h0M827.7 1336.4h0M816.7 1340.9h0M887.7 1367.1h0M914.7 1350.7h0M871.7 1350.5h0M850.5 1366.7h0M934.4 1366.3h0M830.6 1356.3h0M928.8 1346.1h0M927 1365.3h0M911.6 1368.7h0M827.3 1358.3h0M920.6 1352.8h0M850.7 1320.2h0M904.2 1365.5h0M850.4 1328.9h0M842.4 1321.8h0M936.6 1337.7h0M919.9 1320.5h0M942.6 1335.6h0M828.5 1332.6h0M815.6 1342.8h0M896.3 1364.5h0M823.9 1329.6h0M908.5 1336.5h0M859.9 1350.2h0M841.4 1363.6h0M840 1366.4h0M937.7 1348.3h0M875 1319.9h0M908.6 1359.5h0M901.2 1340.1h0M889.4 1351.4h0M842.8 1368.1h0M883.8 1324.1h0M879.9 1357h0M921.3 1343.3h0M861.6 1327.5h0M871.6 1333h0M837.6 1360.2h0M890 1342.4h0M838.1 1358.3h0M838 1332h0M897.2 1358.1h0M964.5 1360.9h0M923.6 1359.2h0M816.2 1328.4h0M923.6 1353.9h0M848.9 1337.4h0M832.6 1354h0M813.1 1326.6h0M863.8 1369.9h0M937 1343.4h0M822.6 1322.5h0M831 1362.7h0M954.5 1363.7h0M883.5 1365.3h0M826.8 1322.7h0M897.7 1346.5h0M840 1331.2h0M921.6 1372.7h0M925.3 1339.1h0M938.2 1366.5h0M827.7 1316.9h0M840.8 1351.2h0M867.7 1316.7h0M941.2 1363.2h0M881.5 1318.7h0M950.8 1348.1h0M817.5 1335.5h0M907.7 1369.1h0M884.9 1354.4h0M839.4 1330.7h0M953.5 1339h0M822.9 1351.5h0M826.5 1328.1h0M880.3 1351.2h0M909.6 1358.4h0M877.6 1320.2h0M924 1319.4h0M882.6 1340.1h0M915.6 1358.9h0M845 1355h0M918.7 1344.4h0M829 1370.5h0M903.5 1319.9h0M843.2 1339.6h0M934.3 1365.4h0M909.2 1360.5h0M812.2 1321.8h0M965 1364.2h0M812.1 1319.1h0M845.1 1371.8h0M841.7 1356.3h0M957.5 1354.4h0M955.7 1331.9h0M830.9 1317.2h0M929.3 1322.4h0M964.5 1358.6h0M836.4 1364.4h0M832.5 1346.8h0M823.2 1363.2h0M896.5 1365.3h0M887.8 1353.2h0M902.8 1364h0M818.6 1319.4h0M894.8 1333.6h0M870.6 1316.6h0M927.3 1317.6h0M941.1 1364.7h0M880.5 1323.4h0M911.8 1328.5h0M875.8 1322.7h0M863.4 1321.8h0M924.9 1367h0M944.1 1322.2h0M865.8 1334.3h0M930.1 1325h0M931.2 1316.6h0M818.2 1322.9h0M918.7 1352h0M890.7 1343.4h0M872.3 1352.7h0M911.6 1371h0M925.3 1363.8h0M954.7 1366.2h0M922.7 1318h0M916.9 1367h0M876.1 1368.7h0M835.2 1372.6h0M877.9 1358.4h0M847.1 1334.1h0M862.7 1335.6h0M821.4 1342.6h0M965.7 1355.3h0M957.8 1361.8h0M928.6 1332.5h0M846.6 1340.8h0M809.3 1329.9h0M859.5 1362.2h0M932.2 1369.4h0M935.4 1348h0M823 1365.5h0M857 1353.7h0M865.7 1348.3h0M892.4 1355h0M918.3 1374h0M820.5 1328.8h0M852.8 1370.4h0M834.7 1342.3h0M917.8 1357.5h0M927.5 1361.2h0M846.4 1331.5h0M840 1331.7h0M963 1354.6h0M902.2 1355.4h0M903.3 1357.7h0M855.4 1320h0M816.8 1317h0M864.8 1324.6h0M824.3 1345.7h0M963.9 1357.3h0M850.5 1362.2h0M834.9 1322.1h0M855.3 1340.6h0M918.3 1342.8h0M924.6 1321.8h0M957.8 1336.6h0M941.5 1318h0M941 1329.7h0M945.2 1364.2h0M915.2 1332.8h0M953.4 1325.6h0M913.3 1351.3h0M913.7 1326.9h0M829.3 1321.9h0M912.2 1350.2h0M842.3 1320h0M827.1 1373.8h0M865.2 1359.4h0M828.5 1363.3h0M846.9 1338.1h0M891.1 1322.8h0M846.4 1363.8h0M852.4 1338.9h0M930.5 1329.5h0M837.5 1329.2h0M868.5 1338h0M910.4 1344.4h0M947.6 1319.2h0M914 1366.2h0M844.2 1317.9h0M877.3 1323.1h0M880.9 1358.7h0M821.2 1323.2h0M884.1 1326.5h0M843.5 1342.5h0M825.2 1320.2h0M864.8 1344.2h0M958.5 1349.3h0M817.6 1329.4h0M927.2 1349.8h0M945.7 1322.7h0M959.7 1347.5h0M845 1326.4h0M946.8 1328.8h0M819.5 1332h0M956.5 1343.7h0M925.1 1320.6h0M879.7 1335.2h0M839.4 1355.8h0M864.8 1323.3h0M835.3 1316.8h0M912.3 1346.9h0M926.6 1348.3h0M844.1 1346h0M904.5 1355.1h0M829.6 1364.2h0M960 1360.4h0M945.6 1338.1h0M953 1327h0M842.9 1351.9h0M952.8 1321h0M841.3 1318.3h0M877.5 1324.5h0M837.1 1361h0M901 1372.4h0M871.4 1356.8h0M843.9 1344.7h0M907.1 1329.1h0M941.8 1328.2h0M858.4 1340.5h0M861.8 1356.2h0M832.3 1365.7h0" stroke="#35a85a" stroke-width="2.5" stroke-linecap="round" fill="none"/><path d="M847.9 1343.3h0M897.5 1358.7h0M828.4 1330.5h0M825.6 1373.6h0M830.2 1324.3h0M891 1350.9h0M950.4 1319.5h0M844.1 1326.2h0M901.3 1343.2h0M872.6 1369.3h0M913.7 1367.6h0M959.4 1340.5h0M822.9 1317.2h0M853.1 1333.4h0M874.4 1347.8h0M944.2 1364.4h0M912.4 1346.8h0M824.9 1330.7h0M913.2 1351.2h0M936.4 1369.9h0M818.3 1369.9h0M898.8 1327h0M918.7 1331.4h0M844.5 1338.1h0M891.3 1356.7h0M817.9 1360.5h0M907.6 1344.4h0M915.4 1364h0M916.4 1358.6h0M911.4 1326.9h0M962.1 1363.2h0M843.9 1341.9h0M952.6 1330.1h0M925.7 1337.7h0M914 1362h0M826.7 1329.5h0M841 1332.1h0M811.7 1324.3h0M872.1 1341.3h0M818.6 1351h0M959.5 1350.7h0M863.9 1358.3h0M877.2 1326.6h0M884.4 1317.2h0M916.1 1325.8h0M930.9 1366.1h0M910.5 1354.1h0M920.8 1374h0M837.9 1362h0M854.9 1331.4h0M939.8 1352.1h0M944.4 1368.5h0M901.9 1328h0M924.1 1332.4h0M817.3 1316.4h0M834.2 1357.8h0M849.1 1358.7h0M824.5 1372.1h0M860.6 1347.4h0M858.1 1341.1h0M883.9 1331.6h0M814.9 1321.2h0M832.4 1321.6h0M907.6 1357.8h0M848.8 1363.5h0M924.7 1336.6h0M886.1 1327.4h0M957.3 1349.7h0M814.3 1325.3h0M918.8 1339.2h0M922.7 1329.9h0M935.8 1364.1h0M821.3 1351.2h0M837.1 1358.5h0M936.9 1363.5h0M843.6 1321.7h0M914 1350h0M828.4 1327.7h0M900.8 1322.6h0M909.2 1330.6h0M848.1 1341.5h0M892.8 1359.5h0M841.9 1333.5h0M910.2 1357.5h0M906.1 1370.1h0M839.3 1334.8h0M913.9 1331.7h0M831.6 1329.7h0M931.6 1365.6h0M922.6 1373.5h0M935.3 1334.7h0M857.3 1359.3h0M815 1352.6h0M820.5 1319.1h0M889.6 1325.2h0M881.2 1328h0M825.4 1346.5h0M890.9 1337.9h0M922.6 1347.8h0M932.3 1322.5h0M817.3 1339.3h0M884.7 1331.3h0M914.8 1329.4h0M857.8 1344.7h0M922 1362.2h0M866.5 1342.9h0M906.7 1322.4h0M880.2 1354.2h0M851.3 1318.4h0M826.9 1344h0M906.8 1334.1h0M817.1 1361.1h0M931.5 1342.3h0M819.9 1339.7h0M821.3 1373.8h0M814.3 1333.4h0M931 1324.2h0M823.3 1320.4h0M832.6 1348h0M941.7 1326.3h0M834.2 1361.9h0M875.3 1336.4h0M826 1330.7h0M848.2 1360.5h0M904.3 1333.4h0M881.7 1359h0M925.5 1323.9h0M837.5 1373.5h0M823.4 1364.8h0M861.1 1331h0M847.5 1344.2h0M945.1 1335.4h0M834.1 1360.7h0M861.6 1327.4h0M874.1 1365.3h0M946.5 1350.5h0M904.7 1370h0M961 1335.7h0M944.2 1365.1h0M849.3 1338h0M867 1337.3h0M867.6 1322.7h0M842.9 1370.6h0M872.8 1354.2h0M950.5 1361.4h0M845.7 1371.2h0M936.9 1375.4h0M924.5 1361.3h0M938.4 1331.3h0M912.8 1338.9h0M942.7 1324.1h0M893.8 1336.3h0M939.6 1336.8h0M943.4 1366.9h0M949.1 1324.5h0M958.8 1360.7h0M916.2 1355.2h0M895.2 1343.4h0M861.2 1363h0M933.4 1368.2h0M840.8 1336.5h0M846.6 1322.1h0M859.2 1317.7h0M935.7 1329.7h0M817.4 1320.2h0M926.7 1328h0M881.2 1340.2h0M936.7 1373.2h0M856.4 1354h0M951.7 1344.3h0M952.5 1360h0M856.7 1368.4h0M899.3 1322.5h0M901.6 1365.8h0M890.4 1345.1h0M873.8 1368.8h0M914.4 1328.6h0M865 1337.9h0M962.1 1357.8h0M826.3 1370.9h0M876.4 1359.1h0M875.9 1321.7h0M891.2 1365.2h0M934.5 1337.5h0M842.2 1360.7h0M936.5 1329.2h0M876.6 1338.9h0M921.6 1371.8h0M838.8 1334.2h0M859.5 1360h0M836.4 1348.9h0M887.4 1356.1h0M829.3 1373.4h0M935.5 1327.1h0M954.2 1349.1h0M929.7 1368.1h0M839.7 1317.5h0M887.8 1369.9h0M897.2 1324.7h0M908.7 1364.2h0M875 1352.2h0M848.2 1332.7h0M874.4 1346.9h0M882.2 1321.7h0M922.7 1360.9h0M844.6 1331.4h0M890.1 1326.6h0M904.2 1370.2h0M838.8 1351.2h0M923.4 1361h0M921.9 1358.7h0M850.3 1366.3h0M959.7 1342.6h0M820 1320.3h0M935.8 1356.7h0M829.1 1343.7h0M860.7 1362h0M845.9 1328h0M832.2 1340.7h0M906.6 1334.3h0M832.3 1329.2h0M819.8 1327.7h0M857.4 1346.3h0M835.8 1344.8h0M882.7 1328h0M902.4 1324.8h0M833.5 1320.5h0M920.2 1374h0M871.7 1337.3h0M875.2 1337.2h0M918.5 1339.6h0M830.7 1367.9h0M899.2 1316.5h0M944.3 1359.7h0M863.7 1353.8h0M955.9 1340.2h0M876.4 1334h0M896.2 1355.8h0M925.7 1373h0M829.6 1338h0M944.7 1363.5h0M902.1 1356.7h0M895.4 1340.2h0M835.7 1323h0M952.2 1364h0M810.3 1335.5h0M884.1 1345.8h0M865.1 1369.7h0M862.9 1348h0M957.3 1354.4h0M883.6 1336h0M869 1352.6h0M934 1331.7h0M866.3 1339.3h0M893.7 1332.6h0M860.1 1365.3h0M832 1357.4h0M809.5 1327.7h0M829.9 1329.8h0M815.3 1331.9h0M925.4 1359.2h0M895.7 1371.3h0M820.5 1371.5h0M876.6 1327.7h0M927.8 1367.5h0M868.8 1321.7h0M948.1 1361.2h0M812.1 1319.5h0M826.2 1317.4h0M921.3 1353.8h0M824.2 1325.8h0M835.4 1352.6h0M876.7 1339.5h0M847.2 1330.1h0M920.9 1326.6h0M835.2 1325.2h0M863.1 1360.3h0M815.5 1347.9h0M916.8 1318.1h0M877.5 1363.5h0" stroke="#24787f" stroke-width="2.5" stroke-linecap="round" fill="none"/><path d="M899.7 1343.2h0M949.5 1352.1h0M860.8 1339.8h0M955 1349.7h0M829.1 1326.6h0M868.4 1357.5h0M934 1346.9h0M873.4 1356.2h0M898.8 1359.7h0M906.2 1335.1h0M867.3 1332.2h0M953.2 1363.5h0M934.3 1365.3h0M857.8 1361.5h0M848.7 1352.7h0M831.7 1367.5h0M885.6 1332.6h0M956.3 1321.1h0M957.5 1361.4h0M830.2 1361.7h0M899.3 1370.4h0M901.5 1341.7h0M932.5 1322.3h0M851 1322.9h0M947.9 1342.6h0M924.3 1331.5h0M924.9 1355h0M821.8 1345.7h0M923.5 1329h0M912.5 1332.8h0M875.5 1350.4h0M937.6 1361.5h0M880.3 1367.8h0M883 1323.2h0M928 1324.8h0M916.6 1319.3h0M926.6 1324h0M909.7 1338.7h0M846.5 1364.9h0M820.1 1367.1h0M951.5 1318.2h0M881.6 1344.2h0M923 1359.8h0M836.1 1324.3h0M938.7 1323.3h0M836.2 1346.1h0M860.7 1325.9h0M957.4 1344.5h0M934 1331.1h0M954.6 1329.4h0M953.6 1352.8h0M964.1 1362.3h0M908.7 1348h0M945.2 1342.7h0M822 1370.8h0M937.2 1357h0M927.3 1330h0M881.4 1365.4h0M832.1 1357.1h0M896.2 1340.4h0M833.3 1324.3h0M882.5 1345.7h0M849.6 1338.1h0M896.2 1361.7h0M902 1325.8h0M950.3 1338.1h0M828.8 1351h0M895.1 1334.9h0M810.6 1328.4h0M826.1 1333.1h0" stroke="#ee6c1c" stroke-width="2.5" stroke-linecap="round" fill="none"/><path d="M908.5 1349.8h0M960.4 1357.2h0M909.2 1348.6h0M946.5 1356.2h0M864.6 1352.3h0M816.4 1316.7h0M896.1 1328.5h0M888.6 1323.2h0M942.3 1356.2h0M917.4 1371.6h0M922.1 1316.2h0M814 1341.7h0M898.5 1316.7h0M902 1365.5h0M835.1 1365.9h0M822.5 1371.9h0M849.5 1368.8h0M889.9 1335.5h0M919.6 1320.2h0M823.9 1360.8h0M850 1325h0M865.3 1355.7h0M912.4 1325.8h0M924.2 1349.1h0M847.5 1324.6h0M831.7 1325.1h0M901.8 1364.1h0M832 1346.2h0M899.5 1349.7h0M873.2 1348.7h0M808.4 1319.6h0M874.8 1330.3h0M929.2 1330.6h0M940.2 1330.6h0M821 1344.7h0M869.1 1336.2h0M930.6 1329.4h0M915.1 1366.1h0M879.7 1346.2h0M956.4 1352.3h0M835.4 1320.3h0M819.3 1336h0M820.4 1355h0M874.9 1334.6h0M845.7 1325.4h0M855.7 1335.5h0M954.2 1358.4h0M875.8 1326.1h0M813.3 1323.5h0M944 1354.9h0" stroke="#a66cc6" stroke-width="2.5" stroke-linecap="round" fill="none"/><path d="M831.4 1353.6h0M815.4 1346.5h0M860.6 1322.3h0M926.9 1359h0M889.1 1326.2h0M915 1342.1h0M913.7 1321.6h0M953 1316.4h0M842.2 1340h0M838.3 1321.4h0M860.5 1332.1h0M915.2 1329.5h0M871.2 1357.3h0M876.1 1325.5h0M817.4 1348.6h0M822.2 1346.2h0M885.5 1327.7h0M915.1 1345.8h0" stroke="#e2352a" stroke-width="2.5" stroke-linecap="round" fill="none"/><path d="M937.7 1333.6h0M958.1 1364.9h0M883.1 1324.6h0M884.7 1323.7h0M917.6 1357.9h0M936.4 1322.9h0M858.4 1319.4h0M900.9 1359.4h0M862.6 1357.8h0M865.7 1358.8h0M877.3 1316.4h0M820.8 1359.6h0" stroke="#ea6fb0" stroke-width="2.5" stroke-linecap="round" fill="none"/><path d="M941.3 1339.7h0M831.9 1346h0M918.5 1325.9h0M866.6 1340.6h0M808.5 1323.9h0M862.5 1346.1h0M941.4 1338.4h0M957.5 1339.9h0M954.2 1337.8h0M838.2 1336.6h0M882.4 1331.8h0M865.6 1336.4h0M898.6 1328.7h0M850.7 1336.2h0M885.7 1333.9h0M910.4 1327.7h0M890 1330.1h0M926.7 1341.5h0M928.4 1336.5h0M846.3 1347.4h0M886.7 1332.8h0M852.7 1333.5h0M917.3 1344.6h0M882.4 1342.2h0M840.8 1334.8h0M863.1 1330.9h0M863.4 1342.9h0M921.1 1328.3h0M844 1343.7h0M908.9 1340.8h0M905.9 1341.2h0M850 1324.4h0M863.6 1323.6h0M956.3 1336.7h0M932 1328.9h0M859.9 1325.7h0M930.7 1342.4h0M883.2 1332.6h0M849.6 1335.7h0M875.7 1334h0M836.2 1327h0M851.3 1347.3h0M939.5 1331.6h0M873.8 1327.9h0M927.1 1332.8h0M826.3 1346.8h0M875.7 1333.4h0M899.8 1329.6h0M811.1 1333.2h0M866.4 1323.1h0M865.3 1343h0M859.3 1340.9h0M904.3 1327.8h0M811.1 1340.7h0M902.2 1330.6h0M838.8 1345.5h0M948.2 1329h0M898.3 1338.1h0M857.6 1323.8h0M858.1 1339.9h0M900.8 1336.4h0M826.8 1328.4h0M856 1333.9h0M864 1346.8h0M845 1345.6h0M845.5 1338.4h0M866.1 1323.8h0M849.5 1343.4h0M816.3 1332.9h0M843.1 1339.4h0M892.5 1333.1h0M931.3 1325.6h0M848 1342.8h0M822 1335.1h0M840.7 1322.8h0M822.4 1325.2h0M864.8 1334.3h0M886.3 1330.5h0M916.2 1336.5h0M886.7 1335.9h0M865.3 1345.7h0M840.2 1346.1h0M863.1 1331.7h0M902.8 1337.8h0M851.7 1325h0M955.3 1332.6h0M825.6 1340.2h0M890 1331.5h0M858.6 1345.3h0M860.2 1333.9h0M955.5 1332.4h0M869.9 1327.1h0M910.1 1340.5h0M876.8 1333.6h0M843.8 1343.8h0M878.5 1344.9h0M865.8 1342.3h0M812.4 1328.6h0M956.1 1340.9h0M912.2 1336h0M880.8 1328h0M834.6 1339.9h0M915 1329.7h0M907.4 1326.4h0M902.5 1327.4h0M886.5 1331.1h0M892.9 1326.4h0M882.5 1339.2h0M828.7 1331h0M912.6 1337.3h0M903.1 1343.5h0M896.1 1328.7h0M876.2 1344.9h0M895.4 1342.8h0M864.1 1334.7h0M908.6 1325.6h0M902.3 1323.7h0M920.3 1329.9h0M938.4 1327.5h0M935.6 1336.6h0M810.4 1346.5h0M875.8 1344.9h0M914.1 1337h0M941 1328.2h0M946.5 1331.8h0M811.9 1331.7h0M818.1 1324.7h0M904.2 1326h0M832.6 1330.6h0M850.9 1347.3h0M930.7 1330.3h0M920.9 1328.8h0M822 1347.4h0M893.1 1339.1h0M940.9 1326.6h0M915.8 1335.1h0M929.2 1334.9h0M851.3 1342.6h0M936.2 1329.4h0M915.2 1333.3h0M842.5 1328.6h0M955.1 1332.6h0M886.6 1336.1h0M812 1342.8h0M863 1328.4h0M861.5 1342.3h0M909.4 1333.6h0M888.9 1326.9h0M949.6 1335.3h0M886.1 1343.7h0M838.5 1342h0M862.4 1344.4h0M822.5 1330.1h0M906 1335.6h0M866.1 1338.2h0M841.5 1334.4h0M808.2 1344h0M847.1 1344.9h0M893.1 1338.8h0M904.5 1326.1h0M927.8 1330.6h0M912.5 1344.5h0M875.3 1340.7h0M954.9 1327.8h0M823.5 1333.7h0M886.5 1326.8h0M842.1 1345.8h0M867.8 1326.7h0M836.2 1338.1h0M837.2 1335.4h0" stroke="#35a85a" stroke-width="2.5" stroke-linecap="round" fill="none"/><path d="M890.9 1334.5h0M885.6 1345h0M810.5 1347.5h0M838.7 1323.8h0M926.3 1337.9h0M890.9 1328.6h0M928.4 1330.9h0M920.1 1328.9h0M896.3 1340h0M865.3 1335.6h0M818 1339.9h0M914.6 1326.9h0M892.9 1342.3h0M823.5 1345.1h0M942.2 1324.1h0M846.3 1325h0M846.9 1325.1h0M883.4 1329.4h0M854.2 1335.1h0M865.2 1343.8h0M919.4 1325.8h0M842.4 1323h0M858.7 1325.7h0M915.5 1343.5h0M813.6 1342.9h0M868.5 1331.1h0M819.1 1348h0M886.9 1334.5h0M875.4 1343.2h0M936.1 1335.4h0M835.4 1333.6h0M945.4 1333.6h0M909.9 1337.7h0M879.1 1338.1h0M845.7 1337.6h0M941.3 1324.9h0M864.8 1346.2h0M904.7 1339.6h0M938 1335.3h0M828.1 1330.8h0M917.9 1342.2h0M839.5 1339.9h0M909.2 1340.3h0M811.3 1334.5h0M858.1 1338.7h0M859.9 1326.2h0M911.3 1330.4h0M929.9 1330.9h0M892.1 1344.3h0M825.8 1342.2h0M818.4 1347.7h0M811.8 1342h0M864.8 1327.6h0M868.9 1336.1h0M871.9 1326h0M888.6 1330.8h0M957.1 1333h0M875.1 1328.9h0M957.4 1331.3h0M907.6 1344.9h0M868.6 1342.9h0M850.9 1325.7h0M814.4 1334.7h0M942.8 1328.2h0M875.9 1343.1h0M850.5 1326.8h0M888 1334.1h0M844.7 1337.7h0M872.1 1323.7h0M854.6 1338.4h0M917.5 1324.5h0M950.5 1325.7h0M854.4 1341.8h0M810.9 1332.8h0M827.5 1335.4h0M810.4 1326.8h0M842.2 1325h0M821.9 1328h0M887.8 1326.4h0M934.6 1333.9h0M846.8 1329.2h0M937.5 1324h0M922.4 1325.4h0M953.6 1333.6h0M823.4 1324.5h0M914.9 1338.4h0M919.2 1330.2h0M884.6 1327.8h0M875.4 1330.3h0M898.3 1330.7h0M850.3 1339.9h0M821.1 1344.1h0M884.4 1328.9h0M825.7 1336.3h0M885.7 1341.9h0M865.6 1333.8h0M945.6 1330.1h0M847.6 1344.4h0M902.3 1328.2h0M932.8 1337.6h0M820.2 1345.7h0M835 1329.7h0M903 1327.9h0M879.3 1341.8h0M822.7 1340.4h0M824 1335.4h0M908.1 1341.1h0M814.6 1327.9h0M956.1 1333.2h0M873.5 1332.8h0M915.3 1342.5h0M908.2 1333.5h0M895.8 1336.5h0M836.9 1348h0M937.4 1329.2h0M922.5 1341.8h0M943.6 1329.9h0M929.4 1335.4h0M856.1 1332.6h0M938.2 1340.6h0M834.2 1326.9h0M895.6 1328.4h0M859.8 1325.5h0M831.8 1341.9h0M842.4 1345.3h0M858.7 1345.4h0M854.6 1329.9h0M868.8 1323.1h0M875.1 1332.9h0M809.9 1345.7h0M865.8 1322.8h0M956.1 1328.9h0M847 1323.4h0M823.3 1341.7h0M897.7 1336.2h0M845.9 1330.4h0M957.6 1332.7h0M827.2 1345.3h0M811.2 1341.7h0M932.8 1341.3h0M892.7 1344.4h0M831.7 1337.1h0M848.9 1333.4h0M837.4 1341.6h0M896.3 1343.5h0M904.8 1338.7h0M895.4 1331.5h0M951.1 1332.7h0M823.7 1331.7h0M907.5 1340.4h0M876.6 1335.1h0M925.1 1331.2h0M824.9 1339.3h0M932.7 1329.4h0M827.6 1326.4h0M884 1331.7h0M876.7 1343.9h0M905.4 1327.4h0M819.7 1334.8h0M810.7 1335.6h0M871.7 1345.4h0M928.2 1338.4h0M844.6 1330.9h0M883.7 1333.3h0M907.5 1336.2h0M857.8 1338.9h0M859.7 1323.1h0M822.4 1324.3h0M873.2 1345h0M937 1338.4h0" stroke="#24787f" stroke-width="2.5" stroke-linecap="round" fill="none"/><path d="M897.5 1323.1h0M867.1 1329.7h0M903.7 1324.5h0M891.6 1332.8h0M883.8 1333.5h0M823.7 1342.2h0M931.4 1338.7h0M825.8 1338.7h0M924.9 1324h0M943.5 1340.5h0M850.6 1347.3h0M846.1 1338.1h0M866.4 1330.7h0M925.4 1339.2h0M859.1 1337.2h0M951.1 1337.9h0M948.9 1337.8h0M878.9 1337.5h0M904.1 1335.5h0M905.8 1337h0M810.1 1331.3h0M943.1 1324.4h0M929.8 1323.6h0M907.9 1344.1h0M844.7 1332.9h0M842.9 1341.5h0M889.5 1338.9h0M858.1 1338.4h0M954.8 1329.4h0M887.5 1333h0" stroke="#ee6c1c" stroke-width="2.5" stroke-linecap="round" fill="none"/><path d="M854 1528.2h0M833.5 1481.8h0M814.8 1427.3h0M871.6 1553.4h0M860.1 1479.8h0M923.7 1388.2h0M852 1405.5h0M828.6 1433.5h0" stroke="#35a85a" stroke-width="2" stroke-linecap="round" fill="none"/><path d="M896.5 1486h0M873.3 1403.1h0M910.8 1531.5h0M909.6 1419.4h0M911.5 1394.5h0M904.3 1522.5h0M888.4 1533.8h0M850.1 1505.5h0M894.5 1536.8h0M880.4 1428.2h0" stroke="#24787f" stroke-width="2" stroke-linecap="round" fill="none"/><path d="M842.7 1478.8h0M896 1503.6h0M904.3 1434h0M824.3 1429.4h0M904.9 1464.4h0M910.2 1406.2h0" stroke="#ee6c1c" stroke-width="2" stroke-linecap="round" fill="none"/><path d="M825.3 1442.1h0M917.9 1406.7h0M823.5 1502.5h0M822.6 1422.8h0M892 1541.5h0M861.6 1461.2h0M816.3 1440.5h0M841.6 1525.5h0M898.1 1524.6h0M876.2 1508.5h0M827.8 1449h0M847.6 1429.5h0M901.1 1416.6h0M851.5 1429.5h0" stroke="#a66cc6" stroke-width="2" stroke-linecap="round" fill="none"/><path d="M870.1 1448h0M866.4 1483.4h0M915.8 1424.6h0M843.5 1395.5h0M872.7 1521.6h0M831.3 1457.9h0" stroke="#ea6fb0" stroke-width="2" stroke-linecap="round" fill="none"/><path d="M949.4 1384.2h0M937.8 1369.3h0M961.9 1345.3h0M955.4 1343.8h0M952.3 1357h0M973.6 1369.6h0M949.1 1383.4h0M941.9 1377.8h0M953.3 1352.9h0M949.1 1353.1h0M958.2 1387.9h0M974.7 1369.1h0M948.7 1330.6h0M935.4 1360.7h0M958.5 1355.5h0M948 1353.4h0M958.8 1362.5h0M951.4 1341.1h0M946.4 1358.9h0M952.3 1394.4h0M957.5 1337.9h0M934.7 1334.4h0M947.8 1380h0M967.3 1355.1h0M956.4 1361.8h0M934.2 1327.6h0M962.2 1373.2h0M949.3 1390h0M935.3 1363.3h0M961.6 1339.2h0M960.4 1343.2h0M952.3 1339.8h0M940.6 1336.1h0M968.9 1355.9h0M964.4 1348.2h0M968.5 1366.4h0M961.6 1351.5h0M957.5 1336.7h0M956.2 1369.5h0M936.8 1347.3h0M971.3 1380h0M964.5 1344.8h0M942.7 1374.3h0M945.7 1375.7h0M948 1378.4h0M958 1382.4h0M956.7 1351.2h0M957 1378.1h0M954.2 1325.5h0M953.5 1322.8h0M943.9 1371.5h0M966.6 1369.3h0M952.2 1376.4h0M962.3 1337.9h0M956.3 1366.5h0M946.2 1347.9h0M936.6 1348.3h0M965 1365h0M940 1376.3h0M938.9 1329.8h0M943.6 1360.5h0M965.9 1373.7h0M957.5 1341.4h0M946.7 1337.3h0M951.6 1388.5h0M946.1 1323.8h0M941.8 1331.3h0M948.8 1331.5h0M940.3 1341.1h0M958.2 1355.4h0M946 1361.3h0M967 1375.7h0M967.8 1363.9h0M953.6 1346.9h0M959.6 1330h0M943 1362h0M954.6 1371.4h0M940.9 1368.6h0M940.7 1374.8h0M934.1 1342.8h0" stroke="#35a85a" stroke-width="2.5" stroke-linecap="round" fill="none"/><path d="M937.6 1333.7h0M956 1335.5h0M960.2 1385.8h0M938 1338.7h0M966.6 1357.2h0M956.8 1391.6h0M967 1377.6h0M959.2 1330.1h0M967.4 1375.7h0M946.5 1372.9h0M950.7 1377.7h0M949.5 1381.5h0M953.4 1382.2h0M945.8 1362.7h0M962.7 1353.9h0M963.9 1376h0M959 1382.4h0M944.6 1324.9h0M934.1 1332.8h0M941.7 1333.5h0M972.6 1371.4h0M958.4 1332.4h0M950.8 1392h0M970 1376.3h0M954.4 1358.7h0M938.8 1360.3h0M944.2 1340.3h0M952.9 1370.1h0M957.9 1387.9h0M955.2 1360.3h0M946.3 1331.9h0M951 1325.3h0M971.7 1373.8h0M965 1378.3h0M945.8 1376.1h0M941.5 1363.4h0M959 1379.5h0M939.8 1348h0M969.3 1381.6h0M941.7 1330.6h0M964.8 1377.3h0M961.4 1379.8h0M955.4 1363.9h0M973.6 1370.2h0M961.7 1365.9h0M954.4 1378.1h0M958 1332.2h0M951.4 1353.6h0M951.7 1363.8h0M948.5 1351.4h0" stroke="#24787f" stroke-width="2.5" stroke-linecap="round" fill="none"/><path d="M951.4 1350h0M950 1355.6h0M958.8 1349.6h0M943 1323.9h0M945.1 1356.8h0M946.8 1327.1h0M943.1 1341.4h0M963.6 1381.1h0M953.4 1351.1h0M937.4 1366.2h0M976.5 1375.1h0M952.9 1333.4h0M962.2 1357.4h0M960 1330.1h0M958.7 1353.6h0M942.6 1347.8h0M958 1346.5h0M952 1382.3h0M940.4 1375.5h0M959.5 1330.9h0M950.7 1368.4h0M960.9 1347.8h0M933.8 1331.9h0M957.4 1335.3h0M946 1368h0" stroke="#e2352a" stroke-width="2.5" stroke-linecap="round" fill="none"/><path d="M943.7 1365.6h0M944.6 1380h0M939.3 1342h0M952 1389.2h0M939.7 1336.9h0M938.2 1338.4h0M947.2 1351.7h0M966.4 1352.3h0M953.6 1351.8h0M951.4 1390.2h0M955.9 1372.7h0M949.4 1342.6h0M948.4 1373.9h0M953 1361.3h0M941.6 1335.7h0" stroke="#ee6c1c" stroke-width="2.5" stroke-linecap="round" fill="none"/><path d="M829.4 1306.9h0M848 1294.5h0M823.1 1314h0M840 1289.2h0M825 1287.4h0M826.6 1290.2h0M852 1312.2h0M847.4 1317h0M825.5 1299.3h0M853.6 1302.1h0M834 1285h0M845.2 1290.7h0M844.6 1306.9h0M826.7 1286.5h0M814.7 1303.5h0M830 1282.2h0M834.3 1319.3h0M824.9 1281.1h0M844 1305.7h0M838 1281.9h0M821.3 1285h0M838.2 1296.7h0M840.2 1309.2h0M857.2 1296.3h0M819.7 1302.9h0M827.3 1315.4h0M846.8 1312.5h0M833 1280.7h0M845.4 1288.8h0M832.7 1279.2h0M831.8 1300.4h0M840.1 1293.1h0M850.7 1299.6h0M851.9 1301.5h0M818.4 1285.7h0M828.6 1293.2h0M839.4 1277.9h0M847.8 1312.6h0M828.4 1280.2h0M850.6 1307.5h0M831.1 1290h0M820.2 1314.4h0M835.6 1313.4h0M829.5 1288.9h0M838.2 1310.1h0M847.2 1293h0M855.5 1310.8h0M840.3 1291h0M826.2 1317h0M852.5 1288.1h0M853 1299.3h0M840.2 1299.8h0M833 1300.7h0M846.1 1304.9h0M852.8 1307.5h0M839.1 1311.3h0M820.4 1299.2h0M857.5 1310.2h0M832.4 1296.8h0M851.6 1306.8h0M827.8 1309.4h0M836.9 1312.7h0M830.7 1316.9h0M846.7 1295.4h0M840.6 1313.1h0M839 1320.8h0M848.2 1297.3h0M829.4 1308.5h0M853.6 1291.5h0M816.4 1301.3h0M828.6 1285.9h0M834.9 1276.8h0M840.4 1295.1h0M828 1303h0M860.3 1309.2h0M818.8 1290.1h0M818.9 1294h0M838.9 1287.9h0M846.2 1300.9h0M842.4 1287.9h0M849.2 1307.3h0M848.2 1296.4h0M835.7 1287.2h0M843.3 1282.2h0M855.2 1313.6h0M836.9 1281.7h0M826.1 1309.7h0M830 1302.7h0M829.4 1318.2h0M829 1288.1h0M842 1314.1h0M815.7 1300h0M839.3 1320.6h0M840.5 1290.9h0M841.4 1319.5h0M825.4 1313.9h0M830.9 1301.9h0M824.4 1308.2h0M847.3 1290.3h0M835.5 1312.5h0M839.1 1286.6h0M838.4 1321.9h0M849 1306.3h0M854.6 1293.3h0M840.5 1315.2h0M822.5 1315.8h0M813.8 1299.7h0M841.3 1280.2h0M821.8 1293.4h0M842.1 1294.3h0M825.3 1313.2h0M850.2 1302.8h0M834.1 1284.7h0M823.7 1294.8h0M828.3 1296.6h0M820.7 1293h0M847.5 1289.1h0M817.6 1304.2h0M835.2 1318.7h0M817.8 1310.1h0M846 1291.4h0M819 1303.4h0M850.4 1296.5h0M836.1 1307.1h0M843 1294h0M821.9 1296h0M840 1317.6h0M829 1284h0M844 1309.7h0M824.9 1307.3h0M845.1 1316.1h0M822.7 1290.1h0M827.9 1296.7h0M849.7 1304.4h0M859 1306.3h0M813.9 1299.1h0M844.1 1283h0M855.3 1293.5h0M843.5 1299.9h0M825.7 1311.8h0M828.6 1316.9h0M837.5 1274.7h0M827.5 1303.3h0M851.4 1292.4h0M838.7 1293.9h0M849.3 1307.8h0M854 1306.5h0M844 1288.5h0M829.6 1290.3h0M818.1 1309.1h0" stroke="#35a85a" stroke-width="2.6" stroke-linecap="round" fill="none"/><path d="M852.9 1312.3h0M838.3 1284.6h0M851 1312.9h0M828.8 1289.9h0M834.3 1279.3h0M847.6 1298.9h0M850.8 1289.7h0M833.2 1310h0M847.6 1317.2h0M828 1315.2h0M849.3 1301.5h0M832.9 1301.2h0M828.1 1279.1h0M849.1 1303.6h0M822.9 1308.9h0M853.8 1303.8h0M823.9 1301.1h0M832.3 1286.3h0M820 1316h0M844.1 1319.4h0M821.2 1286.1h0M838 1275.9h0M827.7 1299.9h0M836.6 1318.3h0M841.4 1304.7h0M841.8 1312.1h0M823.7 1305.7h0M825.5 1292h0M825.5 1285.1h0M828.8 1293.6h0M830.5 1289.1h0M849.4 1297.5h0M857.5 1295.7h0M822.8 1313.8h0M837.6 1300.9h0M818.4 1288.8h0M843.4 1306.5h0M843.9 1303.8h0M831.4 1276.3h0M821.2 1290.2h0M822.6 1315.8h0M853.4 1314.4h0M831.6 1319.6h0M825.6 1301.6h0M846.2 1284.6h0M831.6 1277.9h0M819.4 1286.8h0M844.5 1304.7h0M838.7 1315.5h0M839.2 1281.4h0M824.6 1280.2h0M856.8 1305.6h0M842.1 1299.3h0M840.8 1302.9h0M824.6 1302.3h0M839 1289.9h0M833.7 1299.9h0M851 1299.8h0M848.3 1304.7h0M840.9 1294.8h0M824.1 1311.9h0M823.6 1308.3h0M837 1294.2h0M847.8 1309.1h0M846 1297.6h0M836 1299.5h0M828 1278.2h0M836.7 1276.4h0M821.1 1295.1h0M829.9 1297.9h0M839 1292.3h0M840.5 1321.3h0M826.6 1290.5h0M828.5 1309.9h0M837.2 1312.6h0M822.9 1291.3h0M832.5 1292.1h0M841.3 1321h0M844.6 1302.6h0M853.9 1289.6h0M839.2 1301.9h0M831.2 1305h0M831 1286.7h0M826.1 1297.2h0M823.1 1312.6h0M816.3 1293.6h0M851.6 1308.5h0M853.2 1296.4h0M857 1296.8h0M825.4 1280.4h0M837.3 1275.4h0M820.8 1316.5h0M841.2 1316h0M820.1 1296.9h0M836 1278.3h0M848.7 1298.3h0M843 1315.8h0M820.8 1284.9h0M819.4 1298.5h0M841.6 1295.9h0M836 1279.9h0M848.4 1299.7h0M828 1314.5h0M832 1295.4h0M825.4 1310h0M837.8 1321.2h0M856.9 1295.4h0M817.8 1295.7h0M838.4 1312.1h0M821.9 1286.9h0M850 1294h0M816.4 1292.3h0M838.3 1299.8h0M817.5 1301.8h0M834.8 1289.2h0M854 1307.4h0M818.8 1312.4h0M850.6 1296.5h0M819 1303.4h0M843.7 1315.7h0M825.8 1316.1h0M818.1 1312.5h0M857.3 1301h0M842.8 1303.5h0M851 1298.7h0M852.3 1300.2h0M841.6 1284.8h0M840.8 1315.6h0M831 1294.6h0M844.4 1282h0" stroke="#24787f" stroke-width="2.6" stroke-linecap="round" fill="none"/><path d="M841.6 1288.9h0M836.2 1308.5h0M828.2 1302.8h0M853.5 1296.2h0M844 1287.3h0M825.3 1298.4h0M839.1 1284.1h0M850.7 1297.8h0M830.3 1285.6h0M816.1 1304.4h0M846.4 1289.7h0M834.6 1307h0M820.6 1291.1h0M851.8 1306.9h0M841.8 1278.1h0M823.4 1285.7h0M814.2 1304.8h0M841.1 1319h0M840.2 1318.7h0M836 1298.7h0M826.6 1296.1h0M822.4 1304h0M838 1296.6h0M858.8 1310.9h0M847.5 1302.7h0" stroke="#ee6c1c" stroke-width="2.6" stroke-linecap="round" fill="none"/><path d="M845.1 1297.9h0M854.2 1302.9h0M857.7 1300.1h0M820.8 1308.2h0M844.8 1313.2h0M816.9 1296h0M853 1289.9h0M819.8 1316.1h0M815.8 1300.7h0M860.2 1303.7h0M841.3 1282h0M829.1 1280.4h0M835.7 1275.2h0M845.3 1305.2h0M857.7 1311.2h0M839.7 1319.6h0M837.1 1277h0M857.6 1297.5h0M828.9 1305.9h0M848 1295.9h0M826.3 1293.9h0M848.2 1284.3h0M820.5 1297.1h0M825.9 1311.4h0M836.8 1316.3h0M847.7 1303.9h0M836.6 1306.1h0M838.6 1282h0M828 1315.4h0M840.9 1298.4h0M848 1297.5h0M831.7 1300.5h0M857.9 1305.5h0M820.5 1315.6h0M826.7 1313h0M845.1 1303.1h0M849.6 1286.3h0M854.2 1300h0M850.3 1314.8h0M825.3 1293.4h0M830.6 1276.8h0M856.3 1307.1h0M837 1300.1h0M830.4 1307.1h0M839.2 1297.7h0M825.5 1284h0M846 1289.9h0M838.2 1278.1h0M830.5 1276.6h0M837.6 1320.6h0M850.6 1291.1h0M860 1305.1h0M832 1294.1h0M842.9 1299.2h0M851.4 1305.2h0M830.7 1296.5h0M840.6 1309.8h0M820.4 1310.8h0M848.3 1300.2h0M853.7 1313.1h0" stroke="#1fa3cb" stroke-width="2.6" stroke-linecap="round" fill="none"/><path d="M892.1 1318.4h0M875.6 1310.7h0M881 1322.8h0M897.7 1309.6h0M871.4 1310.5h0M882.2 1311.9h0M900.4 1315.2h0M892.2 1313.1h0M885.9 1325.1h0M879.2 1315.1h0M886.6 1306.1h0M874.5 1314.6h0M898.3 1312.9h0M874.1 1323.4h0M874.4 1308.9h0M884.5 1320.4h0M885 1312.6h0M883.8 1315h0M879.4 1325h0M876.1 1305.9h0M889.2 1311h0M895.5 1303.8h0M893.8 1311.3h0M903 1309.8h0M884.9 1310.2h0M888.6 1309.4h0M893.6 1312.4h0M895 1309.6h0M885.8 1315.8h0M895.4 1318h0M884.8 1304.8h0M873.2 1306.3h0M875.8 1307.1h0M893.3 1310.8h0M902.3 1308.3h0M878.1 1307.1h0M874.4 1318.7h0M890.3 1308.7h0M898.7 1318.6h0M884.8 1317h0M893.1 1313.1h0M872.5 1311.3h0M892.5 1304.9h0M897.4 1323h0M882.8 1311.5h0M887.9 1308.7h0M876.8 1305.8h0M894.2 1314.7h0M904.1 1325.2h0M901.1 1324.8h0M899.8 1303.4h0M873.8 1325.6h0M901.1 1317.2h0M891.8 1313h0M884.6 1306.2h0M889.1 1309.2h0M873.6 1323.1h0M890.1 1323.2h0M879.9 1316.3h0M879.2 1322.2h0M876.7 1317.9h0M889.4 1310.4h0M872 1314.2h0M888.2 1321.9h0M876.5 1307.2h0M880.3 1321.5h0M877.6 1317.6h0M895 1314.4h0M873.2 1313.8h0M903.5 1311.9h0M889.5 1312.6h0M901.4 1316.3h0M881.8 1309.5h0M875.9 1324.6h0M899.9 1311.6h0M891.2 1315.7h0M896 1306.6h0M869.9 1306.7h0M893 1317.1h0M900.5 1303.8h0M899.6 1313.9h0M877 1312.3h0M871.9 1316.4h0M877.1 1319.2h0M875.5 1318.9h0M891.7 1319.4h0M894.1 1312.1h0M901.8 1322h0M897 1316.8h0M878.7 1324h0" stroke="#35a85a" stroke-width="2.6" stroke-linecap="round" fill="none"/><path d="M904.5 1324.9h0M881.5 1322h0M893.9 1322.4h0M898.4 1313.4h0M883.6 1321.4h0M893 1315.4h0M901.1 1303.6h0M872.7 1322.4h0M872.3 1323.4h0M877.3 1306h0M896.7 1318.6h0M884.1 1316.7h0M889.3 1324.9h0M887.7 1315.4h0M886 1312.4h0M894.3 1305.4h0M894.4 1324.5h0M896.9 1315.5h0M882 1305.1h0M872.5 1315.4h0M901.3 1323h0M875.8 1320.3h0M898.6 1314h0M900.5 1307.2h0M881.4 1314.8h0M895.7 1313.3h0M880.2 1323h0M883.4 1312.6h0M877.3 1314.1h0M894.9 1311.3h0M893.3 1314.3h0M879.6 1315.5h0M871.4 1307.6h0M874.7 1322.6h0M879 1314.7h0M875.5 1310h0M902.2 1313.2h0M877.6 1316.7h0M873.2 1314.9h0M892.8 1304.9h0M889.2 1310h0M896.3 1317.2h0M902.4 1317h0M875.8 1307.2h0M894.8 1321.7h0M871.4 1312.5h0M879.4 1313.7h0M901 1315.9h0M896.3 1320.6h0M879.3 1317.2h0" stroke="#24787f" stroke-width="2.6" stroke-linecap="round" fill="none"/><path d="M882.8 1313.9h0M888.5 1318.4h0M875.3 1322.3h0M875 1310.1h0M900.2 1325.8h0M882.5 1325h0M897 1306.6h0M873.6 1311.2h0M872.2 1313.8h0M881.8 1320h0M887.1 1325.3h0M900 1306.8h0M902.7 1323.7h0M889.8 1315.1h0M875.3 1310.3h0M877.2 1307.4h0M891.6 1310.4h0M897.2 1316.2h0M899.4 1304.9h0M900.1 1314.7h0M892.2 1308.4h0M894.6 1312.3h0M895.5 1316.4h0M874.2 1309.8h0M892.2 1315.5h0M895.2 1310.5h0M886.5 1313.9h0M896.5 1304.5h0M887.8 1308.9h0M890.7 1308.9h0M876.6 1308.2h0M901.8 1311.3h0M901.3 1320h0M878.9 1315.7h0M892.2 1305.5h0M888.1 1314.4h0M893.6 1309.6h0M902.4 1317.3h0M871.8 1321.9h0M901.5 1309.9h0" stroke="#1fa3cb" stroke-width="2.6" stroke-linecap="round" fill="none"/><path d="M735.4 1328.6h0M742.9 1319.4h0M737.4 1318.6h0M709.5 1309.4h0M746.6 1320h0M733.5 1310h0M723.9 1318.3h0M742.6 1329.1h0M707.2 1306.8h0M745.5 1324.8h0M724.5 1319.6h0M696.3 1308.2h0M738.5 1325.2h0M702.5 1311.7h0M702 1305.3h0M702.5 1317.6h0M749.6 1319.5h0M736.3 1309.8h0M726 1324.7h0M740.8 1318.7h0M698.6 1315.2h0M709.3 1307.1h0M721 1314.2h0M699.1 1292.7h0M681.8 1296.2h0M697.3 1308h0M686.5 1300.5h0M683.8 1289.4h0M743.1 1327.8h0M748.7 1316.4h0M733.7 1316h0M725.3 1309.1h0M739.1 1311.2h0M699.3 1310.4h0M718.5 1313.9h0M724.4 1307.4h0M718.6 1319.5h0M741.4 1319.1h0M686.2 1296.7h0M702.3 1301.7h0M707.1 1320.1h0M710.8 1301.5h0M714.8 1321.6h0M750.6 1331.6h0M692.9 1301h0M691 1308.2h0M738.9 1329.6h0M700.7 1296.9h0M699.8 1305.4h0M743.8 1322.7h0M691.2 1295.7h0M683 1292.9h0M687.9 1303.2h0M741.8 1311.8h0M679.8 1288.2h0M736.4 1309.9h0M699.5 1294.1h0M747 1320.3h0M736 1319.3h0M729.5 1319.8h0M719.4 1317.5h0M719.1 1323.8h0M721.8 1304.9h0M704.1 1303.9h0M694.6 1299.5h0M738.4 1330h0M686.7 1310.3h0M738.1 1324.4h0M731.4 1323.1h0M723.6 1322.9h0M724.5 1314.7h0M734.9 1321.5h0M716.7 1323.7h0M711.1 1318.4h0M718.6 1325.2h0M693.6 1290.6h0M694.5 1305.2h0M711.7 1317.9h0M701.2 1310.9h0M716 1302.7h0M712.6 1310.9h0M707.7 1312.9h0M683.8 1305.3h0M718.3 1323h0M743.8 1322.1h0M708 1320.8h0M692.9 1315.7h0M690.8 1301.6h0M755.3 1333.4h0M727.3 1327.6h0M741.2 1317.4h0M726.7 1319.5h0M691.2 1313.1h0M711 1307.8h0M686.6 1286.9h0M750.9 1330.6h0M696.5 1312.9h0M704.4 1305.2h0M755.8 1333.7h0M720 1312.9h0M716.6 1323.4h0M734 1312.1h0M687.2 1307.3h0M681.5 1292.5h0M687.5 1306h0M695.2 1294.5h0M724.6 1308.8h0M705.5 1310.7h0M743.6 1325.2h0M717.2 1309.5h0M717.1 1307h0M755.7 1332.4h0M710 1309.3h0M692.3 1308.3h0M677.8 1295.5h0M686.4 1295.8h0M737.4 1313.5h0M687.1 1298.1h0M756.2 1334.9h0M693.4 1296.4h0M725.7 1310.5h0M740.6 1311.1h0M702.4 1318.5h0M746 1318.5h0M738.3 1314.6h0M698.3 1296.8h0M749.1 1315.8h0M738.5 1326.3h0M712.6 1306.9h0M712.2 1301.9h0M741 1329.9h0M733.2 1324.2h0M739.5 1327.8h0M707.7 1311h0M735.9 1319.9h0M730.8 1309.9h0M719.8 1324.5h0M723.5 1321.1h0M704.7 1315.1h0M707 1310.9h0M698.7 1298.1h0M708.9 1317.6h0M718.1 1321.8h0M708.3 1313.3h0M725.1 1307.3h0M678.7 1296h0M704.3 1317.4h0M690.7 1308.7h0M698.8 1312.9h0M733.5 1310.4h0M738.6 1316h0M716.5 1323.3h0M714.1 1309.4h0M733.8 1316.2h0M680.8 1297.3h0M700.7 1313.6h0M695 1292h0M732.3 1330h0M682.2 1284.3h0M685.6 1299.4h0" stroke="#24787f" stroke-width="2.5" stroke-linecap="round" fill="none"/><path d="M687.4 1305.9h0M756.6 1334.9h0M711.2 1317.1h0M749.7 1330h0M687.9 1291.7h0M751.2 1320h0M737.5 1325.2h0M711.8 1306.4h0M734.8 1326.9h0M752.7 1333.6h0M720.5 1303.5h0M732.2 1318.7h0M745.4 1323.4h0M716 1312.8h0M715.8 1308.7h0M737.5 1322h0M707.5 1318.7h0M754.4 1324.3h0M708 1301.6h0M712.3 1315.1h0M736 1322.9h0M747.3 1329.6h0M717.8 1310.3h0M706.5 1308.9h0M725.9 1312.8h0M730 1327.1h0M736.7 1327.1h0M706.4 1305.2h0M706.7 1301.1h0M742 1312.7h0M739.8 1329.4h0M708 1309.4h0M694.5 1296.2h0M747.1 1317.1h0M713.4 1316.9h0M706 1313.5h0M691.6 1311.7h0M703.3 1296.9h0M738 1322.8h0M724.5 1319.4h0" stroke="#35a85a" stroke-width="2.5" stroke-linecap="round" fill="none"/><path d="M751 1327.6h0M753.3 1317.6h0M752.6 1309.7h0M753.5 1317.7h0M751.9 1326.1h0M743.1 1314.5h0M741.7 1320h0M742.4 1316.9h0M754.1 1316.5h0M755.1 1312.5h0M756.9 1312.2h0M755.7 1312.7h0M746.4 1310.6h0M757.8 1322.2h0M752.2 1319.7h0M754.6 1319.4h0M746 1326.2h0M742.8 1317.6h0M744.2 1318.1h0M746.2 1313.7h0M744.6 1325.2h0M742.2 1321h0M758.5 1311.8h0M749 1313.2h0M754.3 1323h0M740.1 1314.1h0M742.9 1316h0M759.1 1317.3h0M748 1313.5h0M748.1 1328.5h0M742.8 1319.2h0M749.9 1325.5h0M756.8 1324.3h0M741.5 1314.5h0M752.7 1310.5h0M763.9 1323.9h0M749.2 1316.7h0M758.5 1311.8h0M748.4 1325.3h0M746.5 1329.1h0" stroke="#a66cc6" stroke-width="2.5" stroke-linecap="round" fill="none"/><path d="M649.2 1262.8h0M639.1 1265.5h0M644.2 1267.8h0M630.6 1264.7h0M639.3 1265.4h0M636.5 1261.2h0M648.7 1265.2h0M645.2 1267h0M624.7 1262.9h0M628 1266h0M629.6 1259.9h0M627.1 1261.4h0M639.2 1264.2h0M637 1259.7h0" stroke="#24787f" stroke-width="2.4" stroke-linecap="round" fill="none"/><path d="M666.2 1304.6h0M641.5 1298.1h0M679.1 1312.2h0M677.1 1326.3h0M687.1 1324.4h0M661 1313.2h0M650.8 1297.2h0M647.9 1300.9h0M675.4 1310.6h0M651.6 1297.8h0M680.9 1316h0M675.4 1320.4h0M675.3 1321.5h0M647.3 1299.4h0M675.2 1317.7h0M681.8 1323.2h0M677.3 1315.1h0M678.7 1314.3h0M672.7 1307.7h0M683.9 1321h0M661.6 1314h0M683 1327.4h0M657 1301.7h0M662.2 1300.9h0M663.2 1299.5h0" stroke="#24787f" stroke-width="2.4" stroke-linecap="round" fill="none"/><path d="M698.9 1315.9h0M696.4 1328.7h0M684.9 1328.3h0M694.2 1327.9h0M684.5 1323.8h0M701.8 1328h0M686.1 1319.5h0M692.3 1324.8h0M682.4 1334.7h0M691.7 1318.2h0M681.8 1334.3h0M699.8 1315.4h0M688 1311.8h0M688 1325.1h0M699.6 1324.6h0M702.1 1339.4h0M683.2 1329.6h0M683.1 1336.4h0M681 1311.1h0M706.1 1321.7h0M694.4 1327.3h0M682.7 1319.5h0M689.4 1331.6h0M700.4 1330.3h0M684.4 1323.3h0" stroke="#35a85a" stroke-width="2.4" stroke-linecap="round" fill="none"/><path d="M724.7 1383.2h0M743 1371.4h0M734.3 1400.4h0M723 1393.9h0M744.2 1367.9h0M714.3 1394.6h0M743.5 1379.2h0M745.9 1408.7h0M719.2 1388.8h0M749.1 1356.4h0M754.2 1360.1h0M757.9 1403.7h0M747.8 1364.4h0M730.6 1381h0M749 1367.9h0M754 1352.7h0M733.9 1347.2h0M739.2 1366.3h0M748.6 1377.8h0M742.5 1342.6h0M714.7 1401.1h0M713.4 1381.7h0M726.3 1387.5h0M752.6 1399.5h0M727.4 1411.6h0M746.8 1357.3h0M723.7 1376.1h0M751.2 1343.7h0M753.6 1387.4h0M737.7 1367.2h0M726.5 1367.1h0M744.3 1369.9h0M744.2 1403.1h0M749.5 1367h0M729 1382h0M721.5 1403.5h0M746.1 1355.7h0M727.6 1367.9h0M743.9 1357.9h0M725.1 1374.6h0M746 1374.7h0M736.5 1353.8h0M726.8 1378.9h0M725.6 1350.1h0M752.7 1341.1h0M735.7 1377.8h0M728 1383.9h0M753.2 1360.5h0M752.9 1381.9h0M746.3 1365.9h0M723.4 1388.9h0M736.4 1405.9h0M743 1405.4h0M731 1396.3h0M712 1385h0M723.7 1389.1h0M722 1350.4h0M720.5 1391.4h0M744.1 1405.9h0M728.2 1341.1h0M749.2 1355.7h0M744.4 1373.5h0M729.8 1338.4h0M718.3 1393.3h0M730.6 1403.5h0M749.1 1376.9h0M727.5 1376.9h0M714.2 1380.5h0M720.6 1365.3h0M730.9 1358.2h0M715.3 1387.1h0M739.5 1342.3h0M725.6 1373.6h0M736.7 1383.8h0M719.9 1363.3h0M729.9 1403.9h0M747.5 1372.8h0M749.6 1369.3h0M727 1384.9h0M742.7 1344.7h0M728.4 1401.5h0M720.1 1376.6h0M724.6 1378.3h0M727 1362.4h0M755.4 1389.1h0M731 1364h0M752.3 1364.2h0M742.4 1349.6h0M735 1356.7h0M754.8 1364.1h0M724.3 1378.2h0M755.7 1389.1h0M750 1379.4h0M739.1 1346.8h0M750.4 1385h0M740.7 1359.3h0M746.8 1376.4h0M723.2 1411.9h0M747.3 1388h0M750.9 1389.3h0M726.7 1409.1h0M754.4 1387.4h0M729.3 1374.4h0M750.4 1381.6h0M731 1397.5h0M719.5 1382.6h0M725 1382.5h0M753.9 1367.5h0M750.6 1371.9h0M729.7 1338.4h0M723.3 1372.3h0M736.7 1353.1h0M740.5 1385h0M721.9 1343.9h0M721.6 1352.4h0M707.8 1397.8h0M720.8 1393h0M749.5 1397h0M751.5 1384.4h0M738.3 1368.6h0M749.9 1376.9h0M724.9 1374h0M731.3 1350.4h0M742 1399.9h0M727.7 1394.7h0M742.5 1376.9h0M743.6 1348.8h0M738.2 1376.2h0M744.6 1344.6h0M752.6 1350.2h0M744.5 1365h0M743.4 1389.5h0M727.9 1408.5h0M729.5 1371.8h0M744.2 1347.7h0M753.8 1361.5h0M753.4 1347.2h0M716.8 1391.5h0M745.4 1388.6h0M737.2 1342.3h0M744.3 1377.9h0M755.8 1398.7h0M741 1399.4h0M733.2 1358.3h0M709.5 1389.9h0M741.6 1384.5h0M733.4 1370.9h0M755.1 1364.9h0M746.7 1404.6h0M732.3 1365.7h0M748 1355.2h0M721.3 1399.5h0M718.6 1391.5h0M720.8 1367.4h0M731.2 1354.9h0M750 1408h0M745.6 1377.9h0M742.5 1356.1h0M727.6 1341.1h0M727.1 1393.5h0M723 1350.2h0M734.8 1404.6h0M740.5 1344.5h0M729.2 1353.6h0M749.4 1368.1h0M729.8 1403.2h0M722 1370.4h0M734.9 1385.7h0M724 1384.2h0M728.6 1399.6h0M735.8 1391.7h0M736.7 1389.4h0M726.9 1347.4h0M725.5 1361h0M707 1394.9h0M734.1 1372.8h0M743.7 1341.2h0M712.9 1390.9h0M733.2 1410h0M751.9 1367.3h0M724.5 1369.3h0M747.1 1371.4h0M746 1375.4h0M745.7 1373.9h0M737.1 1368.2h0M736.4 1378.8h0M747.4 1355.6h0M744.2 1357.7h0M737.9 1395.4h0M734 1354.8h0M722.5 1378.5h0M745.6 1349.7h0M739.9 1366.9h0M746.8 1391.7h0M725.8 1381.2h0M713.9 1382.7h0M740.6 1354.2h0M741.6 1346.7h0M755.2 1387.2h0M717.6 1392.1h0M738.9 1365h0M743 1394.2h0M742.4 1352.8h0M757.5 1405.6h0M729.3 1407h0M732.2 1347.1h0M718.8 1392.1h0M727.9 1390.4h0M720 1372.7h0M752.2 1364.1h0M721.9 1407.5h0M725.9 1377.5h0M752.8 1399.1h0M749.7 1406h0M718.5 1340.1h0M713.1 1385.8h0M735.2 1364.3h0M744.1 1352.9h0M738.5 1368h0M713.6 1395.4h0M716 1397.3h0M746.7 1369.5h0M730.3 1351.8h0M713.6 1389.3h0M725.9 1379.1h0M725.8 1356.4h0M714.9 1394.4h0M729.2 1347.8h0M752.6 1347.9h0M718.4 1348.1h0M736 1395.6h0M743.6 1399.6h0M728.6 1369.5h0M752.5 1357.9h0M754.1 1399.8h0M728.7 1399.8h0M722.8 1354.8h0M735.5 1352.3h0M720 1384.5h0M715.4 1396.2h0M752.6 1368.2h0M721.9 1344.1h0M743.9 1378.9h0M720.6 1355h0M744.7 1406.2h0M724.9 1380.9h0M737.1 1359.4h0M738.4 1377.5h0M728.2 1347.4h0M735.2 1381.4h0M739.4 1403.8h0M738.5 1395.1h0M712.3 1402.8h0M755.6 1381.3h0M750.2 1378.1h0M729.3 1348.3h0M731.8 1390.6h0M748.4 1404.4h0M733.8 1408.3h0M728.9 1377.4h0M747.3 1353.9h0M716.4 1401.2h0M736.3 1346.5h0M733.9 1395.1h0M718.1 1409.2h0M737.8 1387.8h0M738.2 1406.7h0M716.9 1339.6h0M734.8 1363h0M727.3 1366.3h0M753.1 1357.9h0M743 1379.5h0M721.3 1405.8h0M719.8 1359.1h0M716.4 1389.7h0M743.1 1364h0M724.1 1378.2h0M708.6 1398.7h0M752.4 1342.8h0M750.5 1359.7h0M738.2 1410.4h0M744.6 1406h0M724.9 1409.1h0M754.3 1357.1h0M747.2 1406.3h0M747.2 1379.9h0M755 1369.2h0M730 1348.9h0M720.8 1403h0M720.1 1404.6h0M748.9 1379.7h0M712.5 1399.4h0M721.1 1407.7h0M729.6 1364.2h0M754.5 1398.8h0M742.3 1358h0M720.2 1350.8h0M736.6 1360.1h0M717.7 1403.2h0M739.1 1377.4h0M717.7 1400.2h0M757.9 1398.3h0M725.8 1377.6h0M728.2 1396.2h0M730.2 1377.7h0M752.8 1343.4h0M733.8 1381.9h0M750.8 1361.1h0M738.5 1408.9h0M724.2 1385.8h0M745 1388.1h0M742.1 1365.5h0M744.3 1363h0M718.6 1343.7h0M735.6 1349.1h0M721.2 1358.8h0M726 1367.9h0M735.4 1366.7h0M735.3 1398.3h0M734 1375.3h0M724.9 1350.3h0M717.5 1342.9h0M721.3 1339.2h0M728.3 1379.9h0M712.3 1393.9h0M730.2 1383.8h0M729.1 1396.8h0M742.3 1345.3h0M735.4 1356.3h0M745.9 1364.4h0M719.6 1407.3h0M729.2 1388.1h0M723.1 1342.5h0M720.5 1383.5h0M720.4 1404.1h0M737.4 1366.6h0M717.7 1383.2h0M721.5 1367.7h0M738.6 1392.3h0M742.3 1369.3h0M724.2 1384h0M730.6 1407.1h0M734.3 1380.9h0M741.6 1373h0M732.4 1386.8h0M722.4 1373.9h0M758 1398.4h0M735.7 1359.4h0M728.9 1369.1h0M719.8 1372.8h0M736.7 1343.9h0M741.2 1390.4h0M742.1 1367.6h0M737.5 1382.4h0M733.2 1406.8h0M743.7 1370.2h0M720 1346.2h0M740.6 1394.6h0M727.1 1342.6h0M720.9 1390.2h0M747.2 1366.7h0M753.4 1365.9h0M753.5 1390h0M727.2 1372.9h0M734.4 1356.3h0M755.8 1391h0M751.9 1402.9h0M741.6 1340.5h0M722.7 1380.6h0M728.3 1352.7h0M741.7 1358.9h0M731.2 1402.8h0M713.9 1384.2h0M718.6 1405.3h0M748.8 1408.6h0M726.6 1374.9h0M723.3 1362.9h0M732.2 1386.6h0M754.5 1369h0M755.1 1397.1h0" stroke="#35a85a" stroke-width="2.6" stroke-linecap="round" fill="none"/><path d="M728.9 1347.8h0M742.4 1343.2h0M728 1343.9h0M723 1360.6h0M752.7 1358.5h0M736.2 1356.8h0M742.3 1349.7h0M736.8 1342.4h0M727.5 1347.4h0M731.4 1354.8h0M727.5 1344.9h0M748.6 1357.6h0M750.5 1357.5h0M726 1350.8h0M747.2 1358.2h0M727.1 1350.6h0M739.1 1339.7h0M727.6 1356.7h0M741.7 1349.8h0M738.5 1351.7h0M731 1341.4h0M744.2 1357.4h0M733.9 1357.3h0M747 1355.5h0M746.4 1361.9h0M720.8 1361.3h0M734.5 1357.5h0M744 1341.7h0M739 1341.5h0M743.8 1347.3h0M732 1345.8h0M746.4 1354.3h0M729.4 1356.7h0M725.7 1358.1h0M739.6 1357.2h0M740 1362.3h0M742.6 1350.2h0M739.1 1352.6h0M729 1346.5h0M746 1358.4h0M751.6 1355.4h0M736.3 1348.6h0M742.9 1354.5h0M750.8 1356.8h0M732.2 1345.9h0M721 1357.6h0M733.7 1348.6h0M721.2 1350.9h0M749.4 1345.9h0M744.2 1357.1h0M741.4 1353.3h0M727.8 1355.1h0M738.9 1361.9h0M736.6 1347.7h0M749.6 1353.9h0M730.8 1354.5h0M724.6 1343.8h0M748.9 1350.2h0M746.1 1344.4h0M735.1 1344.9h0M746.2 1353.3h0M732.6 1348.4h0M726.5 1344.3h0M742.4 1346.7h0M723 1348.4h0M734.5 1362.4h0M732.3 1348.8h0M751.8 1356.2h0M734.7 1348.7h0M727 1343h0M735.2 1354.3h0M723 1350.5h0M725.2 1353.4h0M730.9 1354.9h0M745.5 1348.8h0M732.2 1341.2h0M726.5 1353.9h0M746.3 1342.6h0M751.9 1360.7h0M731.6 1352h0M741.8 1347.1h0M731.7 1356.2h0M735.6 1349.6h0M738.2 1342.1h0M735.1 1346.3h0M725 1351.6h0M742.8 1351.7h0M736.1 1355h0M733.5 1362.3h0M726.6 1339.6h0M738.4 1355.6h0M732.2 1348.7h0M730.9 1345.1h0M745.8 1359.5h0M728.8 1352.6h0M734.8 1342.5h0M743.9 1351.8h0M752.4 1360.6h0M749.5 1345.5h0M723.1 1358.3h0M723.1 1355.4h0M725.3 1355.8h0M721.3 1341.4h0M748.3 1351.4h0M734.5 1362h0M745.6 1344.7h0M743 1348.4h0M734.9 1346.7h0M727 1346.5h0M728.6 1343.8h0M748.5 1348.2h0M738.1 1358.3h0M742 1343.1h0M751.2 1361.1h0M747.4 1347.1h0M747.1 1354.3h0M720.5 1348.2h0M742.7 1352.1h0M751 1357.8h0M747.3 1362.2h0" stroke="#35a85a" stroke-width="2.6" stroke-linecap="round" fill="none"/><path d="M736.3 1437.2h0M731.2 1428.3h0M738.3 1419.1h0M742.2 1434.6h0M744.8 1429h0M748.3 1423.5h0M735.2 1427.3h0M747.1 1435h0M737.1 1431.9h0M736.9 1431.2h0M746.5 1421.6h0M741 1431.7h0M735.2 1428.7h0M736.1 1430.1h0M731.6 1431h0M733.6 1429.5h0M733.2 1427.1h0M734.7 1431.4h0M745 1435.8h0M740.4 1425.1h0M735.2 1428.5h0M744.4 1424.5h0M741.4 1423.3h0M743.8 1428.3h0M735.6 1427.2h0M737.4 1432h0M733.6 1438.3h0M738.1 1430.2h0M741.5 1419.5h0M739.6 1433.7h0M745.2 1433.4h0M743 1420.3h0M737.6 1428.5h0M731.5 1429.7h0M748.5 1430.9h0M744.1 1430.7h0M740.7 1436.4h0M733.8 1430.4h0M737.3 1437.4h0M747.8 1433.1h0" stroke="#24787f" stroke-width="2.6" stroke-linecap="round" fill="none"/><path d="M738 1425.6h0M744.1 1420.8h0M743.9 1422.4h0M747.7 1436.2h0M747.7 1435.2h0M735.3 1434.9h0M741 1422.9h0M743.2 1426.5h0M732.3 1435.9h0M743.8 1422.8h0M738 1432.3h0M736.9 1423.1h0M740 1438.1h0M742.3 1420.5h0M748.7 1425.5h0M747.4 1432.4h0M734.9 1438.7h0M732.1 1437h0M739.7 1428.7h0M733.1 1428.1h0M744.6 1429.6h0M744.2 1430.5h0M747.1 1424.8h0M738.7 1435.1h0M734.6 1425.6h0M746.3 1431.6h0M739.2 1417.9h0M744.7 1426.5h0M734.2 1425.9h0M732.2 1435.7h0" stroke="#1fa3cb" stroke-width="2.6" stroke-linecap="round" fill="none"/><path d="M770.3 1432.3h0M768.9 1426.9h0M766 1432.5h0M761.1 1428.1h0M762.8 1427h0M764.2 1430h0M761.8 1431.6h0M766.1 1427h0M762.2 1429.3h0M765.1 1429.2h0" stroke="#e2352a" stroke-width="2.6" stroke-linecap="round" fill="none"/><path d="M718 1262.2h0M724.6 1257.7h0M724.5 1270.3h0M726 1258.4h0M726.7 1257.7h0M718.5 1256.4h0M725 1259.2h0M720.8 1258.3h0M731 1258.7h0M727.4 1269.7h0M723.6 1266h0M721.7 1269.9h0M727.6 1257.6h0M727.9 1258.6h0M724.2 1259.3h0M724.2 1267.2h0M728.4 1261.7h0M731.4 1265.5h0M726.5 1269h0M732 1268.6h0" stroke="#ee6c1c" stroke-width="2.4" stroke-linecap="round" fill="none"/><path d="M751.5 1286.7h0M747.8 1301.8h0M749.9 1305.8h0M751.2 1291.7h0M747.2 1300.4h0M746.8 1296.1h0M747.9 1293.6h0M750.4 1299.7h0M750.2 1284.5h0M752 1301.6h0M752.1 1299.2h0M750.4 1306.5h0M751 1299.8h0M746.4 1283.5h0M750.9 1305.4h0" stroke="#ee6c1c" stroke-width="2.4" stroke-linecap="round" fill="none"/><path d="M788.1 1262.6h0M794.4 1246h0M794.2 1248.8h0M797.1 1252.6h0M796.5 1252.8h0M790.6 1254.9h0M793.6 1257h0M788.2 1262.7h0M785 1252.1h0M784.2 1262.7h0M785.3 1258.4h0M792 1255.9h0M783.2 1255.1h0M784.1 1262.6h0M783 1260.8h0" stroke="#ee6c1c" stroke-width="2.4" stroke-linecap="round" fill="none"/><path d="M726.8 1233.9h0M760.8 1224.8h0M769.2 1222.4h0M743.1 1214.5h0M740.3 1196.5h0M774.4 1276.3h0M762.8 1206h0M782.5 1315.3h0M756.3 1212.6h0M717.1 1222.2h0M778.2 1229.4h0M780.8 1293.1h0M762.1 1275.4h0M712 1216.3h0M760.9 1205.7h0M778.6 1249.5h0M778.4 1314h0M734.5 1245.4h0M773.2 1302.1h0M721.9 1210.6h0M768.9 1286.6h0M780.7 1219.1h0M728.2 1248.2h0M769.8 1217.4h0M768 1242.4h0" stroke="#9a8a6a" stroke-width="2.2" stroke-linecap="round" fill="none"/><path d="M716.7 1551.7h0M718.8 1554.5h0M717.8 1548.7h0M707.7 1506.7h0M676.3 1522.4h0M689.8 1534h0M734.9 1552.5h0M682.3 1535.9h0M684.4 1509.6h0M728.3 1554.6h0M696 1519.2h0M720.4 1531.8h0M692.6 1505.9h0M676.5 1544.2h0" stroke="#8aa08a" stroke-width="2.2" stroke-linecap="round" fill="none"/><path d="M697.7 1552.6h0M684 1558.3h0M684.9 1557.9h0M689.6 1555.3h0M695.8 1553.8h0M690.3 1561.6h0M691 1556.2h0M698.1 1561.3h0M699.5 1555.7h0M689.2 1557.4h0M696.4 1559.4h0M690.6 1558.2h0M697.4 1556.3h0M682.2 1554.2h0M684.5 1553.3h0M699.1 1558.7h0M695.5 1557.5h0M690 1554.8h0M697.4 1557.1h0M687.7 1560.8h0M696.9 1563.8h0M689.2 1557.1h0M696.1 1557.1h0M683.6 1557.8h0M685.7 1555.2h0" stroke="#1fa3cb" stroke-width="2.2" stroke-linecap="round" fill="none"/><path d="M916.1 1178.2h0M907.8 1174.9h0M878.9 1209.1h0M906.9 1165.7h0M908.1 1165.4h0M875.6 1213.7h0" stroke="#24787f" stroke-width="1.6" stroke-linecap="round" fill="none"/><path d="M591.5 1153.2L599.8 1164.9" stroke="#24787f" stroke-width="1.6" stroke-linecap="round"/><path d="M601.5 1168.2h0" stroke="#24787f" stroke-width="1.4" stroke-linecap="round" fill="none"/><path d="M554.9 1500V1581.4H638.7" fill="none" stroke="#000" stroke-width="2.2"/><path d="M554.9 1492l-4.6 10.5h9.2z" fill="#000"/><path d="M646.7 1581.4l-10.5 -4.6v9.2z" fill="#000"/><text transform="translate(542.6 1544.8) rotate(-90)" y="5.7" font-size="16" text-anchor="middle" fill="#000" font-style="normal">UMAP 2</text><text x="593.8" y="1601.1" font-size="16" text-anchor="middle" fill="#000" font-weight="normal" font-style="normal" >UMAP 1</text>
<text x="1040.6" y="31.5" font-size="33.5" text-anchor="start" fill="#000" font-weight="bold" font-style="normal" >C</text><rect x="1155" y="88.5" width="789" height="246.0" fill="#fff" stroke="#111" stroke-width="2"/><path d="M1155 106.8h-5" stroke="#111" stroke-width="1.6"/><text transform="translate(1145.6 106.8) scale(1 0.94)" y="6.4" font-size="17.9" text-anchor="end" fill="#e8843c" font-weight="normal" font-style="normal" >Astrocytes</text><circle cx="1176.1" cy="106.8" r="9.4" fill="#d5456f"/><circle cx="1211.6" cy="106.8" r="6.9" fill="#c2407a"/><circle cx="1247.1" cy="106.8" r="9" fill="#cb4177"/><circle cx="1282.6" cy="106.8" r="0.8" fill="#1c0f3c"/><circle cx="1318.1" cy="106.8" r="0.8" fill="#1c0f3c"/><circle cx="1353.6" cy="106.8" r="0.8" fill="#1c0f3c"/><circle cx="1389.2" cy="106.8" r="0.8" fill="#1c0f3c"/><circle cx="1424.7" cy="106.8" r="0.8" fill="#1c0f3c"/><circle cx="1460.2" cy="106.8" r="1.3" fill="#1c0f3c"/><circle cx="1495.7" cy="106.8" r="0.8" fill="#1c0f3c"/><circle cx="1531.2" cy="106.8" r="1" fill="#1c0f3c"/><circle cx="1566.7" cy="106.8" r="0.8" fill="#1c0f3c"/><circle cx="1602.2" cy="106.8" r="0.8" fill="#1c0f3c"/><circle cx="1637.7" cy="106.8" r="1.7" fill="#36108a"/><circle cx="1673.2" cy="106.8" r="1.3" fill="#1c0f3c"/><circle cx="1708.8" cy="106.8" r="1" fill="#1c0f3c"/><circle cx="1744.3" cy="106.8" r="1.5" fill="#1c0f3c"/><circle cx="1779.8" cy="106.8" r="0.8" fill="#1c0f3c"/><circle cx="1815.3" cy="106.8" r="4.6" fill="#84278a"/><circle cx="1850.8" cy="106.8" r="1" fill="#1c0f3c"/><circle cx="1886.3" cy="106.8" r="4.8" fill="#84278a"/><circle cx="1921.8" cy="106.8" r="3.8" fill="#6a1d8a"/><path d="M1155 136.8h-5" stroke="#111" stroke-width="1.6"/><text transform="translate(1145.6 136.8) scale(1 0.94)" y="6.4" font-size="17.9" text-anchor="end" fill="#efbe1c" font-weight="normal" font-style="normal" >Endothelial cells</text><circle cx="1176.1" cy="136.8" r="1.7" fill="#4a1585"/><circle cx="1211.6" cy="136.8" r="4.8" fill="#84278a"/><circle cx="1247.1" cy="136.8" r="5.2" fill="#7d1f90"/><circle cx="1282.6" cy="136.8" r="9" fill="#d5456f"/><circle cx="1318.1" cy="136.8" r="8.2" fill="#d5456f"/><circle cx="1353.6" cy="136.8" r="9.7" fill="#d04672"/><circle cx="1389.2" cy="136.8" r="0.8" fill="#1c0f3c"/><circle cx="1424.7" cy="136.8" r="0.8" fill="#1c0f3c"/><circle cx="1460.2" cy="136.8" r="0.8" fill="#1c0f3c"/><circle cx="1495.7" cy="136.8" r="0.8" fill="#1c0f3c"/><circle cx="1531.2" cy="136.8" r="0.8" fill="#1c0f3c"/><circle cx="1566.7" cy="136.8" r="0.8" fill="#1c0f3c"/><circle cx="1602.2" cy="136.8" r="2.7" fill="#5a1a90"/><circle cx="1637.7" cy="136.8" r="1" fill="#1c0f3c"/><circle cx="1673.2" cy="136.8" r="0.8" fill="#1c0f3c"/><circle cx="1708.8" cy="136.8" r="0.8" fill="#1c0f3c"/><circle cx="1744.3" cy="136.8" r="1.5" fill="#1c0f3c"/><circle cx="1779.8" cy="136.8" r="0.8" fill="#1c0f3c"/><circle cx="1815.3" cy="136.8" r="0.8" fill="#1c0f3c"/><circle cx="1850.8" cy="136.8" r="0.8" fill="#1c0f3c"/><circle cx="1886.3" cy="136.8" r="0.8" fill="#1c0f3c"/><circle cx="1921.8" cy="136.8" r="1.7" fill="#1c0f3c"/><path d="M1155 166.7h-5" stroke="#111" stroke-width="1.6"/><text transform="translate(1145.6 166.7) scale(1 0.94)" y="6.4" font-size="17.9" text-anchor="end" fill="#3aa863" font-weight="normal" font-style="normal" >Excitatory neurons</text><circle cx="1176.1" cy="166.7" r="2.3" fill="#36108a"/><circle cx="1211.6" cy="166.7" r="1.5" fill="#1c0f3c"/><circle cx="1247.1" cy="166.7" r="1.3" fill="#1c0f3c"/><circle cx="1282.6" cy="166.7" r="0.8" fill="#1c0f3c"/><circle cx="1318.1" cy="166.7" r="0.8" fill="#1c0f3c"/><circle cx="1353.6" cy="166.7" r="1.5" fill="#36108a"/><circle cx="1389.2" cy="166.7" r="8" fill="#d5456f"/><circle cx="1424.7" cy="166.7" r="9.2" fill="#d5456f"/><circle cx="1460.2" cy="166.7" r="9.7" fill="#cf4274"/><circle cx="1495.7" cy="166.7" r="0.8" fill="#1c0f3c"/><circle cx="1531.2" cy="166.7" r="0.8" fill="#1c0f3c"/><circle cx="1566.7" cy="166.7" r="0.8" fill="#1c0f3c"/><circle cx="1602.2" cy="166.7" r="1" fill="#1c0f3c"/><circle cx="1637.7" cy="166.7" r="0.8" fill="#1c0f3c"/><circle cx="1673.2" cy="166.7" r="2.3" fill="#36108a"/><circle cx="1708.8" cy="166.7" r="1.3" fill="#1c0f3c"/><circle cx="1744.3" cy="166.7" r="2.5" fill="#36108a"/><circle cx="1779.8" cy="166.7" r="1" fill="#1c0f3c"/><circle cx="1815.3" cy="166.7" r="1.3" fill="#1c0f3c"/><circle cx="1850.8" cy="166.7" r="0.8" fill="#1c0f3c"/><circle cx="1886.3" cy="166.7" r="1.9" fill="#36108a"/><circle cx="1921.8" cy="166.7" r="6.1" fill="#36108a"/><path d="M1155 196.6h-5" stroke="#111" stroke-width="1.6"/><text transform="translate(1145.6 196.6) scale(1 0.94)" y="6.4" font-size="17.9" text-anchor="end" fill="#2a7a82" font-weight="normal" font-style="normal" >Inhibitory neurons</text><circle cx="1176.1" cy="196.6" r="1" fill="#1c0f3c"/><circle cx="1211.6" cy="196.6" r="1.3" fill="#1c0f3c"/><circle cx="1247.1" cy="196.6" r="1" fill="#1c0f3c"/><circle cx="1282.6" cy="196.6" r="1.5" fill="#1c0f3c"/><circle cx="1318.1" cy="196.6" r="0.8" fill="#1c0f3c"/><circle cx="1353.6" cy="196.6" r="0.8" fill="#1c0f3c"/><circle cx="1389.2" cy="196.6" r="1" fill="#1c0f3c"/><circle cx="1424.7" cy="196.6" r="1.9" fill="#1c0f3c"/><circle cx="1460.2" cy="196.6" r="6.1" fill="#7a1a8e"/><circle cx="1495.7" cy="196.6" r="7.6" fill="#d94a6e"/><circle cx="1531.2" cy="196.6" r="8.6" fill="#cb4177"/><circle cx="1566.7" cy="196.6" r="0.8" fill="#1c0f3c"/><circle cx="1602.2" cy="196.6" r="0.8" fill="#1c0f3c"/><circle cx="1637.7" cy="196.6" r="0.8" fill="#1c0f3c"/><circle cx="1673.2" cy="196.6" r="1.5" fill="#1c0f3c"/><circle cx="1708.8" cy="196.6" r="1" fill="#1c0f3c"/><circle cx="1744.3" cy="196.6" r="1.9" fill="#36108a"/><circle cx="1779.8" cy="196.6" r="1.9" fill="#36108a"/><circle cx="1815.3" cy="196.6" r="2.1" fill="#36108a"/><circle cx="1850.8" cy="196.6" r="0.8" fill="#1c0f3c"/><circle cx="1886.3" cy="196.6" r="0.8" fill="#1c0f3c"/><circle cx="1921.8" cy="196.6" r="5" fill="#36108a"/><path d="M1155 226.6h-5" stroke="#111" stroke-width="1.6"/><text transform="translate(1145.6 226.6) scale(1 0.94)" y="6.4" font-size="17.9" text-anchor="end" fill="#d63a2c" font-weight="normal" font-style="normal" >Microglia</text><circle cx="1176.1" cy="226.6" r="0.8" fill="#1c0f3c"/><circle cx="1211.6" cy="226.6" r="1.3" fill="#1c0f3c"/><circle cx="1247.1" cy="226.6" r="0.8" fill="#1c0f3c"/><circle cx="1282.6" cy="226.6" r="1.7" fill="#4a1585"/><circle cx="1318.1" cy="226.6" r="0.8" fill="#1c0f3c"/><circle cx="1353.6" cy="226.6" r="0.8" fill="#1c0f3c"/><circle cx="1389.2" cy="226.6" r="0.8" fill="#1c0f3c"/><circle cx="1424.7" cy="226.6" r="0.8" fill="#1c0f3c"/><circle cx="1460.2" cy="226.6" r="0.8" fill="#1c0f3c"/><circle cx="1495.7" cy="226.6" r="0.8" fill="#1c0f3c"/><circle cx="1531.2" cy="226.6" r="0.8" fill="#1c0f3c"/><circle cx="1566.7" cy="226.6" r="7.6" fill="#d5456f"/><circle cx="1602.2" cy="226.6" r="8" fill="#d5456f"/><circle cx="1637.7" cy="226.6" r="7.6" fill="#cf4270"/><circle cx="1673.2" cy="226.6" r="1.3" fill="#1c0f3c"/><circle cx="1708.8" cy="226.6" r="1.3" fill="#1c0f3c"/><circle cx="1744.3" cy="226.6" r="1.5" fill="#1c0f3c"/><circle cx="1779.8" cy="226.6" r="0.8" fill="#1c0f3c"/><circle cx="1815.3" cy="226.6" r="0.8" fill="#1c0f3c"/><circle cx="1850.8" cy="226.6" r="0.8" fill="#1c0f3c"/><circle cx="1886.3" cy="226.6" r="0.8" fill="#1c0f3c"/><circle cx="1921.8" cy="226.6" r="1.5" fill="#1c0f3c"/><path d="M1155 256.6h-5" stroke="#111" stroke-width="1.6"/><text transform="translate(1145.6 256.6) scale(1 0.94)" y="6.4" font-size="17.9" text-anchor="end" fill="#23a7c9" font-weight="normal" font-style="normal" >Oligodendrocytes</text><circle cx="1176.1" cy="256.6" r="0.8" fill="#1c0f3c"/><circle cx="1211.6" cy="256.6" r="1" fill="#1c0f3c"/><circle cx="1247.1" cy="256.6" r="0.8" fill="#1c0f3c"/><circle cx="1282.6" cy="256.6" r="0.8" fill="#1c0f3c"/><circle cx="1318.1" cy="256.6" r="0.8" fill="#1c0f3c"/><circle cx="1353.6" cy="256.6" r="1.7" fill="#4a1585"/><circle cx="1389.2" cy="256.6" r="0.8" fill="#1c0f3c"/><circle cx="1424.7" cy="256.6" r="0.8" fill="#1c0f3c"/><circle cx="1460.2" cy="256.6" r="0.8" fill="#1c0f3c"/><circle cx="1495.7" cy="256.6" r="0.8" fill="#1c0f3c"/><circle cx="1531.2" cy="256.6" r="0.8" fill="#1c0f3c"/><circle cx="1566.7" cy="256.6" r="0.8" fill="#1c0f3c"/><circle cx="1602.2" cy="256.6" r="0.8" fill="#1c0f3c"/><circle cx="1637.7" cy="256.6" r="0.8" fill="#1c0f3c"/><circle cx="1673.2" cy="256.6" r="9.4" fill="#d5456f"/><circle cx="1708.8" cy="256.6" r="7.3" fill="#d5456f"/><circle cx="1744.3" cy="256.6" r="9.7" fill="#d5456f"/><circle cx="1779.8" cy="256.6" r="0.8" fill="#1c0f3c"/><circle cx="1815.3" cy="256.6" r="0.8" fill="#1c0f3c"/><circle cx="1850.8" cy="256.6" r="2.1" fill="#6a1d8a"/><circle cx="1886.3" cy="256.6" r="0.8" fill="#1c0f3c"/><circle cx="1921.8" cy="256.6" r="2.9" fill="#4a1585"/><path d="M1155 286.5h-5" stroke="#111" stroke-width="1.6"/><text transform="translate(1145.6 286.5) scale(1 0.94)" y="6.4" font-size="17.9" text-anchor="end" fill="#a877c8" font-weight="normal" font-style="normal" >OPCs</text><circle cx="1176.1" cy="286.5" r="1.3" fill="#1c0f3c"/><circle cx="1211.6" cy="286.5" r="2.1" fill="#4a1585"/><circle cx="1247.1" cy="286.5" r="1" fill="#1c0f3c"/><circle cx="1282.6" cy="286.5" r="0.8" fill="#1c0f3c"/><circle cx="1318.1" cy="286.5" r="0.8" fill="#1c0f3c"/><circle cx="1353.6" cy="286.5" r="1.5" fill="#1c0f3c"/><circle cx="1389.2" cy="286.5" r="0.8" fill="#1c0f3c"/><circle cx="1424.7" cy="286.5" r="0.8" fill="#1c0f3c"/><circle cx="1460.2" cy="286.5" r="1" fill="#1c0f3c"/><circle cx="1495.7" cy="286.5" r="0.8" fill="#1c0f3c"/><circle cx="1531.2" cy="286.5" r="5.2" fill="#9c2c85"/><circle cx="1566.7" cy="286.5" r="0.8" fill="#1c0f3c"/><circle cx="1602.2" cy="286.5" r="0.8" fill="#1c0f3c"/><circle cx="1637.7" cy="286.5" r="0.8" fill="#1c0f3c"/><circle cx="1673.2" cy="286.5" r="1.3" fill="#1c0f3c"/><circle cx="1708.8" cy="286.5" r="1.5" fill="#1c0f3c"/><circle cx="1744.3" cy="286.5" r="2.5" fill="#4a1585"/><circle cx="1779.8" cy="286.5" r="9.9" fill="#c03a78"/><circle cx="1815.3" cy="286.5" r="10.5" fill="#c93e75"/><circle cx="1850.8" cy="286.5" r="6.9" fill="#d04570"/><circle cx="1886.3" cy="286.5" r="1.5" fill="#1c0f3c"/><circle cx="1921.8" cy="286.5" r="4.2" fill="#5a1888"/><path d="M1155 316.4h-5" stroke="#111" stroke-width="1.6"/><text transform="translate(1145.6 316.4) scale(1 0.94)" y="6.4" font-size="17.9" text-anchor="end" fill="#e77ab2" font-weight="normal" font-style="normal" >VLMC/Pericytes</text><circle cx="1176.1" cy="316.4" r="1.5" fill="#1c0f3c"/><circle cx="1211.6" cy="316.4" r="2.3" fill="#6a1d8a"/><circle cx="1247.1" cy="316.4" r="3.1" fill="#5a1a80"/><circle cx="1282.6" cy="316.4" r="2.3" fill="#6a1d8a"/><circle cx="1318.1" cy="316.4" r="1.7" fill="#4a1585"/><circle cx="1353.6" cy="316.4" r="2.1" fill="#4a1585"/><circle cx="1389.2" cy="316.4" r="1" fill="#1c0f3c"/><circle cx="1424.7" cy="316.4" r="1" fill="#1c0f3c"/><circle cx="1460.2" cy="316.4" r="1.3" fill="#1c0f3c"/><circle cx="1495.7" cy="316.4" r="0.8" fill="#1c0f3c"/><circle cx="1531.2" cy="316.4" r="0.8" fill="#1c0f3c"/><circle cx="1566.7" cy="316.4" r="1.9" fill="#4a1585"/><circle cx="1602.2" cy="316.4" r="1" fill="#1c0f3c"/><circle cx="1637.7" cy="316.4" r="1.3" fill="#1c0f3c"/><circle cx="1673.2" cy="316.4" r="1.3" fill="#1c0f3c"/><circle cx="1708.8" cy="316.4" r="0.8" fill="#1c0f3c"/><circle cx="1744.3" cy="316.4" r="1.9" fill="#4a1585"/><circle cx="1779.8" cy="316.4" r="4.2" fill="#84278a"/><circle cx="1815.3" cy="316.4" r="1.7" fill="#1c0f3c"/><circle cx="1850.8" cy="316.4" r="0.8" fill="#1c0f3c"/><circle cx="1886.3" cy="316.4" r="8.6" fill="#d5456f"/><circle cx="1921.8" cy="316.4" r="7.3" fill="#d5486f"/><path d="M1176.1 334.5v5" stroke="#111" stroke-width="1.6"/><text transform="translate(1183.1 351) scale(1 0.93) rotate(-45)" font-size="17.6" font-style="italic" text-anchor="end" fill="#111">AQP4</text><path d="M1211.6 334.5v5" stroke="#111" stroke-width="1.6"/><text transform="translate(1218.6 351) scale(1 0.93) rotate(-45)" font-size="17.6" font-style="italic" text-anchor="end" fill="#111">GFAP</text><path d="M1247.1 334.5v5" stroke="#111" stroke-width="1.6"/><text transform="translate(1254.1 351) scale(1 0.93) rotate(-45)" font-size="17.6" font-style="italic" text-anchor="end" fill="#111">GJA1</text><path d="M1282.6 334.5v5" stroke="#111" stroke-width="1.6"/><text transform="translate(1289.6 351) scale(1 0.93) rotate(-45)" font-size="17.6" font-style="italic" text-anchor="end" fill="#111">FLT1</text><path d="M1318.1 334.5v5" stroke="#111" stroke-width="1.6"/><text transform="translate(1325.1 351) scale(1 0.93) rotate(-45)" font-size="17.6" font-style="italic" text-anchor="end" fill="#111">CLDN5</text><path d="M1353.6 334.5v5" stroke="#111" stroke-width="1.6"/><text transform="translate(1360.6 351) scale(1 0.93) rotate(-45)" font-size="17.6" font-style="italic" text-anchor="end" fill="#111">ITM2A</text><path d="M1389.2 334.5v5" stroke="#111" stroke-width="1.6"/><text transform="translate(1396.2 351) scale(1 0.93) rotate(-45)" font-size="17.6" font-style="italic" text-anchor="end" fill="#111">SLC17A7</text><path d="M1424.7 334.5v5" stroke="#111" stroke-width="1.6"/><text transform="translate(1431.7 351) scale(1 0.93) rotate(-45)" font-size="17.6" font-style="italic" text-anchor="end" fill="#111">NRGN</text><path d="M1460.2 334.5v5" stroke="#111" stroke-width="1.6"/><text transform="translate(1467.2 351) scale(1 0.93) rotate(-45)" font-size="17.6" font-style="italic" text-anchor="end" fill="#111">CAMK2A</text><path d="M1495.7 334.5v5" stroke="#111" stroke-width="1.6"/><text transform="translate(1502.7 351) scale(1 0.93) rotate(-45)" font-size="17.6" font-style="italic" text-anchor="end" fill="#111">GAD2</text><path d="M1531.2 334.5v5" stroke="#111" stroke-width="1.6"/><text transform="translate(1538.2 351) scale(1 0.93) rotate(-45)" font-size="17.6" font-style="italic" text-anchor="end" fill="#111">GAD1</text><path d="M1566.7 334.5v5" stroke="#111" stroke-width="1.6"/><text transform="translate(1573.7 351) scale(1 0.93) rotate(-45)" font-size="17.6" font-style="italic" text-anchor="end" fill="#111">CSF1R</text><path d="M1602.2 334.5v5" stroke="#111" stroke-width="1.6"/><text transform="translate(1609.2 351) scale(1 0.93) rotate(-45)" font-size="17.6" font-style="italic" text-anchor="end" fill="#111">CD74</text><path d="M1637.7 334.5v5" stroke="#111" stroke-width="1.6"/><text transform="translate(1644.7 351) scale(1 0.93) rotate(-45)" font-size="17.6" font-style="italic" text-anchor="end" fill="#111">C3</text><path d="M1673.2 334.5v5" stroke="#111" stroke-width="1.6"/><text transform="translate(1680.2 351) scale(1 0.93) rotate(-45)" font-size="17.6" font-style="italic" text-anchor="end" fill="#111">MOBP</text><path d="M1708.8 334.5v5" stroke="#111" stroke-width="1.6"/><text transform="translate(1715.8 351) scale(1 0.93) rotate(-45)" font-size="17.6" font-style="italic" text-anchor="end" fill="#111">MOG</text><path d="M1744.3 334.5v5" stroke="#111" stroke-width="1.6"/><text transform="translate(1751.3 351) scale(1 0.93) rotate(-45)" font-size="17.6" font-style="italic" text-anchor="end" fill="#111">PLP1</text><path d="M1779.8 334.5v5" stroke="#111" stroke-width="1.6"/><text transform="translate(1786.8 351) scale(1 0.93) rotate(-45)" font-size="17.6" font-style="italic" text-anchor="end" fill="#111">PDGFRA</text><path d="M1815.3 334.5v5" stroke="#111" stroke-width="1.6"/><text transform="translate(1822.3 351) scale(1 0.93) rotate(-45)" font-size="17.6" font-style="italic" text-anchor="end" fill="#111">VCAN</text><path d="M1850.8 334.5v5" stroke="#111" stroke-width="1.6"/><text transform="translate(1857.8 351) scale(1 0.93) rotate(-45)" font-size="17.6" font-style="italic" text-anchor="end" fill="#111">OLIG2</text><path d="M1886.3 334.5v5" stroke="#111" stroke-width="1.6"/><text transform="translate(1893.3 351) scale(1 0.93) rotate(-45)" font-size="17.6" font-style="italic" text-anchor="end" fill="#111">PDGFRB</text><path d="M1921.8 334.5v5" stroke="#111" stroke-width="1.6"/><text transform="translate(1928.8 351) scale(1 0.93) rotate(-45)" font-size="17.6" font-style="italic" text-anchor="end" fill="#111">PDE5A</text><text transform="translate(1167.9 58.2) scale(1 0.94)" y="7.4" font-size="20.8" text-anchor="start" fill="#111" font-weight="normal" font-style="normal" >Percent expressed</text><circle cx="1365.1" cy="58.2" r="0.8" fill="#000"/><text transform="translate(1392 58.2) scale(1 0.94)" y="6.3" font-size="17.5" text-anchor="middle" fill="#111" font-weight="normal" font-style="normal" >0</text><circle cx="1418.9" cy="58.2" r="2.9" fill="#000"/><text transform="translate(1450.4 58.2) scale(1 0.94)" y="6.3" font-size="17.5" text-anchor="middle" fill="#111" font-weight="normal" font-style="normal" >25</text><circle cx="1482.3" cy="58.2" r="5.9" fill="#000"/><text transform="translate(1514.4 58.2) scale(1 0.94)" y="6.3" font-size="17.5" text-anchor="middle" fill="#111" font-weight="normal" font-style="normal" >50</text><circle cx="1546.3" cy="58.2" r="8.4" fill="#000"/><text transform="translate(1578.4 58.2) scale(1 0.94)" y="6.3" font-size="17.5" text-anchor="middle" fill="#111" font-weight="normal" font-style="normal" >75</text><text transform="translate(1609.3 58.6) scale(1 0.94)" y="7.4" font-size="20.8" text-anchor="start" fill="#111" font-weight="normal" font-style="normal" >Average expression</text><defs><linearGradient id="cb" x1="0" x2="1" y1="0" y2="0"><stop offset="0" stop-color="#2a0f8e"/><stop offset="0.3" stop-color="#5c1a8e"/><stop offset="0.6" stop-color="#9a2c86"/><stop offset="1" stop-color="#de4b6e"/></linearGradient></defs><rect x="1805.2" y="33" width="115.1" height="22.7" fill="url(#cb)"/><path d="M1837.8 33v4.5M1837.8 55.7v-4.5" stroke="#fff" stroke-width="1.2"/><path d="M1871 33v4.5M1871 55.7v-4.5" stroke="#fff" stroke-width="1.2"/><path d="M1904.8 33v4.5M1904.8 55.7v-4.5" stroke="#fff" stroke-width="1.2"/><text transform="translate(1837.8 73.5) scale(1 0.94)" y="6.3" font-size="17.5" text-anchor="middle" fill="#111" font-weight="normal" font-style="normal" >0</text><text transform="translate(1871 73.5) scale(1 0.94)" y="6.3" font-size="17.5" text-anchor="middle" fill="#111" font-weight="normal" font-style="normal" >1</text><text transform="translate(1904.8 73.5) scale(1 0.94)" y="6.3" font-size="17.5" text-anchor="middle" fill="#111" font-weight="normal" font-style="normal" >2</text>
<text x="1040.7" y="508.2" font-size="33.5" text-anchor="start" fill="#000" font-weight="bold" font-style="normal" >D</text><text x="1206.2" y="520.2" font-size="18.3" text-anchor="middle" fill="#111" font-weight="normal" font-style="italic" >AQP4</text><text x="1339" y="520.2" font-size="18.3" text-anchor="middle" fill="#111" font-weight="normal" font-style="italic" >SLC17A7</text><text x="1476.7" y="520.2" font-size="18.3" text-anchor="middle" fill="#111" font-weight="normal" font-style="italic" >GAD2</text><text x="1612.4" y="520.2" font-size="18.3" text-anchor="middle" fill="#111" font-weight="normal" font-style="italic" >CSF1R</text><text x="1749.2" y="520.2" font-size="18.3" text-anchor="middle" fill="#111" font-weight="normal" font-style="italic" >MOBP</text><text x="1893.8" y="520.2" font-size="18.3" text-anchor="middle" fill="#111" font-weight="normal" font-style="italic" >PDGFRA</text><rect x="1123.2" y="532.3" width="9.6" height="66.5" fill="#ee6c1c"/><rect x="1123.2" y="601.8" width="9.6" height="66.5" fill="#35a85a"/><rect x="1123.2" y="671.2" width="9.6" height="66.5" fill="#24787f"/><rect x="1123.2" y="740.6" width="9.6" height="66.5" fill="#e2352a"/><rect x="1123.2" y="810.1" width="9.6" height="66.5" fill="#1fa3cb"/><rect x="1123.2" y="879.5" width="9.6" height="66.5" fill="#a66cc6"/><path d="M1138.3 532.8V947.7" stroke="#111" stroke-width="1.1"/><text transform="translate(1101 736.5) rotate(-90)" y="6.5" font-size="18.2" text-anchor="middle" fill="#111" font-style="normal">Normalized chromatin accessbility</text><text transform="translate(1101 986.8) rotate(-90)" y="6.5" font-size="18.2" text-anchor="middle" fill="#111" font-style="normal">Genes</text><path d="M1143.8 598.3L1143.8 597.5L1144.3 597.2L1144.7 597.2L1145.2 596.8L1145.6 597.0L1146.1 596.8L1146.5 596.9L1147.0 596.7L1147.4 596.8L1147.9 596.9L1148.3 596.3L1148.8 596.3L1149.2 596.4L1149.7 596.4L1150.1 596.5L1150.6 596.3L1151.0 596.0L1151.5 595.9L1151.9 595.0L1152.4 595.1L1152.8 594.6L1153.3 594.8L1153.7 594.4L1154.2 594.5L1154.6 595.4L1155.1 595.5L1155.5 595.2L1156.0 595.9L1156.4 595.8L1156.9 596.6L1157.3 597.1L1157.8 596.9L1158.2 596.9L1158.7 597.3L1159.1 597.4L1159.6 597.2L1160.0 596.7L1160.5 596.8L1160.9 597.3L1161.4 597.2L1161.8 597.3L1162.3 597.3L1162.7 596.7L1163.2 597.2L1163.6 596.9L1164.1 597.0L1164.5 597.1L1165.0 596.7L1165.4 597.1L1165.9 596.7L1166.3 597.0L1166.8 596.7L1167.2 596.9L1167.7 596.8L1168.1 596.2L1168.6 596.4L1169.0 596.9L1169.5 596.5L1169.9 597.2L1170.4 597.2L1170.8 597.0L1171.3 597.3L1171.7 597.9L1172.2 597.3L1172.6 598.0L1173.1 598.0L1173.6 597.5L1174.0 597.8L1174.5 597.8L1174.9 597.9L1175.4 597.7L1175.8 597.2L1176.3 597.4L1176.7 597.0L1177.2 597.1L1177.6 597.0L1178.1 596.6L1178.5 596.9L1179.0 596.8L1179.4 596.5L1179.9 597.0L1180.3 597.0L1180.8 596.3L1181.2 596.3L1181.7 596.7L1182.1 596.7L1182.6 596.2L1183.0 596.1L1183.5 596.6L1183.9 596.0L1184.4 595.9L1184.8 596.0L1185.3 596.1L1185.7 596.2L1186.2 596.1L1186.6 595.3L1187.1 595.8L1187.5 595.4L1188.0 595.8L1188.4 595.4L1188.9 595.8L1189.3 596.3L1189.8 596.7L1190.2 596.6L1190.7 597.4L1191.1 597.6L1191.6 597.5L1192.0 597.5L1192.5 597.8L1192.9 598.0L1193.4 597.5L1193.8 598.1L1194.3 598.2L1194.7 597.9L1195.2 597.7L1195.6 598.0L1196.1 597.9L1196.5 597.7L1197.0 597.5L1197.4 597.9L1197.9 597.7L1198.3 597.3L1198.8 597.2L1199.2 597.5L1199.7 597.5L1200.1 597.7L1200.6 598.1L1201.0 598.2L1201.5 598.2L1201.9 597.5L1202.4 597.7L1202.9 597.4L1203.3 598.0L1203.8 597.3L1204.2 597.1L1204.7 596.6L1205.1 596.6L1205.6 595.8L1206.0 596.2L1206.5 595.6L1206.9 595.3L1207.4 595.1L1207.8 595.3L1208.3 595.4L1208.7 595.4L1209.2 595.3L1209.6 595.9L1210.1 595.7L1210.5 595.6L1211.0 595.7L1211.4 596.1L1211.9 595.9L1212.3 595.8L1212.8 596.1L1213.2 596.2L1213.7 596.6L1214.1 596.7L1214.6 596.9L1215.0 597.6L1215.5 597.3L1215.9 597.3L1216.4 597.5L1216.8 597.7L1217.3 598.0L1217.7 597.5L1218.2 597.3L1218.6 597.1L1219.1 596.3L1219.5 596.4L1220.0 595.4L1220.4 595.5L1220.9 594.7L1221.3 594.5L1221.8 594.5L1222.2 594.2L1222.7 594.3L1223.1 594.2L1223.6 594.0L1224.0 594.5L1224.5 594.7L1224.9 594.4L1225.4 593.8L1225.8 593.5L1226.3 592.2L1226.7 589.6L1227.2 580.8L1227.6 578.9L1228.1 576.6L1228.5 575.2L1229.0 577.3L1229.4 580.1L1229.9 582.3L1230.3 584.6L1230.8 586.8L1231.2 588.2L1231.7 589.2L1232.2 589.2L1232.6 589.0L1233.1 587.4L1233.5 582.7L1234.0 573.8L1234.4 561.2L1234.9 549.7L1235.3 538.0L1235.8 533.1L1236.2 542.1L1236.7 552.9L1237.1 563.4L1237.6 572.4L1238.0 576.4L1238.5 576.7L1238.9 577.6L1239.4 581.1L1239.8 583.5L1240.3 586.0L1240.7 587.1L1241.2 586.4L1241.6 584.3L1242.1 581.2L1242.5 579.6L1243.0 576.8L1243.4 574.6L1243.9 572.4L1244.3 571.5L1244.8 574.0L1245.2 575.4L1245.7 576.4L1246.1 577.7L1246.6 577.9L1247.0 579.4L1247.5 579.9L1247.9 579.8L1248.4 578.7L1248.8 578.7L1249.3 580.0L1249.7 581.4L1250.2 582.6L1250.6 583.7L1251.1 585.4L1251.5 587.3L1252.0 588.3L1252.4 589.4L1252.9 590.1L1253.3 589.6L1253.8 587.4L1254.2 582.3L1254.7 573.9L1255.1 566.1L1255.6 561.5L1256.0 569.6L1256.5 577.4L1256.9 585.3L1257.4 589.6L1257.8 597.3L1258.3 597.5L1258.7 598.1L1259.2 597.5L1259.6 597.6L1260.1 598.1L1260.5 597.8L1261.0 597.7L1261.0 598.3Z" fill="#ee6c1c"/><path d="M1138.3 598.3h128.2" stroke="#333" stroke-width="1"/><path d="M1281.1 598.3L1281.1 593.8L1281.6 594.1L1282.0 594.6L1282.5 594.4L1282.9 595.3L1283.4 595.3L1283.8 596.1L1284.3 596.5L1284.7 596.5L1285.2 597.3L1285.6 597.5L1286.1 597.3L1286.5 597.1L1287.0 597.0L1287.4 597.0L1287.9 596.7L1288.3 596.9L1288.8 596.5L1289.2 596.9L1289.7 596.7L1290.1 596.5L1290.6 596.6L1291.0 596.3L1291.5 596.2L1291.9 596.1L1292.4 595.7L1292.8 595.6L1293.3 595.5L1293.7 595.2L1294.2 594.6L1294.6 594.3L1295.1 594.6L1295.5 594.0L1296.0 594.0L1296.4 594.3L1296.9 594.3L1297.3 594.6L1297.8 594.5L1298.2 594.6L1298.7 594.6L1299.1 595.1L1299.6 594.5L1300.0 594.9L1300.5 595.0L1300.9 594.7L1301.4 594.8L1301.8 594.7L1302.3 594.5L1302.7 594.7L1303.2 594.2L1303.6 594.2L1304.1 593.6L1304.5 593.5L1305.0 593.9L1305.4 593.7L1305.9 594.0L1306.3 594.0L1306.8 594.0L1307.2 594.4L1307.7 595.1L1308.1 595.6L1308.6 596.1L1309.0 596.3L1309.5 596.4L1309.9 597.1L1310.4 596.8L1310.9 597.2L1311.3 597.1L1311.8 596.9L1312.2 596.5L1312.7 596.6L1313.1 596.5L1313.6 596.1L1314.0 596.4L1314.5 595.9L1314.9 596.2L1315.4 595.9L1315.8 596.2L1316.3 596.3L1316.7 596.3L1317.2 596.6L1317.6 596.9L1318.1 597.1L1318.5 597.3L1319.0 597.7L1319.4 597.8L1319.9 597.7L1320.3 597.7L1320.8 597.7L1321.2 597.3L1321.7 597.2L1322.1 596.7L1322.6 596.8L1323.0 596.2L1323.5 595.8L1323.9 595.5L1324.4 595.7L1324.8 595.6L1325.3 595.2L1325.7 595.6L1326.2 595.0L1326.6 595.0L1327.1 595.4L1327.5 595.3L1328.0 594.9L1328.4 595.1L1328.9 595.1L1329.3 594.6L1329.8 594.8L1330.2 594.6L1330.7 595.1L1331.1 595.0L1331.6 595.0L1332.0 595.6L1332.5 595.6L1332.9 595.5L1333.4 595.5L1333.8 595.6L1334.3 596.2L1334.7 596.0L1335.2 595.8L1335.6 596.0L1336.1 595.8L1336.5 596.1L1337.0 596.1L1337.4 596.0L1337.9 596.0L1338.3 595.6L1338.8 595.5L1339.2 595.5L1339.7 595.7L1340.2 595.8L1340.6 595.9L1341.1 595.7L1341.5 595.9L1342.0 596.2L1342.4 597.1L1342.9 597.4L1343.3 597.1L1343.8 597.6L1344.2 597.5L1344.7 597.9L1345.1 597.7L1345.6 597.4L1346.0 597.0L1346.5 596.5L1346.9 596.4L1347.4 595.4L1347.8 594.8L1348.3 594.9L1348.7 594.4L1349.2 594.0L1349.6 594.2L1350.1 594.3L1350.5 594.2L1351.0 593.9L1351.4 594.2L1351.9 593.5L1352.3 593.4L1352.8 593.4L1353.2 593.2L1353.7 593.3L1354.1 593.4L1354.6 593.3L1355.0 593.4L1355.5 593.0L1355.9 593.2L1356.4 593.5L1356.8 593.1L1357.3 593.2L1357.7 593.2L1358.2 593.2L1358.6 593.5L1359.1 593.1L1359.5 593.2L1360.0 593.5L1360.4 593.7L1360.9 594.1L1361.3 594.7L1361.8 595.0L1362.2 595.8L1362.7 596.0L1363.1 596.3L1363.6 596.8L1364.0 596.7L1364.5 596.5L1364.9 596.4L1365.4 596.5L1365.8 595.8L1366.3 595.8L1366.7 595.8L1367.2 595.4L1367.6 595.2L1368.1 595.1L1368.5 595.1L1369.0 594.6L1369.5 594.9L1369.9 595.1L1370.4 595.3L1370.8 595.4L1371.3 596.4L1371.7 596.3L1372.2 596.6L1372.6 597.2L1373.1 597.4L1373.5 597.7L1374.0 597.7L1374.4 597.4L1374.9 597.4L1375.3 596.9L1375.8 596.1L1376.2 595.8L1376.7 595.4L1377.1 594.6L1377.6 594.5L1378.0 593.9L1378.5 593.9L1378.9 593.8L1379.4 594.3L1379.8 594.0L1380.3 593.9L1380.7 594.5L1381.2 593.9L1381.6 594.5L1382.1 594.4L1382.5 594.6L1383.0 594.4L1383.4 594.4L1383.9 594.8L1384.3 594.3L1384.8 594.9L1385.2 595.2L1385.7 595.5L1386.1 596.0L1386.6 596.5L1387.0 596.6L1387.5 597.0L1387.9 597.4L1388.4 597.2L1388.8 597.5L1389.3 597.7L1389.7 597.6L1390.2 597.8L1390.6 597.8L1391.1 597.5L1391.5 597.8L1392.0 597.6L1392.4 597.7L1392.9 598.2L1393.3 597.6L1393.8 597.6L1394.2 598.1L1394.7 597.5L1395.1 597.7L1395.6 597.6L1396.0 597.1L1396.5 597.5L1396.9 596.4L1397.4 591.6L1397.8 589.7L1398.3 594.9L1398.3 598.3Z" fill="#ee6c1c"/><path d="M1275.6 598.3h128.2" stroke="#333" stroke-width="1"/><path d="M1418.6 598.3L1418.6 597.3L1419.1 597.1L1419.5 592.1L1420.0 590.7L1420.4 596.7L1420.9 597.3L1421.3 597.2L1421.8 597.6L1422.2 597.6L1422.7 597.2L1423.1 597.2L1423.6 597.3L1424.0 597.7L1424.5 597.7L1424.9 597.6L1425.4 597.6L1425.8 597.5L1426.3 597.8L1426.7 597.6L1427.2 597.9L1427.6 597.9L1428.1 597.6L1428.5 597.7L1429.0 597.7L1429.4 597.8L1429.9 597.8L1430.3 598.0L1430.8 598.0L1431.2 597.8L1431.7 597.8L1432.1 598.2L1432.6 598.2L1433.0 597.9L1433.5 598.0L1433.9 597.9L1434.4 598.1L1434.8 598.0L1435.3 598.0L1435.7 597.7L1436.2 597.9L1436.6 597.7L1437.1 597.5L1437.5 597.8L1438.0 597.7L1438.4 597.6L1438.9 597.5L1439.3 597.8L1439.8 597.8L1440.2 598.0L1440.7 597.6L1441.1 598.0L1441.6 598.0L1442.0 597.8L1442.5 597.9L1442.9 597.8L1443.4 598.0L1443.8 597.7L1444.3 598.1L1444.7 598.1L1445.2 597.8L1445.6 598.2L1446.1 598.1L1446.5 597.9L1447.0 597.9L1447.4 598.1L1447.9 598.2L1448.4 598.1L1448.8 597.9L1449.3 598.1L1449.7 598.2L1450.2 597.9L1450.6 598.0L1451.1 597.8L1451.5 597.8L1452.0 597.8L1452.4 598.1L1452.9 597.9L1453.3 598.1L1453.8 598.1L1454.2 598.0L1454.7 597.7L1455.1 597.7L1455.6 598.0L1456.0 597.9L1456.5 597.9L1456.9 597.9L1457.4 597.9L1457.8 597.9L1458.3 598.0L1458.7 597.8L1459.2 597.7L1459.6 597.9L1460.1 597.7L1460.5 597.9L1461.0 598.1L1461.4 597.9L1461.9 597.8L1462.3 598.1L1462.8 598.3L1463.2 598.0L1463.7 598.0L1464.1 597.9L1464.6 597.7L1465.0 597.9L1465.5 597.8L1465.9 598.1L1466.4 597.9L1466.8 597.7L1467.3 598.1L1467.7 598.1L1468.2 597.7L1468.6 597.6L1469.1 598.0L1469.5 597.7L1470.0 597.9L1470.4 597.6L1470.9 597.6L1471.3 597.8L1471.8 597.8L1472.2 597.5L1472.7 597.6L1473.1 597.5L1473.6 597.7L1474.0 597.8L1474.5 597.5L1474.9 597.7L1475.4 597.8L1475.8 597.8L1476.3 597.7L1476.7 597.7L1477.2 597.6L1477.7 597.9L1478.1 597.7L1478.6 597.8L1479.0 597.7L1479.5 597.7L1479.9 597.7L1480.4 597.7L1480.8 597.7L1481.3 597.9L1481.7 598.0L1482.2 597.9L1482.6 597.8L1483.1 598.0L1483.5 598.0L1484.0 598.1L1484.4 597.7L1484.9 597.6L1485.3 597.9L1485.8 598.0L1486.2 597.9L1486.7 597.8L1487.1 597.9L1487.6 597.5L1488.0 598.0L1488.5 597.9L1488.9 598.0L1489.4 597.7L1489.8 597.7L1490.3 598.0L1490.7 598.1L1491.2 597.9L1491.6 597.8L1492.1 597.7L1492.5 598.1L1493.0 598.0L1493.4 598.0L1493.9 597.9L1494.3 597.8L1494.8 597.5L1495.2 597.6L1495.7 597.5L1496.1 591.1L1496.6 572.0L1497.0 584.7L1497.5 596.7L1497.9 597.7L1498.4 597.6L1498.8 597.5L1499.3 597.7L1499.7 597.8L1500.2 597.5L1500.6 597.5L1501.1 597.9L1501.5 597.8L1502.0 597.5L1502.4 597.8L1502.9 597.8L1503.3 597.9L1503.8 597.3L1504.2 597.3L1504.7 597.4L1505.1 597.3L1505.6 597.2L1506.0 597.3L1506.5 596.9L1507.0 597.1L1507.4 597.3L1507.9 597.5L1508.3 597.2L1508.8 597.3L1509.2 597.1L1509.7 597.1L1510.1 597.2L1510.6 597.4L1511.0 597.4L1511.5 597.4L1511.9 597.4L1512.4 597.1L1512.8 597.3L1513.3 597.3L1513.7 597.1L1514.2 597.6L1514.6 597.5L1515.1 597.7L1515.5 597.4L1516.0 597.8L1516.4 597.4L1516.9 597.4L1517.3 597.5L1517.8 597.9L1518.2 597.8L1518.7 597.7L1519.1 598.0L1519.6 597.9L1520.0 597.9L1520.5 597.7L1520.9 597.9L1521.4 597.8L1521.8 598.1L1522.3 597.8L1522.7 598.0L1523.2 597.8L1523.6 598.2L1524.1 597.8L1524.5 598.2L1525.0 598.0L1525.4 598.0L1525.9 598.2L1526.3 597.8L1526.8 598.1L1527.2 598.0L1527.7 598.1L1528.1 597.9L1528.6 597.7L1529.0 597.5L1529.5 597.6L1529.9 597.3L1530.4 597.6L1530.8 597.4L1531.3 597.4L1531.7 597.1L1532.2 597.2L1532.6 597.3L1533.1 597.7L1533.5 597.5L1534.0 597.4L1534.4 597.6L1534.9 597.5L1535.3 597.5L1535.8 597.8L1535.8 598.3Z" fill="#ee6c1c"/><path d="M1413.1 598.3h128.2" stroke="#333" stroke-width="1"/><path d="M1553.8 598.3L1553.8 597.2L1554.3 597.0L1554.7 597.2L1555.2 597.5L1555.6 597.4L1556.1 597.5L1556.5 597.6L1557.0 597.5L1557.4 597.7L1557.9 597.2L1558.3 597.5L1558.8 597.5L1559.2 597.4L1559.7 597.4L1560.1 597.4L1560.6 597.7L1561.0 597.8L1561.5 597.8L1561.9 598.1L1562.4 598.0L1562.8 597.9L1563.3 597.7L1563.7 597.8L1564.2 597.9L1564.6 597.9L1565.1 598.2L1565.5 598.0L1566.0 597.9L1566.4 597.7L1566.9 598.0L1567.3 597.8L1567.8 597.7L1568.2 597.6L1568.7 597.5L1569.1 597.7L1569.6 597.9L1570.0 597.6L1570.5 597.6L1570.9 597.8L1571.4 598.0L1571.8 597.9L1572.3 598.1L1572.7 597.8L1573.2 597.7L1573.6 598.0L1574.1 597.8L1574.5 597.8L1575.0 598.1L1575.4 597.7L1575.9 597.9L1576.3 598.1L1576.8 598.1L1577.2 598.1L1577.7 597.9L1578.1 597.8L1578.6 598.0L1579.0 597.7L1579.5 598.0L1579.9 597.9L1580.4 598.1L1580.8 597.6L1581.3 598.0L1581.7 597.6L1582.2 597.8L1582.6 597.8L1583.1 597.8L1583.6 597.9L1584.0 597.6L1584.5 597.6L1584.9 597.7L1585.4 597.8L1585.8 598.1L1586.3 597.7L1586.7 598.0L1587.2 597.7L1587.6 598.1L1588.1 597.9L1588.5 597.8L1589.0 598.1L1589.4 597.9L1589.9 598.2L1590.3 598.2L1590.8 598.1L1591.2 597.7L1591.7 597.7L1592.1 597.9L1592.6 598.0L1593.0 597.8L1593.5 597.8L1593.9 598.0L1594.4 597.9L1594.8 597.8L1595.3 598.2L1595.7 598.1L1596.2 597.9L1596.6 598.1L1597.1 598.0L1597.5 597.9L1598.0 598.1L1598.4 597.9L1598.9 598.0L1599.3 597.8L1599.8 597.9L1600.2 597.7L1600.7 598.0L1601.1 597.6L1601.6 597.9L1602.0 597.4L1602.5 597.6L1602.9 597.7L1603.4 597.7L1603.8 597.6L1604.3 597.6L1604.7 597.6L1605.2 597.7L1605.6 597.9L1606.1 597.6L1606.5 597.8L1607.0 597.8L1607.4 598.0L1607.9 598.0L1608.3 597.9L1608.8 597.8L1609.2 598.0L1609.7 598.0L1610.1 598.0L1610.6 597.8L1611.0 598.1L1611.5 598.2L1611.9 597.9L1612.4 597.8L1612.9 597.9L1613.3 597.9L1613.8 597.8L1614.2 598.0L1614.7 597.8L1615.1 598.0L1615.6 597.9L1616.0 597.7L1616.5 597.6L1616.9 597.6L1617.4 597.8L1617.8 597.5L1618.3 597.6L1618.7 597.8L1619.2 597.8L1619.6 597.8L1620.1 597.9L1620.5 598.1L1621.0 597.7L1621.4 597.7L1621.9 597.8L1622.3 597.7L1622.8 598.0L1623.2 597.7L1623.7 597.9L1624.1 597.6L1624.6 597.6L1625.0 597.3L1625.5 597.7L1625.9 597.2L1626.4 597.5L1626.8 597.3L1627.3 597.0L1627.7 597.6L1628.2 597.5L1628.6 597.5L1629.1 597.6L1629.5 597.8L1630.0 597.4L1630.4 597.5L1630.9 597.8L1631.3 597.8L1631.8 597.7L1632.2 598.0L1632.7 598.0L1633.1 597.5L1633.6 597.8L1634.0 597.7L1634.5 597.4L1634.9 597.4L1635.4 597.6L1635.8 597.8L1636.3 597.7L1636.7 597.4L1637.2 597.4L1637.6 597.8L1638.1 597.5L1638.5 597.8L1639.0 597.8L1639.4 598.0L1639.9 597.6L1640.3 597.6L1640.8 598.1L1641.2 597.9L1641.7 598.1L1642.2 597.7L1642.6 598.1L1643.1 598.1L1643.5 597.7L1644.0 597.8L1644.4 597.4L1644.9 597.4L1645.3 597.4L1645.8 597.7L1646.2 597.4L1646.7 597.2L1647.1 597.5L1647.6 597.7L1648.0 597.7L1648.5 597.7L1648.9 597.6L1649.4 598.0L1649.8 598.0L1650.3 598.1L1650.7 597.9L1651.2 597.9L1651.6 598.1L1652.1 597.9L1652.5 597.8L1653.0 598.0L1653.4 598.2L1653.9 598.1L1654.3 597.8L1654.8 597.9L1655.2 598.1L1655.7 597.9L1656.1 598.2L1656.6 597.8L1657.0 598.0L1657.5 598.0L1657.9 598.0L1658.4 598.3L1658.8 598.0L1659.3 598.1L1659.7 598.2L1660.2 597.9L1660.6 598.2L1661.1 598.1L1661.5 597.7L1662.0 597.3L1662.4 596.2L1662.9 595.4L1663.3 596.6L1663.8 597.2L1664.2 597.4L1664.7 598.0L1665.1 597.7L1665.6 597.5L1666.0 597.7L1666.5 597.4L1666.9 597.6L1667.4 597.8L1667.8 597.4L1668.3 596.1L1668.7 593.4L1669.2 590.5L1669.6 592.6L1670.1 595.7L1670.5 597.3L1671.0 597.4L1671.0 598.3Z" fill="#ee6c1c"/><path d="M1548.3 598.3h128.2" stroke="#333" stroke-width="1"/><path d="M1690.6 598.3L1690.6 597.6L1691.1 597.5L1691.5 597.6L1692.0 596.9L1692.4 596.4L1692.9 594.8L1693.3 595.7L1693.8 596.8L1694.2 597.3L1694.7 597.9L1695.1 597.9L1695.6 597.8L1696.0 598.0L1696.5 597.7L1696.9 596.8L1697.4 595.5L1697.8 595.4L1698.3 596.3L1698.7 597.5L1699.2 597.0L1699.6 597.4L1700.1 597.3L1700.5 597.4L1701.0 597.0L1701.4 597.0L1701.9 597.1L1702.3 597.7L1702.8 597.6L1703.2 597.7L1703.7 597.9L1704.1 597.4L1704.6 598.2L1705.0 597.9L1705.5 597.7L1705.9 597.5L1706.4 598.1L1706.8 597.8L1707.3 597.5L1707.7 598.0L1708.2 597.8L1708.6 597.2L1709.1 597.7L1709.5 597.5L1710.0 597.5L1710.4 597.4L1710.9 597.8L1711.3 597.8L1711.8 597.1L1712.2 597.4L1712.7 597.5L1713.1 597.9L1713.6 598.0L1714.0 597.8L1714.5 598.1L1714.9 597.9L1715.4 597.5L1715.8 598.0L1716.3 598.0L1716.7 597.4L1717.2 597.7L1717.6 598.1L1718.1 597.8L1718.5 597.5L1719.0 598.0L1719.4 597.7L1719.9 597.4L1720.4 597.3L1720.8 597.5L1721.3 597.3L1721.7 597.7L1722.2 597.8L1722.6 597.5L1723.1 597.9L1723.5 597.6L1724.0 598.1L1724.4 598.0L1724.9 598.1L1725.3 597.8L1725.8 598.1L1726.2 598.1L1726.7 598.0L1727.1 597.8L1727.6 597.9L1728.0 597.8L1728.5 597.4L1728.9 597.6L1729.4 597.4L1729.8 598.0L1730.3 597.8L1730.7 598.0L1731.2 597.5L1731.6 597.7L1732.1 597.7L1732.5 597.9L1733.0 597.7L1733.4 597.6L1733.9 597.5L1734.3 597.1L1734.8 597.2L1735.2 597.6L1735.7 597.5L1736.1 597.7L1736.6 597.0L1737.0 597.5L1737.5 597.2L1737.9 597.2L1738.4 597.1L1738.8 597.8L1739.3 597.5L1739.7 597.5L1740.2 597.7L1740.6 597.1L1741.1 597.5L1741.5 597.2L1742.0 597.4L1742.4 597.7L1742.9 597.5L1743.3 597.6L1743.8 597.7L1744.2 597.6L1744.7 597.3L1745.1 597.8L1745.6 597.6L1746.0 597.6L1746.5 597.5L1746.9 597.9L1747.4 597.5L1747.8 598.0L1748.3 597.6L1748.7 597.7L1749.2 598.1L1749.7 597.9L1750.1 595.8L1750.6 591.0L1751.0 590.1L1751.5 594.4L1751.9 597.0L1752.4 597.9L1752.8 597.9L1753.3 597.8L1753.7 597.9L1754.2 598.1L1754.6 598.1L1755.1 597.6L1755.5 597.7L1756.0 597.5L1756.4 597.2L1756.9 596.7L1757.3 595.3L1757.8 595.8L1758.2 597.6L1758.7 597.7L1759.1 597.7L1759.6 597.5L1760.0 597.5L1760.5 598.0L1760.9 597.7L1761.4 598.1L1761.8 597.8L1762.3 597.8L1762.7 598.0L1763.2 597.7L1763.6 597.8L1764.1 597.6L1764.5 597.8L1765.0 597.9L1765.4 597.7L1765.9 597.7L1766.3 597.9L1766.8 597.5L1767.2 597.9L1767.7 598.0L1768.1 597.8L1768.6 597.8L1769.0 598.0L1769.5 597.6L1769.9 597.6L1770.4 597.7L1770.8 597.6L1771.3 598.2L1771.7 597.9L1772.2 598.0L1772.6 598.2L1773.1 598.0L1773.5 598.3L1774.0 597.9L1774.4 597.8L1774.9 597.9L1775.3 598.0L1775.8 598.0L1776.2 598.1L1776.7 597.8L1777.1 597.3L1777.6 597.6L1778.0 597.8L1778.5 597.5L1779.0 597.8L1779.4 597.6L1779.9 597.5L1780.3 597.2L1780.8 597.6L1781.2 597.5L1781.7 597.2L1782.1 597.3L1782.6 597.4L1783.0 597.4L1783.5 597.5L1783.9 597.5L1784.4 597.7L1784.8 597.2L1785.3 597.2L1785.7 597.6L1786.2 597.2L1786.6 597.9L1787.1 597.9L1787.5 597.6L1788.0 597.8L1788.4 597.7L1788.9 597.2L1789.3 597.9L1789.8 597.8L1790.2 597.7L1790.7 597.3L1791.1 597.6L1791.6 597.7L1792.0 597.3L1792.5 597.4L1792.9 597.5L1793.4 597.3L1793.8 597.2L1794.3 597.3L1794.7 597.3L1795.2 597.4L1795.6 597.3L1796.1 597.3L1796.5 597.9L1797.0 597.9L1797.4 597.5L1797.9 598.0L1798.3 597.7L1798.8 597.7L1799.2 597.7L1799.7 597.5L1800.1 597.6L1800.6 598.1L1801.0 597.8L1801.5 597.9L1801.9 597.8L1802.4 598.0L1802.8 598.1L1803.3 597.7L1803.7 597.9L1804.2 598.1L1804.6 598.1L1805.1 598.0L1805.5 598.1L1806.0 597.9L1806.4 598.2L1806.9 598.2L1807.3 598.2L1807.8 598.2L1807.8 598.3Z" fill="#ee6c1c"/><path d="M1685.1 598.3h128.2" stroke="#333" stroke-width="1"/><path d="M1827.4 598.3L1827.4 597.8L1827.9 598.0L1828.3 598.0L1828.8 597.9L1829.2 598.1L1829.7 598.1L1830.1 598.2L1830.6 598.0L1831.0 597.9L1831.5 597.9L1831.9 598.2L1832.4 598.0L1832.8 598.1L1833.3 597.9L1833.7 597.7L1834.2 596.4L1834.6 592.3L1835.1 583.2L1835.5 573.6L1836.0 577.0L1836.4 584.4L1836.9 590.9L1837.3 593.2L1837.8 594.8L1838.2 596.6L1838.7 597.4L1839.1 597.9L1839.6 597.9L1840.0 597.9L1840.5 597.9L1840.9 597.9L1841.4 597.7L1841.8 597.7L1842.3 597.9L1842.7 597.9L1843.2 597.8L1843.6 597.8L1844.1 597.7L1844.5 598.0L1845.0 597.9L1845.4 597.9L1845.9 597.9L1846.3 598.1L1846.8 598.1L1847.2 598.2L1847.7 597.8L1848.1 598.1L1848.6 598.0L1849.0 598.2L1849.5 598.1L1849.9 598.3L1850.4 598.0L1850.8 598.2L1851.3 598.0L1851.7 598.2L1852.2 598.2L1852.6 598.1L1853.1 598.1L1853.5 598.1L1854.0 598.1L1854.4 598.1L1854.9 597.7L1855.3 597.9L1855.8 598.0L1856.2 597.9L1856.7 597.8L1857.2 597.6L1857.6 597.9L1858.1 597.6L1858.5 597.8L1859.0 597.8L1859.4 597.7L1859.9 597.8L1860.3 598.0L1860.8 597.8L1861.2 597.7L1861.7 597.7L1862.1 597.9L1862.6 597.6L1863.0 597.7L1863.5 597.7L1863.9 598.0L1864.4 597.8L1864.8 597.9L1865.3 598.2L1865.7 598.3L1866.2 598.2L1866.6 598.3L1867.1 598.3L1867.5 598.2L1868.0 598.0L1868.4 598.2L1868.9 598.1L1869.3 598.3L1869.8 598.2L1870.2 597.9L1870.7 598.3L1871.1 598.1L1871.6 597.9L1872.0 598.0L1872.5 598.0L1872.9 598.1L1873.4 597.9L1873.8 597.9L1874.3 597.9L1874.7 597.8L1875.2 598.2L1875.6 597.8L1876.1 598.0L1876.5 597.9L1877.0 598.1L1877.4 597.8L1877.9 598.1L1878.3 597.9L1878.8 598.0L1879.2 597.9L1879.7 597.9L1880.1 597.8L1880.6 597.7L1881.0 597.9L1881.5 597.8L1881.9 597.9L1882.4 598.0L1882.8 597.7L1883.3 598.0L1883.7 598.1L1884.2 598.0L1884.6 597.9L1885.1 598.1L1885.5 597.9L1886.0 598.0L1886.5 598.0L1886.9 598.2L1887.4 598.2L1887.8 598.1L1888.3 598.0L1888.7 598.0L1889.2 598.1L1889.6 597.9L1890.1 597.9L1890.5 598.0L1891.0 597.9L1891.4 597.7L1891.9 598.0L1892.3 597.8L1892.8 598.0L1893.2 597.9L1893.7 598.2L1894.1 597.8L1894.6 598.1L1895.0 597.9L1895.5 598.2L1895.9 598.1L1896.4 598.0L1896.8 598.2L1897.3 598.1L1897.7 597.9L1898.2 597.8L1898.6 598.0L1899.1 598.1L1899.5 598.0L1900.0 597.7L1900.4 598.0L1900.9 597.8L1901.3 597.9L1901.8 597.8L1902.2 598.0L1902.7 597.9L1903.1 597.8L1903.6 597.9L1904.0 598.0L1904.5 598.0L1904.9 598.0L1905.4 598.2L1905.8 597.9L1906.3 598.0L1906.7 598.1L1907.2 598.0L1907.6 598.1L1908.1 598.1L1908.5 597.9L1909.0 596.9L1909.4 596.0L1909.9 597.0L1910.3 598.0L1910.8 598.0L1911.2 598.1L1911.7 598.0L1912.1 598.0L1912.6 597.8L1913.0 598.1L1913.5 597.9L1913.9 597.7L1914.4 597.8L1914.8 597.9L1915.3 597.5L1915.8 595.4L1916.2 591.6L1916.7 590.6L1917.1 594.9L1917.6 597.2L1918.0 597.8L1918.5 597.9L1918.9 597.7L1919.4 597.7L1919.8 597.6L1920.3 597.7L1920.7 597.7L1921.2 597.8L1921.6 597.6L1922.1 598.0L1922.5 597.7L1923.0 597.7L1923.4 597.9L1923.9 597.7L1924.3 597.8L1924.8 597.8L1925.2 597.7L1925.7 597.9L1926.1 597.9L1926.6 597.8L1927.0 598.0L1927.5 597.9L1927.9 597.8L1928.4 597.9L1928.8 598.0L1929.3 597.8L1929.7 597.8L1930.2 597.9L1930.6 597.9L1931.1 597.8L1931.5 597.9L1932.0 598.1L1932.4 598.0L1932.9 598.2L1933.3 598.2L1933.8 598.1L1934.2 597.9L1934.7 597.9L1935.1 598.2L1935.6 598.1L1936.0 598.0L1936.5 597.8L1936.9 597.9L1937.4 597.8L1937.8 598.1L1938.3 597.7L1938.7 598.0L1939.2 597.8L1939.6 597.7L1940.1 597.8L1940.5 598.0L1941.0 597.8L1941.4 597.9L1941.9 598.1L1942.3 598.0L1942.8 598.0L1943.2 597.9L1943.7 598.0L1944.1 597.9L1944.6 597.9L1944.6 598.3Z" fill="#ee6c1c"/><path d="M1821.9 598.3h128.2" stroke="#333" stroke-width="1"/><path d="M1143.8 667.9L1143.8 667.5L1144.3 667.0L1144.7 666.7L1145.2 665.4L1145.6 665.2L1146.1 664.0L1146.5 664.6L1147.0 665.5L1147.4 665.9L1147.9 667.0L1148.3 667.1L1148.8 667.3L1149.2 667.4L1149.7 667.6L1150.1 667.2L1150.6 667.1L1151.0 666.8L1151.5 666.2L1151.9 666.5L1152.4 666.0L1152.8 665.9L1153.3 666.2L1153.7 666.0L1154.2 666.3L1154.6 665.7L1155.1 666.4L1155.5 666.3L1156.0 666.5L1156.4 666.2L1156.9 666.3L1157.3 666.6L1157.8 666.7L1158.2 667.1L1158.7 666.5L1159.1 667.2L1159.6 667.0L1160.0 667.1L1160.5 666.9L1160.9 667.0L1161.4 667.3L1161.8 667.0L1162.3 667.0L1162.7 667.8L1163.2 667.3L1163.6 667.5L1164.1 667.6L1164.5 667.5L1165.0 667.6L1165.4 667.3L1165.9 667.4L1166.3 667.1L1166.8 667.1L1167.2 667.1L1167.7 667.5L1168.1 667.2L1168.6 667.3L1169.0 667.1L1169.5 666.6L1169.9 667.0L1170.4 666.3L1170.8 666.0L1171.3 665.4L1171.7 665.4L1172.2 664.5L1172.6 665.0L1173.1 664.8L1173.6 665.0L1174.0 664.9L1174.5 664.8L1174.9 665.5L1175.4 665.7L1175.8 665.5L1176.3 665.7L1176.7 665.8L1177.2 666.4L1177.6 666.0L1178.1 666.1L1178.5 666.1L1179.0 666.7L1179.4 666.5L1179.9 667.0L1180.3 666.4L1180.8 666.4L1181.2 666.6L1181.7 667.4L1182.1 667.2L1182.6 667.1L1183.0 667.1L1183.5 667.4L1183.9 666.9L1184.4 667.3L1184.8 667.2L1185.3 667.5L1185.7 667.2L1186.2 667.6L1186.6 667.7L1187.1 667.4L1187.5 667.5L1188.0 667.1L1188.4 667.4L1188.9 667.0L1189.3 667.0L1189.8 666.5L1190.2 665.9L1190.7 665.4L1191.1 665.1L1191.6 664.4L1192.0 664.8L1192.5 664.1L1192.9 664.6L1193.4 664.1L1193.8 664.6L1194.3 664.9L1194.7 664.9L1195.2 664.9L1195.6 665.1L1196.1 665.7L1196.5 666.2L1197.0 666.2L1197.4 665.7L1197.9 665.8L1198.3 665.8L1198.8 666.2L1199.2 665.9L1199.7 666.3L1200.1 666.2L1200.6 666.0L1201.0 665.4L1201.5 665.7L1201.9 665.5L1202.4 666.1L1202.9 665.9L1203.3 666.2L1203.8 666.2L1204.2 666.5L1204.7 666.0L1205.1 666.7L1205.6 666.7L1206.0 666.7L1206.5 666.7L1206.9 666.7L1207.4 667.0L1207.8 667.1L1208.3 666.8L1208.7 667.2L1209.2 667.3L1209.6 666.9L1210.1 667.3L1210.5 667.3L1211.0 667.2L1211.4 667.2L1211.9 667.3L1212.3 667.2L1212.8 667.2L1213.2 667.5L1213.7 666.9L1214.1 667.5L1214.6 667.1L1215.0 667.0L1215.5 667.1L1215.9 667.2L1216.4 667.3L1216.8 667.1L1217.3 667.1L1217.7 667.0L1218.2 667.2L1218.6 666.9L1219.1 667.2L1219.5 667.6L1220.0 667.3L1220.4 667.0L1220.9 667.8L1221.3 667.3L1221.8 667.1L1222.2 667.5L1222.7 667.3L1223.1 667.3L1223.6 667.1L1224.0 666.5L1224.5 665.9L1224.9 665.1L1225.4 663.6L1225.8 657.2L1226.3 655.5L1226.7 654.6L1227.2 653.2L1227.6 652.0L1228.1 653.5L1228.5 654.5L1229.0 656.3L1229.4 657.5L1229.9 659.6L1230.3 660.9L1230.8 661.3L1231.2 662.2L1231.7 661.6L1232.2 661.6L1232.6 661.3L1233.1 659.9L1233.5 656.9L1234.0 653.0L1234.4 649.0L1234.9 645.6L1235.3 641.2L1235.8 639.2L1236.2 642.3L1236.7 646.0L1237.1 649.4L1237.6 653.8L1238.0 657.7L1238.5 659.2L1238.9 660.6L1239.4 661.4L1239.8 662.2L1240.3 661.8L1240.7 662.0L1241.2 661.6L1241.6 660.8L1242.1 659.9L1242.5 659.1L1243.0 656.9L1243.4 655.6L1243.9 653.8L1244.3 652.6L1244.8 652.2L1245.2 653.7L1245.7 655.5L1246.1 656.8L1246.6 658.1L1247.0 660.2L1247.5 661.2L1247.9 661.3L1248.4 661.7L1248.8 661.9L1249.3 662.3L1249.7 662.2L1250.2 661.9L1250.6 661.1L1251.1 660.7L1251.5 659.3L1252.0 658.2L1252.4 656.3L1252.9 654.4L1253.3 652.4L1253.8 651.2L1254.2 650.6L1254.7 652.2L1255.1 653.9L1255.6 654.9L1256.0 656.6L1256.5 657.8L1256.9 658.8L1257.4 659.9L1257.8 665.0L1258.3 665.7L1258.7 665.8L1259.2 666.7L1259.6 666.5L1260.1 667.2L1260.5 667.0L1261.0 667.4L1261.0 667.9Z" fill="#35a85a"/><path d="M1138.3 667.9h128.2" stroke="#333" stroke-width="1"/><path d="M1281.1 667.9L1281.1 648.3L1281.6 650.2L1282.0 652.1L1282.5 652.2L1282.9 652.5L1283.4 651.9L1283.8 652.7L1284.3 652.5L1284.7 651.8L1285.2 652.8L1285.6 651.9L1286.1 652.1L1286.5 652.1L1287.0 652.3L1287.4 652.5L1287.9 651.4L1288.3 651.5L1288.8 651.4L1289.2 652.1L1289.7 650.9L1290.1 651.0L1290.6 649.8L1291.0 647.4L1291.5 644.2L1291.9 640.9L1292.4 636.6L1292.8 633.3L1293.3 629.3L1293.7 627.0L1294.2 630.6L1294.6 634.2L1295.1 636.6L1295.5 640.1L1296.0 643.7L1296.4 644.3L1296.9 644.0L1297.3 642.4L1297.8 639.3L1298.2 636.6L1298.7 632.8L1299.1 630.0L1299.6 629.5L1300.0 632.8L1300.5 636.1L1300.9 638.8L1301.4 642.6L1301.8 645.8L1302.3 648.0L1302.7 649.1L1303.2 649.3L1303.6 650.6L1304.1 649.7L1304.5 649.7L1305.0 649.9L1305.4 649.7L1305.9 649.2L1306.3 649.1L1306.8 648.5L1307.2 647.7L1307.7 647.5L1308.1 647.8L1308.6 647.7L1309.0 646.1L1309.5 646.5L1309.9 645.5L1310.4 645.9L1310.9 645.9L1311.3 646.2L1311.8 645.8L1312.2 645.7L1312.7 646.4L1313.1 646.4L1313.6 646.8L1314.0 647.1L1314.5 646.4L1314.9 647.7L1315.4 646.8L1315.8 647.4L1316.3 648.4L1316.7 647.5L1317.2 648.9L1317.6 648.5L1318.1 649.4L1318.5 648.5L1319.0 649.6L1319.4 649.0L1319.9 650.1L1320.3 649.3L1320.8 650.0L1321.2 650.0L1321.7 649.2L1322.1 648.5L1322.6 648.8L1323.0 648.4L1323.5 648.4L1323.9 648.7L1324.4 649.2L1324.8 648.5L1325.3 648.9L1325.7 648.5L1326.2 648.7L1326.6 648.5L1327.1 648.9L1327.5 648.3L1328.0 648.7L1328.4 648.6L1328.9 649.1L1329.3 648.4L1329.8 647.9L1330.2 646.2L1330.7 644.0L1331.1 639.9L1331.6 634.3L1332.0 629.1L1332.5 623.5L1332.9 623.8L1333.4 628.2L1333.8 632.7L1334.3 637.8L1334.7 641.8L1335.2 643.9L1335.6 646.2L1336.1 646.1L1336.5 646.4L1337.0 646.6L1337.4 647.1L1337.9 647.4L1338.3 647.3L1338.8 648.6L1339.2 648.2L1339.7 647.6L1340.2 648.5L1340.6 647.6L1341.1 644.6L1341.5 640.9L1342.0 637.0L1342.4 632.2L1342.9 626.4L1343.3 623.7L1343.8 628.3L1344.2 632.7L1344.7 637.1L1345.1 641.6L1345.6 645.5L1346.0 646.8L1346.5 646.5L1346.9 646.5L1347.4 646.9L1347.8 647.6L1348.3 647.6L1348.7 647.2L1349.2 646.3L1349.6 642.4L1350.1 638.6L1350.5 633.9L1351.0 629.8L1351.4 625.9L1351.9 629.6L1352.3 634.0L1352.8 638.4L1353.2 642.0L1353.7 645.7L1354.1 647.1L1354.6 647.5L1355.0 647.2L1355.5 646.7L1355.9 647.1L1356.4 647.0L1356.8 646.1L1357.3 646.1L1357.7 644.7L1358.2 642.8L1358.6 638.1L1359.1 634.4L1359.5 630.2L1360.0 626.0L1360.4 626.0L1360.9 629.6L1361.3 633.9L1361.8 638.3L1362.2 642.4L1362.7 645.1L1363.1 645.1L1363.6 646.1L1364.0 646.2L1364.5 646.0L1364.9 645.3L1365.4 646.1L1365.8 646.2L1366.3 645.6L1366.7 645.5L1367.2 646.4L1367.6 646.8L1368.1 646.0L1368.5 645.9L1369.0 646.4L1369.5 645.5L1369.9 645.6L1370.4 644.9L1370.8 643.3L1371.3 641.2L1371.7 639.2L1372.2 636.0L1372.6 634.6L1373.1 631.6L1373.5 629.3L1374.0 627.3L1374.4 625.1L1374.9 628.3L1375.3 630.4L1375.8 631.6L1376.2 633.6L1376.7 635.9L1377.1 639.0L1377.6 640.0L1378.0 642.3L1378.5 642.3L1378.9 642.6L1379.4 643.9L1379.8 644.3L1380.3 643.8L1380.7 643.7L1381.2 644.1L1381.6 644.1L1382.1 644.9L1382.5 645.2L1383.0 645.6L1383.4 645.5L1383.9 644.5L1384.3 645.5L1384.8 644.8L1385.2 643.5L1385.7 641.6L1386.1 637.1L1386.6 630.9L1387.0 624.1L1387.5 617.1L1387.9 610.7L1388.4 605.6L1388.8 611.6L1389.3 618.2L1389.7 623.9L1390.2 632.1L1390.6 637.7L1391.1 641.5L1391.5 643.1L1392.0 643.4L1392.4 643.6L1392.9 644.3L1393.3 644.8L1393.8 644.5L1394.2 644.2L1394.7 644.4L1395.1 643.3L1395.6 641.5L1396.0 637.9L1396.5 631.6L1396.9 625.5L1397.4 627.0L1397.8 633.0L1398.3 637.9L1398.3 667.9Z" fill="#35a85a"/><path d="M1275.6 667.9h128.2" stroke="#333" stroke-width="1"/><path d="M1418.6 667.9L1418.6 663.8L1419.1 663.1L1419.5 658.3L1420.0 657.3L1420.4 662.9L1420.9 665.0L1421.3 664.7L1421.8 665.6L1422.2 665.0L1422.7 665.3L1423.1 665.3L1423.6 666.1L1424.0 665.7L1424.5 665.2L1424.9 665.8L1425.4 665.8L1425.8 665.1L1426.3 665.4L1426.7 665.0L1427.2 665.3L1427.6 664.4L1428.1 665.0L1428.5 665.2L1429.0 664.7L1429.4 665.0L1429.9 664.9L1430.3 665.0L1430.8 664.7L1431.2 665.2L1431.7 665.4L1432.1 665.9L1432.6 665.5L1433.0 665.7L1433.5 665.4L1433.9 665.4L1434.4 665.6L1434.8 666.0L1435.3 665.6L1435.7 665.6L1436.2 665.5L1436.6 665.2L1437.1 665.9L1437.5 665.8L1438.0 666.1L1438.4 665.4L1438.9 666.0L1439.3 665.4L1439.8 665.4L1440.2 666.0L1440.7 665.3L1441.1 665.7L1441.6 665.8L1442.0 665.6L1442.5 665.3L1442.9 665.7L1443.4 665.7L1443.8 665.9L1444.3 665.4L1444.7 665.7L1445.2 665.9L1445.6 666.0L1446.1 666.0L1446.5 665.4L1447.0 665.4L1447.4 665.2L1447.9 665.3L1448.4 665.5L1448.8 665.3L1449.3 665.3L1449.7 665.1L1450.2 665.0L1450.6 665.5L1451.1 664.8L1451.5 665.2L1452.0 665.2L1452.4 664.5L1452.9 665.3L1453.3 664.9L1453.8 665.1L1454.2 664.7L1454.7 665.0L1455.1 664.8L1455.6 664.9L1456.0 665.3L1456.5 666.0L1456.9 665.4L1457.4 666.0L1457.8 665.2L1458.3 665.3L1458.7 665.9L1459.2 666.0L1459.6 665.5L1460.1 665.4L1460.5 665.2L1461.0 665.6L1461.4 666.1L1461.9 665.5L1462.3 666.2L1462.8 665.4L1463.2 665.5L1463.7 665.4L1464.1 665.3L1464.6 665.6L1465.0 665.3L1465.5 665.5L1465.9 665.7L1466.4 665.8L1466.8 665.8L1467.3 666.1L1467.7 666.0L1468.2 665.3L1468.6 665.8L1469.1 665.3L1469.5 665.0L1470.0 665.0L1470.4 665.0L1470.9 665.1L1471.3 665.0L1471.8 665.1L1472.2 664.6L1472.7 664.5L1473.1 664.3L1473.6 665.0L1474.0 664.5L1474.5 664.6L1474.9 665.3L1475.4 664.7L1475.8 665.1L1476.3 664.8L1476.7 665.1L1477.2 665.5L1477.7 665.6L1478.1 665.3L1478.6 665.3L1479.0 665.7L1479.5 664.9L1479.9 665.1L1480.4 665.2L1480.8 664.9L1481.3 665.3L1481.7 665.4L1482.2 665.0L1482.6 665.3L1483.1 665.3L1483.5 665.6L1484.0 665.6L1484.4 665.4L1484.9 665.2L1485.3 664.9L1485.8 665.2L1486.2 665.5L1486.7 665.5L1487.1 665.7L1487.6 665.4L1488.0 664.9L1488.5 664.4L1488.9 662.2L1489.4 663.9L1489.8 665.2L1490.3 665.6L1490.7 665.5L1491.2 665.2L1491.6 665.3L1492.1 665.9L1492.5 665.6L1493.0 665.2L1493.4 665.7L1493.9 666.0L1494.3 665.4L1494.8 666.2L1495.2 666.1L1495.7 665.7L1496.1 666.0L1496.6 665.5L1497.0 665.5L1497.5 665.9L1497.9 665.4L1498.4 665.6L1498.8 665.5L1499.3 665.7L1499.7 665.7L1500.2 666.0L1500.6 665.6L1501.1 665.1L1501.5 665.2L1502.0 666.0L1502.4 666.0L1502.9 665.8L1503.3 665.4L1503.8 665.7L1504.2 666.0L1504.7 665.8L1505.1 665.6L1505.6 665.5L1506.0 665.8L1506.5 665.6L1507.0 665.6L1507.4 665.6L1507.9 666.2L1508.3 665.5L1508.8 666.1L1509.2 666.1L1509.7 665.7L1510.1 666.1L1510.6 666.1L1511.0 665.7L1511.5 665.7L1511.9 666.0L1512.4 665.1L1512.8 665.2L1513.3 665.5L1513.7 665.3L1514.2 665.5L1514.6 664.8L1515.1 665.6L1515.5 665.4L1516.0 665.4L1516.4 664.8L1516.9 665.1L1517.3 665.3L1517.8 665.3L1518.2 664.9L1518.7 665.6L1519.1 665.1L1519.6 665.2L1520.0 665.5L1520.5 665.6L1520.9 665.6L1521.4 665.6L1521.8 665.7L1522.3 665.4L1522.7 665.6L1523.2 665.7L1523.6 665.2L1524.1 665.5L1524.5 665.4L1525.0 665.0L1525.4 665.4L1525.9 665.5L1526.3 665.0L1526.8 664.9L1527.2 665.1L1527.7 665.4L1528.1 665.1L1528.6 665.0L1529.0 665.4L1529.5 664.9L1529.9 664.7L1530.4 665.0L1530.8 664.9L1531.3 665.2L1531.7 665.0L1532.2 665.5L1532.6 665.0L1533.1 665.3L1533.5 664.9L1534.0 665.6L1534.4 665.3L1534.9 666.0L1535.3 665.7L1535.8 665.3L1535.8 667.9Z" fill="#35a85a"/><path d="M1413.1 667.9h128.2" stroke="#333" stroke-width="1"/><path d="M1553.8 667.9L1553.8 663.2L1554.3 662.9L1554.7 658.3L1555.2 657.4L1555.6 662.0L1556.1 663.8L1556.5 663.4L1557.0 663.0L1557.4 663.2L1557.9 663.6L1558.3 663.1L1558.8 663.4L1559.2 663.7L1559.7 663.3L1560.1 663.5L1560.6 663.5L1561.0 663.1L1561.5 663.6L1561.9 663.3L1562.4 663.9L1562.8 663.6L1563.3 664.3L1563.7 664.1L1564.2 663.7L1564.6 663.7L1565.1 663.5L1565.5 664.0L1566.0 664.1L1566.4 664.0L1566.9 663.8L1567.3 664.3L1567.8 664.0L1568.2 663.7L1568.7 664.2L1569.1 664.0L1569.6 663.3L1570.0 663.2L1570.5 663.7L1570.9 663.7L1571.4 663.6L1571.8 663.5L1572.3 662.7L1572.7 662.7L1573.2 663.1L1573.6 662.9L1574.1 662.8L1574.5 663.5L1575.0 662.9L1575.4 663.0L1575.9 663.9L1576.3 663.5L1576.8 663.7L1577.2 664.2L1577.7 663.8L1578.1 664.5L1578.6 664.2L1579.0 664.3L1579.5 664.1L1579.9 663.6L1580.4 663.7L1580.8 663.6L1581.3 663.1L1581.7 663.7L1582.2 663.6L1582.6 663.2L1583.1 663.6L1583.6 662.8L1584.0 663.5L1584.5 663.5L1584.9 663.7L1585.4 663.4L1585.8 663.5L1586.3 663.9L1586.7 664.5L1587.2 664.5L1587.6 664.2L1588.1 664.7L1588.5 664.0L1589.0 664.0L1589.4 664.6L1589.9 664.4L1590.3 664.5L1590.8 664.0L1591.2 664.6L1591.7 663.9L1592.1 664.5L1592.6 663.7L1593.0 664.0L1593.5 664.0L1593.9 664.5L1594.4 664.5L1594.8 664.1L1595.3 663.4L1595.7 663.8L1596.2 663.5L1596.6 664.2L1597.1 664.2L1597.5 664.2L1598.0 663.6L1598.4 664.1L1598.9 664.0L1599.3 663.6L1599.8 663.6L1600.2 664.0L1600.7 663.8L1601.1 664.0L1601.6 663.7L1602.0 664.0L1602.5 664.0L1602.9 664.1L1603.4 664.1L1603.8 664.2L1604.3 664.5L1604.7 664.3L1605.2 664.2L1605.6 664.6L1606.1 664.8L1606.5 664.2L1607.0 664.6L1607.4 664.6L1607.9 664.8L1608.3 664.2L1608.8 664.3L1609.2 664.5L1609.7 664.4L1610.1 664.3L1610.6 664.5L1611.0 664.6L1611.5 664.6L1611.9 664.5L1612.4 664.5L1612.9 664.4L1613.3 664.4L1613.8 664.2L1614.2 664.0L1614.7 664.7L1615.1 664.9L1615.6 664.6L1616.0 664.8L1616.5 664.1L1616.9 664.2L1617.4 664.6L1617.8 664.7L1618.3 664.0L1618.7 664.0L1619.2 664.2L1619.6 664.2L1620.1 664.1L1620.5 664.4L1621.0 664.5L1621.4 664.3L1621.9 664.0L1622.3 663.9L1622.8 664.0L1623.2 664.1L1623.7 664.8L1624.1 664.7L1624.6 664.0L1625.0 664.4L1625.5 664.4L1625.9 664.7L1626.4 664.1L1626.8 664.5L1627.3 664.0L1627.7 664.9L1628.2 664.1L1628.6 665.1L1629.1 665.0L1629.5 664.8L1630.0 664.6L1630.4 665.2L1630.9 664.8L1631.3 664.4L1631.8 664.9L1632.2 664.6L1632.7 664.8L1633.1 664.9L1633.6 665.3L1634.0 665.1L1634.5 664.7L1634.9 665.0L1635.4 665.5L1635.8 665.3L1636.3 665.2L1636.7 665.5L1637.2 665.2L1637.6 665.2L1638.1 665.7L1638.5 665.5L1639.0 665.0L1639.4 665.3L1639.9 665.4L1640.3 664.7L1640.8 665.1L1641.2 664.4L1641.7 664.8L1642.2 665.3L1642.6 664.8L1643.1 665.2L1643.5 664.6L1644.0 664.8L1644.4 664.8L1644.9 665.5L1645.3 665.6L1645.8 664.9L1646.2 665.5L1646.7 665.5L1647.1 665.7L1647.6 665.5L1648.0 665.2L1648.5 664.8L1648.9 665.4L1649.4 665.5L1649.8 664.9L1650.3 665.6L1650.7 665.2L1651.2 665.2L1651.6 664.9L1652.1 665.7L1652.5 665.2L1653.0 665.3L1653.4 664.7L1653.9 665.2L1654.3 664.6L1654.8 665.0L1655.2 664.6L1655.7 664.1L1656.1 664.8L1656.6 664.7L1657.0 662.7L1657.5 660.8L1657.9 663.3L1658.4 665.1L1658.8 665.5L1659.3 665.6L1659.7 665.2L1660.2 665.5L1660.6 665.3L1661.1 665.7L1661.5 665.7L1662.0 665.9L1662.4 665.5L1662.9 665.7L1663.3 666.0L1663.8 665.5L1664.2 665.5L1664.7 665.3L1665.1 665.7L1665.6 665.7L1666.0 664.7L1666.5 665.3L1666.9 665.4L1667.4 665.7L1667.8 665.3L1668.3 665.1L1668.7 665.9L1669.2 665.7L1669.6 665.8L1670.1 665.6L1670.5 665.8L1671.0 666.2L1671.0 667.9Z" fill="#35a85a"/><path d="M1548.3 667.9h128.2" stroke="#333" stroke-width="1"/><path d="M1690.6 667.9L1690.6 665.4L1691.1 665.1L1691.5 665.2L1692.0 665.2L1692.4 665.0L1692.9 664.3L1693.3 664.8L1693.8 664.7L1694.2 664.2L1694.7 664.3L1695.1 664.5L1695.6 664.0L1696.0 664.1L1696.5 664.3L1696.9 664.3L1697.4 665.0L1697.8 664.3L1698.3 665.0L1698.7 664.9L1699.2 665.4L1699.6 664.3L1700.1 664.8L1700.5 665.0L1701.0 664.8L1701.4 664.2L1701.9 665.1L1702.3 664.6L1702.8 664.0L1703.2 664.3L1703.7 663.7L1704.1 663.3L1704.6 664.4L1705.0 664.0L1705.5 664.0L1705.9 663.4L1706.4 663.5L1706.8 663.7L1707.3 663.6L1707.7 664.7L1708.2 664.6L1708.6 664.2L1709.1 664.4L1709.5 665.4L1710.0 664.3L1710.4 664.6L1710.9 664.4L1711.3 665.1L1711.8 664.8L1712.2 664.3L1712.7 664.3L1713.1 664.8L1713.6 664.3L1714.0 664.2L1714.5 664.4L1714.9 664.6L1715.4 664.2L1715.8 665.3L1716.3 664.9L1716.7 664.7L1717.2 665.2L1717.6 664.3L1718.1 665.2L1718.5 664.4L1719.0 664.9L1719.4 664.8L1719.9 664.4L1720.4 664.9L1720.8 664.6L1721.3 663.9L1721.7 663.7L1722.2 664.5L1722.6 664.3L1723.1 663.7L1723.5 664.3L1724.0 663.4L1724.4 664.2L1724.9 663.7L1725.3 664.0L1725.8 664.5L1726.2 664.5L1726.7 664.6L1727.1 664.2L1727.6 664.4L1728.0 663.5L1728.5 664.0L1728.9 664.8L1729.4 664.0L1729.8 664.6L1730.3 664.3L1730.7 664.0L1731.2 663.8L1731.6 663.6L1732.1 664.3L1732.5 664.4L1733.0 664.2L1733.4 664.3L1733.9 663.7L1734.3 664.1L1734.8 663.8L1735.2 664.5L1735.7 663.6L1736.1 663.4L1736.6 664.4L1737.0 663.8L1737.5 664.4L1737.9 664.6L1738.4 664.1L1738.8 664.4L1739.3 663.7L1739.7 663.9L1740.2 663.8L1740.6 663.4L1741.1 664.6L1741.5 664.6L1742.0 664.6L1742.4 664.1L1742.9 663.6L1743.3 663.8L1743.8 664.0L1744.2 663.6L1744.7 660.9L1745.1 661.3L1745.6 660.7L1746.0 661.6L1746.5 661.5L1746.9 661.8L1747.4 661.8L1747.8 662.0L1748.3 661.5L1748.7 662.1L1749.2 661.4L1749.7 660.7L1750.1 657.9L1750.6 650.6L1751.0 647.7L1751.5 654.8L1751.9 659.6L1752.4 660.7L1752.8 660.6L1753.3 660.1L1753.7 660.3L1754.2 659.9L1754.6 660.8L1755.1 660.2L1755.5 660.5L1756.0 660.4L1756.4 658.2L1756.9 649.9L1757.3 642.5L1757.8 646.9L1758.2 655.2L1758.7 660.4L1759.1 662.0L1759.6 662.0L1760.0 661.4L1760.5 661.3L1760.9 660.9L1761.4 661.0L1761.8 661.1L1762.3 659.6L1762.7 657.2L1763.2 654.6L1763.6 652.8L1764.1 652.1L1764.5 655.0L1765.0 657.3L1765.4 659.5L1765.9 660.6L1766.3 659.3L1766.8 658.9L1767.2 656.6L1767.7 655.2L1768.1 654.1L1768.6 656.6L1769.0 658.4L1769.5 660.0L1769.9 660.8L1770.4 661.1L1770.8 661.6L1771.3 661.8L1771.7 661.8L1772.2 661.1L1772.6 662.0L1773.1 662.2L1773.5 661.1L1774.0 661.6L1774.4 662.0L1774.9 661.9L1775.3 660.7L1775.8 660.7L1776.2 661.5L1776.7 660.5L1777.1 660.9L1777.6 660.2L1778.0 657.2L1778.5 650.1L1779.0 640.9L1779.4 644.9L1779.9 653.3L1780.3 657.7L1780.8 658.4L1781.2 656.8L1781.7 654.3L1782.1 653.6L1782.6 654.9L1783.0 657.0L1783.5 659.7L1783.9 661.2L1784.4 661.0L1784.8 661.4L1785.3 661.7L1785.7 660.9L1786.2 661.8L1786.6 660.9L1787.1 660.3L1787.5 655.7L1788.0 651.8L1788.4 648.5L1788.9 651.9L1789.3 655.1L1789.8 658.7L1790.2 660.6L1790.7 662.1L1791.1 661.6L1791.6 662.1L1792.0 661.5L1792.5 661.0L1792.9 661.1L1793.4 661.9L1793.8 664.8L1794.3 665.0L1794.7 665.1L1795.2 664.2L1795.6 664.0L1796.1 664.4L1796.5 664.1L1797.0 663.6L1797.4 663.5L1797.9 663.8L1798.3 664.3L1798.8 664.3L1799.2 664.3L1799.7 663.5L1800.1 664.0L1800.6 663.9L1801.0 664.3L1801.5 664.4L1801.9 664.7L1802.4 663.7L1802.8 664.2L1803.3 664.8L1803.7 664.0L1804.2 664.1L1804.6 664.0L1805.1 663.7L1805.5 663.8L1806.0 663.3L1806.4 663.1L1806.9 663.8L1807.3 663.4L1807.8 663.7L1807.8 667.9Z" fill="#35a85a"/><path d="M1685.1 667.9h128.2" stroke="#333" stroke-width="1"/><path d="M1827.4 667.9L1827.4 667.0L1827.9 667.4L1828.3 667.3L1828.8 667.4L1829.2 667.0L1829.7 666.2L1830.1 665.5L1830.6 664.4L1831.0 664.5L1831.5 664.8L1831.9 665.4L1832.4 666.6L1832.8 667.2L1833.3 667.4L1833.7 667.0L1834.2 664.4L1834.6 659.3L1835.1 653.5L1835.5 647.0L1836.0 650.5L1836.4 656.7L1836.9 663.2L1837.3 666.0L1837.8 666.9L1838.2 666.6L1838.7 667.2L1839.1 666.8L1839.6 666.9L1840.0 667.1L1840.5 667.5L1840.9 667.0L1841.4 667.6L1841.8 667.3L1842.3 667.7L1842.7 667.7L1843.2 667.4L1843.6 667.6L1844.1 666.9L1844.5 667.3L1845.0 667.0L1845.4 667.0L1845.9 667.1L1846.3 667.2L1846.8 667.4L1847.2 667.1L1847.7 667.2L1848.1 667.5L1848.6 667.1L1849.0 667.1L1849.5 666.9L1849.9 666.7L1850.4 666.6L1850.8 666.6L1851.3 666.4L1851.7 666.3L1852.2 666.9L1852.6 666.9L1853.1 667.0L1853.5 666.9L1854.0 666.3L1854.4 666.8L1854.9 666.7L1855.3 666.7L1855.8 666.6L1856.2 666.9L1856.7 666.5L1857.2 666.8L1857.6 666.4L1858.1 666.5L1858.5 667.2L1859.0 666.7L1859.4 667.1L1859.9 666.5L1860.3 667.2L1860.8 667.1L1861.2 666.7L1861.7 666.8L1862.1 666.8L1862.6 665.8L1863.0 665.6L1863.5 665.8L1863.9 665.6L1864.4 665.7L1864.8 665.3L1865.3 665.8L1865.7 665.7L1866.2 665.6L1866.6 665.4L1867.1 665.4L1867.5 665.9L1868.0 665.2L1868.4 665.4L1868.9 665.8L1869.3 666.1L1869.8 665.7L1870.2 665.6L1870.7 666.3L1871.1 665.9L1871.6 665.9L1872.0 665.7L1872.5 666.3L1872.9 666.3L1873.4 666.3L1873.8 666.2L1874.3 665.6L1874.7 665.5L1875.2 665.8L1875.6 666.1L1876.1 665.9L1876.5 666.0L1877.0 665.7L1877.4 665.7L1877.9 665.7L1878.3 666.0L1878.8 666.0L1879.2 666.1L1879.7 666.2L1880.1 666.2L1880.6 666.1L1881.0 666.1L1881.5 666.4L1881.9 666.2L1882.4 666.5L1882.8 666.6L1883.3 666.3L1883.7 666.3L1884.2 666.6L1884.6 666.5L1885.1 666.2L1885.5 665.8L1886.0 665.9L1886.5 666.6L1886.9 666.3L1887.4 666.3L1887.8 666.4L1888.3 666.5L1888.7 666.2L1889.2 666.0L1889.6 666.4L1890.1 666.5L1890.5 666.6L1891.0 666.7L1891.4 666.1L1891.9 666.4L1892.3 665.9L1892.8 665.8L1893.2 666.3L1893.7 666.1L1894.1 665.9L1894.6 665.4L1895.0 665.4L1895.5 665.7L1895.9 665.5L1896.4 665.6L1896.8 665.5L1897.3 665.2L1897.7 665.6L1898.2 665.1L1898.6 665.0L1899.1 665.2L1899.5 664.9L1900.0 664.9L1900.4 665.5L1900.9 664.8L1901.3 665.5L1901.8 665.1L1902.2 665.8L1902.7 665.7L1903.1 665.8L1903.6 665.6L1904.0 665.8L1904.5 666.3L1904.9 665.8L1905.4 665.9L1905.8 666.2L1906.3 666.5L1906.7 666.3L1907.2 666.3L1907.6 666.2L1908.1 665.8L1908.5 666.1L1909.0 665.9L1909.4 666.5L1909.9 666.3L1910.3 665.9L1910.8 666.3L1911.2 666.4L1911.7 666.5L1912.1 666.5L1912.6 666.3L1913.0 666.2L1913.5 666.3L1913.9 666.2L1914.4 666.4L1914.8 666.7L1915.3 666.1L1915.8 666.4L1916.2 666.3L1916.7 666.4L1917.1 666.5L1917.6 666.6L1918.0 666.4L1918.5 666.4L1918.9 666.6L1919.4 666.7L1919.8 666.3L1920.3 666.7L1920.7 666.0L1921.2 666.3L1921.6 666.2L1922.1 666.1L1922.5 666.4L1923.0 666.3L1923.4 665.7L1923.9 665.8L1924.3 665.8L1924.8 665.9L1925.2 665.6L1925.7 665.8L1926.1 665.5L1926.6 665.4L1927.0 665.3L1927.5 665.4L1927.9 665.3L1928.4 665.4L1928.8 665.3L1929.3 665.3L1929.7 665.3L1930.2 665.0L1930.6 665.1L1931.1 665.8L1931.5 665.3L1932.0 665.6L1932.4 665.7L1932.9 665.6L1933.3 666.4L1933.8 666.2L1934.2 666.4L1934.7 665.9L1935.1 666.6L1935.6 666.2L1936.0 666.6L1936.5 666.1L1936.9 666.3L1937.4 666.1L1937.8 666.4L1938.3 665.9L1938.7 666.6L1939.2 666.4L1939.6 666.0L1940.1 665.9L1940.5 666.0L1941.0 666.3L1941.4 666.4L1941.9 665.8L1942.3 665.7L1942.8 666.1L1943.2 665.3L1943.7 665.6L1944.1 666.0L1944.6 665.6L1944.6 667.9Z" fill="#35a85a"/><path d="M1821.9 667.9h128.2" stroke="#333" stroke-width="1"/><path d="M1143.8 737.2L1143.8 736.9L1144.3 736.9L1144.7 736.8L1145.2 736.5L1145.6 736.5L1146.1 737.0L1146.5 736.9L1147.0 737.0L1147.4 736.6L1147.9 736.6L1148.3 737.0L1148.8 737.1L1149.2 736.5L1149.7 736.4L1150.1 736.4L1150.6 736.3L1151.0 735.9L1151.5 735.7L1151.9 735.6L1152.4 735.6L1152.8 735.3L1153.3 735.1L1153.7 735.3L1154.2 735.1L1154.6 735.4L1155.1 734.8L1155.5 735.3L1156.0 735.3L1156.4 734.8L1156.9 734.8L1157.3 734.8L1157.8 734.8L1158.2 734.8L1158.7 734.8L1159.1 735.1L1159.6 735.5L1160.0 735.3L1160.5 735.5L1160.9 735.7L1161.4 736.5L1161.8 736.7L1162.3 736.5L1162.7 736.8L1163.2 736.6L1163.6 736.5L1164.1 736.8L1164.5 736.7L1165.0 736.6L1165.4 736.6L1165.9 736.7L1166.3 736.5L1166.8 736.8L1167.2 736.2L1167.7 736.3L1168.1 736.2L1168.6 736.5L1169.0 736.7L1169.5 736.5L1169.9 736.4L1170.4 736.5L1170.8 736.9L1171.3 737.0L1171.7 736.7L1172.2 736.9L1172.6 736.9L1173.1 736.9L1173.6 736.7L1174.0 736.5L1174.5 736.3L1174.9 736.3L1175.4 736.7L1175.8 736.0L1176.3 736.1L1176.7 735.9L1177.2 735.9L1177.6 736.0L1178.1 736.0L1178.5 736.2L1179.0 735.9L1179.4 736.4L1179.9 736.1L1180.3 736.1L1180.8 736.4L1181.2 736.5L1181.7 736.5L1182.1 736.5L1182.6 736.6L1183.0 736.5L1183.5 736.9L1183.9 737.1L1184.4 736.7L1184.8 736.7L1185.3 736.5L1185.7 736.6L1186.2 736.8L1186.6 737.0L1187.1 736.4L1187.5 736.5L1188.0 736.3L1188.4 736.6L1188.9 736.4L1189.3 736.4L1189.8 736.2L1190.2 736.5L1190.7 736.2L1191.1 736.4L1191.6 736.5L1192.0 736.1L1192.5 735.8L1192.9 734.9L1193.4 734.9L1193.8 734.6L1194.3 733.9L1194.7 733.9L1195.2 733.4L1195.6 733.4L1196.1 733.9L1196.5 734.0L1197.0 734.5L1197.4 734.6L1197.9 735.3L1198.3 735.3L1198.8 736.1L1199.2 736.1L1199.7 736.4L1200.1 736.7L1200.6 736.5L1201.0 736.2L1201.5 736.6L1201.9 736.5L1202.4 736.4L1202.9 736.6L1203.3 736.4L1203.8 736.7L1204.2 736.5L1204.7 736.5L1205.1 736.0L1205.6 736.0L1206.0 736.0L1206.5 736.1L1206.9 735.9L1207.4 736.0L1207.8 736.4L1208.3 736.2L1208.7 735.7L1209.2 735.5L1209.6 735.3L1210.1 735.2L1210.5 735.5L1211.0 735.1L1211.4 735.0L1211.9 734.9L1212.3 735.2L1212.8 734.7L1213.2 735.0L1213.7 735.1L1214.1 734.7L1214.6 735.1L1215.0 735.3L1215.5 734.9L1215.9 735.2L1216.4 735.2L1216.8 735.2L1217.3 735.0L1217.7 735.1L1218.2 734.9L1218.6 734.8L1219.1 734.7L1219.5 734.8L1220.0 734.8L1220.4 735.3L1220.9 734.9L1221.3 735.4L1221.8 735.1L1222.2 735.4L1222.7 735.4L1223.1 734.9L1223.6 735.4L1224.0 735.1L1224.5 735.2L1224.9 735.6L1225.4 735.0L1225.8 730.6L1226.3 729.6L1226.7 728.7L1227.2 728.1L1227.6 727.3L1228.1 726.8L1228.5 727.1L1229.0 728.6L1229.4 729.3L1229.9 730.2L1230.3 731.2L1230.8 732.0L1231.2 731.8L1231.7 731.9L1232.2 731.9L1232.6 731.1L1233.1 730.2L1233.5 728.4L1234.0 725.2L1234.4 722.2L1234.9 719.2L1235.3 715.7L1235.8 714.0L1236.2 716.8L1236.7 720.1L1237.1 723.2L1237.6 726.6L1238.0 728.7L1238.5 730.4L1238.9 731.0L1239.4 731.6L1239.8 732.1L1240.3 732.0L1240.7 732.1L1241.2 731.7L1241.6 731.7L1242.1 731.4L1242.5 731.8L1243.0 731.8L1243.4 731.8L1243.9 731.8L1244.3 731.8L1244.8 731.4L1245.2 731.4L1245.7 731.4L1246.1 731.0L1246.6 731.5L1247.0 731.1L1247.5 731.3L1247.9 731.6L1248.4 731.7L1248.8 731.3L1249.3 731.1L1249.7 731.7L1250.2 731.3L1250.6 731.6L1251.1 731.3L1251.5 731.2L1252.0 731.3L1252.4 731.7L1252.9 731.8L1253.3 731.3L1253.8 731.4L1254.2 731.5L1254.7 731.8L1255.1 732.2L1255.6 732.0L1256.0 731.7L1256.5 732.2L1256.9 731.9L1257.4 731.9L1257.8 735.8L1258.3 735.9L1258.7 735.9L1259.2 735.4L1259.6 735.3L1260.1 735.0L1260.5 734.7L1261.0 734.7L1261.0 737.2Z" fill="#24787f"/><path d="M1138.3 737.2h128.2" stroke="#333" stroke-width="1"/><path d="M1281.1 737.2L1281.1 735.1L1281.6 735.2L1282.0 735.1L1282.5 735.4L1282.9 734.8L1283.4 735.4L1283.8 734.8L1284.3 734.6L1284.7 735.1L1285.2 735.2L1285.6 735.0L1286.1 735.0L1286.5 734.5L1287.0 734.7L1287.4 734.9L1287.9 735.3L1288.3 734.9L1288.8 735.5L1289.2 735.6L1289.7 735.3L1290.1 735.3L1290.6 735.2L1291.0 735.2L1291.5 735.7L1291.9 735.5L1292.4 735.6L1292.8 735.2L1293.3 735.5L1293.7 734.7L1294.2 734.7L1294.6 734.5L1295.1 734.7L1295.5 734.2L1296.0 734.1L1296.4 733.9L1296.9 733.7L1297.3 733.9L1297.8 733.4L1298.2 733.4L1298.7 732.5L1299.1 732.4L1299.6 731.7L1300.0 732.0L1300.5 731.7L1300.9 731.2L1301.4 731.1L1301.8 731.2L1302.3 731.2L1302.7 731.5L1303.2 732.4L1303.6 732.5L1304.1 733.3L1304.5 733.1L1305.0 733.2L1305.4 733.7L1305.9 734.1L1306.3 733.8L1306.8 734.2L1307.2 733.9L1307.7 734.2L1308.1 733.8L1308.6 733.4L1309.0 733.4L1309.5 733.2L1309.9 733.5L1310.4 733.5L1310.9 733.9L1311.3 733.5L1311.8 733.9L1312.2 734.2L1312.7 734.7L1313.1 734.6L1313.6 735.2L1314.0 735.3L1314.5 735.5L1314.9 735.3L1315.4 735.6L1315.8 735.0L1316.3 735.2L1316.7 735.0L1317.2 735.2L1317.6 735.5L1318.1 735.3L1318.5 734.9L1319.0 735.0L1319.4 735.0L1319.9 735.0L1320.3 735.4L1320.8 735.2L1321.2 735.0L1321.7 734.5L1322.1 734.3L1322.6 734.4L1323.0 734.5L1323.5 734.5L1323.9 733.9L1324.4 733.9L1324.8 733.5L1325.3 734.0L1325.7 734.1L1326.2 734.4L1326.6 734.6L1327.1 734.2L1327.5 734.4L1328.0 735.2L1328.4 735.5L1328.9 735.2L1329.3 735.6L1329.8 735.4L1330.2 735.1L1330.7 735.2L1331.1 735.5L1331.6 735.2L1332.0 735.3L1332.5 734.8L1332.9 735.1L1333.4 734.5L1333.8 734.6L1334.3 734.4L1334.7 734.8L1335.2 734.3L1335.6 734.6L1336.1 734.9L1336.5 734.6L1337.0 734.8L1337.4 735.0L1337.9 735.1L1338.3 734.6L1338.8 734.9L1339.2 735.0L1339.7 734.5L1340.2 735.0L1340.6 734.4L1341.1 734.8L1341.5 734.6L1342.0 734.1L1342.4 734.1L1342.9 734.0L1343.3 733.8L1343.8 734.1L1344.2 733.8L1344.7 734.0L1345.1 734.0L1345.6 734.1L1346.0 734.0L1346.5 733.7L1346.9 733.8L1347.4 733.4L1347.8 733.1L1348.3 733.1L1348.7 733.4L1349.2 733.5L1349.6 733.2L1350.1 733.2L1350.5 732.9L1351.0 733.3L1351.4 733.5L1351.9 733.5L1352.3 733.7L1352.8 733.8L1353.2 734.0L1353.7 734.1L1354.1 734.4L1354.6 734.5L1355.0 734.3L1355.5 734.0L1355.9 734.1L1356.4 734.8L1356.8 734.7L1357.3 734.9L1357.7 735.1L1358.2 735.5L1358.6 735.1L1359.1 735.7L1359.5 735.6L1360.0 735.5L1360.4 735.6L1360.9 735.6L1361.3 735.7L1361.8 735.3L1362.2 735.6L1362.7 735.2L1363.1 735.3L1363.6 735.3L1364.0 735.4L1364.5 735.3L1364.9 735.5L1365.4 735.3L1365.8 735.1L1366.3 735.4L1366.7 734.9L1367.2 734.9L1367.6 734.6L1368.1 734.8L1368.5 734.8L1369.0 734.6L1369.5 735.0L1369.9 735.0L1370.4 735.0L1370.8 734.8L1371.3 734.9L1371.7 735.3L1372.2 734.8L1372.6 734.8L1373.1 735.2L1373.5 734.9L1374.0 735.2L1374.4 735.3L1374.9 735.5L1375.3 735.5L1375.8 735.0L1376.2 734.8L1376.7 734.8L1377.1 734.6L1377.6 734.8L1378.0 734.5L1378.5 734.6L1378.9 734.6L1379.4 734.7L1379.8 734.6L1380.3 734.8L1380.7 735.3L1381.2 734.9L1381.6 735.0L1382.1 735.3L1382.5 735.0L1383.0 735.4L1383.4 735.7L1383.9 735.4L1384.3 735.5L1384.8 735.5L1385.2 734.8L1385.7 735.2L1386.1 734.6L1386.6 734.9L1387.0 734.5L1387.5 733.9L1387.9 734.6L1388.4 733.9L1388.8 734.6L1389.3 733.9L1389.7 734.0L1390.2 734.4L1390.6 734.4L1391.1 734.7L1391.5 735.0L1392.0 735.0L1392.4 735.0L1392.9 734.7L1393.3 735.3L1393.8 735.0L1394.2 735.1L1394.7 735.0L1395.1 734.9L1395.6 735.1L1396.0 735.4L1396.5 735.0L1396.9 735.3L1397.4 735.6L1397.8 735.4L1398.3 735.2L1398.3 737.2Z" fill="#24787f"/><path d="M1275.6 737.2h128.2" stroke="#333" stroke-width="1"/><path d="M1418.6 737.2L1418.6 732.6L1419.1 728.1L1419.5 705.8L1420.0 701.4L1420.4 724.1L1420.9 730.7L1421.3 726.3L1421.8 721.5L1422.2 720.5L1422.7 722.4L1423.1 730.6L1423.6 732.4L1424.0 730.1L1424.5 732.0L1424.9 732.9L1425.4 732.5L1425.8 730.9L1426.3 721.2L1426.7 706.1L1427.2 716.1L1427.6 731.3L1428.1 733.2L1428.5 732.4L1429.0 731.8L1429.4 730.3L1429.9 731.4L1430.3 730.8L1430.8 731.7L1431.2 730.7L1431.7 731.6L1432.1 733.1L1432.6 732.7L1433.0 732.3L1433.5 733.6L1433.9 730.9L1434.4 732.4L1434.8 733.3L1435.3 732.4L1435.7 731.4L1436.2 733.2L1436.6 732.1L1437.1 733.8L1437.5 733.3L1438.0 733.5L1438.4 732.4L1438.9 731.8L1439.3 733.4L1439.8 731.8L1440.2 732.1L1440.7 731.6L1441.1 730.5L1441.6 729.5L1442.0 722.8L1442.5 729.1L1442.9 732.1L1443.4 733.4L1443.8 733.7L1444.3 731.8L1444.7 733.6L1445.2 733.7L1445.6 733.5L1446.1 731.9L1446.5 733.0L1447.0 732.8L1447.4 731.1L1447.9 732.1L1448.4 733.1L1448.8 731.3L1449.3 730.3L1449.7 731.5L1450.2 732.1L1450.6 731.8L1451.1 731.3L1451.5 730.8L1452.0 731.0L1452.4 732.8L1452.9 730.8L1453.3 730.4L1453.8 726.5L1454.2 729.0L1454.7 732.6L1455.1 731.5L1455.6 732.3L1456.0 730.1L1456.5 731.7L1456.9 730.4L1457.4 729.9L1457.8 731.6L1458.3 730.5L1458.7 731.5L1459.2 731.9L1459.6 733.0L1460.1 731.3L1460.5 730.6L1461.0 731.5L1461.4 732.8L1461.9 732.2L1462.3 732.8L1462.8 732.7L1463.2 731.4L1463.7 733.8L1464.1 732.1L1464.6 731.9L1465.0 733.0L1465.5 730.9L1465.9 732.4L1466.4 731.8L1466.8 732.2L1467.3 731.0L1467.7 731.6L1468.2 730.7L1468.6 731.6L1469.1 729.5L1469.5 723.6L1470.0 714.9L1470.4 715.7L1470.9 726.9L1471.3 731.8L1471.8 730.3L1472.2 731.9L1472.7 731.0L1473.1 732.9L1473.6 731.2L1474.0 732.7L1474.5 732.2L1474.9 732.3L1475.4 732.5L1475.8 729.4L1476.3 729.1L1476.7 731.0L1477.2 732.1L1477.7 729.7L1478.1 730.0L1478.6 732.0L1479.0 729.6L1479.5 731.9L1479.9 731.4L1480.4 729.6L1480.8 729.6L1481.3 731.4L1481.7 730.5L1482.2 729.5L1482.6 730.2L1483.1 730.6L1483.5 731.9L1484.0 732.5L1484.4 732.4L1484.9 731.5L1485.3 731.5L1485.8 732.2L1486.2 731.8L1486.7 732.1L1487.1 731.9L1487.6 732.5L1488.0 730.9L1488.5 731.6L1488.9 730.1L1489.4 729.3L1489.8 729.5L1490.3 729.3L1490.7 729.3L1491.2 729.5L1491.6 730.4L1492.1 730.8L1492.5 729.1L1493.0 730.6L1493.4 729.6L1493.9 730.1L1494.3 730.2L1494.8 731.1L1495.2 731.8L1495.7 729.5L1496.1 720.6L1496.6 713.8L1497.0 723.5L1497.5 730.6L1497.9 731.8L1498.4 732.0L1498.8 731.4L1499.3 730.9L1499.7 729.5L1500.2 723.8L1500.6 718.1L1501.1 723.3L1501.5 730.6L1502.0 730.7L1502.4 726.6L1502.9 724.2L1503.3 724.6L1503.8 729.7L1504.2 731.6L1504.7 732.2L1505.1 732.8L1505.6 734.0L1506.0 733.1L1506.5 732.4L1507.0 730.8L1507.4 733.4L1507.9 730.7L1508.3 730.3L1508.8 730.7L1509.2 732.3L1509.7 732.9L1510.1 729.9L1510.6 732.5L1511.0 731.6L1511.5 729.5L1511.9 730.4L1512.4 730.0L1512.8 730.0L1513.3 732.3L1513.7 731.4L1514.2 732.9L1514.6 732.1L1515.1 731.8L1515.5 730.8L1516.0 732.6L1516.4 731.4L1516.9 733.1L1517.3 732.6L1517.8 733.2L1518.2 731.4L1518.7 731.2L1519.1 730.7L1519.6 731.5L1520.0 729.7L1520.5 730.4L1520.9 730.8L1521.4 729.8L1521.8 732.2L1522.3 731.9L1522.7 731.2L1523.2 731.2L1523.6 730.2L1524.1 731.3L1524.5 733.6L1525.0 730.7L1525.4 732.4L1525.9 733.3L1526.3 731.4L1526.8 731.8L1527.2 730.8L1527.7 731.6L1528.1 732.3L1528.6 731.3L1529.0 731.0L1529.5 731.1L1529.9 730.1L1530.4 731.4L1530.8 731.0L1531.3 731.5L1531.7 731.9L1532.2 730.5L1532.6 730.0L1533.1 731.4L1533.5 730.0L1534.0 729.6L1534.4 724.7L1534.9 727.1L1535.3 729.9L1535.8 732.8L1535.8 737.2Z" fill="#24787f"/><path d="M1413.1 737.2h128.2" stroke="#333" stroke-width="1"/><path d="M1553.8 737.2L1553.8 732.9L1554.3 732.6L1554.7 732.7L1555.2 732.4L1555.6 733.2L1556.1 732.4L1556.5 733.2L1557.0 732.7L1557.4 732.5L1557.9 731.7L1558.3 731.5L1558.8 731.5L1559.2 730.3L1559.7 730.2L1560.1 729.2L1560.6 728.7L1561.0 727.9L1561.5 728.8L1561.9 729.5L1562.4 729.8L1562.8 729.5L1563.3 730.7L1563.7 731.4L1564.2 731.6L1564.6 731.8L1565.1 731.7L1565.5 732.9L1566.0 732.8L1566.4 732.4L1566.9 732.8L1567.3 732.6L1567.8 732.7L1568.2 733.5L1568.7 733.5L1569.1 733.4L1569.6 733.3L1570.0 733.5L1570.5 733.5L1570.9 733.8L1571.4 734.0L1571.8 733.4L1572.3 733.2L1572.7 734.0L1573.2 734.1L1573.6 733.3L1574.1 734.1L1574.5 734.0L1575.0 733.5L1575.4 733.7L1575.9 733.0L1576.3 733.2L1576.8 733.2L1577.2 733.3L1577.7 733.7L1578.1 732.7L1578.6 733.2L1579.0 732.8L1579.5 733.7L1579.9 733.4L1580.4 733.3L1580.8 733.9L1581.3 734.1L1581.7 733.2L1582.2 733.2L1582.6 733.2L1583.1 733.8L1583.6 733.6L1584.0 733.7L1584.5 733.9L1584.9 734.2L1585.4 733.6L1585.8 733.9L1586.3 733.6L1586.7 734.3L1587.2 734.0L1587.6 734.2L1588.1 733.5L1588.5 733.8L1589.0 734.0L1589.4 733.5L1589.9 733.8L1590.3 734.1L1590.8 734.0L1591.2 734.4L1591.7 734.4L1592.1 734.4L1592.6 733.3L1593.0 733.4L1593.5 733.8L1593.9 733.4L1594.4 733.9L1594.8 733.7L1595.3 734.4L1595.7 734.0L1596.2 733.8L1596.6 734.1L1597.1 733.8L1597.5 734.2L1598.0 733.8L1598.4 734.4L1598.9 734.0L1599.3 734.1L1599.8 734.0L1600.2 734.6L1600.7 734.4L1601.1 733.8L1601.6 734.5L1602.0 734.1L1602.5 733.5L1602.9 734.0L1603.4 733.8L1603.8 733.8L1604.3 733.6L1604.7 734.3L1605.2 734.3L1605.6 733.9L1606.1 734.8L1606.5 734.3L1607.0 734.6L1607.4 734.2L1607.9 734.0L1608.3 733.9L1608.8 734.3L1609.2 734.1L1609.7 734.8L1610.1 734.1L1610.6 733.7L1611.0 734.1L1611.5 734.2L1611.9 734.2L1612.4 734.3L1612.9 734.6L1613.3 734.6L1613.8 733.9L1614.2 734.3L1614.7 734.9L1615.1 734.3L1615.6 734.0L1616.0 734.3L1616.5 734.9L1616.9 734.0L1617.4 734.9L1617.8 734.5L1618.3 734.5L1618.7 734.8L1619.2 734.6L1619.6 734.6L1620.1 734.5L1620.5 734.6L1621.0 733.7L1621.4 733.7L1621.9 734.1L1622.3 733.3L1622.8 734.0L1623.2 734.0L1623.7 733.5L1624.1 733.9L1624.6 734.2L1625.0 734.0L1625.5 734.1L1625.9 734.7L1626.4 735.0L1626.8 734.3L1627.3 734.3L1627.7 734.4L1628.2 735.0L1628.6 734.2L1629.1 734.8L1629.5 734.0L1630.0 734.2L1630.4 734.1L1630.9 734.7L1631.3 734.4L1631.8 733.9L1632.2 734.7L1632.7 734.8L1633.1 734.4L1633.6 733.9L1634.0 734.2L1634.5 734.8L1634.9 735.0L1635.4 734.2L1635.8 734.2L1636.3 734.4L1636.7 735.0L1637.2 734.4L1637.6 735.2L1638.1 734.9L1638.5 734.7L1639.0 733.8L1639.4 734.8L1639.9 734.5L1640.3 733.7L1640.8 733.6L1641.2 734.1L1641.7 734.3L1642.2 733.4L1642.6 733.3L1643.1 733.4L1643.5 733.8L1644.0 734.5L1644.4 733.7L1644.9 733.9L1645.3 733.7L1645.8 733.8L1646.2 734.1L1646.7 733.6L1647.1 734.2L1647.6 734.3L1648.0 734.1L1648.5 733.9L1648.9 734.2L1649.4 733.9L1649.8 734.7L1650.3 734.0L1650.7 734.1L1651.2 734.8L1651.6 735.1L1652.1 734.5L1652.5 734.4L1653.0 734.0L1653.4 734.5L1653.9 734.2L1654.3 734.2L1654.8 734.8L1655.2 734.2L1655.7 734.5L1656.1 734.7L1656.6 734.7L1657.0 734.6L1657.5 734.1L1657.9 734.3L1658.4 734.6L1658.8 734.9L1659.3 734.0L1659.7 734.0L1660.2 733.9L1660.6 734.0L1661.1 734.9L1661.5 734.6L1662.0 734.4L1662.4 734.6L1662.9 734.0L1663.3 734.7L1663.8 735.0L1664.2 734.4L1664.7 734.9L1665.1 735.0L1665.6 734.3L1666.0 734.3L1666.5 734.4L1666.9 735.0L1667.4 734.5L1667.8 734.7L1668.3 735.1L1668.7 735.3L1669.2 735.5L1669.6 735.2L1670.1 735.4L1670.5 735.3L1671.0 735.2L1671.0 737.2Z" fill="#24787f"/><path d="M1548.3 737.2h128.2" stroke="#333" stroke-width="1"/><path d="M1690.6 737.2L1690.6 735.0L1691.1 733.9L1691.5 734.7L1692.0 735.0L1692.4 733.7L1692.9 734.4L1693.3 733.9L1693.8 734.2L1694.2 733.5L1694.7 734.7L1695.1 734.1L1695.6 733.9L1696.0 734.7L1696.5 733.6L1696.9 734.4L1697.4 734.0L1697.8 734.8L1698.3 734.9L1698.7 734.9L1699.2 734.0L1699.6 733.8L1700.1 733.9L1700.5 734.4L1701.0 735.0L1701.4 734.0L1701.9 734.3L1702.3 733.9L1702.8 734.0L1703.2 734.0L1703.7 734.4L1704.1 734.4L1704.6 734.4L1705.0 733.9L1705.5 734.1L1705.9 733.3L1706.4 734.5L1706.8 733.6L1707.3 734.6L1707.7 734.7L1708.2 733.7L1708.6 734.7L1709.1 734.3L1709.5 734.3L1710.0 734.6L1710.4 734.7L1710.9 734.9L1711.3 734.2L1711.8 734.6L1712.2 734.2L1712.7 733.9L1713.1 734.8L1713.6 734.3L1714.0 734.3L1714.5 733.5L1714.9 733.9L1715.4 734.5L1715.8 734.1L1716.3 734.7L1716.7 734.0L1717.2 734.6L1717.6 734.4L1718.1 733.9L1718.5 733.8L1719.0 734.3L1719.4 733.7L1719.9 734.1L1720.4 733.6L1720.8 734.4L1721.3 733.4L1721.7 733.9L1722.2 734.2L1722.6 734.1L1723.1 733.6L1723.5 734.3L1724.0 733.2L1724.4 734.1L1724.9 733.8L1725.3 734.3L1725.8 733.8L1726.2 733.2L1726.7 734.3L1727.1 734.4L1727.6 733.9L1728.0 733.9L1728.5 734.6L1728.9 734.5L1729.4 734.0L1729.8 734.5L1730.3 734.8L1730.7 733.8L1731.2 733.5L1731.6 733.5L1732.1 733.4L1732.5 734.1L1733.0 733.9L1733.4 733.4L1733.9 733.4L1734.3 733.3L1734.8 733.4L1735.2 733.8L1735.7 733.8L1736.1 734.0L1736.6 734.0L1737.0 733.3L1737.5 733.9L1737.9 732.8L1738.4 732.7L1738.8 733.8L1739.3 732.7L1739.7 733.1L1740.2 734.0L1740.6 733.5L1741.1 733.6L1741.5 733.7L1742.0 734.1L1742.4 733.9L1742.9 734.3L1743.3 733.8L1743.8 733.7L1744.2 734.1L1744.7 733.2L1745.1 733.3L1745.6 733.8L1746.0 733.5L1746.5 734.2L1746.9 733.8L1747.4 733.8L1747.8 734.5L1748.3 734.0L1748.7 734.6L1749.2 734.8L1749.7 734.3L1750.1 732.7L1750.6 727.5L1751.0 726.9L1751.5 730.9L1751.9 733.5L1752.4 734.3L1752.8 733.9L1753.3 734.1L1753.7 734.2L1754.2 734.1L1754.6 734.2L1755.1 733.8L1755.5 734.2L1756.0 733.7L1756.4 731.5L1756.9 725.4L1757.3 718.8L1757.8 723.2L1758.2 729.7L1758.7 733.2L1759.1 734.2L1759.6 733.8L1760.0 733.9L1760.5 734.8L1760.9 734.4L1761.4 733.6L1761.8 733.1L1762.3 731.5L1762.7 730.6L1763.2 729.9L1763.6 729.9L1764.1 730.7L1764.5 733.2L1765.0 733.6L1765.4 734.1L1765.9 734.3L1766.3 734.5L1766.8 734.5L1767.2 733.9L1767.7 734.0L1768.1 734.6L1768.6 734.1L1769.0 734.3L1769.5 734.1L1769.9 733.8L1770.4 735.1L1770.8 734.9L1771.3 734.9L1771.7 734.1L1772.2 734.0L1772.6 734.9L1773.1 734.5L1773.5 734.0L1774.0 734.2L1774.4 734.4L1774.9 733.9L1775.3 733.8L1775.8 734.9L1776.2 733.6L1776.7 734.4L1777.1 733.9L1777.6 733.2L1778.0 731.8L1778.5 728.1L1779.0 723.9L1779.4 725.4L1779.9 728.7L1780.3 733.2L1780.8 733.7L1781.2 733.9L1781.7 733.6L1782.1 734.0L1782.6 734.6L1783.0 734.9L1783.5 734.8L1783.9 734.6L1784.4 734.2L1784.8 734.4L1785.3 734.5L1785.7 734.5L1786.2 733.6L1786.6 733.2L1787.1 733.5L1787.5 730.9L1788.0 727.3L1788.4 725.3L1788.9 727.3L1789.3 729.8L1789.8 733.3L1790.2 732.9L1790.7 733.2L1791.1 733.3L1791.6 733.9L1792.0 733.7L1792.5 733.1L1792.9 734.3L1793.4 734.3L1793.8 733.5L1794.3 733.2L1794.7 734.3L1795.2 734.3L1795.6 734.0L1796.1 733.6L1796.5 734.0L1797.0 733.9L1797.4 734.8L1797.9 734.6L1798.3 734.1L1798.8 733.9L1799.2 734.8L1799.7 734.8L1800.1 734.5L1800.6 734.4L1801.0 734.5L1801.5 734.8L1801.9 734.9L1802.4 734.2L1802.8 733.8L1803.3 734.2L1803.7 733.8L1804.2 734.9L1804.6 734.2L1805.1 734.6L1805.5 733.9L1806.0 734.3L1806.4 734.3L1806.9 733.9L1807.3 733.8L1807.8 734.9L1807.8 737.2Z" fill="#24787f"/><path d="M1685.1 737.2h128.2" stroke="#333" stroke-width="1"/><path d="M1827.4 737.2L1827.4 736.8L1827.9 736.3L1828.3 736.6L1828.8 736.6L1829.2 736.4L1829.7 735.5L1830.1 734.3L1830.6 734.0L1831.0 733.2L1831.5 734.3L1831.9 735.0L1832.4 736.1L1832.8 736.5L1833.3 736.3L1833.7 736.3L1834.2 733.3L1834.6 726.6L1835.1 718.3L1835.5 710.2L1836.0 715.1L1836.4 722.6L1836.9 731.3L1837.3 735.2L1837.8 736.3L1838.2 736.6L1838.7 736.1L1839.1 736.3L1839.6 736.1L1840.0 736.9L1840.5 736.9L1840.9 736.8L1841.4 736.6L1841.8 736.4L1842.3 736.4L1842.7 736.3L1843.2 737.0L1843.6 737.0L1844.1 736.6L1844.5 736.5L1845.0 736.8L1845.4 736.4L1845.9 736.5L1846.3 735.8L1846.8 736.4L1847.2 736.3L1847.7 736.4L1848.1 735.9L1848.6 736.6L1849.0 736.4L1849.5 736.6L1849.9 736.7L1850.4 736.0L1850.8 736.3L1851.3 736.3L1851.7 736.7L1852.2 736.1L1852.6 736.2L1853.1 736.5L1853.5 736.9L1854.0 737.1L1854.4 736.6L1854.9 736.7L1855.3 736.4L1855.8 736.3L1856.2 736.4L1856.7 737.0L1857.2 736.3L1857.6 736.5L1858.1 737.0L1858.5 736.7L1859.0 735.9L1859.4 735.9L1859.9 735.8L1860.3 735.7L1860.8 736.2L1861.2 735.3L1861.7 735.9L1862.1 735.5L1862.6 734.5L1863.0 734.6L1863.5 734.7L1863.9 734.5L1864.4 734.7L1864.8 735.2L1865.3 734.9L1865.7 735.6L1866.2 735.5L1866.6 735.6L1867.1 735.8L1867.5 735.5L1868.0 735.8L1868.4 734.9L1868.9 735.1L1869.3 735.4L1869.8 735.7L1870.2 735.5L1870.7 735.1L1871.1 735.5L1871.6 735.7L1872.0 735.4L1872.5 735.2L1872.9 735.6L1873.4 735.3L1873.8 735.1L1874.3 734.9L1874.7 735.2L1875.2 734.6L1875.6 735.3L1876.1 734.8L1876.5 735.5L1877.0 734.7L1877.4 735.1L1877.9 735.5L1878.3 734.9L1878.8 734.9L1879.2 735.6L1879.7 735.0L1880.1 734.9L1880.6 735.5L1881.0 735.1L1881.5 735.2L1881.9 735.3L1882.4 735.4L1882.8 735.4L1883.3 734.8L1883.7 734.7L1884.2 734.5L1884.6 735.2L1885.1 734.6L1885.5 734.5L1886.0 734.9L1886.5 735.1L1886.9 734.3L1887.4 734.4L1887.8 734.5L1888.3 734.8L1888.7 734.8L1889.2 734.4L1889.6 735.1L1890.1 734.5L1890.5 734.6L1891.0 734.8L1891.4 734.3L1891.9 734.7L1892.3 734.5L1892.8 735.2L1893.2 735.1L1893.7 735.3L1894.1 735.2L1894.6 735.1L1895.0 734.9L1895.5 735.0L1895.9 735.1L1896.4 734.9L1896.8 735.1L1897.3 735.1L1897.7 735.6L1898.2 735.2L1898.6 735.1L1899.1 735.4L1899.5 734.6L1900.0 735.1L1900.4 735.2L1900.9 735.3L1901.3 734.9L1901.8 735.1L1902.2 734.6L1902.7 735.0L1903.1 735.2L1903.6 735.5L1904.0 735.7L1904.5 735.2L1904.9 735.3L1905.4 735.4L1905.8 735.4L1906.3 735.4L1906.7 735.0L1907.2 735.7L1907.6 735.5L1908.1 734.9L1908.5 735.3L1909.0 735.3L1909.4 735.1L1909.9 735.2L1910.3 734.8L1910.8 735.4L1911.2 735.0L1911.7 734.9L1912.1 735.3L1912.6 735.0L1913.0 735.4L1913.5 735.2L1913.9 735.7L1914.4 735.5L1914.8 735.3L1915.3 735.3L1915.8 735.4L1916.2 735.8L1916.7 735.3L1917.1 735.0L1917.6 735.6L1918.0 735.6L1918.5 735.2L1918.9 735.6L1919.4 735.7L1919.8 735.7L1920.3 735.2L1920.7 734.9L1921.2 735.0L1921.6 735.2L1922.1 734.9L1922.5 734.9L1923.0 735.4L1923.4 735.3L1923.9 734.7L1924.3 734.7L1924.8 735.0L1925.2 735.0L1925.7 735.3L1926.1 735.5L1926.6 735.3L1927.0 735.4L1927.5 735.0L1927.9 734.9L1928.4 734.9L1928.8 734.7L1929.3 735.5L1929.7 735.3L1930.2 735.4L1930.6 735.1L1931.1 734.6L1931.5 735.0L1932.0 734.7L1932.4 735.2L1932.9 735.1L1933.3 734.6L1933.8 735.1L1934.2 734.7L1934.7 734.8L1935.1 734.7L1935.6 735.3L1936.0 734.9L1936.5 734.3L1936.9 734.8L1937.4 734.8L1937.8 734.0L1938.3 734.3L1938.7 734.2L1939.2 734.3L1939.6 734.2L1940.1 734.4L1940.5 734.6L1941.0 734.7L1941.4 734.5L1941.9 732.0L1942.3 731.1L1942.8 733.9L1943.2 735.0L1943.7 734.7L1944.1 735.0L1944.6 735.1L1944.6 737.2Z" fill="#24787f"/><path d="M1821.9 737.2h128.2" stroke="#333" stroke-width="1"/><path d="M1143.8 806.2L1143.8 805.6L1144.3 805.5L1144.7 805.5L1145.2 805.5L1145.6 805.6L1146.1 805.7L1146.5 805.8L1147.0 805.9L1147.4 805.9L1147.9 805.8L1148.3 805.9L1148.8 806.2L1149.2 806.0L1149.7 805.8L1150.1 805.9L1150.6 805.9L1151.0 805.7L1151.5 805.8L1151.9 806.0L1152.4 805.8L1152.8 805.7L1153.3 806.0L1153.7 805.7L1154.2 805.9L1154.6 805.7L1155.1 806.1L1155.5 806.0L1156.0 806.0L1156.4 806.1L1156.9 805.9L1157.3 805.9L1157.8 805.9L1158.2 805.8L1158.7 806.2L1159.1 806.1L1159.6 806.0L1160.0 805.8L1160.5 805.8L1160.9 805.7L1161.4 805.7L1161.8 805.9L1162.3 805.8L1162.7 805.7L1163.2 805.8L1163.6 805.8L1164.1 805.7L1164.5 805.7L1165.0 806.0L1165.4 806.1L1165.9 805.8L1166.3 805.8L1166.8 806.1L1167.2 805.8L1167.7 805.9L1168.1 806.1L1168.6 806.1L1169.0 805.9L1169.5 805.9L1169.9 806.1L1170.4 805.8L1170.8 806.1L1171.3 805.9L1171.7 805.8L1172.2 806.1L1172.6 805.9L1173.1 806.0L1173.6 805.8L1174.0 806.0L1174.5 806.0L1174.9 806.1L1175.4 805.9L1175.8 806.1L1176.3 805.8L1176.7 806.2L1177.2 805.8L1177.6 806.2L1178.1 805.9L1178.5 805.8L1179.0 806.1L1179.4 805.9L1179.9 806.0L1180.3 806.1L1180.8 805.8L1181.2 805.9L1181.7 805.8L1182.1 806.1L1182.6 806.1L1183.0 806.0L1183.5 805.8L1183.9 806.1L1184.4 806.1L1184.8 805.9L1185.3 805.9L1185.7 805.7L1186.2 805.7L1186.6 806.0L1187.1 805.8L1187.5 805.9L1188.0 805.8L1188.4 805.8L1188.9 806.0L1189.3 805.9L1189.8 805.9L1190.2 805.9L1190.7 805.9L1191.1 805.9L1191.6 806.0L1192.0 806.0L1192.5 805.8L1192.9 805.9L1193.4 806.1L1193.8 806.1L1194.3 806.1L1194.7 805.8L1195.2 806.0L1195.6 805.8L1196.1 805.8L1196.5 805.9L1197.0 806.0L1197.4 805.9L1197.9 806.0L1198.3 805.8L1198.8 806.0L1199.2 805.9L1199.7 805.9L1200.1 805.9L1200.6 806.1L1201.0 806.0L1201.5 806.0L1201.9 805.9L1202.4 805.9L1202.9 806.1L1203.3 806.0L1203.8 806.0L1204.2 805.6L1204.7 805.7L1205.1 805.7L1205.6 805.4L1206.0 805.4L1206.5 805.3L1206.9 805.4L1207.4 805.6L1207.8 805.5L1208.3 805.6L1208.7 805.5L1209.2 805.4L1209.6 805.4L1210.1 805.2L1210.5 805.4L1211.0 805.5L1211.4 805.5L1211.9 805.3L1212.3 805.4L1212.8 805.4L1213.2 805.4L1213.7 805.4L1214.1 805.3L1214.6 805.4L1215.0 805.6L1215.5 805.4L1215.9 805.6L1216.4 805.4L1216.8 805.5L1217.3 805.4L1217.7 805.3L1218.2 805.4L1218.6 805.5L1219.1 805.7L1219.5 805.9L1220.0 805.7L1220.4 806.0L1220.9 806.0L1221.3 805.9L1221.8 806.1L1222.2 805.8L1222.7 806.0L1223.1 805.8L1223.6 806.2L1224.0 806.0L1224.5 806.1L1224.9 805.9L1225.4 805.9L1225.8 805.9L1226.3 805.8L1226.7 806.0L1227.2 806.0L1227.6 805.8L1228.1 805.9L1228.5 805.9L1229.0 805.6L1229.4 805.8L1229.9 805.8L1230.3 805.6L1230.8 805.3L1231.2 805.3L1231.7 805.2L1232.2 805.2L1232.6 805.1L1233.1 804.9L1233.5 804.7L1234.0 804.4L1234.4 804.1L1234.9 804.0L1235.3 803.6L1235.8 803.6L1236.2 804.0L1236.7 804.2L1237.1 804.5L1237.6 804.6L1238.0 804.9L1238.5 805.5L1238.9 805.4L1239.4 805.7L1239.8 805.9L1240.3 805.8L1240.7 806.0L1241.2 805.9L1241.6 806.0L1242.1 805.9L1242.5 805.8L1243.0 805.8L1243.4 805.9L1243.9 805.9L1244.3 805.7L1244.8 805.7L1245.2 805.9L1245.7 805.7L1246.1 805.8L1246.6 805.7L1247.0 805.8L1247.5 805.8L1247.9 805.7L1248.4 805.6L1248.8 805.4L1249.3 805.2L1249.7 805.1L1250.2 805.0L1250.6 804.7L1251.1 804.7L1251.5 804.5L1252.0 804.3L1252.4 804.3L1252.9 804.0L1253.3 804.1L1253.8 804.3L1254.2 804.8L1254.7 804.6L1255.1 805.0L1255.6 805.2L1256.0 805.2L1256.5 805.4L1256.9 805.5L1257.4 805.4L1257.8 805.4L1258.3 805.5L1258.7 805.5L1259.2 805.5L1259.6 805.4L1260.1 805.4L1260.5 805.5L1261.0 805.4L1261.0 806.2Z" fill="#e2352a"/><path d="M1138.3 806.2h128.2" stroke="#333" stroke-width="1"/><path d="M1281.1 806.2L1281.1 803.8L1281.6 804.0L1282.0 803.4L1282.5 803.8L1282.9 803.3L1283.4 803.9L1283.8 803.6L1284.3 802.9L1284.7 803.3L1285.2 803.5L1285.6 803.3L1286.1 803.2L1286.5 803.1L1287.0 803.3L1287.4 803.6L1287.9 803.6L1288.3 803.9L1288.8 804.3L1289.2 804.3L1289.7 804.4L1290.1 804.6L1290.6 804.5L1291.0 804.8L1291.5 805.0L1291.9 804.4L1292.4 805.1L1292.8 804.9L1293.3 804.8L1293.7 804.8L1294.2 805.0L1294.6 804.5L1295.1 804.9L1295.5 804.7L1296.0 804.7L1296.4 805.0L1296.9 804.7L1297.3 804.9L1297.8 804.4L1298.2 804.2L1298.7 803.9L1299.1 803.8L1299.6 804.3L1300.0 804.0L1300.5 803.8L1300.9 804.0L1301.4 803.5L1301.8 803.8L1302.3 803.3L1302.7 803.8L1303.2 803.4L1303.6 803.0L1304.1 802.8L1304.5 802.9L1305.0 802.6L1305.4 802.6L1305.9 802.9L1306.3 802.8L1306.8 803.1L1307.2 803.6L1307.7 803.2L1308.1 803.5L1308.6 803.7L1309.0 804.5L1309.5 804.2L1309.9 804.9L1310.4 804.6L1310.9 804.6L1311.3 804.2L1311.8 804.0L1312.2 803.4L1312.7 803.0L1313.1 802.2L1313.6 801.8L1314.0 801.7L1314.5 801.4L1314.9 801.2L1315.4 801.0L1315.8 801.1L1316.3 801.3L1316.7 801.4L1317.2 801.7L1317.6 802.7L1318.1 803.2L1318.5 803.5L1319.0 804.3L1319.4 804.1L1319.9 804.8L1320.3 804.4L1320.8 804.3L1321.2 804.5L1321.7 803.9L1322.1 804.4L1322.6 804.5L1323.0 804.3L1323.5 804.1L1323.9 803.7L1324.4 803.6L1324.8 803.9L1325.3 803.5L1325.7 804.1L1326.2 804.0L1326.6 803.7L1327.1 803.8L1327.5 803.6L1328.0 804.0L1328.4 803.5L1328.9 803.8L1329.3 803.7L1329.8 803.8L1330.2 804.1L1330.7 803.6L1331.1 803.0L1331.6 803.4L1332.0 802.8L1332.5 802.4L1332.9 802.0L1333.4 801.2L1333.8 801.0L1334.3 801.2L1334.7 800.6L1335.2 800.6L1335.6 801.4L1336.1 801.8L1336.5 801.8L1337.0 802.1L1337.4 802.9L1337.9 803.5L1338.3 804.0L1338.8 804.3L1339.2 804.3L1339.7 804.6L1340.2 804.5L1340.6 804.7L1341.1 804.4L1341.5 804.4L1342.0 804.6L1342.4 804.8L1342.9 804.7L1343.3 804.2L1343.8 804.4L1344.2 804.9L1344.7 804.5L1345.1 804.5L1345.6 804.3L1346.0 804.4L1346.5 803.7L1346.9 803.9L1347.4 803.4L1347.8 803.7L1348.3 803.0L1348.7 803.1L1349.2 803.1L1349.6 803.1L1350.1 802.8L1350.5 803.2L1351.0 803.3L1351.4 803.6L1351.9 803.7L1352.3 804.0L1352.8 804.0L1353.2 804.3L1353.7 804.5L1354.1 804.3L1354.6 804.6L1355.0 804.1L1355.5 804.6L1355.9 803.9L1356.4 804.4L1356.8 804.5L1357.3 804.2L1357.7 804.5L1358.2 804.1L1358.6 804.5L1359.1 804.0L1359.5 804.7L1360.0 804.7L1360.4 804.1L1360.9 804.3L1361.3 804.7L1361.8 804.4L1362.2 804.7L1362.7 804.6L1363.1 804.9L1363.6 804.7L1364.0 804.6L1364.5 804.4L1364.9 804.7L1365.4 804.1L1365.8 803.7L1366.3 803.0L1366.7 802.8L1367.2 802.0L1367.6 801.5L1368.1 801.6L1368.5 801.4L1369.0 800.8L1369.5 801.2L1369.9 801.4L1370.4 801.5L1370.8 802.0L1371.3 802.4L1371.7 802.7L1372.2 803.4L1372.6 803.6L1373.1 804.1L1373.5 803.7L1374.0 803.6L1374.4 803.5L1374.9 803.2L1375.3 803.2L1375.8 803.4L1376.2 802.9L1376.7 802.1L1377.1 802.3L1377.6 801.3L1378.0 801.0L1378.5 801.2L1378.9 800.8L1379.4 800.2L1379.8 800.0L1380.3 800.3L1380.7 799.8L1381.2 800.5L1381.6 800.4L1382.1 801.1L1382.5 802.0L1383.0 802.1L1383.4 802.7L1383.9 802.2L1384.3 802.3L1384.8 802.1L1385.2 801.8L1385.7 799.4L1386.1 797.5L1386.6 794.9L1387.0 792.6L1387.5 790.5L1387.9 790.2L1388.4 792.0L1388.8 793.6L1389.3 796.2L1389.7 798.5L1390.2 800.1L1390.6 801.9L1391.1 803.0L1391.5 803.3L1392.0 804.1L1392.4 804.1L1392.9 804.7L1393.3 804.5L1393.8 804.5L1394.2 804.9L1394.7 804.4L1395.1 804.2L1395.6 804.2L1396.0 803.3L1396.5 803.4L1396.9 801.0L1397.4 789.6L1397.8 783.7L1398.3 796.8L1398.3 806.2Z" fill="#e2352a"/><path d="M1275.6 806.2h128.2" stroke="#333" stroke-width="1"/><path d="M1418.6 806.2L1418.6 805.8L1419.1 804.7L1419.5 803.1L1420.0 802.2L1420.4 804.9L1420.9 805.8L1421.3 805.6L1421.8 805.8L1422.2 806.1L1422.7 806.1L1423.1 805.7L1423.6 805.7L1424.0 805.5L1424.5 806.0L1424.9 805.6L1425.4 805.8L1425.8 805.7L1426.3 805.8L1426.7 805.6L1427.2 805.3L1427.6 805.7L1428.1 805.5L1428.5 805.2L1429.0 805.5L1429.4 805.3L1429.9 805.5L1430.3 805.7L1430.8 805.4L1431.2 805.5L1431.7 805.7L1432.1 805.3L1432.6 805.9L1433.0 805.4L1433.5 805.5L1433.9 805.5L1434.4 805.7L1434.8 805.5L1435.3 806.0L1435.7 805.6L1436.2 805.4L1436.6 805.7L1437.1 805.5L1437.5 805.5L1438.0 805.7L1438.4 805.5L1438.9 805.7L1439.3 806.0L1439.8 805.7L1440.2 805.6L1440.7 806.0L1441.1 805.8L1441.6 805.6L1442.0 806.1L1442.5 805.6L1442.9 805.9L1443.4 805.9L1443.8 805.7L1444.3 805.8L1444.7 806.0L1445.2 806.1L1445.6 805.9L1446.1 805.6L1446.5 805.5L1447.0 805.7L1447.4 805.7L1447.9 805.7L1448.4 805.6L1448.8 806.0L1449.3 806.0L1449.7 805.4L1450.2 805.9L1450.6 805.5L1451.1 805.5L1451.5 805.1L1452.0 805.2L1452.4 805.5L1452.9 805.5L1453.3 805.3L1453.8 805.3L1454.2 805.3L1454.7 805.3L1455.1 805.7L1455.6 805.5L1456.0 805.3L1456.5 805.7L1456.9 805.7L1457.4 805.8L1457.8 805.3L1458.3 805.3L1458.7 805.6L1459.2 805.6L1459.6 805.6L1460.1 805.2L1460.5 805.2L1461.0 805.1L1461.4 805.2L1461.9 805.3L1462.3 805.6L1462.8 805.1L1463.2 805.6L1463.7 805.2L1464.1 805.5L1464.6 805.7L1465.0 805.3L1465.5 805.6L1465.9 805.1L1466.4 805.6L1466.8 805.3L1467.3 805.4L1467.7 805.7L1468.2 805.6L1468.6 805.6L1469.1 805.3L1469.5 805.4L1470.0 805.3L1470.4 805.8L1470.9 805.9L1471.3 805.8L1471.8 805.8L1472.2 805.9L1472.7 805.6L1473.1 806.1L1473.6 805.7L1474.0 805.9L1474.5 805.8L1474.9 805.8L1475.4 805.7L1475.8 805.3L1476.3 805.5L1476.7 805.7L1477.2 805.3L1477.7 805.8L1478.1 805.8L1478.6 805.6L1479.0 805.5L1479.5 805.5L1479.9 805.7L1480.4 805.6L1480.8 805.9L1481.3 805.5L1481.7 805.6L1482.2 805.6L1482.6 805.8L1483.1 805.5L1483.5 805.8L1484.0 805.4L1484.4 805.7L1484.9 805.3L1485.3 805.7L1485.8 805.5L1486.2 805.5L1486.7 805.5L1487.1 805.3L1487.6 805.3L1488.0 805.7L1488.5 805.4L1488.9 805.6L1489.4 805.7L1489.8 805.9L1490.3 805.4L1490.7 805.4L1491.2 805.5L1491.6 805.7L1492.1 806.0L1492.5 805.8L1493.0 805.8L1493.4 805.9L1493.9 805.7L1494.3 805.6L1494.8 805.5L1495.2 805.7L1495.7 805.6L1496.1 805.1L1496.6 805.3L1497.0 805.5L1497.5 805.4L1497.9 805.5L1498.4 805.5L1498.8 805.7L1499.3 805.4L1499.7 805.1L1500.2 804.5L1500.6 803.4L1501.1 804.5L1501.5 805.5L1502.0 805.8L1502.4 805.7L1502.9 805.9L1503.3 806.1L1503.8 805.8L1504.2 805.6L1504.7 805.6L1505.1 806.1L1505.6 805.5L1506.0 806.0L1506.5 805.7L1507.0 806.0L1507.4 805.9L1507.9 805.9L1508.3 805.7L1508.8 805.7L1509.2 805.6L1509.7 805.8L1510.1 806.1L1510.6 806.2L1511.0 806.1L1511.5 806.1L1511.9 806.1L1512.4 806.0L1512.8 806.1L1513.3 805.6L1513.7 806.0L1514.2 805.9L1514.6 805.7L1515.1 806.1L1515.5 805.9L1516.0 806.2L1516.4 805.9L1516.9 805.6L1517.3 805.8L1517.8 806.0L1518.2 805.8L1518.7 805.8L1519.1 805.8L1519.6 805.7L1520.0 805.7L1520.5 805.6L1520.9 805.5L1521.4 805.5L1521.8 805.6L1522.3 805.7L1522.7 805.6L1523.2 806.0L1523.6 806.0L1524.1 805.6L1524.5 805.9L1525.0 806.2L1525.4 805.7L1525.9 806.1L1526.3 806.0L1526.8 805.6L1527.2 806.1L1527.7 805.6L1528.1 806.0L1528.6 805.6L1529.0 805.8L1529.5 805.7L1529.9 805.6L1530.4 805.6L1530.8 805.9L1531.3 805.6L1531.7 805.9L1532.2 805.9L1532.6 805.5L1533.1 806.0L1533.5 805.8L1534.0 806.0L1534.4 805.7L1534.9 806.0L1535.3 805.8L1535.8 805.4L1535.8 806.2Z" fill="#e2352a"/><path d="M1413.1 806.2h128.2" stroke="#333" stroke-width="1"/><path d="M1553.8 806.2L1553.8 796.8L1554.3 792.1L1554.7 793.1L1555.2 798.1L1555.6 799.8L1556.1 802.1L1556.5 801.1L1557.0 801.0L1557.4 801.7L1557.9 800.1L1558.3 801.0L1558.8 801.8L1559.2 800.6L1559.7 802.1L1560.1 800.9L1560.6 800.7L1561.0 801.2L1561.5 802.5L1561.9 802.5L1562.4 801.1L1562.8 801.1L1563.3 802.3L1563.7 800.3L1564.2 793.2L1564.6 777.2L1565.1 768.9L1565.5 787.6L1566.0 799.9L1566.4 802.2L1566.9 802.3L1567.3 801.7L1567.8 802.6L1568.2 800.6L1568.7 801.6L1569.1 799.3L1569.6 798.0L1570.0 795.0L1570.5 796.1L1570.9 798.1L1571.4 799.6L1571.8 801.2L1572.3 801.8L1572.7 802.5L1573.2 801.2L1573.6 801.6L1574.1 801.8L1574.5 800.7L1575.0 801.6L1575.4 800.5L1575.9 799.9L1576.3 793.5L1576.8 781.2L1577.2 770.1L1577.7 760.9L1578.1 769.3L1578.6 778.8L1579.0 785.6L1579.5 787.6L1579.9 789.0L1580.4 791.6L1580.8 795.1L1581.3 797.8L1581.7 799.7L1582.2 801.6L1582.6 802.5L1583.1 802.4L1583.6 801.7L1584.0 801.5L1584.5 801.1L1584.9 802.3L1585.4 802.5L1585.8 801.9L1586.3 802.5L1586.7 802.3L1587.2 801.8L1587.6 801.4L1588.1 802.6L1588.5 802.4L1589.0 801.5L1589.4 799.9L1589.9 798.8L1590.3 797.5L1590.8 799.5L1591.2 800.3L1591.7 800.8L1592.1 801.6L1592.6 802.6L1593.0 801.8L1593.5 802.2L1593.9 802.1L1594.4 802.3L1594.8 800.8L1595.3 800.7L1595.7 801.0L1596.2 799.7L1596.6 795.0L1597.1 792.7L1597.5 794.2L1598.0 798.2L1598.4 798.8L1598.9 799.7L1599.3 800.2L1599.8 801.0L1600.2 800.5L1600.7 801.3L1601.1 801.0L1601.6 799.9L1602.0 801.3L1602.5 801.1L1602.9 800.8L1603.4 799.7L1603.8 801.4L1604.3 801.0L1604.7 800.9L1605.2 802.0L1605.6 801.1L1606.1 802.2L1606.5 801.9L1607.0 801.9L1607.4 800.6L1607.9 801.7L1608.3 801.8L1608.8 798.1L1609.2 776.6L1609.7 748.2L1610.1 755.6L1610.6 776.8L1611.0 783.0L1611.5 785.5L1611.9 791.6L1612.4 796.1L1612.9 800.6L1613.3 801.8L1613.8 800.9L1614.2 800.6L1614.7 801.5L1615.1 802.5L1615.6 800.9L1616.0 800.6L1616.5 800.3L1616.9 794.9L1617.4 785.5L1617.8 778.2L1618.3 770.6L1618.7 775.9L1619.2 783.1L1619.6 788.2L1620.1 788.9L1620.5 786.9L1621.0 789.6L1621.4 794.0L1621.9 797.2L1622.3 799.5L1622.8 800.0L1623.2 799.8L1623.7 801.6L1624.1 800.6L1624.6 800.5L1625.0 801.8L1625.5 800.1L1625.9 801.2L1626.4 801.1L1626.8 800.3L1627.3 800.8L1627.7 800.6L1628.2 801.8L1628.6 800.6L1629.1 800.5L1629.5 797.0L1630.0 794.9L1630.4 797.6L1630.9 800.1L1631.3 800.6L1631.8 801.1L1632.2 801.4L1632.7 802.1L1633.1 802.8L1633.6 804.1L1634.0 806.0L1634.5 806.0L1634.9 804.9L1635.4 804.1L1635.8 805.2L1636.3 805.7L1636.7 806.1L1637.2 805.8L1637.6 805.3L1638.1 805.2L1638.5 805.3L1639.0 803.9L1639.4 803.5L1639.9 803.4L1640.3 804.8L1640.8 803.7L1641.2 804.6L1641.7 804.0L1642.2 804.0L1642.6 804.4L1643.1 803.6L1643.5 804.8L1644.0 803.8L1644.4 804.0L1644.9 804.4L1645.3 805.6L1645.8 805.6L1646.2 804.3L1646.7 804.0L1647.1 805.4L1647.6 804.5L1648.0 804.2L1648.5 803.8L1648.9 803.7L1649.4 796.4L1649.8 788.0L1650.3 791.7L1650.7 800.8L1651.2 803.1L1651.6 804.5L1652.1 803.6L1652.5 804.4L1653.0 804.2L1653.4 804.1L1653.9 803.5L1654.3 805.2L1654.8 804.2L1655.2 804.8L1655.7 797.5L1656.1 783.6L1656.6 784.9L1657.0 796.2L1657.5 803.4L1657.9 805.6L1658.4 804.7L1658.8 804.8L1659.3 804.2L1659.7 804.8L1660.2 803.0L1660.6 798.3L1661.1 796.7L1661.5 798.9L1662.0 803.6L1662.4 805.1L1662.9 804.5L1663.3 804.7L1663.8 805.8L1664.2 804.9L1664.7 804.2L1665.1 805.4L1665.6 805.1L1666.0 804.9L1666.5 804.7L1666.9 805.2L1667.4 805.0L1667.8 805.1L1668.3 803.7L1668.7 802.1L1669.2 794.6L1669.6 789.0L1670.1 788.7L1670.5 796.6L1671.0 800.6L1671.0 806.2Z" fill="#e2352a"/><path d="M1548.3 806.2h128.2" stroke="#333" stroke-width="1"/><path d="M1690.6 806.2L1690.6 805.6L1691.1 804.8L1691.5 805.2L1692.0 804.9L1692.4 803.5L1692.9 800.7L1693.3 802.9L1693.8 804.4L1694.2 805.9L1694.7 805.8L1695.1 805.6L1695.6 805.7L1696.0 805.4L1696.5 805.6L1696.9 805.5L1697.4 806.1L1697.8 805.9L1698.3 805.9L1698.7 805.7L1699.2 805.8L1699.6 806.1L1700.1 806.1L1700.5 806.1L1701.0 806.1L1701.4 805.6L1701.9 805.3L1702.3 805.6L1702.8 806.0L1703.2 805.6L1703.7 805.7L1704.1 805.9L1704.6 805.4L1705.0 805.9L1705.5 805.9L1705.9 806.1L1706.4 805.9L1706.8 805.3L1707.3 805.7L1707.7 805.5L1708.2 805.7L1708.6 805.9L1709.1 805.8L1709.5 805.7L1710.0 805.9L1710.4 805.7L1710.9 806.1L1711.3 805.7L1711.8 805.8L1712.2 805.4L1712.7 805.3L1713.1 804.8L1713.6 804.7L1714.0 804.6L1714.5 805.0L1714.9 805.1L1715.4 804.6L1715.8 805.3L1716.3 805.1L1716.7 805.4L1717.2 804.7L1717.6 804.8L1718.1 804.7L1718.5 805.4L1719.0 804.8L1719.4 805.0L1719.9 805.1L1720.4 805.2L1720.8 804.9L1721.3 805.3L1721.7 804.9L1722.2 805.0L1722.6 805.6L1723.1 805.5L1723.5 805.7L1724.0 805.3L1724.4 805.4L1724.9 805.6L1725.3 804.8L1725.8 803.9L1726.2 804.5L1726.7 805.3L1727.1 805.6L1727.6 805.7L1728.0 805.6L1728.5 806.2L1728.9 805.8L1729.4 805.6L1729.8 805.5L1730.3 805.4L1730.7 806.0L1731.2 805.3L1731.6 805.2L1732.1 805.5L1732.5 805.3L1733.0 805.8L1733.4 805.8L1733.9 805.7L1734.3 805.4L1734.8 805.1L1735.2 805.6L1735.7 805.1L1736.1 805.2L1736.6 805.9L1737.0 806.0L1737.5 805.1L1737.9 805.5L1738.4 805.3L1738.8 805.2L1739.3 805.7L1739.7 806.0L1740.2 805.2L1740.6 805.1L1741.1 805.6L1741.5 805.4L1742.0 806.0L1742.4 805.1L1742.9 805.4L1743.3 805.0L1743.8 805.3L1744.2 805.6L1744.7 805.8L1745.1 805.4L1745.6 805.1L1746.0 805.3L1746.5 805.3L1746.9 805.5L1747.4 805.6L1747.8 805.4L1748.3 805.3L1748.7 805.2L1749.2 804.7L1749.7 805.2L1750.1 804.3L1750.6 801.6L1751.0 800.8L1751.5 803.6L1751.9 805.1L1752.4 805.2L1752.8 805.5L1753.3 805.5L1753.7 805.1L1754.2 805.4L1754.6 805.4L1755.1 804.9L1755.5 805.3L1756.0 805.3L1756.4 805.3L1756.9 805.3L1757.3 805.2L1757.8 805.2L1758.2 806.0L1758.7 805.5L1759.1 806.2L1759.6 806.0L1760.0 805.9L1760.5 805.9L1760.9 805.8L1761.4 805.6L1761.8 804.9L1762.3 804.9L1762.7 805.0L1763.2 804.9L1763.6 804.7L1764.1 804.9L1764.5 805.4L1765.0 805.1L1765.4 805.4L1765.9 805.2L1766.3 804.8L1766.8 805.6L1767.2 805.6L1767.7 805.4L1768.1 805.4L1768.6 805.7L1769.0 805.7L1769.5 805.6L1769.9 805.2L1770.4 806.0L1770.8 805.2L1771.3 805.5L1771.7 805.2L1772.2 805.7L1772.6 805.4L1773.1 806.0L1773.5 805.8L1774.0 805.4L1774.4 805.7L1774.9 805.6L1775.3 805.1L1775.8 805.6L1776.2 805.5L1776.7 805.6L1777.1 805.9L1777.6 805.2L1778.0 805.8L1778.5 806.2L1779.0 805.8L1779.4 805.8L1779.9 806.0L1780.3 805.8L1780.8 806.1L1781.2 805.3L1781.7 805.7L1782.1 805.9L1782.6 805.6L1783.0 805.6L1783.5 805.8L1783.9 805.4L1784.4 805.7L1784.8 805.3L1785.3 805.4L1785.7 805.5L1786.2 806.0L1786.6 805.5L1787.1 805.3L1787.5 805.4L1788.0 806.1L1788.4 805.9L1788.9 806.2L1789.3 805.5L1789.8 805.3L1790.2 805.5L1790.7 805.5L1791.1 805.6L1791.6 805.5L1792.0 805.6L1792.5 805.4L1792.9 806.0L1793.4 805.7L1793.8 805.5L1794.3 806.0L1794.7 805.6L1795.2 805.2L1795.6 806.0L1796.1 805.3L1796.5 805.3L1797.0 805.1L1797.4 805.1L1797.9 805.4L1798.3 805.4L1798.8 805.5L1799.2 805.6L1799.7 805.4L1800.1 805.7L1800.6 805.3L1801.0 805.6L1801.5 805.7L1801.9 805.6L1802.4 805.5L1802.8 805.4L1803.3 805.4L1803.7 805.5L1804.2 805.9L1804.6 806.1L1805.1 806.0L1805.5 806.1L1806.0 805.7L1806.4 806.1L1806.9 805.7L1807.3 805.4L1807.8 805.7L1807.8 806.2Z" fill="#e2352a"/><path d="M1685.1 806.2h128.2" stroke="#333" stroke-width="1"/><path d="M1827.4 806.2L1827.4 805.9L1827.9 805.7L1828.3 805.8L1828.8 806.0L1829.2 805.7L1829.7 805.9L1830.1 806.0L1830.6 805.9L1831.0 806.0L1831.5 805.7L1831.9 805.4L1832.4 805.0L1832.8 804.3L1833.3 803.9L1833.7 804.6L1834.2 804.7L1834.6 804.6L1835.1 801.7L1835.5 794.9L1836.0 788.2L1836.4 788.2L1836.9 795.1L1837.3 802.0L1837.8 805.0L1838.2 805.9L1838.7 805.9L1839.1 805.8L1839.6 806.0L1840.0 806.0L1840.5 806.1L1840.9 805.8L1841.4 806.1L1841.8 806.1L1842.3 805.9L1842.7 806.2L1843.2 806.1L1843.6 806.0L1844.1 806.1L1844.5 806.1L1845.0 806.2L1845.4 806.0L1845.9 806.2L1846.3 806.1L1846.8 806.2L1847.2 806.0L1847.7 806.1L1848.1 806.0L1848.6 806.2L1849.0 806.0L1849.5 806.0L1849.9 805.8L1850.4 806.0L1850.8 806.0L1851.3 805.8L1851.7 806.1L1852.2 805.9L1852.6 805.9L1853.1 806.0L1853.5 806.1L1854.0 806.0L1854.4 806.1L1854.9 806.2L1855.3 806.1L1855.8 806.1L1856.2 806.1L1856.7 806.0L1857.2 806.1L1857.6 806.0L1858.1 806.0L1858.5 806.0L1859.0 805.9L1859.4 806.0L1859.9 806.0L1860.3 806.0L1860.8 806.2L1861.2 805.9L1861.7 806.0L1862.1 806.2L1862.6 805.9L1863.0 806.0L1863.5 805.9L1863.9 806.0L1864.4 806.0L1864.8 805.9L1865.3 805.9L1865.7 805.9L1866.2 806.0L1866.6 806.0L1867.1 805.9L1867.5 805.9L1868.0 806.0L1868.4 805.9L1868.9 805.9L1869.3 805.9L1869.8 806.0L1870.2 806.0L1870.7 806.0L1871.1 805.7L1871.6 806.0L1872.0 806.0L1872.5 805.9L1872.9 805.7L1873.4 805.8L1873.8 805.9L1874.3 805.9L1874.7 805.7L1875.2 805.7L1875.6 805.7L1876.1 805.7L1876.5 805.7L1877.0 805.9L1877.4 805.7L1877.9 805.7L1878.3 806.0L1878.8 805.9L1879.2 805.8L1879.7 805.8L1880.1 805.9L1880.6 805.9L1881.0 806.1L1881.5 805.9L1881.9 805.9L1882.4 806.1L1882.8 805.9L1883.3 805.9L1883.7 805.9L1884.2 805.9L1884.6 806.2L1885.1 806.1L1885.5 805.9L1886.0 806.1L1886.5 806.1L1886.9 805.9L1887.4 805.9L1887.8 806.0L1888.3 805.9L1888.7 805.8L1889.2 805.6L1889.6 805.7L1890.1 805.8L1890.5 805.8L1891.0 805.8L1891.4 805.7L1891.9 805.7L1892.3 805.9L1892.8 805.7L1893.2 805.8L1893.7 805.8L1894.1 805.9L1894.6 805.9L1895.0 806.1L1895.5 805.9L1895.9 805.9L1896.4 805.8L1896.8 805.8L1897.3 805.9L1897.7 806.0L1898.2 805.8L1898.6 805.9L1899.1 805.7L1899.5 805.7L1900.0 806.0L1900.4 806.0L1900.9 806.0L1901.3 805.8L1901.8 805.8L1902.2 805.8L1902.7 805.8L1903.1 805.7L1903.6 805.9L1904.0 805.8L1904.5 805.7L1904.9 805.8L1905.4 805.8L1905.8 805.7L1906.3 805.6L1906.7 805.6L1907.2 805.6L1907.6 805.7L1908.1 806.0L1908.5 805.9L1909.0 805.8L1909.4 805.9L1909.9 805.8L1910.3 806.1L1910.8 805.9L1911.2 806.0L1911.7 805.8L1912.1 806.1L1912.6 805.9L1913.0 805.9L1913.5 805.8L1913.9 805.9L1914.4 805.9L1914.8 806.1L1915.3 806.0L1915.8 806.0L1916.2 806.0L1916.7 805.9L1917.1 805.9L1917.6 805.9L1918.0 805.8L1918.5 805.8L1918.9 805.6L1919.4 805.6L1919.8 805.6L1920.3 805.9L1920.7 805.7L1921.2 805.7L1921.6 805.6L1922.1 805.6L1922.5 805.9L1923.0 805.9L1923.4 805.6L1923.9 805.6L1924.3 805.8L1924.8 805.7L1925.2 805.8L1925.7 805.8L1926.1 805.8L1926.6 805.8L1927.0 805.7L1927.5 805.9L1927.9 805.9L1928.4 806.0L1928.8 805.8L1929.3 806.0L1929.7 805.9L1930.2 805.9L1930.6 806.2L1931.1 805.9L1931.5 806.1L1932.0 805.9L1932.4 805.8L1932.9 806.0L1933.3 805.8L1933.8 805.7L1934.2 805.8L1934.7 805.7L1935.1 805.8L1935.6 805.9L1936.0 805.8L1936.5 805.6L1936.9 805.8L1937.4 805.8L1937.8 805.7L1938.3 805.8L1938.7 805.8L1939.2 805.9L1939.6 805.9L1940.1 806.0L1940.5 806.1L1941.0 805.8L1941.4 806.1L1941.9 806.0L1942.3 805.8L1942.8 806.0L1943.2 805.9L1943.7 806.2L1944.1 806.1L1944.6 806.0L1944.6 806.2Z" fill="#e2352a"/><path d="M1821.9 806.2h128.2" stroke="#333" stroke-width="1"/><path d="M1143.8 875.2L1143.8 874.8L1144.3 874.8L1144.7 874.7L1145.2 874.8L1145.6 874.4L1146.1 874.7L1146.5 874.6L1147.0 874.7L1147.4 874.4L1147.9 874.6L1148.3 874.6L1148.8 874.5L1149.2 874.3L1149.7 874.3L1150.1 874.4L1150.6 874.4L1151.0 874.6L1151.5 874.2L1151.9 874.3L1152.4 874.4L1152.8 874.2L1153.3 874.5L1153.7 874.3L1154.2 874.4L1154.6 874.3L1155.1 874.4L1155.5 874.3L1156.0 874.5L1156.4 874.6L1156.9 874.6L1157.3 874.3L1157.8 874.4L1158.2 874.4L1158.7 874.4L1159.1 874.6L1159.6 874.6L1160.0 874.6L1160.5 874.5L1160.9 874.6L1161.4 874.8L1161.8 874.8L1162.3 875.0L1162.7 874.8L1163.2 874.9L1163.6 874.8L1164.1 875.0L1164.5 874.8L1165.0 874.7L1165.4 874.6L1165.9 874.4L1166.3 874.5L1166.8 874.2L1167.2 874.3L1167.7 874.2L1168.1 874.3L1168.6 874.2L1169.0 874.1L1169.5 874.5L1169.9 874.5L1170.4 874.5L1170.8 874.6L1171.3 874.7L1171.7 874.8L1172.2 874.8L1172.6 874.9L1173.1 875.1L1173.6 875.0L1174.0 875.1L1174.5 875.2L1174.9 874.9L1175.4 874.7L1175.8 874.9L1176.3 874.8L1176.7 874.8L1177.2 875.0L1177.6 874.8L1178.1 874.6L1178.5 874.8L1179.0 874.9L1179.4 874.7L1179.9 874.8L1180.3 874.7L1180.8 874.7L1181.2 874.8L1181.7 874.9L1182.1 874.9L1182.6 875.0L1183.0 874.8L1183.5 875.0L1183.9 874.7L1184.4 875.0L1184.8 875.0L1185.3 874.9L1185.7 875.0L1186.2 874.9L1186.6 875.2L1187.1 874.8L1187.5 875.2L1188.0 874.9L1188.4 874.9L1188.9 874.9L1189.3 874.9L1189.8 875.1L1190.2 875.0L1190.7 875.2L1191.1 874.9L1191.6 874.9L1192.0 875.1L1192.5 875.0L1192.9 875.1L1193.4 874.8L1193.8 874.8L1194.3 874.9L1194.7 874.6L1195.2 874.4L1195.6 874.6L1196.1 874.2L1196.5 874.3L1197.0 874.4L1197.4 874.3L1197.9 874.1L1198.3 874.3L1198.8 874.0L1199.2 874.2L1199.7 874.3L1200.1 874.1L1200.6 874.3L1201.0 874.3L1201.5 874.4L1201.9 874.3L1202.4 874.2L1202.9 874.2L1203.3 874.2L1203.8 874.5L1204.2 874.6L1204.7 874.4L1205.1 874.6L1205.6 874.6L1206.0 874.6L1206.5 874.8L1206.9 874.8L1207.4 875.0L1207.8 875.0L1208.3 874.8L1208.7 874.6L1209.2 874.5L1209.6 874.7L1210.1 874.4L1210.5 874.4L1211.0 874.3L1211.4 874.3L1211.9 874.0L1212.3 874.2L1212.8 874.2L1213.2 874.4L1213.7 874.1L1214.1 874.5L1214.6 874.2L1215.0 874.5L1215.5 874.5L1215.9 874.7L1216.4 874.6L1216.8 874.4L1217.3 874.6L1217.7 874.6L1218.2 874.5L1218.6 874.8L1219.1 874.6L1219.5 874.6L1220.0 874.7L1220.4 875.1L1220.9 874.8L1221.3 874.9L1221.8 874.9L1222.2 875.0L1222.7 875.1L1223.1 874.9L1223.6 874.9L1224.0 874.9L1224.5 874.7L1224.9 874.9L1225.4 874.8L1225.8 874.7L1226.3 874.5L1226.7 874.5L1227.2 874.5L1227.6 874.8L1228.1 874.8L1228.5 872.9L1229.0 873.0L1229.4 873.1L1229.9 873.1L1230.3 872.9L1230.8 873.1L1231.2 872.9L1231.7 872.9L1232.2 873.1L1232.6 872.9L1233.1 872.8L1233.5 872.9L1234.0 872.2L1234.4 871.4L1234.9 871.0L1235.3 870.3L1235.8 870.0L1236.2 870.3L1236.7 871.1L1237.1 871.7L1237.6 872.3L1238.0 872.6L1238.5 872.8L1238.9 872.9L1239.4 872.9L1239.8 872.9L1240.3 872.6L1240.7 872.7L1241.2 872.7L1241.6 872.9L1242.1 872.7L1242.5 872.9L1243.0 872.8L1243.4 873.0L1243.9 872.9L1244.3 873.1L1244.8 873.1L1245.2 873.1L1245.7 873.2L1246.1 873.2L1246.6 873.0L1247.0 873.3L1247.5 873.0L1247.9 873.1L1248.4 873.2L1248.8 873.0L1249.3 873.1L1249.7 873.1L1250.2 873.2L1250.6 873.2L1251.1 872.9L1251.5 873.0L1252.0 873.1L1252.4 873.0L1252.9 873.2L1253.3 873.2L1253.8 872.9L1254.2 873.1L1254.7 873.2L1255.1 873.0L1255.6 873.2L1256.0 873.2L1256.5 873.0L1256.9 873.0L1257.4 873.2L1257.8 874.8L1258.3 875.1L1258.7 875.0L1259.2 874.9L1259.6 874.9L1260.1 874.9L1260.5 874.9L1261.0 874.8L1261.0 875.2Z" fill="#ef6ea9"/><path d="M1138.3 875.2h128.2" stroke="#333" stroke-width="1"/><path d="M1281.1 875.2L1281.1 873.9L1281.6 874.1L1282.0 873.9L1282.5 873.8L1282.9 873.7L1283.4 873.7L1283.8 874.1L1284.3 874.0L1284.7 873.7L1285.2 873.7L1285.6 873.6L1286.1 873.9L1286.5 874.1L1287.0 874.1L1287.4 874.1L1287.9 873.7L1288.3 873.8L1288.8 873.9L1289.2 873.3L1289.7 873.8L1290.1 873.6L1290.6 873.3L1291.0 873.4L1291.5 873.7L1291.9 873.1L1292.4 873.4L1292.8 873.1L1293.3 873.3L1293.7 873.1L1294.2 872.9L1294.6 873.4L1295.1 873.0L1295.5 873.0L1296.0 872.8L1296.4 873.0L1296.9 873.3L1297.3 873.5L1297.8 873.4L1298.2 873.8L1298.7 873.8L1299.1 873.5L1299.6 874.1L1300.0 874.1L1300.5 873.9L1300.9 874.0L1301.4 873.7L1301.8 874.1L1302.3 873.8L1302.7 874.0L1303.2 873.6L1303.6 873.7L1304.1 874.1L1304.5 874.0L1305.0 873.9L1305.4 873.9L1305.9 873.8L1306.3 873.8L1306.8 874.1L1307.2 873.8L1307.7 873.6L1308.1 873.9L1308.6 874.0L1309.0 874.0L1309.5 873.7L1309.9 874.0L1310.4 874.0L1310.9 873.9L1311.3 873.7L1311.8 873.7L1312.2 873.8L1312.7 874.1L1313.1 874.0L1313.6 874.2L1314.0 873.6L1314.5 874.0L1314.9 873.7L1315.4 874.1L1315.8 874.1L1316.3 874.2L1316.7 874.0L1317.2 873.8L1317.6 873.8L1318.1 873.9L1318.5 874.0L1319.0 873.9L1319.4 873.6L1319.9 874.0L1320.3 873.4L1320.8 873.5L1321.2 873.9L1321.7 873.9L1322.1 873.2L1322.6 873.7L1323.0 873.1L1323.5 873.1L1323.9 873.1L1324.4 872.9L1324.8 873.3L1325.3 872.8L1325.7 872.8L1326.2 873.4L1326.6 873.3L1327.1 873.1L1327.5 873.7L1328.0 873.9L1328.4 873.6L1328.9 873.5L1329.3 873.6L1329.8 874.2L1330.2 874.2L1330.7 874.3L1331.1 874.1L1331.6 873.9L1332.0 873.4L1332.5 873.4L1332.9 873.7L1333.4 873.4L1333.8 873.2L1334.3 873.4L1334.7 873.5L1335.2 873.4L1335.6 873.3L1336.1 873.5L1336.5 872.8L1337.0 872.8L1337.4 873.1L1337.9 873.1L1338.3 873.0L1338.8 872.8L1339.2 873.1L1339.7 872.8L1340.2 872.8L1340.6 873.3L1341.1 873.1L1341.5 873.0L1342.0 873.5L1342.4 873.1L1342.9 873.6L1343.3 873.5L1343.8 874.0L1344.2 873.8L1344.7 873.7L1345.1 874.0L1345.6 873.5L1346.0 873.9L1346.5 873.8L1346.9 873.6L1347.4 874.0L1347.8 873.7L1348.3 873.7L1348.7 873.7L1349.2 874.0L1349.6 874.0L1350.1 873.9L1350.5 874.0L1351.0 874.0L1351.4 873.9L1351.9 873.8L1352.3 874.2L1352.8 874.2L1353.2 874.3L1353.7 874.0L1354.1 874.2L1354.6 873.8L1355.0 874.2L1355.5 874.0L1355.9 873.8L1356.4 874.1L1356.8 874.1L1357.3 874.0L1357.7 873.6L1358.2 873.8L1358.6 873.4L1359.1 873.9L1359.5 873.8L1360.0 873.7L1360.4 873.7L1360.9 873.7L1361.3 873.7L1361.8 873.4L1362.2 873.2L1362.7 873.4L1363.1 872.9L1363.6 873.1L1364.0 873.3L1364.5 873.3L1364.9 873.4L1365.4 873.6L1365.8 873.4L1366.3 873.4L1366.7 873.4L1367.2 873.9L1367.6 874.1L1368.1 873.5L1368.5 874.0L1369.0 873.7L1369.5 873.6L1369.9 874.0L1370.4 874.1L1370.8 873.7L1371.3 874.1L1371.7 873.9L1372.2 874.3L1372.6 873.9L1373.1 874.0L1373.5 874.2L1374.0 874.2L1374.4 873.7L1374.9 873.6L1375.3 873.9L1375.8 873.8L1376.2 873.7L1376.7 873.6L1377.1 873.5L1377.6 873.0L1378.0 873.6L1378.5 873.3L1378.9 873.2L1379.4 873.2L1379.8 873.4L1380.3 873.2L1380.7 873.5L1381.2 873.8L1381.6 873.4L1382.1 874.0L1382.5 873.8L1383.0 873.7L1383.4 874.3L1383.9 873.9L1384.3 873.8L1384.8 874.1L1385.2 873.7L1385.7 874.1L1386.1 873.8L1386.6 873.5L1387.0 873.7L1387.5 873.5L1387.9 873.7L1388.4 873.6L1388.8 873.7L1389.3 873.5L1389.7 873.5L1390.2 873.4L1390.6 873.4L1391.1 873.7L1391.5 873.3L1392.0 873.2L1392.4 873.2L1392.9 873.5L1393.3 873.3L1393.8 873.6L1394.2 873.0L1394.7 873.3L1395.1 873.6L1395.6 873.4L1396.0 873.7L1396.5 873.0L1396.9 871.4L1397.4 871.7L1397.8 873.1L1398.3 873.6L1398.3 875.2Z" fill="#ef6ea9"/><path d="M1275.6 875.2h128.2" stroke="#333" stroke-width="1"/><path d="M1418.6 875.2L1418.6 874.6L1419.1 873.9L1419.5 872.6L1420.0 872.5L1420.4 873.6L1420.9 874.5L1421.3 874.7L1421.8 874.9L1422.2 874.8L1422.7 874.9L1423.1 874.5L1423.6 874.9L1424.0 874.7L1424.5 874.9L1424.9 874.6L1425.4 874.4L1425.8 874.6L1426.3 875.0L1426.7 875.0L1427.2 875.0L1427.6 874.6L1428.1 875.1L1428.5 874.7L1429.0 874.7L1429.4 874.6L1429.9 874.9L1430.3 874.9L1430.8 875.0L1431.2 874.8L1431.7 874.9L1432.1 874.7L1432.6 874.9L1433.0 874.6L1433.5 874.8L1433.9 875.0L1434.4 874.8L1434.8 874.9L1435.3 874.3L1435.7 874.8L1436.2 874.5L1436.6 874.4L1437.1 874.2L1437.5 874.5L1438.0 874.1L1438.4 874.4L1438.9 874.3L1439.3 874.3L1439.8 874.4L1440.2 873.8L1440.7 874.4L1441.1 873.8L1441.6 874.0L1442.0 873.8L1442.5 874.0L1442.9 874.0L1443.4 874.1L1443.8 874.0L1444.3 874.2L1444.7 874.3L1445.2 874.1L1445.6 874.0L1446.1 873.9L1446.5 874.0L1447.0 874.2L1447.4 874.5L1447.9 874.2L1448.4 874.5L1448.8 874.1L1449.3 874.2L1449.7 874.5L1450.2 874.6L1450.6 874.3L1451.1 874.7L1451.5 875.0L1452.0 874.7L1452.4 874.9L1452.9 875.1L1453.3 874.6L1453.8 875.0L1454.2 875.0L1454.7 874.7L1455.1 874.9L1455.6 874.8L1456.0 874.6L1456.5 874.3L1456.9 874.5L1457.4 874.6L1457.8 874.3L1458.3 874.3L1458.7 874.3L1459.2 874.9L1459.6 874.4L1460.1 874.5L1460.5 874.6L1461.0 874.6L1461.4 874.7L1461.9 875.0L1462.3 874.5L1462.8 874.6L1463.2 875.0L1463.7 874.8L1464.1 875.0L1464.6 875.0L1465.0 874.7L1465.5 875.0L1465.9 875.1L1466.4 874.7L1466.8 874.7L1467.3 874.5L1467.7 875.1L1468.2 874.9L1468.6 875.0L1469.1 874.4L1469.5 874.4L1470.0 874.8L1470.4 874.5L1470.9 874.3L1471.3 874.3L1471.8 874.4L1472.2 874.3L1472.7 874.5L1473.1 874.6L1473.6 874.5L1474.0 874.3L1474.5 874.5L1474.9 874.0L1475.4 874.3L1475.8 874.5L1476.3 874.1L1476.7 874.0L1477.2 874.0L1477.7 874.2L1478.1 873.9L1478.6 874.2L1479.0 874.1L1479.5 874.3L1479.9 874.7L1480.4 874.7L1480.8 874.9L1481.3 874.7L1481.7 874.9L1482.2 874.9L1482.6 874.9L1483.1 875.0L1483.5 874.7L1484.0 874.5L1484.4 874.7L1484.9 874.8L1485.3 874.4L1485.8 874.3L1486.2 874.4L1486.7 874.1L1487.1 874.1L1487.6 874.2L1488.0 874.3L1488.5 874.1L1488.9 874.3L1489.4 874.4L1489.8 874.6L1490.3 874.5L1490.7 874.5L1491.2 874.6L1491.6 874.6L1492.1 874.6L1492.5 874.7L1493.0 874.4L1493.4 874.5L1493.9 874.2L1494.3 874.3L1494.8 874.2L1495.2 874.2L1495.7 874.6L1496.1 872.8L1496.6 869.9L1497.0 872.3L1497.5 874.4L1497.9 874.8L1498.4 874.8L1498.8 874.3L1499.3 874.4L1499.7 875.0L1500.2 875.1L1500.6 875.1L1501.1 874.6L1501.5 875.0L1502.0 874.8L1502.4 874.9L1502.9 874.9L1503.3 874.7L1503.8 874.5L1504.2 875.1L1504.7 874.8L1505.1 874.6L1505.6 874.6L1506.0 874.7L1506.5 874.9L1507.0 875.1L1507.4 874.9L1507.9 874.7L1508.3 874.4L1508.8 874.5L1509.2 874.5L1509.7 874.6L1510.1 874.3L1510.6 874.1L1511.0 874.4L1511.5 874.3L1511.9 874.4L1512.4 874.6L1512.8 874.2L1513.3 874.8L1513.7 874.7L1514.2 874.4L1514.6 874.7L1515.1 874.8L1515.5 875.0L1516.0 874.9L1516.4 874.7L1516.9 874.7L1517.3 874.8L1517.8 874.5L1518.2 874.9L1518.7 875.0L1519.1 874.8L1519.6 874.6L1520.0 874.7L1520.5 874.6L1520.9 874.6L1521.4 875.2L1521.8 874.7L1522.3 875.0L1522.7 874.7L1523.2 874.6L1523.6 874.6L1524.1 874.9L1524.5 874.8L1525.0 874.9L1525.4 874.5L1525.9 874.5L1526.3 874.6L1526.8 874.7L1527.2 874.5L1527.7 874.7L1528.1 875.0L1528.6 874.5L1529.0 874.6L1529.5 874.8L1529.9 874.8L1530.4 875.0L1530.8 875.0L1531.3 875.1L1531.7 874.7L1532.2 874.6L1532.6 875.0L1533.1 875.0L1533.5 874.9L1534.0 875.0L1534.4 874.6L1534.9 875.0L1535.3 875.0L1535.8 874.9L1535.8 875.2Z" fill="#ef6ea9"/><path d="M1413.1 875.2h128.2" stroke="#333" stroke-width="1"/><path d="M1553.8 875.2L1553.8 874.8L1554.3 874.7L1554.7 874.8L1555.2 874.9L1555.6 874.9L1556.1 874.7L1556.5 874.8L1557.0 874.8L1557.4 875.0L1557.9 874.9L1558.3 875.0L1558.8 875.0L1559.2 874.9L1559.7 875.0L1560.1 874.8L1560.6 875.1L1561.0 874.9L1561.5 875.1L1561.9 874.9L1562.4 875.1L1562.8 874.9L1563.3 875.1L1563.7 875.1L1564.2 875.1L1564.6 874.8L1565.1 874.1L1565.5 873.0L1566.0 873.9L1566.4 874.9L1566.9 875.0L1567.3 875.0L1567.8 875.2L1568.2 874.9L1568.7 874.9L1569.1 874.9L1569.6 874.9L1570.0 875.1L1570.5 875.2L1570.9 875.1L1571.4 874.9L1571.8 875.0L1572.3 875.2L1572.7 874.9L1573.2 874.9L1573.6 875.0L1574.1 875.0L1574.5 874.9L1575.0 875.0L1575.4 874.9L1575.9 874.9L1576.3 874.8L1576.8 874.8L1577.2 875.0L1577.7 875.0L1578.1 874.9L1578.6 874.9L1579.0 875.0L1579.5 875.1L1579.9 874.9L1580.4 874.7L1580.8 874.9L1581.3 875.0L1581.7 874.9L1582.2 874.9L1582.6 875.1L1583.1 875.0L1583.6 874.9L1584.0 875.0L1584.5 874.9L1584.9 875.1L1585.4 875.1L1585.8 874.8L1586.3 874.9L1586.7 875.0L1587.2 875.0L1587.6 875.1L1588.1 875.1L1588.5 875.0L1589.0 875.0L1589.4 875.0L1589.9 875.0L1590.3 875.2L1590.8 874.9L1591.2 875.1L1591.7 875.0L1592.1 874.9L1592.6 874.9L1593.0 875.1L1593.5 875.0L1593.9 874.9L1594.4 875.0L1594.8 875.1L1595.3 875.0L1595.7 874.9L1596.2 875.0L1596.6 875.0L1597.1 874.7L1597.5 874.7L1598.0 874.7L1598.4 874.9L1598.9 874.9L1599.3 874.7L1599.8 875.0L1600.2 874.9L1600.7 875.0L1601.1 874.9L1601.6 874.9L1602.0 874.9L1602.5 874.9L1602.9 875.0L1603.4 874.9L1603.8 875.0L1604.3 875.1L1604.7 875.0L1605.2 875.0L1605.6 874.8L1606.1 874.8L1606.5 875.0L1607.0 874.8L1607.4 874.8L1607.9 874.8L1608.3 875.0L1608.8 874.8L1609.2 875.0L1609.7 874.9L1610.1 874.9L1610.6 874.9L1611.0 874.9L1611.5 874.8L1611.9 874.9L1612.4 874.8L1612.9 875.0L1613.3 874.8L1613.8 875.0L1614.2 874.8L1614.7 875.0L1615.1 874.8L1615.6 874.7L1616.0 874.8L1616.5 874.9L1616.9 874.9L1617.4 874.8L1617.8 875.0L1618.3 875.0L1618.7 874.9L1619.2 875.0L1619.6 875.0L1620.1 875.0L1620.5 875.1L1621.0 875.0L1621.4 875.0L1621.9 875.1L1622.3 875.0L1622.8 875.1L1623.2 875.0L1623.7 875.0L1624.1 874.9L1624.6 874.9L1625.0 875.1L1625.5 874.9L1625.9 874.8L1626.4 874.9L1626.8 874.8L1627.3 874.7L1627.7 874.7L1628.2 874.8L1628.6 874.9L1629.1 874.8L1629.5 874.9L1630.0 874.9L1630.4 874.9L1630.9 874.7L1631.3 874.7L1631.8 874.7L1632.2 874.7L1632.7 874.8L1633.1 874.7L1633.6 874.9L1634.0 875.0L1634.5 874.8L1634.9 874.8L1635.4 874.9L1635.8 874.8L1636.3 875.0L1636.7 875.0L1637.2 875.0L1637.6 875.0L1638.1 875.0L1638.5 875.1L1639.0 875.0L1639.4 874.8L1639.9 874.8L1640.3 874.9L1640.8 875.0L1641.2 874.9L1641.7 875.0L1642.2 874.9L1642.6 875.0L1643.1 874.9L1643.5 874.8L1644.0 875.0L1644.4 875.0L1644.9 874.9L1645.3 874.9L1645.8 874.8L1646.2 874.8L1646.7 874.9L1647.1 874.9L1647.6 874.8L1648.0 874.9L1648.5 875.0L1648.9 874.9L1649.4 874.9L1649.8 874.7L1650.3 874.7L1650.7 874.7L1651.2 874.9L1651.6 874.8L1652.1 874.9L1652.5 874.7L1653.0 874.7L1653.4 874.8L1653.9 874.7L1654.3 874.9L1654.8 874.9L1655.2 874.6L1655.7 874.8L1656.1 874.7L1656.6 874.6L1657.0 874.7L1657.5 874.8L1657.9 874.8L1658.4 874.8L1658.8 874.9L1659.3 874.7L1659.7 874.8L1660.2 874.8L1660.6 874.9L1661.1 875.0L1661.5 875.0L1662.0 875.0L1662.4 874.8L1662.9 874.9L1663.3 875.0L1663.8 874.8L1664.2 875.0L1664.7 875.0L1665.1 875.0L1665.6 875.0L1666.0 875.0L1666.5 875.0L1666.9 875.0L1667.4 875.0L1667.8 874.9L1668.3 875.0L1668.7 875.0L1669.2 875.0L1669.6 874.9L1670.1 875.0L1670.5 874.9L1671.0 875.1L1671.0 875.2Z" fill="#ef6ea9"/><path d="M1548.3 875.2h128.2" stroke="#333" stroke-width="1"/><path d="M1690.6 875.2L1690.6 866.3L1691.1 863.9L1691.5 851.7L1692.0 827.3L1692.4 810.0L1692.9 822.2L1693.3 839.2L1693.8 844.3L1694.2 843.1L1694.7 848.4L1695.1 852.0L1695.6 856.3L1696.0 860.4L1696.5 862.6L1696.9 859.6L1697.4 856.0L1697.8 855.1L1698.3 857.0L1698.7 862.2L1699.2 863.8L1699.6 862.2L1700.1 857.7L1700.5 855.9L1701.0 856.5L1701.4 862.3L1701.9 862.8L1702.3 864.2L1702.8 861.8L1703.2 859.2L1703.7 859.6L1704.1 860.9L1704.6 865.1L1705.0 867.3L1705.5 867.1L1705.9 867.9L1706.4 867.4L1706.8 869.3L1707.3 868.8L1707.7 869.0L1708.2 868.2L1708.6 868.9L1709.1 867.2L1709.5 869.0L1710.0 868.5L1710.4 868.5L1710.9 868.6L1711.3 867.3L1711.8 867.0L1712.2 863.6L1712.7 862.0L1713.1 860.9L1713.6 863.3L1714.0 866.2L1714.5 865.2L1714.9 865.2L1715.4 867.1L1715.8 866.4L1716.3 865.5L1716.7 866.4L1717.2 863.2L1717.6 863.9L1718.1 864.6L1718.5 867.9L1719.0 867.3L1719.4 867.7L1719.9 869.1L1720.4 870.1L1720.8 868.4L1721.3 868.4L1721.7 868.9L1722.2 867.1L1722.6 868.2L1723.1 867.7L1723.5 868.3L1724.0 866.8L1724.4 867.1L1724.9 865.7L1725.3 854.3L1725.8 846.2L1726.2 856.6L1726.7 864.6L1727.1 868.0L1727.6 867.3L1728.0 868.5L1728.5 868.3L1728.9 867.9L1729.4 867.6L1729.8 869.5L1730.3 869.7L1730.7 868.7L1731.2 869.6L1731.6 867.6L1732.1 867.2L1732.5 865.2L1733.0 865.6L1733.4 867.1L1733.9 868.8L1734.3 869.6L1734.8 869.9L1735.2 869.6L1735.7 868.2L1736.1 869.3L1736.6 866.6L1737.0 863.3L1737.5 862.1L1737.9 862.1L1738.4 864.6L1738.8 867.1L1739.3 867.7L1739.7 867.5L1740.2 863.0L1740.6 858.6L1741.1 853.1L1741.5 859.9L1742.0 865.4L1742.4 867.1L1742.9 867.2L1743.3 867.2L1743.8 866.5L1744.2 868.3L1744.7 867.9L1745.1 867.4L1745.6 867.8L1746.0 867.6L1746.5 868.4L1746.9 866.9L1747.4 868.4L1747.8 865.0L1748.3 865.2L1748.7 860.9L1749.2 860.5L1749.7 860.6L1750.1 855.5L1750.6 847.4L1751.0 848.8L1751.5 857.7L1751.9 865.8L1752.4 869.4L1752.8 869.1L1753.3 868.4L1753.7 869.0L1754.2 870.5L1754.6 870.3L1755.1 869.6L1755.5 869.0L1756.0 868.3L1756.4 868.4L1756.9 867.8L1757.3 865.5L1757.8 862.1L1758.2 861.6L1758.7 864.8L1759.1 869.1L1759.6 869.7L1760.0 869.4L1760.5 868.1L1760.9 869.9L1761.4 868.7L1761.8 870.3L1762.3 869.3L1762.7 869.0L1763.2 868.8L1763.6 870.0L1764.1 869.9L1764.5 870.9L1765.0 868.9L1765.4 870.3L1765.9 870.1L1766.3 867.8L1766.8 868.3L1767.2 868.2L1767.7 868.6L1768.1 866.4L1768.6 867.0L1769.0 866.5L1769.5 867.9L1769.9 867.9L1770.4 868.2L1770.8 869.6L1771.3 870.2L1771.7 869.0L1772.2 869.9L1772.6 868.9L1773.1 869.3L1773.5 869.7L1774.0 869.9L1774.4 870.8L1774.9 870.0L1775.3 869.8L1775.8 870.9L1776.2 870.3L1776.7 871.4L1777.1 869.8L1777.6 870.5L1778.0 871.0L1778.5 869.8L1779.0 869.5L1779.4 871.1L1779.9 871.7L1780.3 870.2L1780.8 869.3L1781.2 871.7L1781.7 869.8L1782.1 870.4L1782.6 870.2L1783.0 872.0L1783.5 871.0L1783.9 872.0L1784.4 869.5L1784.8 869.4L1785.3 870.0L1785.7 870.2L1786.2 869.7L1786.6 871.3L1787.1 869.0L1787.5 870.5L1788.0 870.4L1788.4 871.5L1788.9 871.3L1789.3 869.0L1789.8 871.0L1790.2 870.1L1790.7 869.5L1791.1 869.5L1791.6 870.2L1792.0 869.6L1792.5 869.2L1792.9 870.9L1793.4 870.4L1793.8 869.9L1794.3 869.7L1794.7 870.2L1795.2 871.7L1795.6 871.3L1796.1 871.2L1796.5 870.0L1797.0 870.7L1797.4 871.7L1797.9 871.0L1798.3 871.7L1798.8 869.9L1799.2 870.5L1799.7 869.8L1800.1 870.9L1800.6 871.4L1801.0 868.7L1801.5 867.3L1801.9 862.4L1802.4 865.5L1802.8 868.1L1803.3 869.6L1803.7 869.5L1804.2 871.2L1804.6 870.7L1805.1 871.2L1805.5 871.4L1806.0 868.9L1806.4 866.0L1806.9 865.8L1807.3 870.7L1807.8 871.5L1807.8 875.2Z" fill="#ef6ea9"/><path d="M1685.1 875.2h128.2" stroke="#333" stroke-width="1"/><path d="M1827.4 875.2L1827.4 875.0L1827.9 874.6L1828.3 872.4L1828.8 871.7L1829.2 874.5L1829.7 874.8L1830.1 874.7L1830.6 874.7L1831.0 874.9L1831.5 874.6L1831.9 874.6L1832.4 874.6L1832.8 874.9L1833.3 874.8L1833.7 874.8L1834.2 873.9L1834.6 869.3L1835.1 856.7L1835.5 844.2L1836.0 851.6L1836.4 865.0L1836.9 873.1L1837.3 874.7L1837.8 874.9L1838.2 875.0L1838.7 874.9L1839.1 875.0L1839.6 874.8L1840.0 874.8L1840.5 875.0L1840.9 875.1L1841.4 875.0L1841.8 875.1L1842.3 874.8L1842.7 874.8L1843.2 874.9L1843.6 874.9L1844.1 874.9L1844.5 875.0L1845.0 875.0L1845.4 875.0L1845.9 874.9L1846.3 875.1L1846.8 875.1L1847.2 875.0L1847.7 875.2L1848.1 875.1L1848.6 875.0L1849.0 874.9L1849.5 875.0L1849.9 874.8L1850.4 874.9L1850.8 874.8L1851.3 874.9L1851.7 875.0L1852.2 875.1L1852.6 874.9L1853.1 874.9L1853.5 875.0L1854.0 874.8L1854.4 874.8L1854.9 874.7L1855.3 875.0L1855.8 874.7L1856.2 874.7L1856.7 874.9L1857.2 874.7L1857.6 874.9L1858.1 874.7L1858.5 874.7L1859.0 874.8L1859.4 875.1L1859.9 875.1L1860.3 875.0L1860.8 875.1L1861.2 875.1L1861.7 874.9L1862.1 874.9L1862.6 875.1L1863.0 875.1L1863.5 874.9L1863.9 875.0L1864.4 875.2L1864.8 874.8L1865.3 875.1L1865.7 875.1L1866.2 874.9L1866.6 874.9L1867.1 875.1L1867.5 875.0L1868.0 874.8L1868.4 874.8L1868.9 874.9L1869.3 874.9L1869.8 874.9L1870.2 875.0L1870.7 874.9L1871.1 874.9L1871.6 874.9L1872.0 875.0L1872.5 874.9L1872.9 874.9L1873.4 874.9L1873.8 874.9L1874.3 874.9L1874.7 875.1L1875.2 875.1L1875.6 875.0L1876.1 875.2L1876.5 875.1L1877.0 874.9L1877.4 874.9L1877.9 875.0L1878.3 875.0L1878.8 875.2L1879.2 875.0L1879.7 874.9L1880.1 875.1L1880.6 875.0L1881.0 874.9L1881.5 875.0L1881.9 875.0L1882.4 874.9L1882.8 875.1L1883.3 875.0L1883.7 875.0L1884.2 875.1L1884.6 875.0L1885.1 874.8L1885.5 874.8L1886.0 874.9L1886.5 875.0L1886.9 874.9L1887.4 875.0L1887.8 874.9L1888.3 874.8L1888.7 875.0L1889.2 875.0L1889.6 874.9L1890.1 874.9L1890.5 874.9L1891.0 875.1L1891.4 874.8L1891.9 875.1L1892.3 874.8L1892.8 874.8L1893.2 875.0L1893.7 874.9L1894.1 874.7L1894.6 874.6L1895.0 874.9L1895.5 874.7L1895.9 874.6L1896.4 874.7L1896.8 874.6L1897.3 874.7L1897.7 874.9L1898.2 875.0L1898.6 874.8L1899.1 875.0L1899.5 874.8L1900.0 874.8L1900.4 875.0L1900.9 874.9L1901.3 875.1L1901.8 875.0L1902.2 875.1L1902.7 874.9L1903.1 875.1L1903.6 874.9L1904.0 875.1L1904.5 874.7L1904.9 874.8L1905.4 874.9L1905.8 875.0L1906.3 874.8L1906.7 874.9L1907.2 874.9L1907.6 875.1L1908.1 875.0L1908.5 875.0L1909.0 874.9L1909.4 875.1L1909.9 875.1L1910.3 875.0L1910.8 875.1L1911.2 875.1L1911.7 875.1L1912.1 875.0L1912.6 875.0L1913.0 875.0L1913.5 874.8L1913.9 875.0L1914.4 874.9L1914.8 874.8L1915.3 874.9L1915.8 874.7L1916.2 874.9L1916.7 874.9L1917.1 874.8L1917.6 874.9L1918.0 875.0L1918.5 875.0L1918.9 874.8L1919.4 874.9L1919.8 875.1L1920.3 875.2L1920.7 874.9L1921.2 875.1L1921.6 875.1L1922.1 875.0L1922.5 874.8L1923.0 874.9L1923.4 874.7L1923.9 874.6L1924.3 874.7L1924.8 874.6L1925.2 874.7L1925.7 874.9L1926.1 874.7L1926.6 874.9L1927.0 874.7L1927.5 874.7L1927.9 874.9L1928.4 874.9L1928.8 875.1L1929.3 875.0L1929.7 875.0L1930.2 874.9L1930.6 875.1L1931.1 875.1L1931.5 874.9L1932.0 874.9L1932.4 875.0L1932.9 874.8L1933.3 875.0L1933.8 874.8L1934.2 875.0L1934.7 874.9L1935.1 874.8L1935.6 875.0L1936.0 874.8L1936.5 875.0L1936.9 874.8L1937.4 874.9L1937.8 875.0L1938.3 874.9L1938.7 874.8L1939.2 874.9L1939.6 875.1L1940.1 875.0L1940.5 875.1L1941.0 875.0L1941.4 875.1L1941.9 875.0L1942.3 874.9L1942.8 874.9L1943.2 874.9L1943.7 875.2L1944.1 875.0L1944.6 875.1L1944.6 875.2Z" fill="#ef6ea9"/><path d="M1821.9 875.2h128.2" stroke="#333" stroke-width="1"/><path d="M1143.8 944.2L1143.8 943.2L1144.3 943.4L1144.7 943.3L1145.2 943.2L1145.6 943.3L1146.1 943.2L1146.5 943.1L1147.0 942.8L1147.4 942.9L1147.9 943.2L1148.3 943.0L1148.8 942.8L1149.2 943.2L1149.7 942.9L1150.1 943.0L1150.6 943.4L1151.0 943.7L1151.5 943.6L1151.9 943.8L1152.4 943.7L1152.8 944.1L1153.3 944.1L1153.7 943.8L1154.2 944.1L1154.6 943.8L1155.1 943.8L1155.5 943.7L1156.0 943.5L1156.4 943.4L1156.9 943.1L1157.3 942.9L1157.8 943.0L1158.2 942.9L1158.7 942.8L1159.1 943.2L1159.6 943.1L1160.0 943.4L1160.5 943.2L1160.9 943.2L1161.4 943.7L1161.8 943.7L1162.3 943.6L1162.7 943.7L1163.2 944.0L1163.6 943.8L1164.1 943.9L1164.5 943.8L1165.0 943.6L1165.4 944.1L1165.9 943.8L1166.3 943.9L1166.8 944.0L1167.2 944.1L1167.7 944.0L1168.1 944.1L1168.6 943.8L1169.0 944.0L1169.5 943.7L1169.9 943.9L1170.4 943.9L1170.8 943.8L1171.3 943.5L1171.7 943.4L1172.2 943.3L1172.6 943.4L1173.1 943.4L1173.6 943.5L1174.0 943.4L1174.5 943.7L1174.9 943.3L1175.4 943.5L1175.8 943.5L1176.3 943.7L1176.7 943.5L1177.2 943.7L1177.6 943.3L1178.1 943.8L1178.5 943.6L1179.0 943.7L1179.4 943.6L1179.9 943.3L1180.3 943.4L1180.8 943.0L1181.2 942.9L1181.7 942.7L1182.1 942.9L1182.6 942.7L1183.0 942.8L1183.5 942.7L1183.9 942.5L1184.4 943.0L1184.8 942.8L1185.3 942.8L1185.7 943.1L1186.2 943.3L1186.6 943.1L1187.1 943.1L1187.5 943.0L1188.0 943.0L1188.4 943.2L1188.9 943.0L1189.3 943.1L1189.8 943.4L1190.2 943.5L1190.7 943.5L1191.1 943.3L1191.6 943.4L1192.0 943.6L1192.5 943.6L1192.9 943.7L1193.4 943.5L1193.8 943.8L1194.3 943.4L1194.7 943.4L1195.2 943.4L1195.6 943.1L1196.1 943.5L1196.5 943.2L1197.0 942.9L1197.4 943.3L1197.9 943.1L1198.3 943.3L1198.8 943.0L1199.2 943.0L1199.7 943.3L1200.1 943.2L1200.6 943.1L1201.0 943.0L1201.5 942.8L1201.9 942.7L1202.4 942.9L1202.9 943.2L1203.3 943.0L1203.8 942.8L1204.2 943.4L1204.7 943.3L1205.1 943.4L1205.6 943.3L1206.0 943.6L1206.5 943.8L1206.9 943.7L1207.4 943.6L1207.8 943.6L1208.3 943.4L1208.7 943.8L1209.2 943.6L1209.6 943.5L1210.1 944.0L1210.5 943.8L1211.0 943.9L1211.4 943.9L1211.9 943.9L1212.3 943.7L1212.8 943.9L1213.2 943.5L1213.7 943.9L1214.1 943.8L1214.6 943.5L1215.0 943.7L1215.5 943.7L1215.9 943.5L1216.4 943.3L1216.8 943.2L1217.3 943.3L1217.7 943.5L1218.2 943.3L1218.6 943.0L1219.1 943.3L1219.5 943.4L1220.0 943.4L1220.4 943.1L1220.9 942.8L1221.3 942.8L1221.8 942.9L1222.2 943.2L1222.7 943.1L1223.1 943.2L1223.6 943.1L1224.0 943.0L1224.5 943.4L1224.9 943.1L1225.4 943.2L1225.8 942.8L1226.3 942.4L1226.7 942.1L1227.2 942.0L1227.6 941.5L1228.1 941.6L1228.5 941.7L1229.0 942.1L1229.4 942.1L1229.9 942.6L1230.3 942.9L1230.8 943.4L1231.2 943.5L1231.7 943.2L1232.2 943.2L1232.6 942.8L1233.1 934.6L1233.5 931.8L1234.0 926.5L1234.4 918.2L1234.9 910.7L1235.3 902.2L1235.8 895.1L1236.2 900.3L1236.7 905.3L1237.1 910.7L1237.6 915.5L1238.0 922.0L1238.5 926.0L1238.9 928.9L1239.4 931.0L1239.8 933.1L1240.3 934.6L1240.7 935.3L1241.2 935.7L1241.6 935.8L1242.1 936.1L1242.5 935.7L1243.0 935.8L1243.4 936.3L1243.9 936.1L1244.3 936.0L1244.8 936.4L1245.2 935.9L1245.7 935.9L1246.1 936.4L1246.6 936.3L1247.0 935.9L1247.5 936.2L1247.9 936.0L1248.4 935.9L1248.8 936.3L1249.3 936.0L1249.7 936.1L1250.2 935.8L1250.6 936.2L1251.1 935.8L1251.5 936.1L1252.0 935.6L1252.4 935.3L1252.9 934.4L1253.3 933.2L1253.8 931.9L1254.2 930.7L1254.7 929.6L1255.1 928.3L1255.6 929.7L1256.0 930.8L1256.5 932.0L1256.9 933.6L1257.4 935.1L1257.8 943.0L1258.3 943.5L1258.7 943.5L1259.2 943.9L1259.6 943.9L1260.1 943.8L1260.5 943.9L1261.0 943.9L1261.0 944.2Z" fill="#a66cc6"/><path d="M1141.2 944.2h128.2" stroke="#333" stroke-width="1"/><path d="M1281.1 944.2L1281.1 942.3L1281.6 942.7L1282.0 942.6L1282.5 942.3L1282.9 943.1L1283.4 943.3L1283.8 942.7L1284.3 943.0L1284.7 943.4L1285.2 943.5L1285.6 943.6L1286.1 943.5L1286.5 943.4L1287.0 943.9L1287.4 943.7L1287.9 943.6L1288.3 943.9L1288.8 943.9L1289.2 943.4L1289.7 943.0L1290.1 942.9L1290.6 943.1L1291.0 942.8L1291.5 942.0L1291.9 941.9L1292.4 941.8L1292.8 941.9L1293.3 942.0L1293.7 941.6L1294.2 942.0L1294.6 942.0L1295.1 942.5L1295.5 942.3L1296.0 942.7L1296.4 943.1L1296.9 943.2L1297.3 943.1L1297.8 943.0L1298.2 942.9L1298.7 942.5L1299.1 943.1L1299.6 943.0L1300.0 942.7L1300.5 943.0L1300.9 943.1L1301.4 942.7L1301.8 942.7L1302.3 942.4L1302.7 942.4L1303.2 942.6L1303.6 942.2L1304.1 942.3L1304.5 942.3L1305.0 941.6L1305.4 941.5L1305.9 941.5L1306.3 941.7L1306.8 942.0L1307.2 942.2L1307.7 942.4L1308.1 942.7L1308.6 942.5L1309.0 943.0L1309.5 942.8L1309.9 943.3L1310.4 943.4L1310.9 943.1L1311.3 943.1L1311.8 943.3L1312.2 943.5L1312.7 943.6L1313.1 943.2L1313.6 943.6L1314.0 943.1L1314.5 943.4L1314.9 943.2L1315.4 943.6L1315.8 943.0L1316.3 943.3L1316.7 942.4L1317.2 942.7L1317.6 941.8L1318.1 941.7L1318.5 940.8L1319.0 940.8L1319.4 940.4L1319.9 940.4L1320.3 940.2L1320.8 940.6L1321.2 940.5L1321.7 940.3L1322.1 940.9L1322.6 940.7L1323.0 940.8L1323.5 940.9L1323.9 940.9L1324.4 941.1L1324.8 940.7L1325.3 940.8L1325.7 940.7L1326.2 940.8L1326.6 941.4L1327.1 941.7L1327.5 941.9L1328.0 942.2L1328.4 943.0L1328.9 943.0L1329.3 943.6L1329.8 943.7L1330.2 943.8L1330.7 943.3L1331.1 943.4L1331.6 943.1L1332.0 942.7L1332.5 942.7L1332.9 941.7L1333.4 942.0L1333.8 941.6L1334.3 940.8L1334.7 940.9L1335.2 941.5L1335.6 941.5L1336.1 941.5L1336.5 942.1L1337.0 942.3L1337.4 942.5L1337.9 942.3L1338.3 943.3L1338.8 943.0L1339.2 943.5L1339.7 943.3L1340.2 943.8L1340.6 943.2L1341.1 943.1L1341.5 943.8L1342.0 943.2L1342.4 943.3L1342.9 943.8L1343.3 943.7L1343.8 944.2L1344.2 944.0L1344.7 944.1L1345.1 943.8L1345.6 943.7L1346.0 943.6L1346.5 943.4L1346.9 942.9L1347.4 942.7L1347.8 942.4L1348.3 941.5L1348.7 941.6L1349.2 941.8L1349.6 941.2L1350.1 941.8L1350.5 941.8L1351.0 942.1L1351.4 941.6L1351.9 942.1L1352.3 942.2L1352.8 942.4L1353.2 942.3L1353.7 942.4L1354.1 942.5L1354.6 942.7L1355.0 942.5L1355.5 942.7L1355.9 941.9L1356.4 941.9L1356.8 942.0L1357.3 941.5L1357.7 940.7L1358.2 941.0L1358.6 941.0L1359.1 940.2L1359.5 940.7L1360.0 940.7L1360.4 941.1L1360.9 941.4L1361.3 941.7L1361.8 941.6L1362.2 942.3L1362.7 942.4L1363.1 942.7L1363.6 943.2L1364.0 942.8L1364.5 942.8L1364.9 943.4L1365.4 943.6L1365.8 943.1L1366.3 943.7L1366.7 943.2L1367.2 943.6L1367.6 943.7L1368.1 943.9L1368.5 943.7L1369.0 943.9L1369.5 944.2L1369.9 943.7L1370.4 943.4L1370.8 943.5L1371.3 943.6L1371.7 943.2L1372.2 943.8L1372.6 943.6L1373.1 943.4L1373.5 943.6L1374.0 943.6L1374.4 943.0L1374.9 943.1L1375.3 942.9L1375.8 943.1L1376.2 942.3L1376.7 942.1L1377.1 942.5L1377.6 942.4L1378.0 942.2L1378.5 942.2L1378.9 942.1L1379.4 941.9L1379.8 942.0L1380.3 942.0L1380.7 942.5L1381.2 942.5L1381.6 942.9L1382.1 943.5L1382.5 943.6L1383.0 943.7L1383.4 943.9L1383.9 943.8L1384.3 943.4L1384.8 943.2L1385.2 943.3L1385.7 943.0L1386.1 942.8L1386.6 942.5L1387.0 942.6L1387.5 942.5L1387.9 942.2L1388.4 942.1L1388.8 942.5L1389.3 942.3L1389.7 942.4L1390.2 942.4L1390.6 942.9L1391.1 942.6L1391.5 943.0L1392.0 943.2L1392.4 943.4L1392.9 943.5L1393.3 942.9L1393.8 942.1L1394.2 941.1L1394.7 940.5L1395.1 940.8L1395.6 940.6L1396.0 942.0L1396.5 942.3L1396.9 942.3L1397.4 941.8L1397.8 942.3L1398.3 942.3L1398.3 944.2Z" fill="#a66cc6"/><path d="M1278.5 944.2h128.2" stroke="#333" stroke-width="1"/><path d="M1418.6 944.2L1418.6 941.9L1419.1 940.3L1419.5 932.1L1420.0 930.9L1420.4 939.4L1420.9 942.4L1421.3 942.0L1421.8 942.6L1422.2 942.4L1422.7 942.0L1423.1 942.8L1423.6 941.9L1424.0 942.2L1424.5 942.0L1424.9 942.0L1425.4 942.5L1425.8 941.6L1426.3 941.9L1426.7 942.2L1427.2 942.5L1427.6 942.3L1428.1 942.5L1428.5 942.2L1429.0 942.4L1429.4 942.6L1429.9 942.6L1430.3 942.6L1430.8 942.4L1431.2 942.7L1431.7 942.4L1432.1 942.7L1432.6 942.7L1433.0 942.1L1433.5 942.4L1433.9 942.0L1434.4 942.7L1434.8 942.2L1435.3 942.7L1435.7 942.6L1436.2 942.9L1436.6 943.2L1437.1 942.0L1437.5 943.0L1438.0 943.4L1438.4 942.6L1438.9 943.3L1439.3 943.1L1439.8 942.9L1440.2 942.8L1440.7 942.4L1441.1 942.4L1441.6 942.3L1442.0 941.6L1442.5 942.1L1442.9 941.3L1443.4 941.6L1443.8 941.4L1444.3 942.0L1444.7 942.1L1445.2 941.8L1445.6 941.2L1446.1 942.4L1446.5 941.6L1447.0 941.4L1447.4 941.8L1447.9 942.4L1448.4 941.2L1448.8 942.2L1449.3 941.5L1449.7 942.2L1450.2 942.8L1450.6 942.3L1451.1 942.7L1451.5 942.8L1452.0 942.1L1452.4 942.2L1452.9 942.6L1453.3 942.5L1453.8 942.4L1454.2 942.6L1454.7 942.1L1455.1 942.3L1455.6 941.6L1456.0 941.8L1456.5 941.6L1456.9 942.7L1457.4 942.1L1457.8 942.5L1458.3 942.3L1458.7 942.6L1459.2 941.5L1459.6 942.0L1460.1 941.9L1460.5 941.5L1461.0 941.5L1461.4 941.4L1461.9 942.5L1462.3 942.4L1462.8 941.9L1463.2 941.7L1463.7 941.2L1464.1 942.1L1464.6 942.4L1465.0 942.3L1465.5 942.4L1465.9 941.6L1466.4 941.9L1466.8 942.3L1467.3 941.6L1467.7 942.1L1468.2 942.4L1468.6 942.5L1469.1 941.6L1469.5 941.5L1470.0 941.6L1470.4 941.3L1470.9 941.2L1471.3 942.5L1471.8 942.3L1472.2 941.8L1472.7 941.8L1473.1 942.1L1473.6 942.3L1474.0 942.4L1474.5 941.5L1474.9 942.3L1475.4 942.5L1475.8 942.2L1476.3 942.3L1476.7 942.2L1477.2 942.3L1477.7 942.9L1478.1 942.9L1478.6 942.6L1479.0 942.2L1479.5 942.8L1479.9 941.9L1480.4 942.9L1480.8 942.7L1481.3 942.5L1481.7 942.7L1482.2 942.8L1482.6 942.5L1483.1 942.9L1483.5 942.1L1484.0 942.2L1484.4 942.7L1484.9 941.9L1485.3 942.3L1485.8 942.1L1486.2 941.6L1486.7 942.1L1487.1 942.6L1487.6 942.3L1488.0 942.5L1488.5 941.6L1488.9 942.4L1489.4 942.6L1489.8 942.1L1490.3 942.2L1490.7 941.6L1491.2 942.6L1491.6 942.4L1492.1 942.2L1492.5 942.5L1493.0 942.0L1493.4 941.6L1493.9 941.6L1494.3 942.1L1494.8 942.9L1495.2 942.1L1495.7 942.7L1496.1 933.7L1496.6 887.2L1497.0 919.7L1497.5 941.8L1497.9 942.6L1498.4 942.8L1498.8 941.8L1499.3 942.3L1499.7 942.3L1500.2 941.9L1500.6 941.7L1501.1 941.8L1501.5 942.6L1502.0 941.5L1502.4 941.7L1502.9 941.5L1503.3 941.8L1503.8 941.8L1504.2 942.4L1504.7 942.4L1505.1 941.6L1505.6 942.5L1506.0 941.7L1506.5 942.6L1507.0 942.3L1507.4 941.7L1507.9 942.1L1508.3 942.3L1508.8 943.1L1509.2 942.6L1509.7 943.0L1510.1 942.4L1510.6 941.9L1511.0 942.9L1511.5 942.0L1511.9 942.0L1512.4 942.9L1512.8 941.9L1513.3 942.0L1513.7 942.7L1514.2 942.6L1514.6 941.8L1515.1 941.4L1515.5 942.1L1516.0 941.4L1516.4 941.6L1516.9 942.3L1517.3 941.6L1517.8 942.2L1518.2 942.5L1518.7 942.2L1519.1 942.9L1519.6 941.9L1520.0 943.1L1520.5 941.9L1520.9 941.9L1521.4 942.0L1521.8 942.4L1522.3 941.9L1522.7 943.2L1523.2 942.8L1523.6 942.7L1524.1 943.1L1524.5 942.4L1525.0 942.3L1525.4 942.8L1525.9 943.3L1526.3 942.9L1526.8 942.2L1527.2 941.9L1527.7 942.6L1528.1 943.0L1528.6 941.8L1529.0 941.9L1529.5 942.6L1529.9 941.9L1530.4 942.1L1530.8 941.2L1531.3 941.8L1531.7 941.3L1532.2 942.1L1532.6 942.3L1533.1 942.1L1533.5 942.8L1534.0 942.5L1534.4 942.7L1534.9 943.0L1535.3 942.1L1535.8 942.5L1535.8 944.2Z" fill="#a66cc6"/><path d="M1416 944.2h128.2" stroke="#333" stroke-width="1"/><path d="M1553.8 944.2L1553.8 943.4L1554.3 943.4L1554.7 943.6L1555.2 943.3L1555.6 943.6L1556.1 943.5L1556.5 943.1L1557.0 943.6L1557.4 943.6L1557.9 943.4L1558.3 943.4L1558.8 943.2L1559.2 943.8L1559.7 943.7L1560.1 943.8L1560.6 943.9L1561.0 943.7L1561.5 943.4L1561.9 943.4L1562.4 944.0L1562.8 943.6L1563.3 944.0L1563.7 943.8L1564.2 944.1L1564.6 944.0L1565.1 943.5L1565.5 943.6L1566.0 943.8L1566.4 943.4L1566.9 944.1L1567.3 943.9L1567.8 943.6L1568.2 944.0L1568.7 943.8L1569.1 943.8L1569.6 944.0L1570.0 943.9L1570.5 943.9L1570.9 943.7L1571.4 943.9L1571.8 943.7L1572.3 943.9L1572.7 943.6L1573.2 943.5L1573.6 943.7L1574.1 943.5L1574.5 943.8L1575.0 944.0L1575.4 943.3L1575.9 943.8L1576.3 943.9L1576.8 943.3L1577.2 943.8L1577.7 943.5L1578.1 943.5L1578.6 943.8L1579.0 943.5L1579.5 943.8L1579.9 943.4L1580.4 943.3L1580.8 943.7L1581.3 943.6L1581.7 943.8L1582.2 943.6L1582.6 943.3L1583.1 943.9L1583.6 943.6L1584.0 942.1L1584.5 931.5L1584.9 929.3L1585.4 939.8L1585.8 943.7L1586.3 943.7L1586.7 944.0L1587.2 944.0L1587.6 943.8L1588.1 943.5L1588.5 943.4L1589.0 943.8L1589.4 943.9L1589.9 943.7L1590.3 943.8L1590.8 943.2L1591.2 943.1L1591.7 943.6L1592.1 942.9L1592.6 943.2L1593.0 943.2L1593.5 943.1L1593.9 943.1L1594.4 943.6L1594.8 943.5L1595.3 943.5L1595.7 943.5L1596.2 943.5L1596.6 943.9L1597.1 944.0L1597.5 943.6L1598.0 943.8L1598.4 943.4L1598.9 943.3L1599.3 943.2L1599.8 943.1L1600.2 943.1L1600.7 943.0L1601.1 943.5L1601.6 942.8L1602.0 942.8L1602.5 943.3L1602.9 943.3L1603.4 942.7L1603.8 943.4L1604.3 943.5L1604.7 943.4L1605.2 943.5L1605.6 943.6L1606.1 943.8L1606.5 943.7L1607.0 943.4L1607.4 944.1L1607.9 943.5L1608.3 942.1L1608.8 941.0L1609.2 942.3L1609.7 943.1L1610.1 943.7L1610.6 943.8L1611.0 943.2L1611.5 943.1L1611.9 943.0L1612.4 943.8L1612.9 943.8L1613.3 943.5L1613.8 943.4L1614.2 943.6L1614.7 942.9L1615.1 943.2L1615.6 942.7L1616.0 943.4L1616.5 943.0L1616.9 943.3L1617.4 942.6L1617.8 942.7L1618.3 943.4L1618.7 943.3L1619.2 942.9L1619.6 943.3L1620.1 943.5L1620.5 943.5L1621.0 943.7L1621.4 943.4L1621.9 944.1L1622.3 943.7L1622.8 943.4L1623.2 944.1L1623.7 943.8L1624.1 943.6L1624.6 943.4L1625.0 943.1L1625.5 943.3L1625.9 943.6L1626.4 942.8L1626.8 943.4L1627.3 942.9L1627.7 943.5L1628.2 943.5L1628.6 943.2L1629.1 943.4L1629.5 943.2L1630.0 943.9L1630.4 943.9L1630.9 944.0L1631.3 943.7L1631.8 944.0L1632.2 944.0L1632.7 943.7L1633.1 943.5L1633.6 943.4L1634.0 943.7L1634.5 943.7L1634.9 943.8L1635.4 943.4L1635.8 943.7L1636.3 943.4L1636.7 943.9L1637.2 943.8L1637.6 943.5L1638.1 944.0L1638.5 943.3L1639.0 943.3L1639.4 943.6L1639.9 943.9L1640.3 943.7L1640.8 943.7L1641.2 943.7L1641.7 943.7L1642.2 943.9L1642.6 944.0L1643.1 944.0L1643.5 943.9L1644.0 943.8L1644.4 943.6L1644.9 943.9L1645.3 943.8L1645.8 943.5L1646.2 943.5L1646.7 943.7L1647.1 943.4L1647.6 943.5L1648.0 943.8L1648.5 943.2L1648.9 943.4L1649.4 943.7L1649.8 943.4L1650.3 943.8L1650.7 943.6L1651.2 943.1L1651.6 943.5L1652.1 943.4L1652.5 943.8L1653.0 943.4L1653.4 943.1L1653.9 943.0L1654.3 943.4L1654.8 942.9L1655.2 942.9L1655.7 943.6L1656.1 943.0L1656.6 943.5L1657.0 943.2L1657.5 943.4L1657.9 943.6L1658.4 943.7L1658.8 943.1L1659.3 943.3L1659.7 943.7L1660.2 943.4L1660.6 943.5L1661.1 943.8L1661.5 943.4L1662.0 943.4L1662.4 943.8L1662.9 943.3L1663.3 943.6L1663.8 943.3L1664.2 942.0L1664.7 941.3L1665.1 941.0L1665.6 941.5L1666.0 942.5L1666.5 942.8L1666.9 943.6L1667.4 942.9L1667.8 943.0L1668.3 943.4L1668.7 942.9L1669.2 943.3L1669.6 943.1L1670.1 942.8L1670.5 943.5L1671.0 943.5L1671.0 944.2Z" fill="#a66cc6"/><path d="M1551.2 944.2h128.2" stroke="#333" stroke-width="1"/><path d="M1690.6 944.2L1690.6 943.0L1691.1 942.7L1691.5 941.6L1692.0 940.7L1692.4 939.9L1692.9 938.5L1693.3 939.7L1693.8 940.6L1694.2 942.0L1694.7 942.1L1695.1 942.1L1695.6 942.4L1696.0 942.0L1696.5 942.7L1696.9 942.0L1697.4 942.1L1697.8 941.8L1698.3 942.2L1698.7 942.4L1699.2 942.3L1699.6 941.9L1700.1 942.4L1700.5 941.5L1701.0 941.9L1701.4 941.6L1701.9 942.4L1702.3 942.3L1702.8 942.1L1703.2 941.9L1703.7 943.1L1704.1 942.2L1704.6 942.2L1705.0 942.9L1705.5 942.9L1705.9 943.2L1706.4 942.5L1706.8 942.8L1707.3 942.9L1707.7 943.1L1708.2 942.4L1708.6 943.3L1709.1 942.3L1709.5 943.2L1710.0 942.9L1710.4 943.1L1710.9 943.3L1711.3 943.3L1711.8 943.3L1712.2 943.4L1712.7 943.1L1713.1 943.0L1713.6 942.7L1714.0 942.3L1714.5 942.8L1714.9 942.4L1715.4 942.9L1715.8 942.4L1716.3 943.1L1716.7 942.9L1717.2 943.1L1717.6 943.0L1718.1 942.8L1718.5 942.2L1719.0 942.5L1719.4 942.9L1719.9 943.1L1720.4 942.5L1720.8 942.6L1721.3 942.2L1721.7 942.3L1722.2 943.3L1722.6 942.3L1723.1 943.3L1723.5 943.0L1724.0 943.0L1724.4 943.1L1724.9 942.9L1725.3 943.1L1725.8 942.7L1726.2 942.8L1726.7 942.4L1727.1 941.7L1727.6 942.6L1728.0 942.4L1728.5 942.2L1728.9 942.1L1729.4 941.1L1729.8 941.3L1730.3 941.7L1730.7 941.2L1731.2 942.4L1731.6 942.5L1732.1 942.5L1732.5 941.9L1733.0 942.0L1733.4 942.6L1733.9 942.1L1734.3 942.7L1734.8 942.5L1735.2 942.3L1735.7 942.3L1736.1 942.5L1736.6 942.8L1737.0 943.0L1737.5 942.8L1737.9 942.1L1738.4 942.1L1738.8 942.3L1739.3 942.4L1739.7 943.2L1740.2 942.0L1740.6 939.6L1741.1 939.1L1741.5 940.7L1742.0 942.3L1742.4 942.7L1742.9 942.6L1743.3 942.8L1743.8 942.9L1744.2 942.2L1744.7 942.9L1745.1 942.6L1745.6 942.2L1746.0 942.9L1746.5 943.1L1746.9 943.2L1747.4 943.1L1747.8 942.9L1748.3 942.6L1748.7 943.1L1749.2 942.1L1749.7 942.4L1750.1 941.3L1750.6 935.7L1751.0 934.9L1751.5 940.6L1751.9 942.0L1752.4 942.2L1752.8 942.3L1753.3 943.0L1753.7 942.2L1754.2 943.3L1754.6 943.2L1755.1 942.7L1755.5 943.3L1756.0 943.2L1756.4 941.6L1756.9 939.3L1757.3 935.9L1757.8 937.0L1758.2 941.0L1758.7 940.7L1759.1 940.6L1759.6 940.0L1760.0 939.5L1760.5 940.9L1760.9 940.8L1761.4 942.6L1761.8 942.9L1762.3 943.0L1762.7 942.0L1763.2 942.8L1763.6 942.9L1764.1 942.7L1764.5 943.1L1765.0 942.4L1765.4 942.6L1765.9 942.1L1766.3 942.1L1766.8 942.6L1767.2 942.4L1767.7 942.0L1768.1 942.7L1768.6 942.1L1769.0 942.5L1769.5 943.0L1769.9 942.8L1770.4 942.0L1770.8 941.6L1771.3 942.6L1771.7 942.3L1772.2 941.5L1772.6 941.3L1773.1 942.0L1773.5 941.7L1774.0 941.5L1774.4 941.6L1774.9 941.9L1775.3 941.8L1775.8 941.5L1776.2 941.7L1776.7 942.5L1777.1 941.8L1777.6 942.7L1778.0 942.8L1778.5 942.6L1779.0 942.2L1779.4 943.1L1779.9 942.1L1780.3 942.3L1780.8 942.7L1781.2 942.8L1781.7 942.4L1782.1 942.4L1782.6 942.7L1783.0 943.3L1783.5 942.9L1783.9 943.0L1784.4 942.8L1784.8 942.3L1785.3 943.2L1785.7 942.3L1786.2 942.9L1786.6 942.5L1787.1 942.6L1787.5 942.5L1788.0 942.5L1788.4 943.1L1788.9 942.6L1789.3 942.9L1789.8 942.1L1790.2 943.0L1790.7 943.0L1791.1 942.8L1791.6 942.9L1792.0 942.7L1792.5 942.3L1792.9 942.0L1793.4 942.2L1793.8 942.7L1794.3 942.6L1794.7 942.8L1795.2 942.1L1795.6 942.6L1796.1 942.3L1796.5 942.6L1797.0 942.0L1797.4 942.5L1797.9 942.8L1798.3 942.1L1798.8 942.5L1799.2 942.3L1799.7 941.9L1800.1 942.9L1800.6 942.6L1801.0 942.6L1801.5 942.6L1801.9 942.9L1802.4 942.5L1802.8 942.1L1803.3 941.8L1803.7 941.9L1804.2 941.8L1804.6 942.5L1805.1 942.6L1805.5 941.8L1806.0 941.3L1806.4 942.3L1806.9 941.8L1807.3 941.8L1807.8 941.3L1807.8 944.2Z" fill="#a66cc6"/><path d="M1688 944.2h128.2" stroke="#333" stroke-width="1"/><path d="M1827.4 944.2L1827.4 939.0L1827.9 930.3L1828.3 911.3L1828.8 908.1L1829.2 926.0L1829.7 937.8L1830.1 940.6L1830.6 939.5L1831.0 940.6L1831.5 938.3L1831.9 935.3L1832.4 926.1L1832.8 915.7L1833.3 906.9L1833.7 916.2L1834.2 923.6L1834.6 923.9L1835.1 905.8L1835.5 881.4L1836.0 891.5L1836.4 910.2L1836.9 921.0L1837.3 919.6L1837.8 922.7L1838.2 926.2L1838.7 929.3L1839.1 933.4L1839.6 935.8L1840.0 937.0L1840.5 936.6L1840.9 935.8L1841.4 936.2L1841.8 936.3L1842.3 936.0L1842.7 937.4L1843.2 937.1L1843.6 938.0L1844.1 939.3L1844.5 939.7L1845.0 939.4L1845.4 939.7L1845.9 940.4L1846.3 942.0L1846.8 941.8L1847.2 941.9L1847.7 941.6L1848.1 942.2L1848.6 941.4L1849.0 941.8L1849.5 941.8L1849.9 941.3L1850.4 941.8L1850.8 941.8L1851.3 942.4L1851.7 942.4L1852.2 941.3L1852.6 941.9L1853.1 942.1L1853.5 942.5L1854.0 942.6L1854.4 942.4L1854.9 942.4L1855.3 942.3L1855.8 943.0L1856.2 943.0L1856.7 942.8L1857.2 943.2L1857.6 942.5L1858.1 942.2L1858.5 942.1L1859.0 942.5L1859.4 943.0L1859.9 942.2L1860.3 942.6L1860.8 942.3L1861.2 943.2L1861.7 943.3L1862.1 943.2L1862.6 943.3L1863.0 942.5L1863.5 942.4L1863.9 941.8L1864.4 942.0L1864.8 942.1L1865.3 942.6L1865.7 941.4L1866.2 941.9L1866.6 942.5L1867.1 941.7L1867.5 941.3L1868.0 942.4L1868.4 941.6L1868.9 941.7L1869.3 942.4L1869.8 942.0L1870.2 941.9L1870.7 940.5L1871.1 938.5L1871.6 936.8L1872.0 935.2L1872.5 937.0L1872.9 940.2L1873.4 941.5L1873.8 942.4L1874.3 942.3L1874.7 942.7L1875.2 942.3L1875.6 942.8L1876.1 943.2L1876.5 942.4L1877.0 943.0L1877.4 942.7L1877.9 942.0L1878.3 942.2L1878.8 942.0L1879.2 940.7L1879.7 939.9L1880.1 938.3L1880.6 938.0L1881.0 936.7L1881.5 934.6L1881.9 918.5L1882.4 884.0L1882.8 905.3L1883.3 936.7L1883.7 941.5L1884.2 942.2L1884.6 941.7L1885.1 940.8L1885.5 938.2L1886.0 934.9L1886.5 938.2L1886.9 941.3L1887.4 942.4L1887.8 941.9L1888.3 942.6L1888.7 942.2L1889.2 942.3L1889.6 942.2L1890.1 941.7L1890.5 942.5L1891.0 942.6L1891.4 942.5L1891.9 942.3L1892.3 942.4L1892.8 942.6L1893.2 942.6L1893.7 942.2L1894.1 942.5L1894.6 942.2L1895.0 942.8L1895.5 942.6L1895.9 942.8L1896.4 942.0L1896.8 942.7L1897.3 942.6L1897.7 942.7L1898.2 942.0L1898.6 942.3L1899.1 941.7L1899.5 942.0L1900.0 941.7L1900.4 941.8L1900.9 941.2L1901.3 942.1L1901.8 941.3L1902.2 942.2L1902.7 941.8L1903.1 941.6L1903.6 942.5L1904.0 942.1L1904.5 942.0L1904.9 942.3L1905.4 941.5L1905.8 942.4L1906.3 942.0L1906.7 942.4L1907.2 941.7L1907.6 941.6L1908.1 940.1L1908.5 936.9L1909.0 935.3L1909.4 938.0L1909.9 940.9L1910.3 940.4L1910.8 941.0L1911.2 940.5L1911.7 939.5L1912.1 940.7L1912.6 940.5L1913.0 940.3L1913.5 940.8L1913.9 941.8L1914.4 941.6L1914.8 941.3L1915.3 942.0L1915.8 942.3L1916.2 942.5L1916.7 942.0L1917.1 943.0L1917.6 942.1L1918.0 942.8L1918.5 942.6L1918.9 942.2L1919.4 942.3L1919.8 942.3L1920.3 943.1L1920.7 943.2L1921.2 942.2L1921.6 942.6L1922.1 943.0L1922.5 942.8L1923.0 942.9L1923.4 942.3L1923.9 942.4L1924.3 942.8L1924.8 942.4L1925.2 942.3L1925.7 943.0L1926.1 943.1L1926.6 942.6L1927.0 943.1L1927.5 942.1L1927.9 942.6L1928.4 942.4L1928.8 941.7L1929.3 942.5L1929.7 942.6L1930.2 941.6L1930.6 942.8L1931.1 941.6L1931.5 942.1L1932.0 942.9L1932.4 942.0L1932.9 942.7L1933.3 942.6L1933.8 941.9L1934.2 943.1L1934.7 942.7L1935.1 941.9L1935.6 942.5L1936.0 942.3L1936.5 942.9L1936.9 941.5L1937.4 941.9L1937.8 941.5L1938.3 942.4L1938.7 942.3L1939.2 942.0L1939.6 941.3L1940.1 942.3L1940.5 941.1L1941.0 941.2L1941.4 941.9L1941.9 941.8L1942.3 941.5L1942.8 941.6L1943.2 942.1L1943.7 941.8L1944.1 942.2L1944.6 941.0L1944.6 944.2Z" fill="#a66cc6"/><path d="M1824.8 944.2h128.2" stroke="#333" stroke-width="1"/><path d="M1138.3 954.4V1010.8" stroke="#111" stroke-width="1.1"/><path d="M1138.3 1010.8h130" stroke="#111" stroke-width="1.1"/><text x="1203.6" y="983.6" font-size="16" text-anchor="middle" fill="#111" font-weight="normal" font-style="italic" >AQP4</text><text x="1203.6" y="1028.9" font-size="17" text-anchor="middle" fill="#111" font-weight="normal" font-style="normal" >chr18</text><rect x="1144.3" y="996.3" width="112.1" height="3.6" fill="#156a15"/><rect x="1145.3" y="989.4" width="35" height="17.5" fill="#156a15"/><rect x="1214.6" y="989.4" width="1" height="17.5" fill="#156a15"/><rect x="1218.2" y="989.4" width="1" height="17.5" fill="#156a15"/><rect x="1225.9" y="989.4" width="5.8" height="17.5" fill="#156a15"/><rect x="1233.1" y="989.4" width="1.9" height="17.5" fill="#156a15"/><rect x="1254.8" y="989.4" width="1.2" height="17.5" fill="#156a15"/><path d="M1276.3 1010.8h130" stroke="#111" stroke-width="1.1"/><text x="1340.7" y="983.6" font-size="16" text-anchor="middle" fill="#111" font-weight="normal" font-style="italic" >SLC17A7</text><text x="1340.7" y="1028.9" font-size="17" text-anchor="middle" fill="#111" font-weight="normal" font-style="normal" >chr19</text><rect x="1282.3" y="995.9" width="114.5" height="4.4" fill="#156a15"/><rect x="1283.5" y="989.4" width="11.3" height="17.5" fill="#156a15"/><rect x="1316.4" y="989.4" width="4.8" height="17.5" fill="#156a15"/><rect x="1334.4" y="989.4" width="6.7" height="17.5" fill="#156a15"/><rect x="1345.9" y="989.4" width="14.4" height="17.5" fill="#156a15"/><rect x="1310.4" y="989.4" width="3.6" height="17.5" fill="#156a15"/><rect x="1296.6" y="989.4" width="1.2" height="17.5" fill="#156a15"/><rect x="1300.2" y="989.4" width="1.2" height="17.5" fill="#156a15"/><rect x="1306.2" y="989.4" width="1.2" height="17.5" fill="#156a15"/><rect x="1323" y="989.4" width="1.2" height="17.5" fill="#156a15"/><rect x="1329" y="989.4" width="1.2" height="17.5" fill="#156a15"/><rect x="1387.3" y="989.4" width="1.2" height="17.5" fill="#156a15"/><rect x="1394.5" y="989.4" width="1.2" height="17.5" fill="#156a15"/><path d="M1414.3 1010.8h130" stroke="#111" stroke-width="1.1"/><text x="1479.9" y="983.6" font-size="16" text-anchor="middle" fill="#111" font-weight="normal" font-style="italic" >GAD2</text><text x="1479.9" y="1028.9" font-size="17" text-anchor="middle" fill="#111" font-weight="normal" font-style="normal" >chr10</text><rect x="1420.3" y="996.2" width="119.3" height="3.8" fill="#12128a"/><rect x="1534.3" y="989.4" width="4.6" height="17.5" fill="#12128a"/><rect x="1432.4" y="989.4" width="0.8" height="17.5" fill="#8d8dd0"/><rect x="1438.9" y="989.4" width="0.8" height="17.5" fill="#8d8dd0"/><rect x="1461.2" y="989.4" width="0.8" height="17.5" fill="#8d8dd0"/><rect x="1492.4" y="989.4" width="0.8" height="17.5" fill="#8d8dd0"/><rect x="1498.4" y="989.4" width="0.8" height="17.5" fill="#8d8dd0"/><rect x="1509.2" y="989.4" width="0.8" height="17.5" fill="#8d8dd0"/><rect x="1515.2" y="989.4" width="0.8" height="17.5" fill="#8d8dd0"/><rect x="1523.1" y="989.4" width="0.8" height="17.5" fill="#8d8dd0"/><rect x="1422.3" y="989.4" width="0.8" height="17.5" fill="#12128a"/><rect x="1424.7" y="989.4" width="0.8" height="17.5" fill="#12128a"/><path d="M1552.3 1010.8h130" stroke="#111" stroke-width="1.1"/><text x="1616.8" y="983.6" font-size="16" text-anchor="middle" fill="#111" font-weight="normal" font-style="italic" >CSF1R</text><text x="1616.8" y="1028.9" font-size="17" text-anchor="middle" fill="#111" font-weight="normal" font-style="normal" >chr5</text><rect x="1557.2" y="995.9" width="119.3" height="4.4" fill="#156a15"/><rect x="1557.9" y="989.4" width="3.4" height="17.5" fill="#156a15"/><rect x="1564" y="989.4" width="0.8" height="17.5" fill="#156a15"/><rect x="1566.4" y="989.4" width="0.8" height="17.5" fill="#156a15"/><rect x="1570" y="989.4" width="0.8" height="17.5" fill="#156a15"/><rect x="1573.6" y="989.4" width="0.8" height="17.5" fill="#156a15"/><rect x="1584.4" y="989.4" width="0.8" height="17.5" fill="#156a15"/><rect x="1589.2" y="989.4" width="0.8" height="17.5" fill="#156a15"/><rect x="1591.6" y="989.4" width="0.8" height="17.5" fill="#156a15"/><rect x="1596.9" y="989.4" width="0.8" height="17.5" fill="#156a15"/><rect x="1603.6" y="989.4" width="0.8" height="17.5" fill="#156a15"/><rect x="1607.2" y="989.4" width="0.8" height="17.5" fill="#156a15"/><rect x="1610.8" y="989.4" width="0.8" height="17.5" fill="#156a15"/><rect x="1622.8" y="989.4" width="0.8" height="17.5" fill="#7fb87f"/><rect x="1675.1" y="989.4" width="0.8" height="17.5" fill="#7fb87f"/><path d="M1690.3 1010.8h130" stroke="#111" stroke-width="1.1"/><text x="1754.8" y="983.6" font-size="16" text-anchor="middle" fill="#111" font-weight="normal" font-style="italic" >MOBP</text><text x="1754.8" y="1028.9" font-size="17" text-anchor="middle" fill="#111" font-weight="normal" font-style="normal" >chr3</text><rect x="1695.2" y="996" width="119.5" height="4.2" fill="#12128a"/><rect x="1788.3" y="994.9" width="16.1" height="6.5" fill="#12128a"/><rect x="1784" y="989.4" width="4.3" height="17.5" fill="#12128a"/><rect x="1804.4" y="989.4" width="9.8" height="17.5" fill="#12128a"/><rect x="1697.3" y="989.4" width="1" height="17.5" fill="#12128a"/><rect x="1757.1" y="989.4" width="0.9" height="17.5" fill="#12128a"/><rect x="1762.6" y="989.4" width="1.9" height="17.5" fill="#12128a"/><rect x="1720.7" y="989.4" width="0.8" height="17.5" fill="#8d8dd0"/><path d="M1828.3 1010.8h130" stroke="#111" stroke-width="1.1"/><text x="1893.2" y="983.6" font-size="16" text-anchor="middle" fill="#111" font-weight="normal" font-style="italic" >PDGFRA</text><text x="1893.2" y="1028.9" font-size="17" text-anchor="middle" fill="#111" font-weight="normal" font-style="normal" >chr4</text><rect x="1832.7" y="996" width="119.3" height="4.2" fill="#12128a"/><rect x="1946.7" y="989.4" width="5.3" height="17.5" fill="#12128a"/><rect x="1894.2" y="989.4" width="1.9" height="17.5" fill="#12128a"/><rect x="1835.2" y="989.4" width="0.8" height="17.5" fill="#12128a"/><rect x="1837.1" y="989.4" width="0.8" height="17.5" fill="#12128a"/><rect x="1853.2" y="989.4" width="0.8" height="17.5" fill="#8d8dd0"/><rect x="1859.2" y="989.4" width="0.8" height="17.5" fill="#8d8dd0"/><rect x="1889.2" y="989.4" width="0.8" height="17.5" fill="#8d8dd0"/><rect x="1901.2" y="989.4" width="0.8" height="17.5" fill="#3c3ca8"/><rect x="1904.8" y="989.4" width="0.8" height="17.5" fill="#3c3ca8"/><rect x="1908.4" y="989.4" width="0.8" height="17.5" fill="#3c3ca8"/><rect x="1912" y="989.4" width="0.8" height="17.5" fill="#3c3ca8"/><rect x="1915.6" y="989.4" width="0.8" height="17.5" fill="#3c3ca8"/><rect x="1918" y="989.4" width="0.8" height="17.5" fill="#3c3ca8"/><rect x="1920.9" y="989.4" width="0.8" height="17.5" fill="#3c3ca8"/><rect x="1922.8" y="989.4" width="0.8" height="17.5" fill="#3c3ca8"/><rect x="1927.6" y="989.4" width="0.8" height="17.5" fill="#3c3ca8"/><rect x="1931.2" y="989.4" width="0.8" height="17.5" fill="#3c3ca8"/><rect x="1934.8" y="989.4" width="0.8" height="17.5" fill="#3c3ca8"/><rect x="1938.4" y="989.4" width="0.8" height="17.5" fill="#3c3ca8"/>
<text x="1042.4" y="1127.2" font-size="33.5" text-anchor="start" fill="#000" font-weight="bold" font-style="normal" >E</text><rect x="1136.3" y="1118" width="731.2" height="397" fill="#fff" stroke="#333" stroke-width="1.3"/><rect x="1139.9" y="1126" width="32.0" height="37.3" fill="#ee6c1c"/><rect x="1139.9" y="1163" width="32.0" height="101.1" fill="#35a85a"/><rect x="1139.9" y="1263.8" width="32.0" height="79.5" fill="#24787f"/><rect x="1139.9" y="1343" width="32.0" height="31.5" fill="#e2352a"/><rect x="1139.9" y="1374.2" width="32.0" height="96.3" fill="#1fa3cb"/><rect x="1139.9" y="1470.2" width="32.0" height="19.6" fill="#a66cc6"/><rect x="1139.9" y="1487" width="32.0" height="2.5" fill="#ea6fb0"/><path d="M1155.9 1515v4" stroke="#333" stroke-width="1.2"/><text transform="translate(1156.2 1521.9) rotate(-90)" y="4.9" font-size="13.6" text-anchor="end" fill="#c2302e" font-style="normal">BEB19074_NIH10</text><rect x="1174.4" y="1126" width="32.0" height="25.3" fill="#ee6c1c"/><rect x="1174.4" y="1151" width="32.0" height="51.2" fill="#35a85a"/><rect x="1174.4" y="1201.8" width="32.0" height="45.4" fill="#24787f"/><rect x="1174.4" y="1247" width="32.0" height="24.8" fill="#e2352a"/><rect x="1174.4" y="1271.4" width="32.0" height="198.1" fill="#1fa3cb"/><rect x="1174.4" y="1469.2" width="32.0" height="20.6" fill="#a66cc6"/><rect x="1174.4" y="1150.5" width="32.0" height="1" fill="#f5b90f"/><path d="M1190.4 1515v4" stroke="#333" stroke-width="1.2"/><text transform="translate(1190.7 1521.9) rotate(-90)" y="4.9" font-size="13.6" text-anchor="end" fill="#c2302e" font-style="normal">BEB19080_NIH13</text><rect x="1208.9" y="1126" width="32.0" height="30.5" fill="#ee6c1c"/><rect x="1208.9" y="1156.2" width="32.0" height="73.7" fill="#35a85a"/><rect x="1208.9" y="1229.7" width="32.0" height="46.9" fill="#24787f"/><rect x="1208.9" y="1276.2" width="32.0" height="47.8" fill="#e2352a"/><rect x="1208.9" y="1323.8" width="32.0" height="157.7" fill="#1fa3cb"/><rect x="1208.9" y="1481.2" width="32.0" height="8.6" fill="#a66cc6"/><path d="M1224.9 1515v4" stroke="#333" stroke-width="1.2"/><text transform="translate(1225.2 1521.9) rotate(-90)" y="4.9" font-size="13.6" text-anchor="end" fill="#c2302e" font-style="normal">BEB20005_NIH16</text><rect x="1243.4" y="1126" width="32.0" height="80.5" fill="#ee6c1c"/><rect x="1243.4" y="1206.2" width="32.0" height="48.8" fill="#35a85a"/><rect x="1243.4" y="1254.6" width="32.0" height="45.4" fill="#24787f"/><rect x="1243.4" y="1299.8" width="32.0" height="12.8" fill="#e2352a"/><rect x="1243.4" y="1312.2" width="32.0" height="145.3" fill="#1fa3cb"/><rect x="1243.4" y="1457.2" width="32.0" height="32.6" fill="#a66cc6"/><rect x="1243.4" y="1205.7" width="32.0" height="1" fill="#f5b90f"/><rect x="1243.4" y="1485" width="32.0" height="4.5" fill="#ea6fb0"/><path d="M1259.4 1515v4" stroke="#333" stroke-width="1.2"/><text transform="translate(1259.7 1521.9) rotate(-90)" y="4.9" font-size="13.6" text-anchor="end" fill="#c2302e" font-style="normal">UT2105_UT2105</text><rect x="1277.9" y="1126" width="32.0" height="42.5" fill="#ee6c1c"/><rect x="1277.9" y="1168.2" width="32.0" height="124.6" fill="#35a85a"/><rect x="1277.9" y="1292.6" width="32.0" height="59.8" fill="#24787f"/><rect x="1277.9" y="1352.1" width="32.0" height="25.7" fill="#e2352a"/><rect x="1277.9" y="1377.5" width="32.0" height="74.7" fill="#1fa3cb"/><rect x="1277.9" y="1451.9" width="32.0" height="37.9" fill="#a66cc6"/><path d="M1293.9 1515v4" stroke="#333" stroke-width="1.2"/><text transform="translate(1294.2 1521.9) rotate(-90)" y="4.9" font-size="13.6" text-anchor="end" fill="#2b6c8e" font-style="normal">BEB18077_NIH01</text><rect x="1312.4" y="1126" width="32.0" height="49.7" fill="#ee6c1c"/><rect x="1312.4" y="1175.4" width="32.0" height="150.5" fill="#35a85a"/><rect x="1312.4" y="1325.7" width="32.0" height="72.8" fill="#24787f"/><rect x="1312.4" y="1398.2" width="32.0" height="15.2" fill="#e2352a"/><rect x="1312.4" y="1413" width="32.0" height="50.7" fill="#1fa3cb"/><rect x="1312.4" y="1463.4" width="32.0" height="26.4" fill="#a66cc6"/><path d="M1328.4 1515v4" stroke="#333" stroke-width="1.2"/><text transform="translate(1328.7 1521.9) rotate(-90)" y="4.9" font-size="13.6" text-anchor="end" fill="#2b6c8e" font-style="normal">BEB18110_NIH04</text><rect x="1346.9" y="1126" width="32.0" height="45.9" fill="#ee6c1c"/><rect x="1346.9" y="1171.6" width="32.0" height="140" fill="#35a85a"/><rect x="1346.9" y="1311.3" width="32.0" height="50.7" fill="#24787f"/><rect x="1346.9" y="1361.7" width="32.0" height="6.1" fill="#e2352a"/><rect x="1346.9" y="1367.4" width="32.0" height="99.7" fill="#1fa3cb"/><rect x="1346.9" y="1466.8" width="32.0" height="23" fill="#a66cc6"/><rect x="1346.9" y="1486" width="32.0" height="3.5" fill="#ea6fb0"/><path d="M1362.9 1515v4" stroke="#333" stroke-width="1.2"/><text transform="translate(1363.2 1521.9) rotate(-90)" y="4.9" font-size="13.6" text-anchor="end" fill="#2b6c8e" font-style="normal">HCTZD_NIH28</text><rect x="1381.4" y="1126" width="32.0" height="15.2" fill="#ee6c1c"/><rect x="1381.4" y="1140.9" width="32.0" height="165.9" fill="#35a85a"/><rect x="1381.4" y="1306.5" width="32.0" height="27.2" fill="#24787f"/><rect x="1381.4" y="1333.4" width="32.0" height="8" fill="#e2352a"/><rect x="1381.4" y="1341" width="32.0" height="134.7" fill="#1fa3cb"/><rect x="1381.4" y="1475.4" width="32.0" height="14.4" fill="#a66cc6"/><path d="M1397.4 1515v4" stroke="#333" stroke-width="1.2"/><text transform="translate(1397.7 1521.9) rotate(-90)" y="4.9" font-size="13.6" text-anchor="end" fill="#2b6c8e" font-style="normal">UT04_UT04</text><rect x="1415.9" y="1126" width="32.0" height="51.7" fill="#ee6c1c"/><rect x="1415.9" y="1177.4" width="32.0" height="135.2" fill="#35a85a"/><rect x="1415.9" y="1312.2" width="32.0" height="85.3" fill="#24787f"/><rect x="1415.9" y="1397.2" width="32.0" height="18.1" fill="#e2352a"/><rect x="1415.9" y="1415" width="32.0" height="56" fill="#1fa3cb"/><rect x="1415.9" y="1470.6" width="32.0" height="19.2" fill="#a66cc6"/><path d="M1431.9 1515v4" stroke="#333" stroke-width="1.2"/><text transform="translate(1432.2 1521.9) rotate(-90)" y="4.9" font-size="13.6" text-anchor="end" fill="#2b6c8e" font-style="normal">UT09_UT09</text><rect x="1450.4" y="1126" width="32.0" height="28.6" fill="#ee6c1c"/><rect x="1450.4" y="1154.3" width="32.0" height="22.9" fill="#35a85a"/><rect x="1450.4" y="1176.9" width="32.0" height="6.1" fill="#24787f"/><rect x="1450.4" y="1182.6" width="32.0" height="19.5" fill="#e2352a"/><rect x="1450.4" y="1201.8" width="32.0" height="270.1" fill="#1fa3cb"/><rect x="1450.4" y="1471.6" width="32.0" height="18.2" fill="#a66cc6"/><path d="M1466.4 1515v4" stroke="#333" stroke-width="1.2"/><text transform="translate(1466.7 1521.9) rotate(-90)" y="4.9" font-size="13.6" text-anchor="end" fill="#c2302e" font-style="normal">BEB19074_NIH11</text><rect x="1485" y="1126" width="32.0" height="23.3" fill="#ee6c1c"/><rect x="1485" y="1149" width="32.0" height="4.1" fill="#35a85a"/><rect x="1485" y="1152.9" width="32.0" height="1.3" fill="#24787f"/><rect x="1485" y="1153.8" width="32.0" height="43" fill="#e2352a"/><rect x="1485" y="1196.6" width="32.0" height="278.7" fill="#1fa3cb"/><rect x="1485" y="1475" width="32.0" height="14.8" fill="#a66cc6"/><path d="M1501 1515v4" stroke="#333" stroke-width="1.2"/><text transform="translate(1501.2 1521.9) rotate(-90)" y="4.9" font-size="13.6" text-anchor="end" fill="#c2302e" font-style="normal">BEB19080_NIH14</text><rect x="1519.5" y="1126" width="32.0" height="23.3" fill="#ee6c1c"/><rect x="1519.5" y="1149" width="32.0" height="92" fill="#35a85a"/><rect x="1519.5" y="1240.7" width="32.0" height="43.5" fill="#24787f"/><rect x="1519.5" y="1283.9" width="32.0" height="45.4" fill="#e2352a"/><rect x="1519.5" y="1329" width="32.0" height="139.5" fill="#1fa3cb"/><rect x="1519.5" y="1468.2" width="32.0" height="21.6" fill="#a66cc6"/><rect x="1519.5" y="1148.5" width="32.0" height="1" fill="#f5b90f"/><path d="M1535.5 1515v4" stroke="#333" stroke-width="1.2"/><text transform="translate(1535.8 1521.9) rotate(-90)" y="4.9" font-size="13.6" text-anchor="end" fill="#c2302e" font-style="normal">BEB20005_NIH17</text><rect x="1554" y="1126" width="32.0" height="57.9" fill="#ee6c1c"/><rect x="1554" y="1183.6" width="32.0" height="104.9" fill="#35a85a"/><rect x="1554" y="1288.2" width="32.0" height="49.7" fill="#24787f"/><rect x="1554" y="1337.7" width="32.0" height="42.5" fill="#e2352a"/><rect x="1554" y="1379.9" width="32.0" height="67.5" fill="#1fa3cb"/><rect x="1554" y="1447.1" width="32.0" height="42.7" fill="#a66cc6"/><path d="M1570 1515v4" stroke="#333" stroke-width="1.2"/><text transform="translate(1570.3 1521.9) rotate(-90)" y="4.9" font-size="13.6" text-anchor="end" fill="#2b6c8e" font-style="normal">BEB18077_NIH02</text><rect x="1588.5" y="1126" width="32.0" height="70.9" fill="#ee6c1c"/><rect x="1588.5" y="1196.6" width="32.0" height="99.7" fill="#35a85a"/><rect x="1588.5" y="1295.9" width="32.0" height="73.7" fill="#24787f"/><rect x="1588.5" y="1369.4" width="32.0" height="25.3" fill="#e2352a"/><rect x="1588.5" y="1394.3" width="32.0" height="64.6" fill="#1fa3cb"/><rect x="1588.5" y="1458.6" width="32.0" height="31.2" fill="#a66cc6"/><rect x="1588.5" y="1196.1" width="32.0" height="1" fill="#f5b90f"/><path d="M1604.5 1515v4" stroke="#333" stroke-width="1.2"/><text transform="translate(1604.8 1521.9) rotate(-90)" y="4.9" font-size="13.6" text-anchor="end" fill="#2b6c8e" font-style="normal">BEB18110_NIH05</text><rect x="1623" y="1126" width="32.0" height="92.9" fill="#ee6c1c"/><rect x="1623" y="1218.6" width="32.0" height="56.5" fill="#35a85a"/><rect x="1623" y="1274.8" width="32.0" height="66.1" fill="#24787f"/><rect x="1623" y="1340.6" width="32.0" height="8.9" fill="#e2352a"/><rect x="1623" y="1349.2" width="32.0" height="88.6" fill="#1fa3cb"/><rect x="1623" y="1437.5" width="32.0" height="52.3" fill="#a66cc6"/><path d="M1639 1515v4" stroke="#333" stroke-width="1.2"/><text transform="translate(1639.3 1521.9) rotate(-90)" y="4.9" font-size="13.6" text-anchor="end" fill="#2b6c8e" font-style="normal">HCTZD_NIH29</text><rect x="1657.5" y="1126" width="32.0" height="16.1" fill="#ee6c1c"/><rect x="1657.5" y="1141.8" width="32.0" height="18.1" fill="#35a85a"/><rect x="1657.5" y="1159.6" width="32.0" height="10.9" fill="#24787f"/><rect x="1657.5" y="1170.2" width="32.0" height="12.8" fill="#e2352a"/><rect x="1657.5" y="1182.6" width="32.0" height="295" fill="#1fa3cb"/><rect x="1657.5" y="1477.4" width="32.0" height="12.4" fill="#a66cc6"/><path d="M1673.5 1515v4" stroke="#333" stroke-width="1.2"/><text transform="translate(1673.8 1521.9) rotate(-90)" y="4.9" font-size="13.6" text-anchor="end" fill="#c2302e" font-style="normal">BEB19074_NIH12</text><rect x="1692" y="1126" width="32.0" height="72.8" fill="#ee6c1c"/><rect x="1692" y="1198.5" width="32.0" height="34.9" fill="#35a85a"/><rect x="1692" y="1233" width="32.0" height="21.9" fill="#24787f"/><rect x="1692" y="1254.6" width="32.0" height="20.5" fill="#e2352a"/><rect x="1692" y="1274.8" width="32.0" height="186.1" fill="#1fa3cb"/><rect x="1692" y="1460.6" width="32.0" height="29.2" fill="#a66cc6"/><rect x="1692" y="1198" width="32.0" height="1" fill="#f5b90f"/><path d="M1708 1515v4" stroke="#333" stroke-width="1.2"/><text transform="translate(1708.3 1521.9) rotate(-90)" y="4.9" font-size="13.6" text-anchor="end" fill="#c2302e" font-style="normal">BEB19080_NIH15</text><rect x="1726.5" y="1126" width="32.0" height="35.8" fill="#ee6c1c"/><rect x="1726.5" y="1161.5" width="32.0" height="8" fill="#35a85a"/><rect x="1726.5" y="1169.2" width="32.0" height="5.6" fill="#24787f"/><rect x="1726.5" y="1174.5" width="32.0" height="46.4" fill="#e2352a"/><rect x="1726.5" y="1220.6" width="32.0" height="252.8" fill="#1fa3cb"/><rect x="1726.5" y="1473" width="32.0" height="16.8" fill="#a66cc6"/><path d="M1742.5 1515v4" stroke="#333" stroke-width="1.2"/><text transform="translate(1742.8 1521.9) rotate(-90)" y="4.9" font-size="13.6" text-anchor="end" fill="#c2302e" font-style="normal">BEB20005_NIH18</text><rect x="1761" y="1126" width="32.0" height="84.3" fill="#ee6c1c"/><rect x="1761" y="1210" width="32.0" height="4.6" fill="#35a85a"/><rect x="1761" y="1214.3" width="32.0" height="7.5" fill="#24787f"/><rect x="1761" y="1221.5" width="32.0" height="49.7" fill="#e2352a"/><rect x="1761" y="1271" width="32.0" height="181.7" fill="#1fa3cb"/><rect x="1761" y="1452.4" width="32.0" height="37.4" fill="#a66cc6"/><path d="M1777 1515v4" stroke="#333" stroke-width="1.2"/><text transform="translate(1777.3 1521.9) rotate(-90)" y="4.9" font-size="13.6" text-anchor="end" fill="#2b6c8e" font-style="normal">BEB18077_NIH03</text><rect x="1795.5" y="1126" width="32.0" height="83.3" fill="#ee6c1c"/><rect x="1795.5" y="1209" width="32.0" height="11.3" fill="#35a85a"/><rect x="1795.5" y="1220.1" width="32.0" height="13.7" fill="#24787f"/><rect x="1795.5" y="1233.5" width="32.0" height="11.8" fill="#e2352a"/><rect x="1795.5" y="1245" width="32.0" height="227.3" fill="#1fa3cb"/><rect x="1795.5" y="1472.1" width="32.0" height="17.7" fill="#a66cc6"/><path d="M1811.5 1515v4" stroke="#333" stroke-width="1.2"/><text transform="translate(1811.8 1521.9) rotate(-90)" y="4.9" font-size="13.6" text-anchor="end" fill="#2b6c8e" font-style="normal">BEB18110_NIH06</text><rect x="1830" y="1126" width="32.0" height="43.5" fill="#ee6c1c"/><rect x="1830" y="1169.2" width="32.0" height="22.4" fill="#35a85a"/><rect x="1830" y="1191.3" width="32.0" height="6.5" fill="#24787f"/><rect x="1830" y="1197.5" width="32.0" height="3.2" fill="#e2352a"/><rect x="1830" y="1200.4" width="32.0" height="233.6" fill="#1fa3cb"/><rect x="1830" y="1433.7" width="32.0" height="56.1" fill="#a66cc6"/><rect x="1830" y="1168.7" width="32.0" height="1" fill="#f5b90f"/><rect x="1830" y="1486.5" width="32.0" height="3" fill="#ea6fb0"/><path d="M1846 1515v4" stroke="#333" stroke-width="1.2"/><text transform="translate(1846.3 1521.9) rotate(-90)" y="4.9" font-size="13.6" text-anchor="end" fill="#2b6c8e" font-style="normal">HCTZD_NIH30</text><rect x="1140.6" y="1494.5" width="307.6" height="13.5" fill="#c5554f" stroke="#2a2a2a" stroke-width="1.3"/><text x="1294.4" y="1506" font-size="12.5" text-anchor="middle" fill="#f4f4f4" font-weight="normal" font-style="normal" >PFC</text><rect x="1451.6" y="1494.5" width="202.6" height="13.5" fill="#8a57aa" stroke="#2a2a2a" stroke-width="1.3"/><text x="1552.9" y="1506" font-size="12.5" text-anchor="middle" fill="#f4f4f4" font-weight="normal" font-style="normal" >EC</text><rect x="1657.6" y="1494.5" width="204" height="13.5" fill="#8fb0e0" stroke="#2a2a2a" stroke-width="1.3"/><text x="1759.6" y="1506" font-size="12.5" text-anchor="middle" fill="#f4f4f4" font-weight="normal" font-style="normal" >HIP</text><path d="M1136.3 1129.5h-4" stroke="#333" stroke-width="1.2"/><text x="1128.6" y="1134.9" font-size="15.2" text-anchor="end" fill="#111" font-weight="normal" font-style="normal" >1.00</text><path d="M1136.3 1217.1h-4" stroke="#333" stroke-width="1.2"/><text x="1128.6" y="1222.5" font-size="15.2" text-anchor="end" fill="#111" font-weight="normal" font-style="normal" >0.75</text><path d="M1136.3 1306.9h-4" stroke="#333" stroke-width="1.2"/><text x="1128.6" y="1312.3" font-size="15.2" text-anchor="end" fill="#111" font-weight="normal" font-style="normal" >0.50</text><path d="M1136.3 1396.9h-4" stroke="#333" stroke-width="1.2"/><text x="1128.6" y="1402.3" font-size="15.2" text-anchor="end" fill="#111" font-weight="normal" font-style="normal" >0.25</text><path d="M1136.3 1485.9h-4" stroke="#333" stroke-width="1.2"/><text x="1128.6" y="1491.3" font-size="15.2" text-anchor="end" fill="#111" font-weight="normal" font-style="normal" >0.00</text><text transform="translate(1087.6 1311) rotate(-90)" y="5.4" font-size="15.2" text-anchor="middle" fill="#111" font-style="normal">Proportion</text><text x="1543.2" y="1657.5" font-size="15.3" text-anchor="middle" fill="#111" font-weight="normal" font-style="normal" >Sample</text><text x="1876.5" y="1169.8" font-size="15.3" text-anchor="start" fill="#111" font-weight="normal" font-style="normal" >Cell type</text><rect x="1877.3" y="1179.7" width="22.3" height="21.6" fill="#ee6c1c"/><text x="1904.4" y="1194.5" font-size="11.3" text-anchor="start" fill="#111" font-weight="normal" font-style="normal" >Astrocytes</text><rect x="1877.3" y="1204" width="22.3" height="21.6" fill="#f5b90f"/><text x="1904.4" y="1218.8" font-size="11.3" text-anchor="start" fill="#111" font-weight="normal" font-style="normal" >Endothelial cells</text><rect x="1877.3" y="1228.2" width="22.3" height="21.6" fill="#35a85a"/><text x="1904.4" y="1243" font-size="11.3" text-anchor="start" fill="#111" font-weight="normal" font-style="normal" >Excitatory neurons</text><rect x="1877.3" y="1252.5" width="22.3" height="21.6" fill="#24787f"/><text x="1904.4" y="1267.3" font-size="11.3" text-anchor="start" fill="#111" font-weight="normal" font-style="normal" >Inhibitory neurons</text><rect x="1877.3" y="1276.7" width="22.3" height="21.6" fill="#e2352a"/><text x="1904.4" y="1291.5" font-size="11.3" text-anchor="start" fill="#111" font-weight="normal" font-style="normal" >Microglia</text><rect x="1877.3" y="1301" width="22.3" height="21.6" fill="#1fa3cb"/><text x="1904.4" y="1315.8" font-size="11.3" text-anchor="start" fill="#111" font-weight="normal" font-style="normal" >Oligodendrocytes</text><rect x="1877.3" y="1325.2" width="22.3" height="21.6" fill="#a66cc6"/><text x="1904.4" y="1340" font-size="11.3" text-anchor="start" fill="#111" font-weight="normal" font-style="normal" >OPCs</text><rect x="1877.3" y="1349.5" width="22.3" height="21.6" fill="#ea6fb0"/><text x="1904.4" y="1364.3" font-size="11.3" text-anchor="start" fill="#111" font-weight="normal" font-style="normal" >VLMC/Pericytes</text><text x="1876.5" y="1400" font-size="15.3" text-anchor="start" fill="#111" font-weight="normal" font-style="normal" >Diagnosis</text><rect x="1877.3" y="1408.4" width="22.3" height="21.6" fill="#d60b0b"/><text x="1905.6" y="1423.2" font-size="11.3" text-anchor="start" fill="#111" font-weight="normal" font-style="normal" >sEOAD</text><rect x="1877.3" y="1432.9" width="22.3" height="21.6" fill="#0d5b86"/><text x="1905.6" y="1447.7" font-size="11.3" text-anchor="start" fill="#111" font-weight="normal" font-style="normal" >Control</text>
</svg>
</body></html>
